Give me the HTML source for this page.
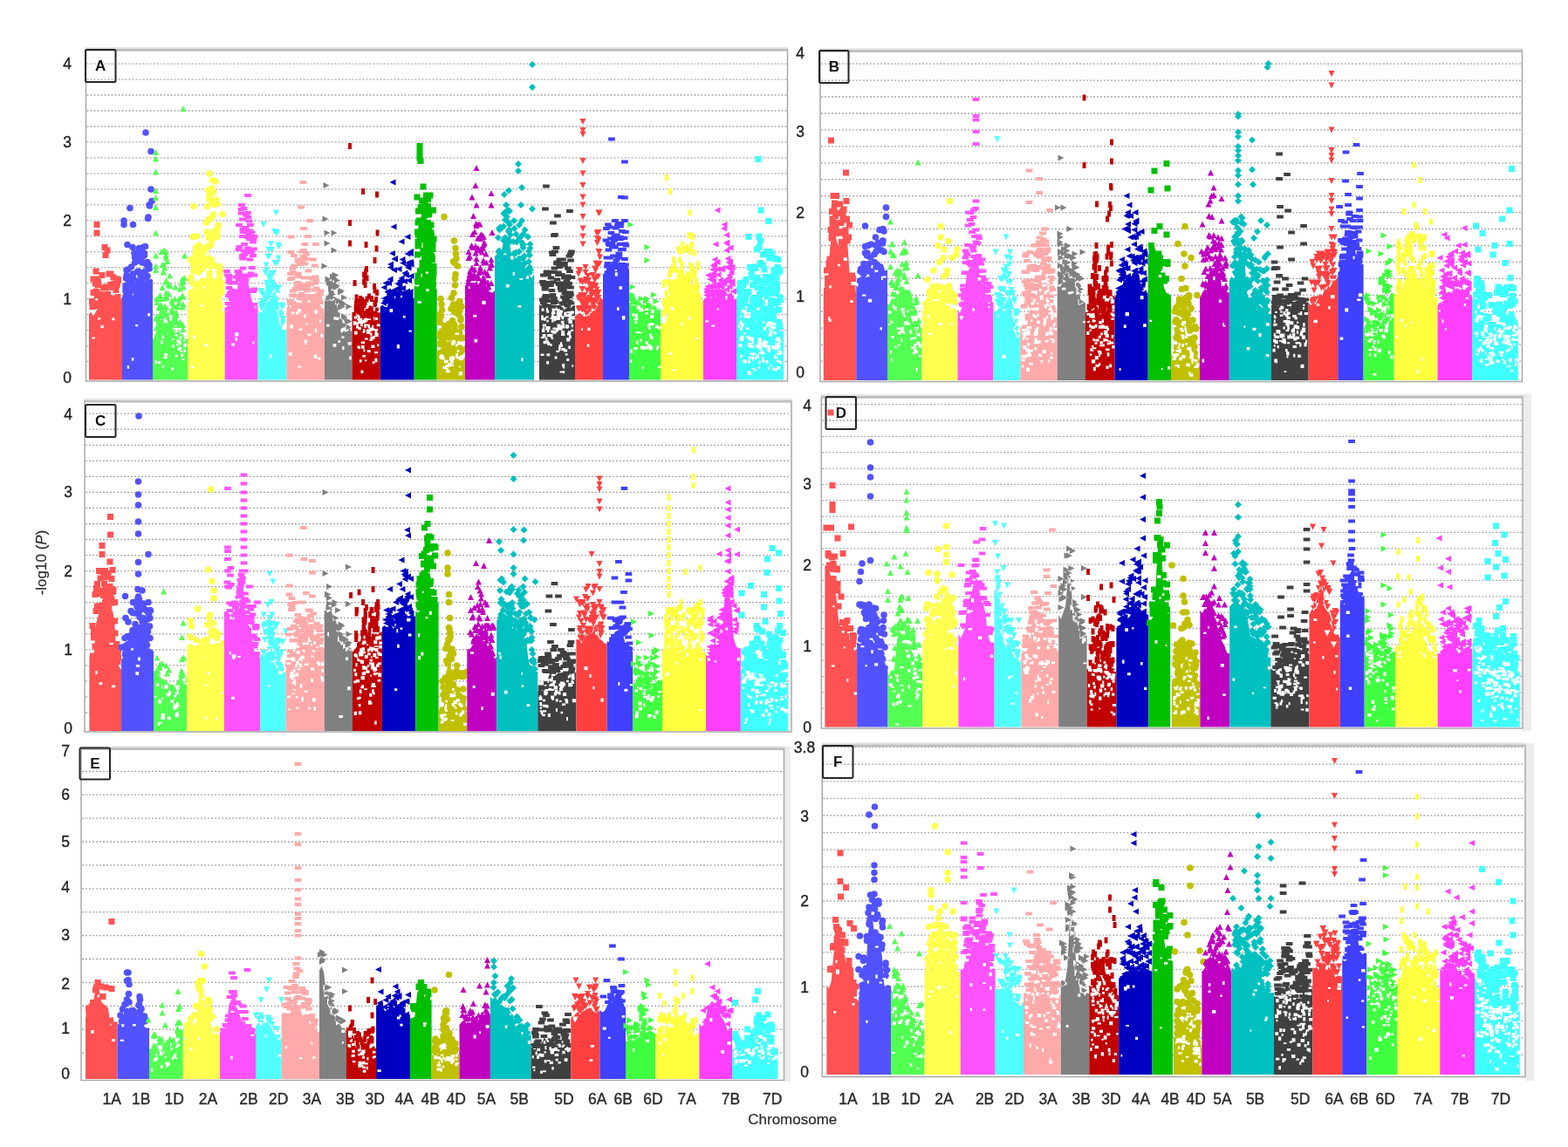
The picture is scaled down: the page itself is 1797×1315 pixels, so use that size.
<!DOCTYPE html>
<html><head><meta charset="utf-8"><title>Manhattan plots</title>
<style>
html,body{margin:0;padding:0;background:#fff;}
body{width:1797px;height:1315px;overflow:hidden;}
svg{display:block;}
.tk{font-family:"Liberation Sans",Arial,sans-serif;font-size:17.5px;fill:#222;stroke:#222;stroke-width:0.35px;text-anchor:middle;}
.bl{font-family:"Liberation Sans",Arial,sans-serif;font-size:17px;font-weight:bold;fill:#111;text-anchor:middle;}
.xl{font-family:"Liberation Sans",Arial,sans-serif;font-size:17.5px;fill:#2a2a2a;stroke:#2a2a2a;stroke-width:0.35px;text-anchor:middle;}
.ax{font-family:"Liberation Sans",Arial,sans-serif;font-size:17px;fill:#2a2a2a;stroke:#2a2a2a;stroke-width:0.2px;text-anchor:middle;}
</style></head><body>
<svg width="1797" height="1315" viewBox="0 0 1797 1315">
<rect x="98.5" y="57" width="804" height="380" fill="#fff"/>
<path d="M99.5 414.5H901.5M99.5 396.6H901.5M99.5 378.6H901.5M99.5 360.6H901.5M99.5 342.6H901.5M99.5 324.7H901.5M99.5 306.7H901.5M99.5 288.7H901.5M99.5 270.8H901.5M99.5 252.8H901.5M99.5 234.8H901.5M99.5 216.9H901.5M99.5 198.9H901.5M99.5 180.9H901.5M99.5 162.9H901.5M99.5 145H901.5M99.5 127H901.5M99.5 109H901.5M99.5 91.1H901.5M99.5 73.1H901.5" stroke="#a8a8a8" stroke-width="1.3" stroke-dasharray="2 2" fill="none"/>
<path d="M102 435.5L102 360.1L104.5 357.7L107.1 362.4L109.6 357.8L112.1 353.2L114.7 350.7L117.2 352.1L119.7 350L122.3 350.8L124.8 352.9L127.3 352.7L129.9 348.7L132.4 344.9L134.9 342L137.5 345.4L140 340.2L140 435.5ZM115 334.5h7v7h-7zM106.5 330.5h7v7h-7zM108 346h7v7h-7zM102.5 348h7v7h-7zM132 317.5h7v7h-7zM125 348h7v7h-7zM131 320.5h7v7h-7zM126 344.5h7v7h-7zM105 344.5h7v7h-7zM129.5 329h7v7h-7zM125 343.5h7v7h-7zM118 325.5h7v7h-7zM127.5 322h7v7h-7zM109 319.5h7v7h-7zM108.5 323h7v7h-7zM119 346h7v7h-7zM120 334h7v7h-7zM131.5 339h7v7h-7zM107 316.5h7v7h-7zM128 340h7v7h-7zM109 334.5h7v7h-7zM107 347h7v7h-7zM103.5 332h7v7h-7zM104.5 316.5h7v7h-7zM130.5 323h7v7h-7zM126 338.5h7v7h-7zM123 323h7v7h-7zM117 348h7v7h-7zM121.5 341.5h7v7h-7zM121 338h7v7h-7zM131.5 337h7v7h-7zM126 326h7v7h-7zM119.5 348.5h7v7h-7zM107 317.5h7v7h-7zM109 347h7v7h-7zM111 334h7v7h-7zM118 349.5h7v7h-7zM102 342h7v7h-7zM107.5 335h7v7h-7zM127 345.5h7v7h-7zM117.5 338.5h7v7h-7zM126.5 314.5h7v7h-7zM115 343.5h7v7h-7zM129 340.5h7v7h-7zM112 338.5h7v7h-7zM107.5 332h7v7h-7zM118 344h7v7h-7zM115 326.5h7v7h-7zM112 347.5h7v7h-7zM116.5 345h7v7h-7zM121.5 345.5h7v7h-7zM106 321.5h7v7h-7zM112 342h7v7h-7zM118.5 326.5h7v7h-7zM103.5 316.5h7v7h-7zM113.5 312h7v7h-7zM121.5 310.5h7v7h-7zM131.5 316.5h7v7h-7zM107.5 254h7v7h-7zM107.5 263.5h7v7h-7zM116.5 280h7v7h-7zM119.5 283.5h7v7h-7zM117.5 289h7v7h-7zM106.5 307.5h7v7h-7zM123.5 310.5h7v7h-7z" fill="#ff5252"/>
<path d="M115.4 372.8h3.3v3.5h-3.3zM105.3 386.5h3.7v1.9h-3.7zM128.4 364.3h2.9v3h-2.9zM112 364.1h3.1v2.5h-3.1z" fill="#fff"/>
<path d="M140 435.5L140 339.8L142.5 341.7L145 344.9L147.5 342.2L150 337.8L152.5 338.4L155 332.4L157.5 334.8L160 332L162.5 332.4L165 328.5L167.5 320.8L170 321.5L172.5 319.7L175 320.5L175 435.5Z" fill="#5252ff"/>
<path d="M152 283.5h0M144.5 340h0M146 318h0M150 317h0M144 341.5h0M158 295h0M153 319.5h0M144.5 341.5h0M147.5 337h0M159.5 322h0M171 304h0M167.5 319h0M158.5 311h0M162 320.5h0M158 296.5h0M147.5 325h0M160 299h0M148 329h0M144 327.5h0M168 303.5h0M166.5 282.5h0M144 333.5h0M145 337h0M166 326.5h0M159.5 333h0M146.5 309h0M146 339h0M170 303.5h0M149.5 334.5h0M157.5 333.5h0M149.5 329h0M164.5 327h0M160 327h0M171.5 236h0M169.5 250.5h0M159 287.5h0M161.5 330h0M164 291h0M144 340h0M165.5 292.5h0M159 331.5h0M151 327h0M171 308h0M154 290h0M162 313h0M161.5 296.5h0M169 316.5h0M144.5 319h0M169 300.5h0M154.5 291.5h0M155.5 332h0M150.5 324h0M159.5 329.5h0M164 283.5h0M154.5 301h0M161.5 300h0M161 315.5h0M163.5 331.5h0M170 249h0M163 327.5h0M161 333.5h0M154.5 326.5h0M159 326.5h0M146 318h0M150.5 306h0M144 330.5h0M165.5 290.5h0M152.5 331.5h0M160.5 324.5h0M151.5 328h0M154.5 291.5h0M154.5 295h0M164 294h0M159.5 284.5h0M157.5 311.5h0M162 290.5h0M163 289.5h0M148 329h0M163 301h0M166.5 311h0M152.5 314h0M154.5 332.5h0M154.5 295h0M145 315.5h0M152.5 257.5h0M162 288.5h0M171 235h0M167 152h0M173 173.5h0M173 217h0M174 230.5h0M149 238.5h0M142 253h0M142 257.5h0M146 280.5h0M145 309.5h0" stroke="#5252ff" stroke-width="7.6" stroke-linecap="round" fill="none"/>
<path d="M145.8 419.1h2.2v3.6h-2.2zM169.3 358.9h2.6v3.5h-2.6zM150.8 410.2h2.5v3.4h-2.5zM155.2 372.1h2.9v2.2h-2.9z" fill="#fff"/>
<path d="M175 435.5L175 389.2L177.5 386.8L180 388.7L182.5 382.6L185 364.8L187.5 358.8L190 349.4L192.5 356.1L195 370.7L197.5 379.9L200 381.5L202.5 386.6L205 384.6L207.5 387L210 387.5L212.5 389.5L215 388.1L215 435.5ZM189 348l3.5 7h-7zM184.5 373.5l3.5 7h-7zM202 354.5l3.5 7h-7zM203.5 348l3.5 7h-7zM182.5 377.5l3.5 7h-7zM200 379.5l3.5 7h-7zM189.5 319.5l3.5 7h-7zM200 359l3.5 7h-7zM210 319.5l3.5 7h-7zM188.5 338.5l3.5 7h-7zM179 381.5l3.5 7h-7zM193 322l3.5 7h-7zM186.5 354l3.5 7h-7zM201 355.5l3.5 7h-7zM195 367l3.5 7h-7zM185 365.5l3.5 7h-7zM206.5 327.5l3.5 7h-7zM180 343l3.5 7h-7zM208.5 336.5l3.5 7h-7zM186 300l3.5 7h-7zM205 379l3.5 7h-7zM179.5 372.5l3.5 7h-7zM197.5 375l3.5 7h-7zM210 345.5l3.5 7h-7zM195.5 354l3.5 7h-7zM182 348.5l3.5 7h-7zM203 380l3.5 7h-7zM205 369l3.5 7h-7zM209.5 369l3.5 7h-7zM185.5 352l3.5 7h-7zM189.5 348l3.5 7h-7zM184 358.5l3.5 7h-7zM196.5 353.5l3.5 7h-7zM183 377.5l3.5 7h-7zM183.5 335l3.5 7h-7zM183 349.5l3.5 7h-7zM197 351.5l3.5 7h-7zM209.5 374l3.5 7h-7zM201.5 363l3.5 7h-7zM190.5 332l3.5 7h-7zM185 356l3.5 7h-7zM209 348.5l3.5 7h-7zM184 339l3.5 7h-7zM184.5 346l3.5 7h-7zM198 344l3.5 7h-7zM192 296l3.5 7h-7zM202 366l3.5 7h-7zM182.5 371.5l3.5 7h-7zM183 358.5l3.5 7h-7zM205 343.5l3.5 7h-7zM199.5 366l3.5 7h-7zM187.5 308.5l3.5 7h-7zM200.5 356.5l3.5 7h-7zM197 341.5l3.5 7h-7zM198 369l3.5 7h-7zM191 337.5l3.5 7h-7zM188 300l3.5 7h-7zM202 358l3.5 7h-7zM193.5 333.5l3.5 7h-7zM182 363.5l3.5 7h-7zM198 365.5l3.5 7h-7zM195 324l3.5 7h-7zM208.5 382l3.5 7h-7zM209.5 335.5l3.5 7h-7zM205.5 338.5l3.5 7h-7zM185.5 354.5l3.5 7h-7zM199.5 347.5l3.5 7h-7zM182 380l3.5 7h-7zM210 325.5l3.5 7h-7zM187 308.5l3.5 7h-7zM188.5 303.5l3.5 7h-7zM179 361.5l3.5 7h-7zM186 326l3.5 7h-7zM179.5 359.5l3.5 7h-7zM182 365l3.5 7h-7zM181 370.5l3.5 7h-7zM183.5 366l3.5 7h-7zM194 323.5l3.5 7h-7zM199.5 362l3.5 7h-7zM206.5 365.5l3.5 7h-7zM183.5 348.5l3.5 7h-7zM190.5 292l3.5 7h-7zM191.5 350.5l3.5 7h-7zM190 289l3.5 7h-7zM194.5 312.5l3.5 7h-7zM190.5 318.5l3.5 7h-7zM181 377l3.5 7h-7zM182 367l3.5 7h-7zM179.5 339l3.5 7h-7zM190 285l3.5 7h-7zM200.5 339l3.5 7h-7zM209 316.5l3.5 7h-7zM178.5 171l3.5 7h-7zM178.5 178.5l3.5 7h-7zM178.5 193.5l3.5 7h-7zM178.5 215l3.5 7h-7zM178.5 223l3.5 7h-7zM178.5 234l3.5 7h-7zM178.5 263.5l3.5 7h-7zM178.5 289.5l3.5 7h-7zM178.5 301.5l3.5 7h-7zM178.5 306l3.5 7h-7zM185 285l3.5 7h-7zM188 283.5l3.5 7h-7zM211.5 289.5l3.5 7h-7zM211.5 315l3.5 7h-7zM210 121l3.5 7h-7zM201 325.5l3.5 7h-7zM208 321l3.5 7h-7z" fill="#52ff52"/>
<path d="M185.7 419h2.1v2.8h-2.1zM208.4 411.1h2.9v1.8h-2.9zM197.2 395.4h2.7v2.9h-2.7zM185.8 384.5h2.3v3.7h-2.3zM209.6 389.4h2.8v1.8h-2.8zM203.7 398.3h3.3v3.6h-3.3zM205.2 398.1h3v2.2h-3zM177.5 412.5h2.2v4.3h-2.2zM196.4 421.4h2.7v2.9h-2.7zM206 401.6h3.3v2.5h-3.3zM187.6 408.2h3.9v3.1h-3.9zM202.3 394.6h2v2.5h-2zM187.5 364.8h2.7v4.4h-2.7zM204.7 391.7h3.2v3.7h-3.2zM188.2 404.9h4.1v3h-4.1zM210.5 393.5h3.4v3h-3.4zM200.7 406.5h2.8v2.7h-2.8zM205.5 387.4h2.1v1.9h-2.1zM188.7 366.8h3v3.9h-3zM210.9 395.1h3.6v2.2h-3.6zM197.1 387.9h2.3v1.9h-2.3zM200.4 383.3h3.5v2.3h-3.5zM207.3 405.3h2.7v4h-2.7zM204.6 385.8h4.2v1.8h-4.2zM184.2 390.1h2.4v4.1h-2.4zM202.5 389.5h4.3v3.7h-4.3zM210.7 400.6h2.2v3.2h-2.2zM210.2 396.4h2.7v2.1h-2.7zM180.8 414.3h3.7v2.7h-3.7zM191.6 355.6h2.7v3.6h-2.7z" fill="#fff"/>
<path d="M215 435.5L215 350.7L217.5 350.9L220 350.6L222.5 348L225 345.1L227.6 347.3L230.1 344L232.6 340.4L235.1 335L237.6 302.1L240.1 288.3L242.6 300.2L245.1 335.8L247.7 343.4L250.2 346.6L252.7 356L255.2 357.6L257.7 354.7L257.7 435.5Z" fill="#ffff4f"/>
<path d="M247.5 233h0M249.5 262h0M242 297.5h0M231.5 308.5h0M227 345h0M239.5 228h0M254 335.5h0M234.5 334.5h0M243 216h0M237 266h0M222 338h0M239.5 224.5h0M230 298h0M239.5 251.5h0M225.5 301h0M223.5 326.5h0M250 258h0M252 349h0M251 331.5h0M224.5 284h0M252.5 309.5h0M231.5 336h0M251.5 319.5h0M251.5 318.5h0M253.5 332.5h0M248 229h0M234 287h0M233.5 288h0M238 253h0M219 339.5h0M228.5 346h0M229.5 335h0M222.5 338h0M249 331.5h0M243.5 206.5h0M219 318h0M223.5 341.5h0M229.5 290.5h0M250 342h0M246.5 337h0M231.5 286.5h0M250 341h0M238.5 268.5h0M242.5 220h0M238.5 218h0M250.5 338.5h0M220.5 345h0M236.5 255.5h0M249 269h0M242 250h0M242 270.5h0M242 222.5h0M249 271.5h0M242.5 298.5h0M230 324h0M229.5 337.5h0M232 300h0M228 281h0M218.5 335.5h0M244.5 246h0M219 349h0M221 324.5h0M222 334h0M228.5 343h0M232 325.5h0M239 272.5h0M221 338.5h0M243.5 304h0M237 301h0M249.5 333.5h0M237.5 296.5h0M238 236.5h0M251 311.5h0M250.5 346.5h0M247.5 341h0M249.5 233.5h0M244 268h0M244.5 328h0M249.5 341.5h0M227 335h0M243 275.5h0M232.5 322h0M245.5 234.5h0M248.5 324h0M220.5 349h0M222.5 301.5h0M221.5 310.5h0M218.5 320h0M227.5 307h0M245.5 265h0M221 350.5h0M232 295h0M235 323h0M235.5 284.5h0M226 343h0M251.5 336h0M234.5 324h0M227 287h0M247 323h0M244.5 220h0M233.5 285.5h0M221.5 303.5h0M249 327.5h0M228.5 334.5h0M223.5 294.5h0M243.5 231h0M241.5 281h0M221.5 341.5h0M246.5 340.5h0M237.5 282.5h0M229 330.5h0M239.5 282.5h0M224 289h0M245.5 304.5h0M227.5 312h0M252 316h0M234.5 304.5h0M231.5 308h0M237 301.5h0M242.5 218.5h0M236 324h0M229.5 338h0M248.5 265h0M229 332.5h0M223 325.5h0M253.5 329h0M252 352h0M251.5 305.5h0M218.5 297.5h0M225.5 271h0M233 288.5h0M240 199h0M247 208h0M254 324.5h0M222 236.5h0M255 245.5h0M221 271.5h0" stroke="#ffff4f" stroke-width="7.6" stroke-linecap="round" fill="none"/>
<path d="M229.3 349h3.4v2.7h-3.4zM219.2 419.4h3.7v2.6h-3.7zM221.1 384.4h3v4.1h-3zM234.4 394h4v3.6h-4zM237.1 307.5h2.9v2.8h-2.9z" fill="#fff"/>
<path d="M257.7 435.5L257.7 353.5L260.2 357.3L262.7 356.4L265.3 355.7L267.8 349.1L270.3 347.5L272.8 326.1L275.3 318.8L277.9 313.9L280.4 323.9L282.9 321L285.4 328.2L287.9 342.4L290.5 348.5L293 353.7L295.5 349.9L295.5 435.5ZM265.6 334.6h7.7v3.9h-7.7zM274.1 269.1h7.7v3.9h-7.7zM260.1 333.6h7.7v3.9h-7.7zM277.6 319.1h7.7v3.9h-7.7zM287.1 283.6h7.7v3.9h-7.7zM281.6 268.1h7.7v3.9h-7.7zM272.6 242.6h7.7v3.9h-7.7zM262.1 331.1h7.7v3.9h-7.7zM287.6 347.1h7.7v3.9h-7.7zM277.1 242.6h7.7v3.9h-7.7zM261.6 337.6h7.7v3.9h-7.7zM285.1 331.1h7.7v3.9h-7.7zM263.6 332.6h7.7v3.9h-7.7zM281.6 251.6h7.7v3.9h-7.7zM277.6 319.6h7.7v3.9h-7.7zM282.6 313.6h7.7v3.9h-7.7zM274.6 264.1h7.7v3.9h-7.7zM287.6 313.6h7.7v3.9h-7.7zM261.6 339.1h7.7v3.9h-7.7zM274.6 260.6h7.7v3.9h-7.7zM263.1 337.6h7.7v3.9h-7.7zM258.6 315.6h7.7v3.9h-7.7zM258.1 337.1h7.7v3.9h-7.7zM262.6 345.6h7.7v3.9h-7.7zM269.6 312.6h7.7v3.9h-7.7zM265.1 343.6h7.7v3.9h-7.7zM272.6 238.1h7.7v3.9h-7.7zM263.6 347.6h7.7v3.9h-7.7zM258.6 319.1h7.7v3.9h-7.7zM281.6 263.1h7.7v3.9h-7.7zM262.1 341.1h7.7v3.9h-7.7zM278.1 287.6h7.7v3.9h-7.7zM280.1 314.1h7.7v3.9h-7.7zM285.1 305.1h7.7v3.9h-7.7zM276.1 278.1h7.7v3.9h-7.7zM271.1 318.6h7.7v3.9h-7.7zM262.1 340.1h7.7v3.9h-7.7zM259.6 335.1h7.7v3.9h-7.7zM263.1 333.1h7.7v3.9h-7.7zM269.6 284.1h7.7v3.9h-7.7zM265.6 347.6h7.7v3.9h-7.7zM277.6 259.1h7.7v3.9h-7.7zM263.6 350.1h7.7v3.9h-7.7zM284.1 287.1h7.7v3.9h-7.7zM281.1 266.1h7.7v3.9h-7.7zM270.1 256.1h7.7v3.9h-7.7zM282.1 272.1h7.7v3.9h-7.7zM286.1 275.6h7.7v3.9h-7.7zM274.6 313.6h7.7v3.9h-7.7zM275.6 285.6h7.7v3.9h-7.7zM257.6 346.1h7.7v3.9h-7.7zM282.6 285.6h7.7v3.9h-7.7zM286.1 291.1h7.7v3.9h-7.7zM263.1 332.1h7.7v3.9h-7.7zM258.6 321.6h7.7v3.9h-7.7zM266.6 315.6h7.7v3.9h-7.7zM258.6 328.1h7.7v3.9h-7.7zM260.6 322.6h7.7v3.9h-7.7zM282.6 295.6h7.7v3.9h-7.7zM274.6 305.6h7.7v3.9h-7.7zM268.6 337.1h7.7v3.9h-7.7zM269.6 319.1h7.7v3.9h-7.7zM276.6 290.1h7.7v3.9h-7.7zM268.1 331.6h7.7v3.9h-7.7zM286.6 272.1h7.7v3.9h-7.7zM287.6 329.6h7.7v3.9h-7.7zM259.6 350.6h7.7v3.9h-7.7zM283.6 311.6h7.7v3.9h-7.7zM261.6 322.1h7.7v3.9h-7.7zM264.1 337.6h7.7v3.9h-7.7zM270.1 317.1h7.7v3.9h-7.7zM268.6 309.1h7.7v3.9h-7.7zM274.1 249.6h7.7v3.9h-7.7zM257.6 352.6h7.7v3.9h-7.7zM270.6 281.1h7.7v3.9h-7.7zM270.1 310.1h7.7v3.9h-7.7zM282.6 262.6h7.7v3.9h-7.7zM277.1 316.1h7.7v3.9h-7.7zM280.1 282.6h7.7v3.9h-7.7zM280.1 270.1h7.7v3.9h-7.7zM274.6 294.1h7.7v3.9h-7.7zM283.1 256.1h7.7v3.9h-7.7zM286.6 332.1h7.7v3.9h-7.7zM263.6 347.6h7.7v3.9h-7.7zM278.1 244.6h7.7v3.9h-7.7zM264.6 341.1h7.7v3.9h-7.7zM274.1 291.1h7.7v3.9h-7.7zM274.1 294.6h7.7v3.9h-7.7zM275.6 237.1h7.7v3.9h-7.7zM280.6 247.1h7.7v3.9h-7.7zM270.1 315.6h7.7v3.9h-7.7zM263.6 346.6h7.7v3.9h-7.7zM281.1 314.6h7.7v3.9h-7.7zM274.6 242.6h7.7v3.9h-7.7zM270.1 311.1h7.7v3.9h-7.7zM284.6 264.6h7.7v3.9h-7.7zM257.1 313.6h7.7v3.9h-7.7zM265.1 322.6h7.7v3.9h-7.7zM273.1 233.1h7.7v3.9h-7.7zM280.1 242.1h7.7v3.9h-7.7zM287.6 269.1h7.7v3.9h-7.7zM280.1 222.1h7.7v3.9h-7.7zM258.1 313.6h7.7v3.9h-7.7zM256.1 309.1h7.7v3.9h-7.7z" fill="#ff52ff"/>
<path d="M265.2 393.4h3.9v3h-3.9zM269.2 380.9h4.2v4.5h-4.2zM269.5 387.1h2.5v3.9h-2.5zM289.4 391.6h2.1v2.7h-2.1z" fill="#fff"/>
<path d="M295.5 435.5L295.5 358.1L298 358.2L300.6 357.9L303.1 352.2L305.7 342.1L308.2 339.7L310.7 342.6L313.3 334.8L315.8 331.9L318.3 339.6L320.9 364.8L323.4 378L326 378.2L328.5 378.6L328.5 435.5ZM312.5 327.5l3.5 -7h-7zM323.5 353.5l3.5 -7h-7zM317.5 305l3.5 -7h-7zM318 340.5l3.5 -7h-7zM308.5 297.5l3.5 -7h-7zM319.5 333.5l3.5 -7h-7zM309 341.5l3.5 -7h-7zM299 338.5l3.5 -7h-7zM304 316l3.5 -7h-7zM303.5 345l3.5 -7h-7zM313 331.5l3.5 -7h-7zM306.5 344.5l3.5 -7h-7zM299 354l3.5 -7h-7zM321 365.5l3.5 -7h-7zM310.5 327.5l3.5 -7h-7zM312.5 330.5l3.5 -7h-7zM300 354l3.5 -7h-7zM324.5 369.5l3.5 -7h-7zM311 333l3.5 -7h-7zM317.5 336.5l3.5 -7h-7zM315 305l3.5 -7h-7zM301 349l3.5 -7h-7zM308 346l3.5 -7h-7zM310.5 337.5l3.5 -7h-7zM302 341l3.5 -7h-7zM313.5 316.5l3.5 -7h-7zM317.5 271l3.5 -7h-7zM308.5 322l3.5 -7h-7zM322 369l3.5 -7h-7zM310.5 321l3.5 -7h-7zM308.5 320l3.5 -7h-7zM319.5 286.5l3.5 -7h-7zM309.5 334.5l3.5 -7h-7zM319 299.5l3.5 -7h-7zM306 331l3.5 -7h-7zM305.5 328l3.5 -7h-7zM304.5 348.5l3.5 -7h-7zM306 346.5l3.5 -7h-7zM307 336l3.5 -7h-7zM307 297.5l3.5 -7h-7zM319 334.5l3.5 -7h-7zM322.5 363.5l3.5 -7h-7zM299.5 352l3.5 -7h-7zM301 354l3.5 -7h-7zM324 369l3.5 -7h-7zM324.5 373.5l3.5 -7h-7zM307.5 339l3.5 -7h-7zM305.5 313.5l3.5 -7h-7zM314.5 269l3.5 -7h-7zM311.5 290l3.5 -7h-7zM322.5 374.5l3.5 -7h-7zM316.5 335.5l3.5 -7h-7zM308 342.5l3.5 -7h-7zM315.5 333l3.5 -7h-7zM301.5 340.5l3.5 -7h-7zM316.5 269.5l3.5 -7h-7zM322.5 354.5l3.5 -7h-7zM320.5 362l3.5 -7h-7zM311 317l3.5 -7h-7zM309.5 325l3.5 -7h-7zM311.5 318l3.5 -7h-7zM300 357.5l3.5 -7h-7zM319 284.5l3.5 -7h-7zM304.5 347.5l3.5 -7h-7zM305 307.5l3.5 -7h-7zM310.5 283l3.5 -7h-7zM299.5 337l3.5 -7h-7zM307.5 289.5l3.5 -7h-7zM316.5 247.5l3.5 -7h-7zM324 355l3.5 -7h-7zM302 261l3.5 -7h-7z" fill="#52ffff"/>
<path d="M316.7 335.7h3.8v4h-3.8zM308.8 406.5h2.4v4.1h-2.4zM319.4 363.8h2.3v3.1h-2.3z" fill="#fff"/>
<path d="M328.5 435.5L328.5 353.5L331.1 349.3L333.6 354.1L336.2 349.1L338.7 353L341.3 348.7L343.9 352.3L346.4 343.9L349 343.8L351.5 340.7L354.1 346L356.6 353.2L359.2 350.6L361.8 355.4L364.3 356.5L366.9 357.4L369.4 361.6L372 359.2L372 435.5ZM330.6 345.1h7.7v3.9h-7.7zM339.6 326.6h7.7v3.9h-7.7zM337.1 346.6h7.7v3.9h-7.7zM332.1 331.6h7.7v3.9h-7.7zM330.6 317.1h7.7v3.9h-7.7zM329.1 318.1h7.7v3.9h-7.7zM339.6 348.1h7.7v3.9h-7.7zM329.1 312.1h7.7v3.9h-7.7zM354.1 344.1h7.7v3.9h-7.7zM349.1 340.6h7.7v3.9h-7.7zM345.1 294.6h7.7v3.9h-7.7zM335.1 329.6h7.7v3.9h-7.7zM361.1 352.1h7.7v3.9h-7.7zM356.6 349.1h7.7v3.9h-7.7zM338.1 311.6h7.7v3.9h-7.7zM359.6 350.1h7.7v3.9h-7.7zM343.1 329.6h7.7v3.9h-7.7zM335.1 337.6h7.7v3.9h-7.7zM358.6 330.6h7.7v3.9h-7.7zM359.1 330.6h7.7v3.9h-7.7zM352.6 324.1h7.7v3.9h-7.7zM335.6 328.6h7.7v3.9h-7.7zM340.6 340.6h7.7v3.9h-7.7zM339.6 299.6h7.7v3.9h-7.7zM363.1 331.6h7.7v3.9h-7.7zM348.1 331.6h7.7v3.9h-7.7zM341.6 337.1h7.7v3.9h-7.7zM363.1 335.6h7.7v3.9h-7.7zM356.6 330.6h7.7v3.9h-7.7zM345.6 300.6h7.7v3.9h-7.7zM360.6 336.1h7.7v3.9h-7.7zM362.6 343.6h7.7v3.9h-7.7zM358.6 328.6h7.7v3.9h-7.7zM348.1 295.1h7.7v3.9h-7.7zM344.6 293.1h7.7v3.9h-7.7zM337.6 297.6h7.7v3.9h-7.7zM354.6 344.1h7.7v3.9h-7.7zM353.1 338.6h7.7v3.9h-7.7zM331.6 345.1h7.7v3.9h-7.7zM344.1 285.1h7.7v3.9h-7.7zM336.6 326.1h7.7v3.9h-7.7zM344.1 337.1h7.7v3.9h-7.7zM353.6 338.6h7.7v3.9h-7.7zM329.6 287.1h7.7v3.9h-7.7zM356.1 349.6h7.7v3.9h-7.7zM344.6 329.1h7.7v3.9h-7.7zM352.1 337.1h7.7v3.9h-7.7zM353.6 348.1h7.7v3.9h-7.7zM361.1 340.1h7.7v3.9h-7.7zM342.6 297.1h7.7v3.9h-7.7zM355.1 339.1h7.7v3.9h-7.7zM331.6 309.6h7.7v3.9h-7.7zM343.6 292.1h7.7v3.9h-7.7zM333.6 302.6h7.7v3.9h-7.7zM359.1 347.1h7.7v3.9h-7.7zM337.6 322.1h7.7v3.9h-7.7zM338.6 329.6h7.7v3.9h-7.7zM347.6 324.6h7.7v3.9h-7.7zM332.6 337.1h7.7v3.9h-7.7zM357.6 315.6h7.7v3.9h-7.7zM331.6 305.1h7.7v3.9h-7.7zM360.1 339.6h7.7v3.9h-7.7zM363.1 345.1h7.7v3.9h-7.7zM345.1 324.1h7.7v3.9h-7.7zM349.6 308.6h7.7v3.9h-7.7zM364.1 356.6h7.7v3.9h-7.7zM340.1 301.1h7.7v3.9h-7.7zM353.1 338.1h7.7v3.9h-7.7zM348.6 341.1h7.7v3.9h-7.7zM333.6 349.1h7.7v3.9h-7.7zM359.1 349.1h7.7v3.9h-7.7zM341.6 335.1h7.7v3.9h-7.7zM353.6 347.6h7.7v3.9h-7.7zM328.6 343.1h7.7v3.9h-7.7zM348.6 328.1h7.7v3.9h-7.7zM331.1 336.6h7.7v3.9h-7.7zM337.6 315.1h7.7v3.9h-7.7zM354.1 349.1h7.7v3.9h-7.7zM358.6 350.1h7.7v3.9h-7.7zM342.6 324.6h7.7v3.9h-7.7zM329.1 346.1h7.7v3.9h-7.7zM355.1 318.1h7.7v3.9h-7.7zM357.1 302.6h7.7v3.9h-7.7zM360.6 350.6h7.7v3.9h-7.7zM352.1 316.6h7.7v3.9h-7.7zM336.6 311.6h7.7v3.9h-7.7zM361.1 342.1h7.7v3.9h-7.7zM356.6 342.1h7.7v3.9h-7.7zM359.1 342.1h7.7v3.9h-7.7zM339.1 324.1h7.7v3.9h-7.7zM350.6 322.6h7.7v3.9h-7.7zM358.6 319.6h7.7v3.9h-7.7zM347.1 289.1h7.7v3.9h-7.7zM342.6 326.6h7.7v3.9h-7.7zM364.1 353.6h7.7v3.9h-7.7zM333.1 291.1h7.7v3.9h-7.7zM353.1 337.6h7.7v3.9h-7.7zM357.6 322.6h7.7v3.9h-7.7zM344.6 316.6h7.7v3.9h-7.7zM329.6 269.6h7.7v3.9h-7.7zM337.6 295.6h7.7v3.9h-7.7zM345.6 278.1h7.7v3.9h-7.7zM355.1 295.6h7.7v3.9h-7.7zM363.6 331.6h7.7v3.9h-7.7zM343.6 207.1h7.7v3.9h-7.7zM341.1 235.6h7.7v3.9h-7.7zM351.1 251.1h7.7v3.9h-7.7zM344.1 260.1h7.7v3.9h-7.7zM349.1 269.1h7.7v3.9h-7.7zM358.1 278.1h7.7v3.9h-7.7zM342.1 286.6h7.7v3.9h-7.7z" fill="#ffaaaa"/>
<path d="M367.4 382.8h2.9v3.9h-2.9zM359.7 406.7h3.6v4.3h-3.6zM352.4 382.8h4.3v2h-4.3zM348.8 389.6h3.3v2.9h-3.3zM364.3 409.8h3.1v2.6h-3.1zM333.8 357.6h3.6v2.7h-3.6zM350.5 370h2v2.7h-2zM330.8 403.9h4.1v3.9h-4.1zM341.2 419.4h4.2v2h-4.2zM339.1 357.4h3.4v3h-3.4zM360.3 355.5h3.4v4.3h-3.4zM332.2 372.3h3.7v4.1h-3.7zM348.3 360.6h2.6v3.8h-2.6zM352.4 344.4h3.2v2.3h-3.2zM360.8 376.8h2.2v4.4h-2.2zM349.1 392.6h2.3v2.5h-2.3zM366.1 366.2h1.9v3.7h-1.9zM342.5 376.4h3.8v2.6h-3.8zM341 354.2h3.9v4h-3.9z" fill="#fff"/>
<path d="M372 435.5L372 344.1L374.6 345.4L377.2 344.2L379.9 344.1L382.5 341.4L385.1 345.7L387.8 357.9L390.4 359.2L393 363.7L395.6 371.3L398.2 376.6L400.9 378.8L403.5 380L403.5 435.5ZM385 317l-7 -3.5v7zM391 346l-7 -3.5v7zM399.5 367.5l-7 -3.5v7zM402.5 377.5l-7 -3.5v7zM397.5 348.5l-7 -3.5v7zM396.5 362l-7 -3.5v7zM391.5 345l-7 -3.5v7zM386.5 342l-7 -3.5v7zM394 352.5l-7 -3.5v7zM403 375l-7 -3.5v7zM388.5 329.5l-7 -3.5v7zM382.5 341l-7 -3.5v7zM381 324.5l-7 -3.5v7zM398.5 363.5l-7 -3.5v7zM386 328l-7 -3.5v7zM380.5 342l-7 -3.5v7zM383.5 324.5l-7 -3.5v7zM385 325l-7 -3.5v7zM383 330l-7 -3.5v7zM395.5 346.5l-7 -3.5v7zM383.5 334.5l-7 -3.5v7zM385 337.5l-7 -3.5v7zM387 319l-7 -3.5v7zM383.5 335.5l-7 -3.5v7zM398 364l-7 -3.5v7zM398 341l-7 -3.5v7zM394 335l-7 -3.5v7zM390 327.5l-7 -3.5v7zM403.5 368.5l-7 -3.5v7zM390 321.5l-7 -3.5v7zM396 351.5l-7 -3.5v7zM388.5 327.5l-7 -3.5v7zM403 368l-7 -3.5v7zM379.5 320l-7 -3.5v7zM387.5 315.5l-7 -3.5v7zM395 333.5l-7 -3.5v7zM403.5 351.5l-7 -3.5v7zM377.5 212.5l-7 -3.5v7zM376.5 251l-7 -3.5v7zM378.5 267l-7 -3.5v7zM386.5 267l-7 -3.5v7zM378.5 279l-7 -3.5v7zM386.5 287l-7 -3.5v7zM375.5 305l-7 -3.5v7zM388.5 315.5l-7 -3.5v7z" fill="#808080"/>
<path d="M392.9 375.6h3.7v4h-3.7zM384.9 363.8h2.5v3.3h-2.5zM390.9 376.2h2.3v2.6h-2.3zM374.1 371.7h3.4v2.8h-3.4zM391.4 385.5h3.1v2.3h-3.1zM387.6 390h2.4v3h-2.4zM390.5 378h2.4v3.3h-2.4zM392.3 397.1h2.1v4.1h-2.1zM382.4 363.2h3.1v3.2h-3.1zM381.6 394.1h3.7v3.6h-3.7zM398.7 392.3h4.1v3.2h-4.1zM400.2 408.4h2.6v3.9h-2.6zM384.6 363.9h4.2v2.4h-4.2z" fill="#fff"/>
<path d="M403.5 435.5L403.5 358L406.2 357.7L408.9 362.2L411.6 367.1L414.3 363.1L417 361.8L419.6 360.2L422.3 362.8L425 370.6L427.7 369.9L430.4 359.3L433.1 356L435.8 358.6L435.8 435.5ZM412.6 350h3.9v7h-3.9zM421.6 359h3.9v7h-3.9zM424.1 359h3.9v7h-3.9zM406.6 337.5h3.9v7h-3.9zM427.6 295h3.9v7h-3.9zM430.1 352.5h3.9v7h-3.9zM429.6 281.5h3.9v7h-3.9zM427.6 356.5h3.9v7h-3.9zM422.1 360.5h3.9v7h-3.9zM428.1 344h3.9v7h-3.9zM406.6 342h3.9v7h-3.9zM422.6 350.5h3.9v7h-3.9zM415.6 356.5h3.9v7h-3.9zM423.6 365.5h3.9v7h-3.9zM419.6 356h3.9v7h-3.9zM416.6 323h3.9v7h-3.9zM411.1 346.5h3.9v7h-3.9zM411.6 342h3.9v7h-3.9zM415.1 319.5h3.9v7h-3.9zM416.6 343h3.9v7h-3.9zM407.6 342h3.9v7h-3.9zM406.6 346h3.9v7h-3.9zM415.6 346h3.9v7h-3.9zM411.6 353h3.9v7h-3.9zM427.6 329.5h3.9v7h-3.9zM413.1 346h3.9v7h-3.9zM421.1 336.5h3.9v7h-3.9zM421.1 358.5h3.9v7h-3.9zM408.6 342h3.9v7h-3.9zM411.6 350h3.9v7h-3.9zM406.6 342h3.9v7h-3.9zM412.6 361h3.9v7h-3.9zM405.6 352.5h3.9v7h-3.9zM418.1 305h3.9v7h-3.9zM406.1 344h3.9v7h-3.9zM413.6 343.5h3.9v7h-3.9zM422.6 364h3.9v7h-3.9zM411.6 343h3.9v7h-3.9zM422.1 361h3.9v7h-3.9zM418.6 339.5h3.9v7h-3.9zM409.1 353.5h3.9v7h-3.9zM418.6 315.5h3.9v7h-3.9zM427.6 345h3.9v7h-3.9zM430.1 332h3.9v7h-3.9zM421.6 353h3.9v7h-3.9zM416.6 314.5h3.9v7h-3.9zM424.1 365h3.9v7h-3.9zM405.6 349.5h3.9v7h-3.9zM413.1 350.5h3.9v7h-3.9zM429.1 340h3.9v7h-3.9zM411.1 354.5h3.9v7h-3.9zM413.6 351h3.9v7h-3.9zM418.6 354h3.9v7h-3.9zM424.1 352h3.9v7h-3.9zM424.1 357.5h3.9v7h-3.9zM409.6 344.5h3.9v7h-3.9zM427.1 325h3.9v7h-3.9zM423.6 363.5h3.9v7h-3.9zM412.6 344h3.9v7h-3.9zM406.1 352h3.9v7h-3.9zM415.1 311.5h3.9v7h-3.9zM405.6 352h3.9v7h-3.9zM421.1 363.5h3.9v7h-3.9zM413.1 340.5h3.9v7h-3.9zM417.1 308h3.9v7h-3.9zM411.1 347.5h3.9v7h-3.9zM409.1 347.5h3.9v7h-3.9zM404.6 321h3.9v7h-3.9zM411.1 339h3.9v7h-3.9zM417.6 277h3.9v7h-3.9zM424.1 339h3.9v7h-3.9zM430.6 263.5h3.9v7h-3.9zM399.1 164h3.9v7h-3.9zM399.1 252h3.9v7h-3.9zM399.1 275.5h3.9v7h-3.9zM414.1 216h3.9v7h-3.9zM430.1 219.5h3.9v7h-3.9z" fill="#c00000"/>
<path d="M426.8 414.2h2.6v2.7h-2.6zM429.5 410.7h2.9v4.5h-2.9zM407.1 362.2h2v3.3h-2zM417.2 372.8h2.6v3.1h-2.6zM429 403.1h4.2v2.1h-4.2zM409.4 396.4h3.3v2.6h-3.3zM417.8 412.5h2.6v1.8h-2.6zM408 373.4h3.3v3h-3.3zM405.2 369h2.1v3.7h-2.1zM416 368h2.1v2.7h-2.1zM405.7 362.7h3.5v2.7h-3.5zM409.1 365.2h2.8v2.1h-2.8zM417.8 387.4h4v2h-4zM426.2 372.8h2v3.6h-2zM425 376.2h4.1v3.1h-4.1zM422.8 378h3v2.2h-3zM419.9 378.8h2.7v3.8h-2.7zM429.6 378.9h2.8v3.2h-2.8zM425.4 395.5h4v3.6h-4zM424.4 381.6h2v3.5h-2zM429 377h4.1v2.2h-4.1zM417.4 371.4h4.4v2h-4.4zM410.3 396.5h2.5v3.5h-2.5zM416.1 366.3h3.6v3.7h-3.6zM430.1 363.9h1.9v2.9h-1.9zM422.9 375.8h4.2v2.4h-4.2zM418.5 364.4h2.3v1.9h-2.3zM416.5 400.3h1.9v2.9h-1.9zM422.5 375.5h4.1v2.6h-4.1zM412.3 367.8h1.9v3.4h-1.9zM408.4 369.6h2.1v4.1h-2.1zM412.7 367.1h3.5v3.9h-3.5zM410.2 375.1h3.6v2.9h-3.6zM420.2 378.5h4.1v4.5h-4.1zM427.7 385.1h2.1v3.5h-2.1zM432 394.6h2.2v2.3h-2.2zM407 379.4h2.3v4.2h-2.3zM429.7 364.1h3.2v3h-3.2zM423.4 389.1h3.3v2h-3.3zM420 377.4h2.4v2.3h-2.4zM416.9 365h4.5v3.7h-4.5zM413.8 391.5h4.3v2.5h-4.3zM421.4 371.7h2.6v4.3h-2.6zM411.6 364.7h3.7v3.2h-3.7zM420.8 365.2h4.1v1.9h-4.1zM413.5 424.4h2.9v3.7h-2.9zM415.5 379.7h2.2v2.4h-2.2zM413.9 395.9h3.7v3.9h-3.7zM413.2 370.3h2.7v4h-2.7zM424.4 385.4h3.9v3.9h-3.9zM410.7 367.3h2.7v2h-2.7zM432.6 356.4h3.6v1.9h-3.6zM404.8 368.2h3.7v4.1h-3.7zM431.7 371.5h4v2.8h-4zM416 377.3h2.6v3.6h-2.6zM429.5 382h4.2v3.9h-4.2zM411.9 412.2h2.7v3.4h-2.7zM421 401.3h3.7v2.7h-3.7zM415.4 406.9h3.7v2.5h-3.7zM410.2 367.2h2.7v4h-2.7zM406.1 379.7h3.5v3.7h-3.5z" fill="#fff"/>
<path d="M435.8 435.5L435.8 351.4L438.4 349.7L441 351.7L443.6 352.3L446.2 343.8L448.8 343L451.4 343.6L454 341.8L456.5 343.5L459.1 342.2L461.7 340.6L464.3 342.5L466.9 340L469.5 340.1L472.1 342.2L474.7 341.7L474.7 435.5ZM437.5 345l7 -3.5v7zM455 322l7 -3.5v7zM455.5 321.5l7 -3.5v7zM466.5 336l7 -3.5v7zM452 341.5l7 -3.5v7zM460 322.5l7 -3.5v7zM466.5 340l7 -3.5v7zM453 335.5l7 -3.5v7zM449 296.5l7 -3.5v7zM443 342l7 -3.5v7zM448.5 334.5l7 -3.5v7zM460.5 313.5l7 -3.5v7zM444 306.5l7 -3.5v7zM443.5 343.5l7 -3.5v7zM441 334l7 -3.5v7zM460.5 313l7 -3.5v7zM441 340.5l7 -3.5v7zM462 315.5l7 -3.5v7zM460.5 339.5l7 -3.5v7zM461.5 338.5l7 -3.5v7zM437 342l7 -3.5v7zM456.5 319l7 -3.5v7zM451.5 338l7 -3.5v7zM454 326.5l7 -3.5v7zM436 347.5l7 -3.5v7zM448 309.5l7 -3.5v7zM467 290.5l7 -3.5v7zM454 332l7 -3.5v7zM463 304.5l7 -3.5v7zM466.5 334.5l7 -3.5v7zM467.5 316.5l7 -3.5v7zM456.5 336.5l7 -3.5v7zM465 339l7 -3.5v7zM458 301.5l7 -3.5v7zM461.5 337l7 -3.5v7zM467 300.5l7 -3.5v7zM467.5 303l7 -3.5v7zM466 336.5l7 -3.5v7zM442.5 339l7 -3.5v7zM451 338l7 -3.5v7zM464.5 301.5l7 -3.5v7zM446.5 335l7 -3.5v7zM440 346.5l7 -3.5v7zM444.5 334.5l7 -3.5v7zM458 342l7 -3.5v7zM453.5 308.5l7 -3.5v7zM443.5 320l7 -3.5v7zM444 303l7 -3.5v7zM452 331l7 -3.5v7zM465 321.5l7 -3.5v7zM448 337.5l7 -3.5v7zM439.5 344.5l7 -3.5v7zM436.5 329.5l7 -3.5v7zM464.5 301l7 -3.5v7zM451 331l7 -3.5v7zM445 340.5l7 -3.5v7zM445 334l7 -3.5v7zM452 338l7 -3.5v7zM452.5 325l7 -3.5v7zM440.5 335l7 -3.5v7zM464.5 307l7 -3.5v7zM453 336l7 -3.5v7zM458.5 336.5l7 -3.5v7zM463 334l7 -3.5v7zM442 324.5l7 -3.5v7zM442.5 337.5l7 -3.5v7zM458 330.5l7 -3.5v7zM448.5 297l7 -3.5v7zM463.5 291l7 -3.5v7zM453.5 331l7 -3.5v7zM454.5 329.5l7 -3.5v7zM438.5 324.5l7 -3.5v7zM446 290.5l7 -3.5v7zM457.5 297.5l7 -3.5v7zM467 288.5l7 -3.5v7zM446.5 209l7 -3.5v7zM447.5 260l7 -3.5v7zM463.5 271.5l7 -3.5v7zM456.5 277l7 -3.5v7z" fill="#0000c0"/>
<path d="M446.5 354.1h3.7v4h-3.7zM454.8 395.1h3.1v4.4h-3.1zM468.5 378.7h3.6v1.9h-3.6zM461.9 362h2.8v2.5h-2.8z" fill="#fff"/>
<path d="M474.7 435.5L474.7 327.6L477.3 328.5L479.9 328.2L482.5 324L485.1 308.8L487.7 307.9L490.3 308L492.9 322.5L495.5 327.4L498.1 328.1L500.7 331.9L500.7 435.5ZM483.5 286h7v7h-7zM490.5 263.5h7v7h-7zM487 233h7v7h-7zM476 276h7v7h-7zM480 226.5h7v7h-7zM476 238.5h7v7h-7zM492 323.5h7v7h-7zM491.5 290.5h7v7h-7zM492 294.5h7v7h-7zM493.5 309h7v7h-7zM478.5 269.5h7v7h-7zM493 313.5h7v7h-7zM487.5 296h7v7h-7zM482 263.5h7v7h-7zM489.5 288h7v7h-7zM492.5 277h7v7h-7zM475.5 274h7v7h-7zM475.5 312.5h7v7h-7zM485 280.5h7v7h-7zM487.5 285h7v7h-7zM490 284h7v7h-7zM486 264h7v7h-7zM484 269h7v7h-7zM475 319.5h7v7h-7zM480.5 298h7v7h-7zM478.5 262h7v7h-7zM483 298.5h7v7h-7zM487 300.5h7v7h-7zM480.5 300h7v7h-7zM487.5 276.5h7v7h-7zM475 262.5h7v7h-7zM478 307h7v7h-7zM476.5 275h7v7h-7zM485.5 293h7v7h-7zM493.5 302h7v7h-7zM477 249.5h7v7h-7zM484.5 275h7v7h-7zM486 277h7v7h-7zM483 304h7v7h-7zM490 283.5h7v7h-7zM488.5 308h7v7h-7zM483.5 285.5h7v7h-7zM484.5 254h7v7h-7zM479.5 256.5h7v7h-7zM488 307h7v7h-7zM491 278h7v7h-7zM480 236h7v7h-7zM475.5 278.5h7v7h-7zM491 267.5h7v7h-7zM492 293h7v7h-7zM492 324h7v7h-7zM490.5 314h7v7h-7zM487 225h7v7h-7zM484 238h7v7h-7zM487.5 242.5h7v7h-7zM475 288.5h7v7h-7zM487 254.5h7v7h-7zM492.5 318h7v7h-7zM484.5 261.5h7v7h-7zM482.5 230.5h7v7h-7zM484.5 301h7v7h-7zM487 252h7v7h-7zM488 278.5h7v7h-7zM483.5 237h7v7h-7zM488 257.5h7v7h-7zM490.5 318.5h7v7h-7zM488 241.5h7v7h-7zM488.5 239.5h7v7h-7zM482 248.5h7v7h-7zM489 262.5h7v7h-7zM484.5 274h7v7h-7zM492 315h7v7h-7zM480.5 301.5h7v7h-7zM490.5 254.5h7v7h-7zM481.5 283.5h7v7h-7zM489.5 274.5h7v7h-7zM483 226.5h7v7h-7zM485 301h7v7h-7zM481.5 287h7v7h-7zM477.5 271h7v7h-7zM485 254h7v7h-7zM492 315h7v7h-7zM480 262.5h7v7h-7zM488.5 268h7v7h-7zM475.5 251.5h7v7h-7zM479.5 318h7v7h-7zM493 322.5h7v7h-7zM492.5 316h7v7h-7zM478.5 234h7v7h-7zM488.5 237.5h7v7h-7zM475.5 265.5h7v7h-7zM483 291h7v7h-7zM483 243h7v7h-7zM483.5 228.5h7v7h-7zM492.5 282h7v7h-7zM477 318h7v7h-7zM485 240.5h7v7h-7zM493.5 270.5h7v7h-7zM474.5 222.5h7v7h-7zM485 220.5h7v7h-7zM493 237.5h7v7h-7zM477.5 164h7v7h-7zM477.5 168.5h7v7h-7zM477.5 173h7v7h-7zM477.5 177.5h7v7h-7zM478.5 181h7v7h-7zM481.5 210.5h7v7h-7zM489.5 220.5h7v7h-7zM489.5 237.5h7v7h-7z" fill="#00c000"/>
<path d="M478.5 345.2h4.3v2.5h-4.3zM488.3 331.3h3.4v2.7h-3.4zM487.8 311.4h3.3v2.3h-3.3z" fill="#fff"/>
<path d="M500.7 435.5L500.7 406L503.4 407L506.1 403.9L508.8 410.4L511.5 413.5L514.2 409.2L516.9 387.7L519.5 379.7L522.2 383.8L524.9 389.9L527.6 406.4L530.3 413L533 408.4L533 435.5Z" fill="#c0c000"/>
<path d="M525 353h0M509 403h0M506 380h0M517.5 341.5h0M525.5 347h0M513 403.5h0M508 381.5h0M514 386h0M512 405h0M520.5 372h0M510 394.5h0M521 373.5h0M514.5 395h0M514.5 409h0M521.5 319.5h0M510.5 396h0M525 354.5h0M504.5 393h0M510 378h0M522 314.5h0M504.5 364h0M508 402.5h0M516 380.5h0M510.5 380.5h0M522.5 291h0M508 388h0M513.5 402h0M506.5 355.5h0M507.5 406.5h0M504.5 360h0M526 389.5h0M509 404.5h0M515 384.5h0M511 387h0M523 296.5h0M528 367h0M528 364.5h0M514 411h0M509.5 373.5h0M521 301.5h0M505.5 362.5h0M511.5 406.5h0M515 371h0M522 284.5h0M504.5 386h0M520 349.5h0M514 375h0M517 383h0M514 400h0M511.5 412h0M525.5 359h0M529 374.5h0M517 354h0M519.5 300h0M526.5 381h0M509.5 403h0M526.5 385h0M514 405.5h0M523.5 385h0M526 398h0M509.5 405.5h0M515 387h0M523 349.5h0M521.5 378.5h0M520 336h0M506 349h0M519.5 349h0M509.5 395.5h0M525.5 360.5h0M506.5 395h0M527.5 404h0M520 300h0M521.5 327h0M505 395h0M510 406.5h0M521 358h0M504.5 404.5h0M514.5 396h0M518.5 367.5h0M524.5 305h0M527 345.5h0M514 399h0M526.5 398.5h0M527 356.5h0M512 414h0M505 342.5h0M512.5 378.5h0M520.5 276h0M529 351.5h0M509 248.5h0M504 369.5h0M504 383h0M531 387.5h0M531 401h0" stroke="#c0c000" stroke-width="7.6" stroke-linecap="round" fill="none"/>
<path d="M513.2 415.9h3.7v4h-3.7zM523.7 401.2h2.7v2.8h-2.7zM516.5 412.4h3.3v4.3h-3.3zM511.8 418.1h2.3v3.3h-2.3zM518.2 393.4h3v2.2h-3zM511.6 422h2.3v4.3h-2.3zM521.6 381.6h4.3v2.5h-4.3zM510.3 418.2h2.9v2.9h-2.9zM504.1 406.5h4.1v3.4h-4.1zM512.4 418h3.3v2.8h-3.3zM522.3 405.1h2.8v4h-2.8zM522 407.6h2.7v3.2h-2.7zM506.2 409.8h3.5v2.8h-3.5zM511 423.5h2.3v3.3h-2.3zM517.1 392h4v3.8h-4zM518.1 408.3h3v4.2h-3zM523.9 391.3h4.2v4.1h-4.2zM508.9 412.8h4.4v3.4h-4.4zM518.1 389.8h4v4.2h-4zM514.9 410.3h3v3h-3zM515.7 412.1h1.9v2.4h-1.9zM525.7 425.9h4.2v4.3h-4.2zM514.9 410.1h4.2v2.8h-4.2zM523.7 409.1h2.9v2.3h-2.9zM510.4 413.1h3.5v2.7h-3.5zM504.4 407.4h4.3v4.5h-4.3zM503.1 408.2h2.6v2.3h-2.6zM515.6 417.5h4.3v2.2h-4.3zM512 424.2h3.7v3.1h-3.7zM515.5 408.6h3.4v3.2h-3.4zM526.1 409.5h4.2v3.5h-4.2zM522.2 394.4h2.1v3.4h-2.1zM526.5 407.7h4.4v2.5h-4.4zM526.1 419.4h1.8v1.9h-1.8zM507.6 419.7h3.9v3.2h-3.9z" fill="#fff"/>
<path d="M533 435.5L533 327.8L535.6 324.8L538.2 323.5L540.8 324.3L543.5 323.7L546.1 327.2L548.7 328.2L551.3 325.9L553.9 325.9L556.5 327.3L559.2 332.8L561.8 335.1L564.4 335.6L567 333.3L567 435.5ZM549 315.5l3.5 7h-7zM538.5 290.5l3.5 7h-7zM548.5 315l3.5 7h-7zM537.5 322l3.5 7h-7zM548 283.5l3.5 7h-7zM561.5 303.5l3.5 7h-7zM547.5 281l3.5 7h-7zM537 319l3.5 7h-7zM548.5 282l3.5 7h-7zM555 274.5l3.5 7h-7zM546 298l3.5 7h-7zM540.5 314l3.5 7h-7zM541.5 265l3.5 7h-7zM553.5 281l3.5 7h-7zM538.5 307.5l3.5 7h-7zM554 315.5l3.5 7h-7zM551 321.5l3.5 7h-7zM554 295l3.5 7h-7zM554 321.5l3.5 7h-7zM551 307l3.5 7h-7zM542.5 244l3.5 7h-7zM550.5 282.5l3.5 7h-7zM550 253.5l3.5 7h-7zM541 303.5l3.5 7h-7zM555.5 318l3.5 7h-7zM540.5 304l3.5 7h-7zM551 270l3.5 7h-7zM554 314.5l3.5 7h-7zM545.5 253l3.5 7h-7zM541 312l3.5 7h-7zM545 278.5l3.5 7h-7zM556 319l3.5 7h-7zM548 253.5l3.5 7h-7zM554 277.5l3.5 7h-7zM559.5 312l3.5 7h-7zM544 305.5l3.5 7h-7zM551 266.5l3.5 7h-7zM544 262l3.5 7h-7zM543.5 311l3.5 7h-7zM538 311.5l3.5 7h-7zM558.5 310l3.5 7h-7zM553.5 320l3.5 7h-7zM545 286.5l3.5 7h-7zM537 316l3.5 7h-7zM558.5 326l3.5 7h-7zM557.5 297.5l3.5 7h-7zM542.5 315l3.5 7h-7zM554.5 297.5l3.5 7h-7zM546 255l3.5 7h-7zM551 265.5l3.5 7h-7zM546 293l3.5 7h-7zM559 320l3.5 7h-7zM557 287.5l3.5 7h-7zM554 295l3.5 7h-7zM560 325l3.5 7h-7zM562.5 300l3.5 7h-7zM546 322l3.5 7h-7zM563.5 299.5l3.5 7h-7zM554 268l3.5 7h-7zM540.5 312.5l3.5 7h-7zM547 315l3.5 7h-7zM541.5 280l3.5 7h-7zM550.5 303.5l3.5 7h-7zM547.5 269.5l3.5 7h-7zM555.5 308l3.5 7h-7zM539.5 313l3.5 7h-7zM544.5 314.5l3.5 7h-7zM552.5 266l3.5 7h-7zM552 321l3.5 7h-7zM540.5 278l3.5 7h-7zM563 321l3.5 7h-7zM549 309l3.5 7h-7zM555 275.5l3.5 7h-7zM552.5 285.5l3.5 7h-7zM537 292l3.5 7h-7zM551.5 321.5l3.5 7h-7zM537 285l3.5 7h-7zM546 231.5l3.5 7h-7zM554 267.5l3.5 7h-7zM563 294l3.5 7h-7zM546 189l3.5 7h-7zM545 209l3.5 7h-7zM541 222.5l3.5 7h-7zM563 218l3.5 7h-7zM563 231.5l3.5 7h-7zM564 263l3.5 7h-7z" fill="#c000c0"/>
<path d="M552.4 344.8h4.2v4.3h-4.2zM543.5 388.7h3.7v3.8h-3.7zM542.2 361.1h4.1v2.3h-4.1zM536.9 328.5h1.8v2.4h-1.8z" fill="#fff"/>
<path d="M567 435.5L567 294.9L569.5 297.4L572 298L574.5 290.8L577 275.5L579.5 273.4L582 273.5L584.5 281.4L587 300.4L589.5 305.3L592 307.9L594.5 302L597 303L599.5 300.4L602 307.6L604.5 311.1L607 316.2L609.5 318.7L612 314L612 435.5ZM573 258.5l4 4l-4 4l-4 -4zM595.5 269l4 4l-4 4l-4 -4zM572 283.5l4 4l-4 4l-4 -4zM593 295l4 4l-4 4l-4 -4zM599 277l4 4l-4 4l-4 -4zM578.5 241l4 4l-4 4l-4 -4zM595 292.5l4 4l-4 4l-4 -4zM584 253.5l4 4l-4 4l-4 -4zM595 284.5l4 4l-4 4l-4 -4zM596 298l4 4l-4 4l-4 -4zM579 268.5l4 4l-4 4l-4 -4zM596.5 268l4 4l-4 4l-4 -4zM597.5 273l4 4l-4 4l-4 -4zM583.5 259.5l4 4l-4 4l-4 -4zM586.5 293.5l4 4l-4 4l-4 -4zM601.5 298l4 4l-4 4l-4 -4zM581 244.5l4 4l-4 4l-4 -4zM603.5 306.5l4 4l-4 4l-4 -4zM599.5 292.5l4 4l-4 4l-4 -4zM605 308l4 4l-4 4l-4 -4zM608 305.5l4 4l-4 4l-4 -4zM580 240l4 4l-4 4l-4 -4zM583 271l4 4l-4 4l-4 -4zM582 237l4 4l-4 4l-4 -4zM591.5 285.5l4 4l-4 4l-4 -4zM592 300l4 4l-4 4l-4 -4zM592 273.5l4 4l-4 4l-4 -4zM570.5 290.5l4 4l-4 4l-4 -4zM606 296l4 4l-4 4l-4 -4zM580.5 249l4 4l-4 4l-4 -4zM585.5 292.5l4 4l-4 4l-4 -4zM607 302.5l4 4l-4 4l-4 -4zM588 289l4 4l-4 4l-4 -4zM601 289.5l4 4l-4 4l-4 -4zM583 261.5l4 4l-4 4l-4 -4zM607.5 280.5l4 4l-4 4l-4 -4zM572.5 259.5l4 4l-4 4l-4 -4zM593 298.5l4 4l-4 4l-4 -4zM583 251.5l4 4l-4 4l-4 -4zM606 284l4 4l-4 4l-4 -4zM583.5 261l4 4l-4 4l-4 -4zM600 276.5l4 4l-4 4l-4 -4zM591 301.5l4 4l-4 4l-4 -4zM577 271.5l4 4l-4 4l-4 -4zM579 248l4 4l-4 4l-4 -4zM591.5 286l4 4l-4 4l-4 -4zM591.5 298.5l4 4l-4 4l-4 -4zM577 255.5l4 4l-4 4l-4 -4zM607.5 308l4 4l-4 4l-4 -4zM590.5 297.5l4 4l-4 4l-4 -4zM573 256.5l4 4l-4 4l-4 -4zM600 264l4 4l-4 4l-4 -4zM595.5 298l4 4l-4 4l-4 -4zM584 238l4 4l-4 4l-4 -4zM588.5 273l4 4l-4 4l-4 -4zM607 288.5l4 4l-4 4l-4 -4zM577.5 241l4 4l-4 4l-4 -4zM598.5 291.5l4 4l-4 4l-4 -4zM572 285.5l4 4l-4 4l-4 -4zM586.5 290l4 4l-4 4l-4 -4zM585 265l4 4l-4 4l-4 -4zM578.5 239.5l4 4l-4 4l-4 -4zM595 254l4 4l-4 4l-4 -4zM594 295l4 4l-4 4l-4 -4zM573 284.5l4 4l-4 4l-4 -4zM591.5 264.5l4 4l-4 4l-4 -4zM601.5 259.5l4 4l-4 4l-4 -4zM599.5 280l4 4l-4 4l-4 -4zM584 273.5l4 4l-4 4l-4 -4zM571 268.5l4 4l-4 4l-4 -4zM594 294l4 4l-4 4l-4 -4zM575 287.5l4 4l-4 4l-4 -4zM588 293l4 4l-4 4l-4 -4zM603 306.5l4 4l-4 4l-4 -4zM589 286.5l4 4l-4 4l-4 -4zM572 258l4 4l-4 4l-4 -4zM580 231l4 4l-4 4l-4 -4zM589.5 258l4 4l-4 4l-4 -4zM598 249l4 4l-4 4l-4 -4zM607.5 276l4 4l-4 4l-4 -4zM594 184l4 4l-4 4l-4 -4zM594 192l4 4l-4 4l-4 -4zM598 211l4 4l-4 4l-4 -4zM583 214.5l4 4l-4 4l-4 -4zM578 219l4 4l-4 4l-4 -4zM597 231l4 4l-4 4l-4 -4zM610 235.5l4 4l-4 4l-4 -4zM589 249l4 4l-4 4l-4 -4zM605 267.5l4 4l-4 4l-4 -4zM610 70l4 4l-4 4l-4 -4zM610 96l4 4l-4 4l-4 -4z" fill="#00c0c0"/>
<path d="M577.2 290.4h3.2v1.8h-3.2zM587.7 311.8h2.1v4.1h-2.1zM595.4 319h3.8v1.9h-3.8zM584.9 293.6h3.7v3.8h-3.7zM593.3 350.3h4.1v2.2h-4.1zM603 316.4h3.1v3.4h-3.1zM597.4 410.2h2.2v4h-2.2zM579.8 325.9h3.9v3.6h-3.9z" fill="#fff"/>
<path d="M618 435.5L618 349L620.6 351L623.1 350L625.7 351.3L628.2 351L630.8 350.8L633.4 353.3L635.9 352.2L638.5 355.6L641.1 353.7L643.6 355L646.2 355.3L648.8 353.6L651.3 351.9L653.9 353.3L656.4 350.8L659 350.1L659 435.5ZM633.6 282.1h7.7v3.9h-7.7zM642.6 346.6h7.7v3.9h-7.7zM650.1 296.6h7.7v3.9h-7.7zM639.6 330.6h7.7v3.9h-7.7zM647.1 314.6h7.7v3.9h-7.7zM638.1 353.1h7.7v3.9h-7.7zM635.6 299.6h7.7v3.9h-7.7zM632.1 267.1h7.7v3.9h-7.7zM630.1 321.6h7.7v3.9h-7.7zM644.6 334.1h7.7v3.9h-7.7zM624.1 322.1h7.7v3.9h-7.7zM620.6 348.1h7.7v3.9h-7.7zM638.6 328.6h7.7v3.9h-7.7zM621.6 337.1h7.7v3.9h-7.7zM618.1 321.1h7.7v3.9h-7.7zM646.6 348.6h7.7v3.9h-7.7zM629.6 336.1h7.7v3.9h-7.7zM639.6 331.1h7.7v3.9h-7.7zM636.6 300.1h7.7v3.9h-7.7zM637.1 324.1h7.7v3.9h-7.7zM642.6 345.6h7.7v3.9h-7.7zM642.6 300.1h7.7v3.9h-7.7zM638.6 300.1h7.7v3.9h-7.7zM628.6 331.1h7.7v3.9h-7.7zM637.1 352.1h7.7v3.9h-7.7zM635.6 350.1h7.7v3.9h-7.7zM637.6 295.6h7.7v3.9h-7.7zM618.1 342.1h7.7v3.9h-7.7zM618.1 341.6h7.7v3.9h-7.7zM629.1 349.6h7.7v3.9h-7.7zM622.6 325.1h7.7v3.9h-7.7zM634.1 300.1h7.7v3.9h-7.7zM629.6 290.1h7.7v3.9h-7.7zM639.6 313.1h7.7v3.9h-7.7zM627.6 316.6h7.7v3.9h-7.7zM620.1 342.1h7.7v3.9h-7.7zM634.6 299.6h7.7v3.9h-7.7zM649.1 309.1h7.7v3.9h-7.7zM627.1 325.1h7.7v3.9h-7.7zM643.1 302.6h7.7v3.9h-7.7zM649.6 334.1h7.7v3.9h-7.7zM629.1 287.6h7.7v3.9h-7.7zM634.6 298.6h7.7v3.9h-7.7zM632.6 344.1h7.7v3.9h-7.7zM630.6 310.1h7.7v3.9h-7.7zM642.1 338.6h7.7v3.9h-7.7zM650.6 345.6h7.7v3.9h-7.7zM631.1 340.1h7.7v3.9h-7.7zM623.1 309.6h7.7v3.9h-7.7zM648.6 291.6h7.7v3.9h-7.7zM636.6 352.6h7.7v3.9h-7.7zM619.1 345.1h7.7v3.9h-7.7zM650.1 336.1h7.7v3.9h-7.7zM649.6 333.6h7.7v3.9h-7.7zM619.1 324.1h7.7v3.9h-7.7zM642.6 325.6h7.7v3.9h-7.7zM636.1 313.1h7.7v3.9h-7.7zM623.6 338.1h7.7v3.9h-7.7zM631.1 345.1h7.7v3.9h-7.7zM639.1 327.6h7.7v3.9h-7.7zM622.6 310.1h7.7v3.9h-7.7zM620.6 339.6h7.7v3.9h-7.7zM624.1 312.6h7.7v3.9h-7.7zM624.1 348.6h7.7v3.9h-7.7zM645.6 336.1h7.7v3.9h-7.7zM643.1 316.6h7.7v3.9h-7.7zM647.1 336.1h7.7v3.9h-7.7zM645.1 326.6h7.7v3.9h-7.7zM645.6 340.6h7.7v3.9h-7.7zM621.6 326.6h7.7v3.9h-7.7zM648.6 338.1h7.7v3.9h-7.7zM636.6 323.1h7.7v3.9h-7.7zM620.6 329.6h7.7v3.9h-7.7zM644.1 341.6h7.7v3.9h-7.7zM618.1 341.6h7.7v3.9h-7.7zM631.6 305.6h7.7v3.9h-7.7zM623.6 349.1h7.7v3.9h-7.7zM648.1 323.1h7.7v3.9h-7.7zM632.1 286.6h7.7v3.9h-7.7zM620.6 325.6h7.7v3.9h-7.7zM646.1 334.1h7.7v3.9h-7.7zM631.1 268.1h7.7v3.9h-7.7zM623.1 323.6h7.7v3.9h-7.7zM634.6 318.6h7.7v3.9h-7.7zM639.1 326.6h7.7v3.9h-7.7zM640.6 345.6h7.7v3.9h-7.7zM643.6 334.1h7.7v3.9h-7.7zM626.1 343.1h7.7v3.9h-7.7zM643.1 300.6h7.7v3.9h-7.7zM647.1 305.6h7.7v3.9h-7.7zM650.1 289.1h7.7v3.9h-7.7zM636.1 310.6h7.7v3.9h-7.7zM620.6 349.6h7.7v3.9h-7.7zM621.1 327.1h7.7v3.9h-7.7zM650.1 327.6h7.7v3.9h-7.7zM648.6 343.6h7.7v3.9h-7.7zM641.1 322.6h7.7v3.9h-7.7zM622.1 340.6h7.7v3.9h-7.7zM642.1 329.6h7.7v3.9h-7.7zM641.6 331.1h7.7v3.9h-7.7zM645.6 321.1h7.7v3.9h-7.7zM637.1 304.1h7.7v3.9h-7.7zM646.6 317.1h7.7v3.9h-7.7zM651.6 316.1h7.7v3.9h-7.7zM647.1 325.1h7.7v3.9h-7.7zM645.6 336.1h7.7v3.9h-7.7zM619.1 313.6h7.7v3.9h-7.7zM630.1 253.6h7.7v3.9h-7.7zM641.1 295.6h7.7v3.9h-7.7zM651.1 286.6h7.7v3.9h-7.7zM622.1 211.6h7.7v3.9h-7.7zM621.1 237.6h7.7v3.9h-7.7zM635.1 245.6h7.7v3.9h-7.7zM649.1 240.1h7.7v3.9h-7.7z" fill="#404040"/>
<path d="M651.5 366.5h4.3v4.5h-4.3zM624.8 386.6h2.7v3.1h-2.7zM649.6 357h3.5v2h-3.5zM633.4 364.1h4.1v2.2h-4.1zM651.1 359.9h4v3.6h-4zM655.8 362.1h3v4.5h-3zM638.2 353.9h3.3v3.9h-3.3zM645 418.2h2.1v4.2h-2.1zM621 376.8h3.3v4.1h-3.3zM627.1 383.1h4.1v3h-4.1zM646.5 400.5h3.7v3.1h-3.7zM654.4 377.5h2.8v2.6h-2.8zM626.5 366.8h2.2v2.7h-2.2zM637.6 358.2h2.4v2.2h-2.4zM653.1 363.2h2.8v2h-2.8zM630.7 394.3h2v2.7h-2zM633.3 362.3h4.4v2.5h-4.4zM627.8 392.1h2.3v3.7h-2.3zM639.9 397.7h2.9v2.9h-2.9zM637 362.1h4.1v4h-4.1zM637.5 362.5h4.5v4.4h-4.5zM638.2 358.6h2.2v3.1h-2.2zM636.6 376.1h3.4v4.3h-3.4zM631.4 378.6h4v3.2h-4zM639.2 358.4h1.8v3h-1.8zM648.7 374.6h2.7v2.1h-2.7zM644.2 371.2h2.2v1.8h-2.2zM638.5 371.5h3.9v3.4h-3.9zM620.2 363.6h2.7v3.7h-2.7zM643.5 363.2h2.6v3h-2.6zM634.6 375.6h2.7v2h-2.7zM626.9 377.8h2.4v3.3h-2.4zM632.1 366.2h2.4v3.4h-2.4zM640.4 357.4h3.8v4.2h-3.8zM638.6 373.1h1.9v3.1h-1.9zM635.6 408.5h2.9v3.1h-2.9zM636.6 352.5h2v3.2h-2zM630.5 383h3v4.2h-3zM651.3 396.6h2.6v3.4h-2.6zM644.6 371.4h2.5v3.6h-2.5zM636.8 375.9h4.3v2.5h-4.3zM650.6 364.9h3.7v2.8h-3.7zM630.5 364h3.3v2h-3.3zM624 363.7h1.9v3.1h-1.9zM623.1 364.2h2.6v3.5h-2.6zM632.4 358.4h1.9v4.4h-1.9zM645.1 425.1h2v3.1h-2zM652.1 382.4h1.8v4h-1.8zM625 390.3h3.9v3.4h-3.9zM651.5 359.3h1.9v3.5h-1.9zM648 372.3h3.9v3.7h-3.9zM638.5 358h3.7v2.5h-3.7zM640.1 359.1h3.5v4.2h-3.5zM622.6 390.8h2.7v3.4h-2.7zM626.5 405.2h3.7v3.1h-3.7zM625.9 352.7h1.9v3.7h-1.9zM652.3 362.1h3.1v2.4h-3.1zM643.3 398.9h4.4v3.2h-4.4zM633.4 375.7h4.4v2.1h-4.4zM645.7 400.4h2.5v2.5h-2.5zM643.9 370.4h2.6v3.2h-2.6zM649.3 411.1h2.9v2.8h-2.9zM647.3 360.4h4v2.8h-4zM652 361.6h3.2v4.3h-3.2zM621.7 382.9h3.8v3.6h-3.8zM654.4 356.4h3.5v3h-3.5zM634.6 354h2.5v2.5h-2.5zM619.5 405.5h4.1v2.6h-4.1zM632.8 353.5h2.5v4.2h-2.5zM631.9 357.4h4.4v3.2h-4.4zM652.3 384.4h2.5v3.9h-2.5zM646.4 357.7h3.1v4.3h-3.1zM620.8 353.2h2.4v3.6h-2.4zM653.2 356.7h3.4v3.9h-3.4zM634.9 366h2.3v2.2h-2.3zM648.4 373.6h4v2h-4zM625.4 362.4h3.2v2.2h-3.2zM644.9 374.1h2.5v2.5h-2.5zM642.5 356.2h2.7v2.4h-2.7zM642.9 367.8h3.6v2.9h-3.6zM649.2 387.3h4.1v4.3h-4.1zM654.7 371.7h2.4v3.6h-2.4zM620.2 361.6h2.6v4.2h-2.6zM620.5 354h3v2.7h-3zM640.6 355.6h4.1v3h-4.1zM637.4 401.8h3.4v2.3h-3.4zM622.1 375h2v2.8h-2zM638.9 361.4h2.7v3.6h-2.7zM630.2 383.4h2.7v3h-2.7zM621.8 371.5h4.2v2.9h-4.2zM641.5 373.7h3.3v1.9h-3.3zM619.8 386.1h4.2v1.9h-4.2zM640.5 400.3h1.8v2.2h-1.8zM644.2 416.9h3v3.8h-3zM643.1 381.8h4.2v3.3h-4.2zM627.1 393.7h4.1v2.4h-4.1zM631.8 361.6h3.3v2.8h-3.3zM626.2 414h2.9v3.5h-2.9zM647.7 405.3h2.9v2.2h-2.9zM651.1 379.2h3.2v3.8h-3.2zM641.5 425.6h3.9v1.9h-3.9zM640.6 374.4h4.1v4.1h-4.1zM643.1 378.9h2.1v2.6h-2.1zM650 381.3h3.9v2.9h-3.9zM626.3 373.9h4.3v4.2h-4.3zM640.5 395h4.5v2.9h-4.5zM631.7 387.2h2.5v1.9h-2.5zM633.4 379.1h4.2v3.7h-4.2zM639 356.4h2.4v3.2h-2.4zM655 418.4h2.3v2.2h-2.3zM625.3 374h3.5v4.5h-3.5zM632.6 353.5h2.3v2h-2.3zM643.1 362h3.5v2.7h-3.5zM638 356.2h2.7v4.3h-2.7zM641.9 392.2h2.3v3.4h-2.3zM642.5 372.8h2.5v2.9h-2.5zM644.9 378.9h2v3.6h-2zM626.2 355.5h2.8v3.2h-2.8z" fill="#fff"/>
<path d="M659 435.5L659 362.2L661.7 361L664.3 358.5L667 360.7L669.7 363.5L672.3 360L675 355L677.7 358.9L680.3 355.6L683 345.6L685.7 346.6L688.3 340.9L691 343.9L691 435.5ZM668 358l3.5 -7h-7zM677 332l3.5 -7h-7zM671 316l3.5 -7h-7zM676 345l3.5 -7h-7zM678 342.5l3.5 -7h-7zM681.5 311.5l3.5 -7h-7zM684 348.5l3.5 -7h-7zM682.5 351l3.5 -7h-7zM681 357l3.5 -7h-7zM667 351l3.5 -7h-7zM667 335l3.5 -7h-7zM677.5 339l3.5 -7h-7zM686 345l3.5 -7h-7zM676 358l3.5 -7h-7zM670 349l3.5 -7h-7zM681.5 324l3.5 -7h-7zM675.5 330l3.5 -7h-7zM672.5 352.5l3.5 -7h-7zM674 320l3.5 -7h-7zM681.5 339l3.5 -7h-7zM672 348l3.5 -7h-7zM670 342.5l3.5 -7h-7zM663 317.5l3.5 -7h-7zM668 356.5l3.5 -7h-7zM684.5 346l3.5 -7h-7zM674.5 356.5l3.5 -7h-7zM667 358.5l3.5 -7h-7zM667 350l3.5 -7h-7zM684 270.5l3.5 -7h-7zM679 352l3.5 -7h-7zM671 356l3.5 -7h-7zM671.5 324l3.5 -7h-7zM671 326.5l3.5 -7h-7zM675 362.5l3.5 -7h-7zM673.5 346.5l3.5 -7h-7zM680 352.5l3.5 -7h-7zM670 359l3.5 -7h-7zM682 356l3.5 -7h-7zM683 331l3.5 -7h-7zM679.5 348l3.5 -7h-7zM680 332l3.5 -7h-7zM679 329.5l3.5 -7h-7zM687 306l3.5 -7h-7zM663 357.5l3.5 -7h-7zM666.5 344l3.5 -7h-7zM667.5 335l3.5 -7h-7zM682 324l3.5 -7h-7zM668.5 342l3.5 -7h-7zM686.5 293l3.5 -7h-7zM673 363l3.5 -7h-7zM683 305.5l3.5 -7h-7zM674.5 325l3.5 -7h-7zM686 339l3.5 -7h-7zM673 336.5l3.5 -7h-7zM663 345.5l3.5 -7h-7zM684 335.5l3.5 -7h-7zM677 335.5l3.5 -7h-7zM682.5 313.5l3.5 -7h-7zM679 332.5l3.5 -7h-7zM664.5 357l3.5 -7h-7zM684.5 306.5l3.5 -7h-7zM669 350.5l3.5 -7h-7zM673.5 350.5l3.5 -7h-7zM664.5 344l3.5 -7h-7zM672 363l3.5 -7h-7zM683 342.5l3.5 -7h-7zM664.5 314l3.5 -7h-7zM683 339.5l3.5 -7h-7zM684.5 277l3.5 -7h-7zM667.5 327l3.5 -7h-7zM665 325.5l3.5 -7h-7zM672 356.5l3.5 -7h-7zM685.5 320.5l3.5 -7h-7zM678 349l3.5 -7h-7zM684.5 282l3.5 -7h-7zM685 307.5l3.5 -7h-7zM683.5 321.5l3.5 -7h-7zM687.5 298.5l3.5 -7h-7zM666 342l3.5 -7h-7zM680.5 350.5l3.5 -7h-7zM663.5 313l3.5 -7h-7zM671 310l3.5 -7h-7zM679 319l3.5 -7h-7zM687 247.5l3.5 -7h-7zM668 188l3.5 -7h-7zM668 202.5l3.5 -7h-7zM668 216l3.5 -7h-7zM668 229.5l3.5 -7h-7zM668 238.5l3.5 -7h-7zM668 252l3.5 -7h-7zM668 265.5l3.5 -7h-7zM668 274.5l3.5 -7h-7zM668 283.5l3.5 -7h-7zM668 143l3.5 -7h-7zM668 157.5l3.5 -7h-7zM668 153l3.5 -7h-7zM686 247.5l3.5 -7h-7zM686 270l3.5 -7h-7zM686 279l3.5 -7h-7zM686 292l3.5 -7h-7z" fill="#ff4040"/>
<path d="M673.3 375.6h3.1v3.3h-3.1zM672.7 394.5h2.7v3.3h-2.7zM666 376.6h1.9v2.4h-1.9z" fill="#fff"/>
<path d="M691 435.5L691 314.2L693.5 312.9L696 312.9L698.5 314.2L701 310L703.5 308.9L706 309.2L708.5 306.1L711 307.3L713.5 304.5L716 305.3L718.5 304.1L721 309L721 435.5ZM707.1 257.6h7.7v3.9h-7.7zM707.6 254.1h7.7v3.9h-7.7zM709.1 301.1h7.7v3.9h-7.7zM699.1 291.6h7.7v3.9h-7.7zM703.1 267.6h7.7v3.9h-7.7zM705.6 288.6h7.7v3.9h-7.7zM706.6 255.1h7.7v3.9h-7.7zM692.6 310.6h7.7v3.9h-7.7zM697.6 302.6h7.7v3.9h-7.7zM709.1 263.1h7.7v3.9h-7.7zM695.1 311.1h7.7v3.9h-7.7zM700.6 300.1h7.7v3.9h-7.7zM704.6 254.6h7.7v3.9h-7.7zM701.1 280.6h7.7v3.9h-7.7zM705.1 302.1h7.7v3.9h-7.7zM713.1 301.6h7.7v3.9h-7.7zM698.1 281.1h7.7v3.9h-7.7zM702.1 304.6h7.7v3.9h-7.7zM697.6 276.6h7.7v3.9h-7.7zM698.1 306.1h7.7v3.9h-7.7zM707.6 303.1h7.7v3.9h-7.7zM695.1 307.6h7.7v3.9h-7.7zM713.6 279.6h7.7v3.9h-7.7zM701.1 270.6h7.7v3.9h-7.7zM704.1 256.6h7.7v3.9h-7.7zM695.6 302.6h7.7v3.9h-7.7zM702.6 296.6h7.7v3.9h-7.7zM705.6 291.6h7.7v3.9h-7.7zM691.6 293.6h7.7v3.9h-7.7zM693.6 277.6h7.7v3.9h-7.7zM707.1 270.1h7.7v3.9h-7.7zM695.1 293.6h7.7v3.9h-7.7zM694.6 279.1h7.7v3.9h-7.7zM690.6 273.6h7.7v3.9h-7.7zM713.1 264.1h7.7v3.9h-7.7zM706.6 278.1h7.7v3.9h-7.7zM701.1 281.1h7.7v3.9h-7.7zM702.1 291.6h7.7v3.9h-7.7zM703.1 301.6h7.7v3.9h-7.7zM692.1 303.6h7.7v3.9h-7.7zM712.6 277.6h7.7v3.9h-7.7zM711.6 271.1h7.7v3.9h-7.7zM708.1 284.1h7.7v3.9h-7.7zM704.6 304.6h7.7v3.9h-7.7zM692.6 313.1h7.7v3.9h-7.7zM700.6 305.1h7.7v3.9h-7.7zM694.6 310.6h7.7v3.9h-7.7zM712.1 295.1h7.7v3.9h-7.7zM696.1 271.6h7.7v3.9h-7.7zM704.6 293.6h7.7v3.9h-7.7zM696.6 265.1h7.7v3.9h-7.7zM694.6 311.6h7.7v3.9h-7.7zM700.1 273.6h7.7v3.9h-7.7zM706.6 303.1h7.7v3.9h-7.7zM700.6 281.6h7.7v3.9h-7.7zM707.1 272.1h7.7v3.9h-7.7zM700.6 269.1h7.7v3.9h-7.7zM702.1 302.1h7.7v3.9h-7.7zM694.1 310.1h7.7v3.9h-7.7zM706.6 304.6h7.7v3.9h-7.7zM695.6 258.6h7.7v3.9h-7.7zM710.1 284.1h7.7v3.9h-7.7zM692.6 300.1h7.7v3.9h-7.7zM695.6 304.1h7.7v3.9h-7.7zM702.1 259.6h7.7v3.9h-7.7zM693.6 284.6h7.7v3.9h-7.7zM691.1 260.1h7.7v3.9h-7.7zM701.1 251.1h7.7v3.9h-7.7zM712.1 251.1h7.7v3.9h-7.7zM697.1 157.6h7.7v3.9h-7.7zM712.1 183.6h7.7v3.9h-7.7zM712.1 224.6h7.7v3.9h-7.7zM708.1 224.1h7.7v3.9h-7.7zM693.1 255.6h7.7v3.9h-7.7z" fill="#4040ff"/>
<path d="M712.9 362.1h3.5v4.3h-3.5zM707 352.2h2.6v3.8h-2.6zM709.5 328.2h3.6v3.5h-3.6zM704.8 309.1h2.1v1.9h-2.1zM704.8 312.2h3v4.3h-3z" fill="#fff"/>
<path d="M721 435.5L721 346.7L723.6 347.3L726.1 348.6L728.7 350.5L731.3 349.1L733.9 353.4L736.4 357.6L739 355.6L741.6 356.3L744.1 355.3L746.7 353.2L749.3 349.4L751.9 352.5L754.4 352.4L757 354L757 435.5ZM747 349l-7 -3.5v7zM749.5 351.5l-7 -3.5v7zM728.5 342l-7 -3.5v7zM739.5 351l-7 -3.5v7zM732.5 347l-7 -3.5v7zM744 352l-7 -3.5v7zM755.5 345.5l-7 -3.5v7zM737 351l-7 -3.5v7zM728.5 340.5l-7 -3.5v7zM728 341l-7 -3.5v7zM730 346.5l-7 -3.5v7zM735.5 347.5l-7 -3.5v7zM731.5 345l-7 -3.5v7zM730 347l-7 -3.5v7zM730.5 345.5l-7 -3.5v7zM730 342.5l-7 -3.5v7zM744 345l-7 -3.5v7zM729 342.5l-7 -3.5v7zM728.5 338l-7 -3.5v7zM745 342.5l-7 -3.5v7zM753 338l-7 -3.5v7zM726.5 257.5l-7 -3.5v7zM745.5 283.5l-7 -3.5v7zM745.5 298.5l-7 -3.5v7zM728.5 329l-7 -3.5v7zM738.5 342.5l-7 -3.5v7z" fill="#40ff40"/>
<path d="M729.6 350.5h4.2v4h-4.2zM722.4 412.5h1.9v3.2h-1.9zM751.9 398.3h2.7v3.1h-2.7zM739.9 358.1h2.6v2.7h-2.6zM744.1 382.6h2.7v3.3h-2.7zM728.4 380h4.5v2.1h-4.5zM728.6 364h2.6v3.2h-2.6zM744.2 399h2.3v2.4h-2.3zM745 370.2h4.5v2.7h-4.5zM737.9 396.9h4.4v3.7h-4.4zM742.7 396.1h4v4.1h-4zM726.3 397.9h4.1v3.2h-4.1zM746.2 355h3.9v2.2h-3.9zM727.6 359.7h3.5v4.1h-3.5zM745.2 385.4h3.5v3.5h-3.5zM752.7 352.4h3.2v3h-3.2zM743 375.4h3v2.3h-3zM727.4 367.9h2.9v3.2h-2.9zM745.6 397h2.5v3.9h-2.5zM731.8 380.4h4.2v1.8h-4.2zM733.8 396.5h4.4v4.3h-4.4zM750.9 372.8h3.3v3.4h-3.3zM745.3 360.9h4.1v3.4h-4.1zM724.2 359.1h2.9v3.2h-2.9zM746.1 355.8h3.6v3.5h-3.6zM753.9 419.8h3.7v2.1h-3.7zM739.8 391h2.8v4.1h-2.8zM732.4 353.3h3.5v4.2h-3.5zM742.2 370.8h3.3v4.3h-3.3zM722.3 400.8h2.4v4.2h-2.4zM752.8 395.8h2.6v3.1h-2.6zM729.3 390.5h2.3v4h-2.3zM726.5 364.7h4.1v2.4h-4.1zM735.7 420.2h2.1v3h-2.1zM741.8 394.8h4.3v3.3h-4.3zM754 373.8h3.4v3.6h-3.4zM742.5 372.1h3.5v2.5h-3.5zM745.3 362.6h3.4v2.7h-3.4zM733.5 388.3h1.9v3.3h-1.9z" fill="#fff"/>
<path d="M757 435.5L757 371.8L759.6 369.9L762.2 371.8L764.7 362.3L767.3 333.9L769.9 330.3L772.5 321.8L775.1 323.8L777.6 327.6L780.2 326.8L782.8 324.4L785.4 323.9L787.9 325.7L790.5 326.8L793.1 329L795.7 334.9L798.3 339.4L800.8 344.6L803.4 345.2L806 345.6L806 435.5ZM790.6 279.5h3.9v7h-3.9zM765.1 311.5h3.9v7h-3.9zM784.6 321h3.9v7h-3.9zM776.1 313.5h3.9v7h-3.9zM778.6 315.5h3.9v7h-3.9zM766.6 330h3.9v7h-3.9zM786.1 311h3.9v7h-3.9zM771.6 306h3.9v7h-3.9zM789.1 301h3.9v7h-3.9zM799.6 336.5h3.9v7h-3.9zM768.6 304.5h3.9v7h-3.9zM776.1 318.5h3.9v7h-3.9zM791.6 325.5h3.9v7h-3.9zM795.1 326h3.9v7h-3.9zM790.6 305h3.9v7h-3.9zM781.1 313h3.9v7h-3.9zM794.1 312h3.9v7h-3.9zM763.1 319.5h3.9v7h-3.9zM791.6 312h3.9v7h-3.9zM776.6 309h3.9v7h-3.9zM766.1 309h3.9v7h-3.9zM790.1 266.5h3.9v7h-3.9zM766.1 323.5h3.9v7h-3.9zM787.1 322h3.9v7h-3.9zM790.6 308.5h3.9v7h-3.9zM758.6 356h3.9v7h-3.9zM797.1 327h3.9v7h-3.9zM772.1 320h3.9v7h-3.9zM774.6 320h3.9v7h-3.9zM759.1 342h3.9v7h-3.9zM792.1 306.5h3.9v7h-3.9zM798.1 323.5h3.9v7h-3.9zM778.6 305.5h3.9v7h-3.9zM796.1 318.5h3.9v7h-3.9zM775.6 314h3.9v7h-3.9zM779.6 299.5h3.9v7h-3.9zM777.1 284.5h3.9v7h-3.9zM760.1 352h3.9v7h-3.9zM762.6 349.5h3.9v7h-3.9zM794.1 286.5h3.9v7h-3.9zM772.6 305.5h3.9v7h-3.9zM768.1 325.5h3.9v7h-3.9zM759.6 344h3.9v7h-3.9zM782.6 282h3.9v7h-3.9zM790.1 317.5h3.9v7h-3.9zM761.6 333h3.9v7h-3.9zM768.6 303.5h3.9v7h-3.9zM781.6 283.5h3.9v7h-3.9zM766.1 324.5h3.9v7h-3.9zM796.1 334.5h3.9v7h-3.9zM779.6 307.5h3.9v7h-3.9zM798.1 334.5h3.9v7h-3.9zM786.1 318.5h3.9v7h-3.9zM777.6 311h3.9v7h-3.9zM766.1 310.5h3.9v7h-3.9zM777.1 294.5h3.9v7h-3.9zM795.6 333.5h3.9v7h-3.9zM797.6 299h3.9v7h-3.9zM777.6 321h3.9v7h-3.9zM769.6 321h3.9v7h-3.9zM765.6 327h3.9v7h-3.9zM782.1 320h3.9v7h-3.9zM798.1 325h3.9v7h-3.9zM769.1 322.5h3.9v7h-3.9zM783.1 282.5h3.9v7h-3.9zM794.6 310h3.9v7h-3.9zM781.6 321.5h3.9v7h-3.9zM775.1 282h3.9v7h-3.9zM766.1 307.5h3.9v7h-3.9zM785.6 281h3.9v7h-3.9zM778.6 309h3.9v7h-3.9zM791.1 276.5h3.9v7h-3.9zM780.1 321.5h3.9v7h-3.9zM777.1 315h3.9v7h-3.9zM762.1 343.5h3.9v7h-3.9zM775.1 282h3.9v7h-3.9zM771.1 298h3.9v7h-3.9zM765.1 320.5h3.9v7h-3.9zM773.6 321h3.9v7h-3.9zM762.6 339.5h3.9v7h-3.9zM795.1 335.5h3.9v7h-3.9zM766.6 307h3.9v7h-3.9zM785.6 279.5h3.9v7h-3.9zM781.1 315h3.9v7h-3.9zM779.6 320.5h3.9v7h-3.9zM794.6 335.5h3.9v7h-3.9zM760.1 346.5h3.9v7h-3.9zM762.1 351.5h3.9v7h-3.9zM790.6 302h3.9v7h-3.9zM787.1 313h3.9v7h-3.9zM799.1 338h3.9v7h-3.9zM784.6 316h3.9v7h-3.9zM775.6 313.5h3.9v7h-3.9zM758.6 323h3.9v7h-3.9zM787.6 266h3.9v7h-3.9zM758.6 321h3.9v7h-3.9zM770.1 294h3.9v7h-3.9zM780.1 276.5h3.9v7h-3.9zM788.6 240.5h3.9v7h-3.9zM798.1 303h3.9v7h-3.9zM762.1 200h3.9v7h-3.9zM766.1 216h3.9v7h-3.9zM792.1 268h3.9v7h-3.9zM789.1 285h3.9v7h-3.9z" fill="#ffff40"/>
<path d="M789.1 362.7h2.8v4.3h-2.8zM796.7 387.1h3.8v1.9h-3.8zM771 422.9h3.6v2.3h-3.6zM780.5 369.4h2.4v3.8h-2.4zM768.7 351.7h3.4v4.3h-3.4zM766.3 404h3.8v2.8h-3.8z" fill="#fff"/>
<path d="M806 435.5L806 344.4L808.5 341.4L811.1 340.1L813.6 344.2L816.1 340.2L818.7 340.7L821.2 340L823.7 334.6L826.3 331.8L828.8 332.3L831.3 333.2L833.9 337.7L836.4 342.2L838.9 340.8L841.5 343.8L844 341.9L844 435.5ZM832 338.5l7 -3.5v7zM823 329l7 -3.5v7zM833 300l7 -3.5v7zM829 287l7 -3.5v7zM811.5 333.5l7 -3.5v7zM837 334l7 -3.5v7zM831 322.5l7 -3.5v7zM832.5 300l7 -3.5v7zM832 301l7 -3.5v7zM817 334.5l7 -3.5v7zM829.5 279.5l7 -3.5v7zM819 325.5l7 -3.5v7zM826 262l7 -3.5v7zM810 320l7 -3.5v7zM830.5 296.5l7 -3.5v7zM830.5 306l7 -3.5v7zM831.5 318.5l7 -3.5v7zM833 302l7 -3.5v7zM807.5 328.5l7 -3.5v7zM836.5 334l7 -3.5v7zM806.5 335.5l7 -3.5v7zM824 323.5l7 -3.5v7zM834 341.5l7 -3.5v7zM815 309l7 -3.5v7zM813.5 335l7 -3.5v7zM815.5 334l7 -3.5v7zM829 278l7 -3.5v7zM813 309l7 -3.5v7zM832.5 328.5l7 -3.5v7zM818.5 300.5l7 -3.5v7zM814.5 316l7 -3.5v7zM835.5 325.5l7 -3.5v7zM814 322.5l7 -3.5v7zM823.5 309l7 -3.5v7zM812.5 338.5l7 -3.5v7zM832 340.5l7 -3.5v7zM827 321.5l7 -3.5v7zM815.5 337l7 -3.5v7zM823.5 327l7 -3.5v7zM810.5 329l7 -3.5v7zM818 328.5l7 -3.5v7zM813.5 327l7 -3.5v7zM829 269.5l7 -3.5v7zM822 321l7 -3.5v7zM812 321l7 -3.5v7zM812 336l7 -3.5v7zM824.5 307.5l7 -3.5v7zM807.5 342.5l7 -3.5v7zM806 338.5l7 -3.5v7zM831.5 306l7 -3.5v7zM815 303l7 -3.5v7zM819.5 315l7 -3.5v7zM829 332l7 -3.5v7zM811.5 317l7 -3.5v7zM814 313.5l7 -3.5v7zM820 327l7 -3.5v7zM835.5 322.5l7 -3.5v7zM808.5 337.5l7 -3.5v7zM813.5 304.5l7 -3.5v7zM826 325l7 -3.5v7zM819 334.5l7 -3.5v7zM806 331.5l7 -3.5v7zM818.5 327l7 -3.5v7zM832 308l7 -3.5v7zM832.5 315.5l7 -3.5v7zM834.5 312l7 -3.5v7zM819 308.5l7 -3.5v7zM812.5 338l7 -3.5v7zM806 334l7 -3.5v7zM814.5 329l7 -3.5v7zM808 315.5l7 -3.5v7zM815.5 297.5l7 -3.5v7zM826.5 257.5l7 -3.5v7zM835.5 306.5l7 -3.5v7zM818.5 241l7 -3.5v7zM816.5 280l7 -3.5v7zM833.5 284l7 -3.5v7z" fill="#ff40ff"/>
<path d="M808.3 367.2h3.8v2.2h-3.8zM831.2 338.9h2.4v4.3h-2.4zM815.5 372.4h3.6v2.3h-3.6zM821.5 353.6h2.6v2h-2.6z" fill="#fff"/>
<path d="M844 435.5L844 344.2L846.6 343.9L849.1 341L851.7 347.6L854.3 353.1L856.9 379.4L859.4 387.8L862 387.7L864.6 387L867.1 381.3L869.7 378.6L872.3 375.9L874.9 372.3L877.4 366.1L880 361.5L882.6 359L885.1 364.8L887.7 382.6L890.3 384.9L892.9 387.1L895.4 384.9L898 389.1L898 435.5ZM851.5 336.5h7v7h-7zM881 353h7v7h-7zM888 343h7v7h-7zM890.5 371h7v7h-7zM873.5 329h7v7h-7zM851.5 367.5h7v7h-7zM848 323h7v7h-7zM889.5 383h7v7h-7zM865 326.5h7v7h-7zM870.5 324h7v7h-7zM875.5 351h7v7h-7zM844.5 328h7v7h-7zM890.5 306.5h7v7h-7zM889.5 368.5h7v7h-7zM880 317.5h7v7h-7zM846.5 334h7v7h-7zM854.5 331.5h7v7h-7zM856 348.5h7v7h-7zM870.5 325h7v7h-7zM886.5 376.5h7v7h-7zM877 331.5h7v7h-7zM849.5 320.5h7v7h-7zM860.5 338.5h7v7h-7zM857 380h7v7h-7zM883 361.5h7v7h-7zM878 287.5h7v7h-7zM855 378h7v7h-7zM860 378.5h7v7h-7zM891 380h7v7h-7zM852 371.5h7v7h-7zM891 340h7v7h-7zM848 344h7v7h-7zM864 360.5h7v7h-7zM883.5 309.5h7v7h-7zM855.5 381h7v7h-7zM856.5 377.5h7v7h-7zM855 370.5h7v7h-7zM875.5 336h7v7h-7zM886.5 314.5h7v7h-7zM866.5 338.5h7v7h-7zM868 272.5h7v7h-7zM864 345.5h7v7h-7zM851.5 317h7v7h-7zM881.5 318.5h7v7h-7zM881 341.5h7v7h-7zM883 355.5h7v7h-7zM844 329h7v7h-7zM879 325h7v7h-7zM869.5 329h7v7h-7zM846 331h7v7h-7zM884.5 377h7v7h-7zM856 351h7v7h-7zM862.5 318.5h7v7h-7zM851.5 334h7v7h-7zM867.5 299h7v7h-7zM874 314h7v7h-7zM857.5 311.5h7v7h-7zM861 338h7v7h-7zM859.5 314.5h7v7h-7zM878.5 324h7v7h-7zM888 304h7v7h-7zM861 368.5h7v7h-7zM859 371h7v7h-7zM857.5 380h7v7h-7zM880 341h7v7h-7zM884.5 377h7v7h-7zM858.5 304.5h7v7h-7zM885 293h7v7h-7zM889.5 308h7v7h-7zM874.5 285h7v7h-7zM851 339.5h7v7h-7zM871 300.5h7v7h-7zM871.5 360.5h7v7h-7zM885 344.5h7v7h-7zM874 361h7v7h-7zM890.5 383.5h7v7h-7zM890.5 337.5h7v7h-7zM866 319h7v7h-7zM866.5 279.5h7v7h-7zM882.5 363h7v7h-7zM864 356h7v7h-7zM880.5 345.5h7v7h-7zM860.5 302.5h7v7h-7zM870.5 350.5h7v7h-7zM855 380.5h7v7h-7zM853.5 369h7v7h-7zM879 290h7v7h-7zM862 375.5h7v7h-7zM845 321.5h7v7h-7zM885.5 307h7v7h-7zM877.5 329.5h7v7h-7zM859 363.5h7v7h-7zM867 364.5h7v7h-7zM864 282.5h7v7h-7zM868.5 332.5h7v7h-7zM867 334.5h7v7h-7zM886 332h7v7h-7zM878.5 292.5h7v7h-7zM879.5 314h7v7h-7zM883.5 342.5h7v7h-7zM873 355h7v7h-7zM885 313h7v7h-7zM866.5 318.5h7v7h-7zM889 366h7v7h-7zM871 288.5h7v7h-7zM868 371.5h7v7h-7zM853.5 373.5h7v7h-7zM861 380h7v7h-7zM878.5 351.5h7v7h-7zM844.5 339h7v7h-7zM846 325.5h7v7h-7zM846 334.5h7v7h-7zM883.5 306h7v7h-7zM857 383.5h7v7h-7zM884 330h7v7h-7zM887 328.5h7v7h-7zM879.5 321.5h7v7h-7zM876 320h7v7h-7zM849.5 344h7v7h-7zM878 291.5h7v7h-7zM851.5 365h7v7h-7zM859 345.5h7v7h-7zM885.5 372h7v7h-7zM889 351.5h7v7h-7zM846.5 332.5h7v7h-7zM860.5 358h7v7h-7zM886 379h7v7h-7zM858 348h7v7h-7zM860.5 350h7v7h-7zM876 333.5h7v7h-7zM848 333.5h7v7h-7zM846.5 336.5h7v7h-7zM879.5 348h7v7h-7zM855 372h7v7h-7zM845 331h7v7h-7zM852.5 331h7v7h-7zM847 341.5h7v7h-7zM873.5 320.5h7v7h-7zM857.5 378h7v7h-7zM883.5 333h7v7h-7zM866.5 369.5h7v7h-7zM859.5 339.5h7v7h-7zM851 336h7v7h-7zM884.5 353h7v7h-7zM869.5 343.5h7v7h-7zM849.5 335h7v7h-7zM848 323h7v7h-7zM887.5 303h7v7h-7zM885 366h7v7h-7zM872.5 305.5h7v7h-7zM864.5 315h7v7h-7zM874 359.5h7v7h-7zM846.5 323.5h7v7h-7zM886.5 325h7v7h-7zM868.5 298h7v7h-7zM887 322h7v7h-7zM876 358.5h7v7h-7zM856 365.5h7v7h-7zM865.5 357.5h7v7h-7zM881.5 287.5h7v7h-7zM862.5 304h7v7h-7zM859 323.5h7v7h-7zM845 321h7v7h-7zM856 303h7v7h-7zM866.5 268h7v7h-7zM878.5 285h7v7h-7zM888.5 294h7v7h-7zM865.5 179h7v7h-7zM868.5 237.5h7v7h-7zM877.5 250h7v7h-7zM854.5 268h7v7h-7zM866.5 267.5h7v7h-7z" fill="#40ffff"/>
<path d="M889.5 412.6h4.2v2.4h-4.2zM855.9 385.4h3.6v2.2h-3.6zM874.9 395.6h3.4v2.9h-3.4zM869.5 413.6h2v4.1h-2zM852.1 355.8h2.6v3.6h-2.6zM865.7 395.3h2.5v2.6h-2.5zM852.7 359.1h1.8v4.2h-1.8zM884.3 396h2.3v4h-2.3zM866.6 406.5h3.3v4.3h-3.3zM888.4 393.6h3.3v3.8h-3.3zM861.9 421.9h3.2v2.1h-3.2zM859.2 404.5h3.2v1.9h-3.2zM856.7 425.4h4.1v4.5h-4.1zM880.4 420.5h2.1v3.8h-2.1zM868.8 387.3h2.8v4.3h-2.8zM860 396.7h3.3v2.5h-3.3zM859.3 386.3h4.3v4.1h-4.3zM881.3 377.1h2.7v2.1h-2.7zM891.7 391.3h2.5v4.2h-2.5zM874.1 413h2.7v2.4h-2.7zM883.3 368.7h3.5v3h-3.5zM887.7 397.7h2.2v3.6h-2.2zM890.3 386.6h4v3h-4zM869.2 389.2h3.2v4.3h-3.2zM879 368.4h3.5v2h-3.5zM848.9 384.8h3.4v4.2h-3.4zM889.7 393.5h2.5v3.4h-2.5zM857.2 393.4h3.1v4.3h-3.1zM890.2 420h4v3.4h-4zM875 392.2h4.2v3.9h-4.2zM852.2 381.1h2.5v2.4h-2.5zM855.3 384.7h2.8v2.5h-2.8zM861.4 390.3h2.2v4.1h-2.2zM875 390.9h2.2v4.5h-2.2zM886.4 380.1h3.2v3.5h-3.2zM864.6 423.1h2.3v2.7h-2.3zM850.1 354.7h3.3v4.1h-3.3zM889.2 393.3h3.6v2.4h-3.6zM850.2 356h4.2v2.4h-4.2zM887.3 396.7h3.4v4.2h-3.4zM890.1 388.1h4v3.7h-4zM886.6 373.5h2.5v3.4h-2.5zM847.6 388.7h4.3v2.3h-4.3zM865.2 409.3h2.4v2.9h-2.4zM849.7 354.6h2.4v2.2h-2.4zM867.9 395.1h2.9v4.4h-2.9zM892.2 390.2h3.3v2.2h-3.3zM879.3 395.7h3.3v2.2h-3.3zM879 397.8h4.3v3.9h-4.3zM873 411.7h2.4v3h-2.4zM880.6 382.2h4.2v3.3h-4.2zM857.9 407.7h2v4h-2zM889.4 386.5h4.2v4.1h-4.2zM869.8 397.4h3.4v4.3h-3.4zM854.9 375.5h3.7v2.2h-3.7zM846.4 394.3h4.2v2.6h-4.2zM885.2 375.4h2.3v2.7h-2.3zM857.2 412.7h2.7v3.7h-2.7zM870.2 391.9h3.1v3.5h-3.1zM873.1 408.7h2.1v2.7h-2.1zM880.3 368.9h3.2v4.1h-3.2zM878.1 370.4h3.5v4.2h-3.5zM860.8 408.4h3.5v3.5h-3.5zM872.6 403h3.8v3.6h-3.8zM868 392.2h2.6v2.9h-2.6zM893.3 413.9h3.1v3.4h-3.1zM870 394.9h2.1v4h-2.1zM848.2 375.6h2.9v2.3h-2.9zM889.5 387h1.9v1.9h-1.9zM848 385.8h2.3v3.1h-2.3zM851.4 412.2h4.5v4.2h-4.5zM848.8 376.9h2.3v2.2h-2.3zM872.8 394.2h2.6v3.1h-2.6zM869.1 419.8h2v2.9h-2zM880.3 368.5h2.9v1.8h-2.9zM888.2 422h2.5v3.4h-2.5zM869.2 403.4h3.5v2.3h-3.5zM883.1 417.2h1.9v2.7h-1.9zM884.9 369.9h4.3v2.9h-4.3zM890.8 401.7h3.2v2.3h-3.2zM876.5 396h4.2v2.7h-4.2zM890.7 395.9h2.8v3.6h-2.8zM856.6 393.4h3v2.5h-3zM846.5 396.1h4v1.8h-4zM861.7 410h2.1v3.2h-2.1zM889 397.9h4.4v2.5h-4.4zM885.3 421.1h2.3v3.8h-2.3zM847.2 367.8h3.1v4h-3.1zM876.6 374.1h2v2.2h-2zM873.9 390.3h4.3v4.3h-4.3zM886.1 373.9h2.5v3.4h-2.5zM870.4 387.7h2.6v3h-2.6zM856.9 385.5h1.9v4h-1.9zM886.8 408.9h4.1v2.3h-4.1zM877.8 413.1h2.6v3.4h-2.6zM892.6 395.9h2.3v1.9h-2.3zM885.4 396.2h3v3.7h-3zM879.7 399.3h3.2v4.4h-3.2zM861.5 396.6h2.9v1.9h-2.9zM891.9 403.3h4.5v3.1h-4.5zM871.8 400.8h2v3.9h-2zM858 386.4h3.5v4.3h-3.5zM862 404.3h3.6v3.2h-3.6zM891.9 401.7h4v2.5h-4zM859.5 395.7h3.3v2.5h-3.3zM848 406.9h2.8v2.8h-2.8zM866.6 396h2.7v2.3h-2.7zM856.6 393h4.4v4.4h-4.4zM890.5 404.7h2.7v2.5h-2.7zM888.1 388h4.4v2.2h-4.4zM846.1 373h2v3.1h-2zM874.8 375.1h3v3.8h-3zM882.3 372.8h3.3v3.6h-3.3zM887.3 406.4h1.9v3.7h-1.9zM852.5 360.2h2.9v4.3h-2.9zM877.9 391.7h2.2v1.9h-2.2zM849.1 370.5h3.7v4.5h-3.7zM881.9 378.7h3.4v3.4h-3.4zM847.9 361.8h2v2.2h-2z" fill="#fff"/>
<path d="M97.5 55H903.5" stroke="#e4e4e4" stroke-width="2" fill="none"/>
<rect x="98.5" y="57" width="804" height="380" fill="none" stroke="#a8a8a8" stroke-width="1.5"/>
<path d="M98.5 57.5H902.5" stroke="#bdbdbd" stroke-width="2.5" fill="none"/>
<rect x="98" y="57" width="34.5" height="37" fill="none" stroke="#262626" stroke-width="2" rx="1.5"/>
<text x="115.2" y="81" class="bl">A</text>
<text x="77" y="79.1" class="tk">4</text>
<text x="77" y="169" class="tk">3</text>
<text x="77" y="259.3" class="tk">2</text>
<text x="77" y="349.1" class="tk">1</text>
<text x="77" y="438.8" class="tk">0</text>
<rect x="940" y="58.2" width="804.5" height="379.3" fill="#fff"/>
<path d="M941 414.1H1743.5M941 395.1H1743.5M941 376.2H1743.5M941 357.2H1743.5M941 338.3H1743.5M941 319.4H1743.5M941 300.4H1743.5M941 281.5H1743.5M941 262.5H1743.5M941 243.6H1743.5M941 224.7H1743.5M941 205.7H1743.5M941 186.8H1743.5M941 167.8H1743.5M941 148.9H1743.5M941 130H1743.5M941 111H1743.5M941 92.1H1743.5M941 73.1H1743.5" stroke="#a8a8a8" stroke-width="1.3" stroke-dasharray="2 2" fill="none"/>
<path d="M943.8 436L943.8 335.9L946.3 332.4L948.8 327.5L951.3 282.8L953.8 267.9L956.3 264L958.8 276.2L961.3 282.1L963.8 281L966.3 272.7L968.8 270L971.3 278.8L973.8 316L976.3 330.6L978.8 335.8L981.3 335.6L981.3 436ZM960.5 263.5h7v7h-7zM963.5 236.5h7v7h-7zM944.5 306.5h7v7h-7zM966.5 247.5h7v7h-7zM962.5 239.5h7v7h-7zM962 239h7v7h-7zM954.5 259.5h7v7h-7zM962.5 245.5h7v7h-7zM973 312.5h7v7h-7zM962.5 241h7v7h-7zM965.5 248.5h7v7h-7zM965.5 266.5h7v7h-7zM954 244h7v7h-7zM950.5 258.5h7v7h-7zM945.5 323h7v7h-7zM974 334h7v7h-7zM947.5 295h7v7h-7zM961 274h7v7h-7zM960.5 252h7v7h-7zM946.5 298.5h7v7h-7zM949.5 269.5h7v7h-7zM969 268.5h7v7h-7zM947.5 293.5h7v7h-7zM950.5 251.5h7v7h-7zM947 298h7v7h-7zM963 262h7v7h-7zM946.5 302h7v7h-7zM953 229.5h7v7h-7zM972.5 327h7v7h-7zM946 320h7v7h-7zM944 329.5h7v7h-7zM973.5 327.5h7v7h-7zM967 248h7v7h-7zM965.5 260.5h7v7h-7zM953.5 258h7v7h-7zM945 315.5h7v7h-7zM948.5 260h7v7h-7zM950 263.5h7v7h-7zM952.5 258.5h7v7h-7zM957 241h7v7h-7zM946.5 300.5h7v7h-7zM945 321.5h7v7h-7zM952.5 251.5h7v7h-7zM967.5 272.5h7v7h-7zM957 263h7v7h-7zM952 257h7v7h-7zM950.5 247.5h7v7h-7zM970 254.5h7v7h-7zM955 264h7v7h-7zM952.5 236.5h7v7h-7zM955 252.5h7v7h-7zM950 239h7v7h-7zM944 306.5h7v7h-7zM951.5 221h7v7h-7zM959 230.5h7v7h-7zM966.5 227h7v7h-7zM974 316h7v7h-7zM949 157.5h7v7h-7zM966 194.5h7v7h-7zM955 221h7v7h-7zM966.5 227h7v7h-7z" fill="#ff5252"/>
<path d="M974.3 344.2h3.6v2.7h-3.6zM959.9 302.8h3.1v2.5h-3.1zM949.9 365.7h2.8v3.4h-2.8zM950.3 327h2.4v3.4h-2.4zM966.8 295.2h4v3.7h-4zM949.3 362.9h2v4.4h-2z" fill="#fff"/>
<path d="M981.3 436L981.3 327.6L983.8 329.3L986.4 330.8L988.9 328.7L991.5 327.7L994 324.1L996.6 325.5L999.1 321.4L1001.7 319L1004.2 318.3L1006.8 318.5L1009.4 309.6L1011.9 311.2L1014.5 310L1017 309.4L1017 436Z" fill="#5252ff"/>
<path d="M1003.5 319h0M990 302.5h0M986 311h0M999 313h0M989 307h0M990.5 305h0M998.5 320h0M988.5 325.5h0M986.5 308.5h0M991.5 290h0M992.5 309.5h0M990 314h0M993 324.5h0M989 320.5h0M987 328h0M995.5 302.5h0M991.5 305.5h0M1004 288.5h0M1013 265h0M994.5 306h0M1011.5 276h0M1006.5 278.5h0M999 312h0M997.5 295h0M997 321.5h0M1010 309h0M1012 276h0M998.5 280h0M989 323h0M987.5 326.5h0M997.5 322.5h0M1005 303h0M996.5 311h0M993.5 293h0M989.5 312h0M988.5 313h0M995 321h0M1007.5 315.5h0M1007.5 306h0M990.5 324.5h0M1010 310.5h0M1009 306h0M1002 300.5h0M1004 306h0M998 311h0M1002 291.5h0M994 290h0M1013 288.5h0M1004 281.5h0M1006 284h0M985.5 322h0M1010.5 287h0M1006 315.5h0M987.5 327h0M992 303.5h0M1005 316h0M1011.5 279h0M986.5 310h0M995 281.5h0M1003.5 272h0M1012 262.5h0M1015.5 238h0M1015.5 248.5h0M991.5 259h0M1008 263.5h0M991.5 282.5h0" stroke="#5252ff" stroke-width="7.6" stroke-linecap="round" fill="none"/>
<path d="M994.8 342.7h4.4v3.8h-4.4zM988.1 337.5h4.3v2.3h-4.3zM1011.8 316.6h3.9v1.9h-3.9zM1009.9 316.7h2.1v4.3h-2.1zM1008.5 375.3h2.4v2.9h-2.4z" fill="#fff"/>
<path d="M1017 436L1017 348.6L1019.6 349L1022.3 348.2L1024.9 350.7L1027.5 350.9L1030.2 348.6L1032.8 347.8L1035.4 337.7L1038.1 340.7L1040.7 370.5L1043.3 381L1046 387.5L1048.6 382.9L1051.2 378.6L1053.9 373.6L1056.5 377.2L1056.5 436ZM1028.5 317.5l3.5 7h-7zM1031.5 341.5l3.5 7h-7zM1045.5 347l3.5 7h-7zM1023 288.5l3.5 7h-7zM1038.5 297.5l3.5 7h-7zM1029 320.5l3.5 7h-7zM1050 367.5l3.5 7h-7zM1045.5 371l3.5 7h-7zM1047 373.5l3.5 7h-7zM1046.5 376l3.5 7h-7zM1041 348.5l3.5 7h-7zM1027 348.5l3.5 7h-7zM1036 283l3.5 7h-7zM1042 334l3.5 7h-7zM1044 371l3.5 7h-7zM1049.5 343l3.5 7h-7zM1037 303.5l3.5 7h-7zM1026.5 326l3.5 7h-7zM1035.5 285.5l3.5 7h-7zM1031 335l3.5 7h-7zM1028.5 311l3.5 7h-7zM1034 286l3.5 7h-7zM1022.5 276l3.5 7h-7zM1042 331.5l3.5 7h-7zM1031 337l3.5 7h-7zM1039 332l3.5 7h-7zM1041.5 338l3.5 7h-7zM1039.5 341l3.5 7h-7zM1043.5 343l3.5 7h-7zM1047.5 355l3.5 7h-7zM1035 335l3.5 7h-7zM1041.5 362.5l3.5 7h-7zM1022.5 343l3.5 7h-7zM1035.5 332.5l3.5 7h-7zM1037 314l3.5 7h-7zM1051.5 367l3.5 7h-7zM1044 366.5l3.5 7h-7zM1022.5 343l3.5 7h-7zM1028.5 346.5l3.5 7h-7zM1042.5 362.5l3.5 7h-7zM1040.5 345.5l3.5 7h-7zM1028 325l3.5 7h-7zM1021 320l3.5 7h-7zM1030.5 309.5l3.5 7h-7zM1031.5 307l3.5 7h-7zM1053 364l3.5 7h-7zM1025.5 342l3.5 7h-7zM1037.5 333.5l3.5 7h-7zM1026 333.5l3.5 7h-7zM1023 340.5l3.5 7h-7zM1022.5 320l3.5 7h-7zM1040.5 335.5l3.5 7h-7zM1039 319l3.5 7h-7zM1045 381l3.5 7h-7zM1028.5 320l3.5 7h-7zM1026 309l3.5 7h-7zM1048 353.5l3.5 7h-7zM1036 311.5l3.5 7h-7zM1034.5 334.5l3.5 7h-7zM1034.5 328l3.5 7h-7zM1040 332l3.5 7h-7zM1026.5 347.5l3.5 7h-7zM1038 331l3.5 7h-7zM1020.5 302l3.5 7h-7zM1050.5 341.5l3.5 7h-7zM1022 276.5l3.5 7h-7zM1023 323l3.5 7h-7zM1049 367.5l3.5 7h-7zM1036 311.5l3.5 7h-7zM1042.5 361.5l3.5 7h-7zM1048.5 379.5l3.5 7h-7zM1041 356.5l3.5 7h-7zM1042.5 370.5l3.5 7h-7zM1043.5 353.5l3.5 7h-7zM1024.5 289l3.5 7h-7zM1047.5 352l3.5 7h-7zM1023 333l3.5 7h-7zM1030 316l3.5 7h-7zM1048 379.5l3.5 7h-7zM1038.5 284.5l3.5 7h-7zM1034 299l3.5 7h-7zM1050 338.5l3.5 7h-7zM1044.5 380.5l3.5 7h-7zM1033 333.5l3.5 7h-7zM1020.5 284.5l3.5 7h-7zM1039.5 303l3.5 7h-7zM1027 339l3.5 7h-7zM1042.5 355l3.5 7h-7zM1048 367l3.5 7h-7zM1044.5 380.5l3.5 7h-7zM1032.5 327.5l3.5 7h-7zM1028 307l3.5 7h-7zM1043.5 337.5l3.5 7h-7zM1050 368l3.5 7h-7zM1048.5 351.5l3.5 7h-7zM1020.5 250.5l3.5 7h-7zM1028.5 306.5l3.5 7h-7zM1036.5 274l3.5 7h-7zM1045 344.5l3.5 7h-7zM1052 312l3.5 7h-7zM1052 182.5l3.5 7h-7z" fill="#52ff52"/>
<path d="M1029.3 394.6h2v2.5h-2zM1023.6 351.7h4.3v2.1h-4.3zM1025.1 353.8h2.7v2.5h-2.7zM1046.9 400.6h3.9v4h-3.9zM1020.5 367.4h2.7v3.7h-2.7zM1035.9 368.3h4.1v4.1h-4.1zM1047.4 386h2.4v2.7h-2.4zM1050.4 390.9h2v4.4h-2zM1032.4 374.9h3.7v4.5h-3.7zM1037.9 367.7h2.4v2.1h-2.4zM1020.9 411.6h2v3h-2zM1039.7 370.4h3.5v2.2h-3.5zM1050.4 381.8h4.2v3.4h-4.2zM1033.1 356.5h4.1v2h-4.1zM1019.9 401.8h2v3.7h-2zM1018 356.3h3.4v3.4h-3.4zM1032.4 388h1.9v3.9h-1.9zM1018.4 371h2v2.2h-2zM1047.3 398.7h2.7v3.8h-2.7zM1021.5 384.9h3.2v2.8h-3.2zM1034.8 358.8h2.2v3.7h-2.2zM1027.7 375.4h4v2.6h-4zM1052.3 394.4h3.6v4.2h-3.6zM1049.5 421.4h2.3v4.4h-2.3zM1028.9 380.1h3.7v3.5h-3.7zM1043.2 386.8h3.4v2.6h-3.4zM1044.3 397.2h2.6v2.8h-2.6zM1032 377.7h3.8v3.9h-3.8zM1022.9 349.5h1.9v3.8h-1.9zM1051.4 392.2h3.2v2.9h-3.2zM1032.3 352.9h4.5v2.9h-4.5zM1052.8 407.6h3.9v2h-3.9zM1050.2 401.7h1.9v3.5h-1.9zM1047.3 393.9h3v4.4h-3zM1034.8 380h2.5v3h-2.5zM1045.9 403.4h3.3v3.1h-3.3zM1042.2 378.5h3v4.3h-3zM1025 396.8h3.2v1.9h-3.2zM1035.6 361h2.3v2.4h-2.3z" fill="#fff"/>
<path d="M1056.5 436L1056.5 375.2L1059.1 378.1L1061.6 376.6L1064.2 367.2L1066.8 355.7L1069.3 355.1L1071.9 351.4L1074.4 345L1077 343.2L1079.6 339.9L1082.1 338.3L1084.7 338L1087.2 339.4L1089.8 355.9L1092.4 357.3L1094.9 362.6L1097.5 363.9L1097.5 436Z" fill="#ffff4f"/>
<path d="M1085 314h0M1072.5 348.5h0M1069.5 340h0M1088.5 341.5h0M1093 361h0M1090 344h0M1094 346h0M1090 334.5h0M1087.5 339h0M1075.5 328h0M1065 336.5h0M1070 350h0M1069 351.5h0M1065.5 334h0M1070 350.5h0M1065 343.5h0M1063.5 349h0M1074.5 339.5h0M1063 357h0M1081.5 334.5h0M1066 357h0M1066 348.5h0M1060.5 375.5h0M1085 330h0M1093 357.5h0M1081.5 337h0M1080 337h0M1069 328.5h0M1060.5 358h0M1070.5 334h0M1080.5 339h0M1068.5 331.5h0M1093 360h0M1081.5 330h0M1069.5 334h0M1064.5 353h0M1062 371h0M1061 374.5h0M1093.5 346h0M1092 340h0M1062 352h0M1071.5 349h0M1086.5 339.5h0M1072 332.5h0M1081.5 317h0M1088 328h0M1060 365h0M1072 336.5h0M1081.5 330.5h0M1061 348h0M1068.5 329h0M1076.5 300.5h0M1085.5 310h0M1094 338.5h0M1088.5 230.5h0M1078 259.5h0M1096 292h0M1063 320.5h0M1078 272h0M1082 286h0M1075 281.5h0M1087 276.5h0M1091 295.5h0M1081 295.5h0M1070 310h0M1097 286h0" stroke="#ffff4f" stroke-width="7.6" stroke-linecap="round" fill="none"/>
<path d="M1063.6 381.6h3.9v2.7h-3.9zM1089.6 370.3h3.2v2.2h-3.2zM1075.8 369.9h4.4v3.3h-4.4zM1083.8 347.9h4.2v2.3h-4.2z" fill="#fff"/>
<path d="M1097.5 436L1097.5 355.5L1100.1 359L1102.6 352.3L1105.2 342.9L1107.8 314.3L1110.3 309.2L1112.9 305.7L1115.4 292.7L1118 293.6L1120.6 295.8L1123.1 319.1L1125.7 325.4L1128.2 330.8L1130.8 345.2L1133.4 348.8L1135.9 345.5L1138.5 346.6L1138.5 436ZM1118.7 298.6h7.7v3.9h-7.7zM1122.2 315.6h7.7v3.9h-7.7zM1102.7 310.6h7.7v3.9h-7.7zM1129.2 339.6h7.7v3.9h-7.7zM1122.7 308.6h7.7v3.9h-7.7zM1124.7 318.6h7.7v3.9h-7.7zM1109.7 255.1h7.7v3.9h-7.7zM1107.7 250.1h7.7v3.9h-7.7zM1117.7 291.1h7.7v3.9h-7.7zM1101.7 330.6h7.7v3.9h-7.7zM1107.7 298.1h7.7v3.9h-7.7zM1099.7 348.1h7.7v3.9h-7.7zM1128.7 323.1h7.7v3.9h-7.7zM1121.7 318.1h7.7v3.9h-7.7zM1098.7 336.6h7.7v3.9h-7.7zM1111.7 247.1h7.7v3.9h-7.7zM1113.2 269.1h7.7v3.9h-7.7zM1102.7 285.6h7.7v3.9h-7.7zM1112.2 292.1h7.7v3.9h-7.7zM1112.2 238.6h7.7v3.9h-7.7zM1104.2 289.6h7.7v3.9h-7.7zM1117.2 268.6h7.7v3.9h-7.7zM1101.7 311.1h7.7v3.9h-7.7zM1105.7 256.6h7.7v3.9h-7.7zM1114.7 261.6h7.7v3.9h-7.7zM1101.7 333.6h7.7v3.9h-7.7zM1107.2 300.6h7.7v3.9h-7.7zM1098.7 346.6h7.7v3.9h-7.7zM1122.2 326.1h7.7v3.9h-7.7zM1118.2 271.1h7.7v3.9h-7.7zM1100.2 325.6h7.7v3.9h-7.7zM1120.2 300.6h7.7v3.9h-7.7zM1127.7 331.1h7.7v3.9h-7.7zM1102.7 293.6h7.7v3.9h-7.7zM1110.7 281.6h7.7v3.9h-7.7zM1123.2 328.1h7.7v3.9h-7.7zM1122.2 326.6h7.7v3.9h-7.7zM1109.2 302.6h7.7v3.9h-7.7zM1111.7 285.6h7.7v3.9h-7.7zM1119.7 309.1h7.7v3.9h-7.7zM1121.7 321.6h7.7v3.9h-7.7zM1101.2 340.6h7.7v3.9h-7.7zM1116.7 277.1h7.7v3.9h-7.7zM1129.2 342.6h7.7v3.9h-7.7zM1127.2 323.1h7.7v3.9h-7.7zM1126.2 332.1h7.7v3.9h-7.7zM1119.7 318.6h7.7v3.9h-7.7zM1129.2 342.1h7.7v3.9h-7.7zM1111.7 280.1h7.7v3.9h-7.7zM1100.2 336.6h7.7v3.9h-7.7zM1117.2 293.6h7.7v3.9h-7.7zM1100.7 345.6h7.7v3.9h-7.7zM1108.2 250.1h7.7v3.9h-7.7zM1102.7 299.1h7.7v3.9h-7.7zM1114.7 276.6h7.7v3.9h-7.7zM1128.2 337.6h7.7v3.9h-7.7zM1108.7 242.1h7.7v3.9h-7.7zM1100.2 330.1h7.7v3.9h-7.7zM1118.7 297.6h7.7v3.9h-7.7zM1114.7 275.6h7.7v3.9h-7.7zM1105.2 279.1h7.7v3.9h-7.7zM1110.2 264.1h7.7v3.9h-7.7zM1098.2 336.6h7.7v3.9h-7.7zM1106.2 241.6h7.7v3.9h-7.7zM1114.2 237.1h7.7v3.9h-7.7zM1121.7 295.6h7.7v3.9h-7.7zM1130.7 327.1h7.7v3.9h-7.7zM1114.7 112.1h7.7v3.9h-7.7zM1114.7 131.1h7.7v3.9h-7.7zM1114.7 135.6h7.7v3.9h-7.7zM1114.7 149.1h7.7v3.9h-7.7zM1114.7 163.1h7.7v3.9h-7.7zM1114.7 228.6h7.7v3.9h-7.7z" fill="#ff52ff"/>
<path d="M1114.3 353.5h2.8v2.9h-2.8zM1120.5 318.2h3.7v3.6h-3.7zM1100 362h3.8v2.4h-3.8zM1132.3 351.3h2.3v2h-2.3zM1100.9 363.1h1.9v3.9h-1.9z" fill="#fff"/>
<path d="M1138.5 436L1138.5 356.8L1141.1 357L1143.6 355.1L1146.2 351.7L1148.8 351.6L1151.3 347.4L1153.9 340.8L1156.5 339.2L1159 343.2L1161.6 352.7L1164.2 379.8L1166.7 387L1169.3 385.5L1169.3 436ZM1153.5 322.5l3.5 -7h-7zM1158 327l3.5 -7h-7zM1166 388l3.5 -7h-7zM1153.5 339.5l3.5 -7h-7zM1165 361l3.5 -7h-7zM1153 309.5l3.5 -7h-7zM1162 366l3.5 -7h-7zM1157 306.5l3.5 -7h-7zM1147.5 335l3.5 -7h-7zM1145 343l3.5 -7h-7zM1159 336l3.5 -7h-7zM1156.5 318l3.5 -7h-7zM1155 326.5l3.5 -7h-7zM1146.5 323l3.5 -7h-7zM1162 361.5l3.5 -7h-7zM1146.5 352.5l3.5 -7h-7zM1162.5 346.5l3.5 -7h-7zM1157 342l3.5 -7h-7zM1150 335.5l3.5 -7h-7zM1147.5 352.5l3.5 -7h-7zM1158 300l3.5 -7h-7zM1146 351l3.5 -7h-7zM1164 383l3.5 -7h-7zM1148 352.5l3.5 -7h-7zM1165 381l3.5 -7h-7zM1144.5 353l3.5 -7h-7zM1151.5 316l3.5 -7h-7zM1146.5 346.5l3.5 -7h-7zM1146.5 335.5l3.5 -7h-7zM1145.5 349l3.5 -7h-7zM1153.5 314l3.5 -7h-7zM1161 340l3.5 -7h-7zM1143 349.5l3.5 -7h-7zM1148.5 324l3.5 -7h-7zM1150.5 348l3.5 -7h-7zM1154 298.5l3.5 -7h-7zM1162.5 349l3.5 -7h-7zM1157.5 340l3.5 -7h-7zM1150.5 321l3.5 -7h-7zM1146 344l3.5 -7h-7zM1164 372.5l3.5 -7h-7zM1152 348.5l3.5 -7h-7zM1142.5 342l3.5 -7h-7zM1150 313.5l3.5 -7h-7zM1157.5 292.5l3.5 -7h-7zM1165.5 360.5l3.5 -7h-7zM1143 163l3.5 -7h-7zM1153 275.5l3.5 -7h-7zM1141 292.5l3.5 -7h-7zM1166 363.5l3.5 -7h-7z" fill="#52ffff"/>
<path d="M1148.5 406.5h4.3v4.4h-4.3zM1149.4 353.9h2.8v2.8h-2.8zM1142.9 361.1h1.8v2.5h-1.8z" fill="#fff"/>
<path d="M1169.3 436L1169.3 376.9L1172 376.2L1174.6 378L1177.2 373.2L1179.9 355.6L1182.5 354.8L1185.2 348.5L1187.8 342L1190.5 322.4L1193.2 314.6L1195.8 307.9L1198.5 318.5L1201.1 322.8L1203.8 352.3L1206.4 354.6L1209 356L1211.7 358.8L1211.7 436ZM1177.7 303.6h7.7v3.9h-7.7zM1187.7 279.6h7.7v3.9h-7.7zM1199.2 328.6h7.7v3.9h-7.7zM1173.7 320.6h7.7v3.9h-7.7zM1179.7 302.6h7.7v3.9h-7.7zM1172.2 336.1h7.7v3.9h-7.7zM1179.2 349.6h7.7v3.9h-7.7zM1174.2 339.1h7.7v3.9h-7.7zM1171.2 291.6h7.7v3.9h-7.7zM1201.7 350.1h7.7v3.9h-7.7zM1171.2 372.6h7.7v3.9h-7.7zM1199.7 343.6h7.7v3.9h-7.7zM1189.2 305.1h7.7v3.9h-7.7zM1183.2 279.1h7.7v3.9h-7.7zM1194.7 279.1h7.7v3.9h-7.7zM1190.7 285.6h7.7v3.9h-7.7zM1182.7 288.1h7.7v3.9h-7.7zM1193.7 289.1h7.7v3.9h-7.7zM1172.2 310.1h7.7v3.9h-7.7zM1198.7 322.1h7.7v3.9h-7.7zM1179.7 319.6h7.7v3.9h-7.7zM1177.7 307.6h7.7v3.9h-7.7zM1189.7 292.1h7.7v3.9h-7.7zM1187.2 316.1h7.7v3.9h-7.7zM1201.7 351.6h7.7v3.9h-7.7zM1182.2 329.6h7.7v3.9h-7.7zM1189.2 278.6h7.7v3.9h-7.7zM1178.2 336.1h7.7v3.9h-7.7zM1189.7 277.6h7.7v3.9h-7.7zM1187.7 270.6h7.7v3.9h-7.7zM1186.2 315.6h7.7v3.9h-7.7zM1186.7 327.6h7.7v3.9h-7.7zM1170.7 334.1h7.7v3.9h-7.7zM1196.7 302.6h7.7v3.9h-7.7zM1182.2 325.1h7.7v3.9h-7.7zM1174.7 363.6h7.7v3.9h-7.7zM1198.2 343.1h7.7v3.9h-7.7zM1177.7 337.1h7.7v3.9h-7.7zM1196.7 283.6h7.7v3.9h-7.7zM1199.7 318.6h7.7v3.9h-7.7zM1198.2 322.6h7.7v3.9h-7.7zM1198.7 330.6h7.7v3.9h-7.7zM1186.7 278.6h7.7v3.9h-7.7zM1182.2 325.6h7.7v3.9h-7.7zM1172.7 324.6h7.7v3.9h-7.7zM1200.7 337.6h7.7v3.9h-7.7zM1196.2 286.1h7.7v3.9h-7.7zM1196.7 310.1h7.7v3.9h-7.7zM1170.7 320.6h7.7v3.9h-7.7zM1190.7 277.6h7.7v3.9h-7.7zM1170.2 309.6h7.7v3.9h-7.7zM1169.7 348.6h7.7v3.9h-7.7zM1184.7 320.1h7.7v3.9h-7.7zM1188.2 284.1h7.7v3.9h-7.7zM1197.7 294.1h7.7v3.9h-7.7zM1179.2 329.6h7.7v3.9h-7.7zM1185.7 304.1h7.7v3.9h-7.7zM1200.7 316.1h7.7v3.9h-7.7zM1191.7 304.6h7.7v3.9h-7.7zM1173.2 297.1h7.7v3.9h-7.7zM1197.7 329.6h7.7v3.9h-7.7zM1191.7 300.1h7.7v3.9h-7.7zM1196.2 304.6h7.7v3.9h-7.7zM1200.7 307.6h7.7v3.9h-7.7zM1194.2 296.6h7.7v3.9h-7.7zM1197.7 296.6h7.7v3.9h-7.7zM1181.7 327.1h7.7v3.9h-7.7zM1176.2 307.6h7.7v3.9h-7.7zM1176.7 303.6h7.7v3.9h-7.7zM1202.7 330.1h7.7v3.9h-7.7zM1174.2 333.1h7.7v3.9h-7.7zM1173.7 346.6h7.7v3.9h-7.7zM1174.2 343.6h7.7v3.9h-7.7zM1193.7 306.6h7.7v3.9h-7.7zM1182.7 338.6h7.7v3.9h-7.7zM1176.2 287.1h7.7v3.9h-7.7zM1200.7 318.1h7.7v3.9h-7.7zM1174.2 328.6h7.7v3.9h-7.7zM1189.2 288.6h7.7v3.9h-7.7zM1202.2 352.6h7.7v3.9h-7.7zM1179.7 325.1h7.7v3.9h-7.7zM1175.2 319.6h7.7v3.9h-7.7zM1179.2 349.6h7.7v3.9h-7.7zM1176.7 324.1h7.7v3.9h-7.7zM1200.7 328.6h7.7v3.9h-7.7zM1184.2 290.6h7.7v3.9h-7.7zM1197.7 331.6h7.7v3.9h-7.7zM1194.7 274.6h7.7v3.9h-7.7zM1191.2 265.6h7.7v3.9h-7.7zM1188.2 285.6h7.7v3.9h-7.7zM1186.7 286.1h7.7v3.9h-7.7zM1174.7 359.6h7.7v3.9h-7.7zM1179.7 329.1h7.7v3.9h-7.7zM1186.7 275.6h7.7v3.9h-7.7zM1190.7 276.6h7.7v3.9h-7.7zM1193.2 296.1h7.7v3.9h-7.7zM1192.2 272.6h7.7v3.9h-7.7zM1176.2 342.6h7.7v3.9h-7.7zM1196.7 310.6h7.7v3.9h-7.7zM1174.2 336.6h7.7v3.9h-7.7zM1201.2 351.1h7.7v3.9h-7.7zM1200.7 327.6h7.7v3.9h-7.7zM1183.7 308.1h7.7v3.9h-7.7zM1169.7 349.6h7.7v3.9h-7.7zM1187.2 292.6h7.7v3.9h-7.7zM1201.7 309.6h7.7v3.9h-7.7zM1172.2 289.1h7.7v3.9h-7.7zM1180.7 279.6h7.7v3.9h-7.7zM1193.2 260.6h7.7v3.9h-7.7zM1201.7 308.1h7.7v3.9h-7.7zM1175.7 193.6h7.7v3.9h-7.7zM1187.2 203.1h7.7v3.9h-7.7zM1187.2 219.1h7.7v3.9h-7.7zM1175.7 230.1h7.7v3.9h-7.7zM1199.2 239.1h7.7v3.9h-7.7z" fill="#ffaaaa"/>
<path d="M1173.6 377.3h3.2v2.1h-3.2zM1203.1 408.8h3.8v2.8h-3.8zM1198.1 380.7h3.7v4.4h-3.7zM1180.5 400.4h3.2v3.1h-3.2zM1195.7 364.8h3.6v4.3h-3.6zM1170.5 411.6h4.4v2.7h-4.4zM1185.6 380h4.2v4h-4.2zM1181.1 366.1h2.1v3.1h-2.1zM1198.9 348.1h3.2v3h-3.2zM1195.8 401h1.9v3.4h-1.9zM1188 367.8h4.1v3.1h-4.1zM1190.7 330.9h2.7v3.7h-2.7zM1182.2 353h4v3.1h-4zM1196.5 366.8h2v2.8h-2zM1199.9 323.1h2.7v2.6h-2.7zM1208.1 358.5h3.6v2.3h-3.6zM1199.7 345.3h2.2v2.2h-2.2zM1203.7 380.4h3.3v3.8h-3.3zM1197.5 351h2.6v2.4h-2.6zM1184.1 361.8h4.4v2.8h-4.4zM1186.3 352.2h4.2v1.9h-4.2zM1185.5 387.2h3.4v4.3h-3.4zM1192.6 338.3h3.3v2.6h-3.3zM1198.7 341.4h2v3.5h-2zM1176.9 378.6h3.8v4.3h-3.8zM1194.7 401.3h4.1v3.8h-4.1zM1202.7 375.2h3.5v3.2h-3.5zM1207 370.6h3v2h-3zM1176.8 399.4h3v4.2h-3zM1197.3 390.2h4.5v2.4h-4.5zM1177.4 393.2h2.8v4h-2.8zM1199 361.9h2.3v3.1h-2.3zM1179.6 415.6h4.2v2.9h-4.2zM1204.3 362.5h3v3.5h-3zM1201.8 353h4v3h-4zM1194.5 325.5h3.5v3.4h-3.5zM1175.5 381.1h2.4v3.1h-2.4zM1177.1 380.9h3.2v3.9h-3.2zM1195.5 371.3h2.6v2.9h-2.6zM1171.1 418.4h2.2v3h-2.2zM1204.3 403.9h2v2.9h-2zM1190.7 405.9h3.3v3.1h-3.3zM1177.8 402.1h3.1v3.9h-3.1zM1196 325.6h3.6v1.9h-3.6zM1201.2 412.2h2.2v3.2h-2.2zM1172.3 382.7h3.4v4.4h-3.4zM1201.7 358.3h2.7v2.6h-2.7zM1207.4 376h4.5v2.4h-4.5zM1200.3 327.3h2v3.5h-2zM1192.2 341.7h3.7v2.4h-3.7zM1204.9 359.2h2v3.3h-2zM1202.3 350.2h2.5v2.2h-2.5zM1196.8 333.4h3v4.2h-3zM1174.4 379.9h4.5v2h-4.5zM1207.4 359.7h3.8v3.9h-3.8zM1205.4 362.9h1.9v4h-1.9zM1188.3 374.7h2.3v3.6h-2.3zM1198.7 319.4h4.2v2h-4.2zM1172.7 380.4h2.9v2.3h-2.9zM1190.1 405.4h2.8v3.6h-2.8zM1184.8 380.6h4v4.4h-4zM1202.1 379h3v4.3h-3zM1192.6 413.3h2.6v3h-2.6zM1186.8 352.5h3.7v3.8h-3.7zM1191.5 339.1h1.9v2.7h-1.9zM1171.4 381.3h2v2.4h-2zM1175.6 399.6h4.3v3.8h-4.3zM1196 321.6h2.2v2.4h-2.2zM1199.2 331.7h3.5v2.8h-3.5zM1175.4 387.4h3.5v1.9h-3.5zM1206.8 372.1h2.1v3h-2.1zM1203.1 388h3.7v1.9h-3.7zM1173.2 396.7h2.3v3.9h-2.3zM1188.4 390.2h4.3v3.8h-4.3zM1176.6 401.3h4.4v2.3h-4.4zM1172.2 395.9h4.2v3.9h-4.2zM1170.4 407h3.1v3.3h-3.1zM1195.4 369.6h3.5v2.4h-3.5zM1177.6 405.3h4.4v3.7h-4.4zM1183.4 360.2h3.3v3.1h-3.3zM1171.7 386.7h2.6v3h-2.6zM1184.9 390.7h3.6v3.6h-3.6zM1198.9 344h3.8v2.2h-3.8zM1175.9 421.6h4.1v4.4h-4.1zM1185.4 398h2.8v3.4h-2.8zM1188.9 359.3h1.8v3.6h-1.8zM1171 377.1h3.9v2.6h-3.9zM1175.6 376.5h2.2v2.7h-2.2zM1178 373.8h4.3v3.5h-4.3zM1196.3 349.3h3.3v2.3h-3.3zM1204.2 356.2h3.1v3.4h-3.1zM1188 346.9h2.5v1.9h-2.5zM1176.8 374.3h3.6v1.9h-3.6zM1173.9 406.6h3.6v4h-3.6zM1197.2 320.8h3.4v3.3h-3.4zM1193.3 321.6h3.1v2.7h-3.1zM1185.8 376.8h4v4.4h-4zM1205.8 389.2h2.8v4.1h-2.8z" fill="#fff"/>
<path d="M1211.7 436L1211.7 327.8L1214.4 329L1217.1 325.9L1219.8 312.9L1222.5 310L1225.2 313.3L1227.8 315L1230.5 315.5L1233.2 322.3L1235.9 330.7L1238.6 344.4L1241.3 346.2L1244 347.2L1244 436ZM1243.5 346.5l-7 -3.5v7zM1229.5 294l-7 -3.5v7zM1235 302l-7 -3.5v7zM1230 309l-7 -3.5v7zM1222 322.5l-7 -3.5v7zM1219.5 323.5l-7 -3.5v7zM1236.5 316.5l-7 -3.5v7zM1233 314l-7 -3.5v7zM1219 314l-7 -3.5v7zM1226.5 293.5l-7 -3.5v7zM1235.5 307.5l-7 -3.5v7zM1219 288.5l-7 -3.5v7zM1236 315l-7 -3.5v7zM1219 289.5l-7 -3.5v7zM1226.5 282.5l-7 -3.5v7zM1229.5 310l-7 -3.5v7zM1232.5 316.5l-7 -3.5v7zM1240 328l-7 -3.5v7zM1234 295.5l-7 -3.5v7zM1219 280l-7 -3.5v7zM1227.5 301l-7 -3.5v7zM1226.5 305.5l-7 -3.5v7zM1242 331.5l-7 -3.5v7zM1221.5 316.5l-7 -3.5v7zM1223 290.5l-7 -3.5v7zM1223 285.5l-7 -3.5v7zM1233.5 311.5l-7 -3.5v7zM1240 319l-7 -3.5v7zM1224.5 300l-7 -3.5v7zM1242.5 346l-7 -3.5v7zM1219 304.5l-7 -3.5v7zM1238.5 314.5l-7 -3.5v7zM1237.5 315l-7 -3.5v7zM1220 318.5l-7 -3.5v7zM1227 308l-7 -3.5v7zM1219.5 295.5l-7 -3.5v7zM1223 312l-7 -3.5v7zM1239 326l-7 -3.5v7zM1241 317.5l-7 -3.5v7zM1222 307.5l-7 -3.5v7zM1233 295l-7 -3.5v7zM1226 311l-7 -3.5v7zM1231.5 314l-7 -3.5v7zM1230.5 293.5l-7 -3.5v7zM1240.5 335l-7 -3.5v7zM1226.5 287.5l-7 -3.5v7zM1237.5 306.5l-7 -3.5v7zM1219 272l-7 -3.5v7zM1227.5 281.5l-7 -3.5v7zM1235.5 291l-7 -3.5v7zM1243 319.5l-7 -3.5v7zM1219.5 181l-7 -3.5v7zM1216 238l-7 -3.5v7zM1222.5 238l-7 -3.5v7zM1229.5 262.5l-7 -3.5v7zM1218.5 268l-7 -3.5v7zM1218.5 277.5l-7 -3.5v7zM1244.5 289l-7 -3.5v7z" fill="#808080"/>
<path d="M1223.9 334.5h4.2v2.7h-4.2zM1241 368.2h2.8v2.1h-2.8zM1226.9 333.9h3.5v2.7h-3.5zM1216.9 329.7h4.5v2.7h-4.5z" fill="#fff"/>
<path d="M1244 436L1244 358L1246.6 358.1L1249.2 355.9L1251.8 355.9L1254.3 354.7L1256.9 357.9L1259.5 357.1L1262.1 365L1264.7 366L1267.3 360.2L1269.8 346.5L1272.4 342.7L1275 339L1277.6 339.4L1277.6 436ZM1252.6 295.5h3.9v7h-3.9zM1253.1 326h3.9v7h-3.9zM1263.6 331h3.9v7h-3.9zM1269.6 332h3.9v7h-3.9zM1259.6 331h3.9v7h-3.9zM1255.1 314h3.9v7h-3.9zM1269.1 241.5h3.9v7h-3.9zM1255.6 291h3.9v7h-3.9zM1264.1 349.5h3.9v7h-3.9zM1247.6 338.5h3.9v7h-3.9zM1254.1 288h3.9v7h-3.9zM1272.1 298.5h3.9v7h-3.9zM1261.6 351.5h3.9v7h-3.9zM1251.1 328.5h3.9v7h-3.9zM1271.1 235h3.9v7h-3.9zM1264.6 328.5h3.9v7h-3.9zM1252.6 346h3.9v7h-3.9zM1266.6 328h3.9v7h-3.9zM1262.6 327h3.9v7h-3.9zM1252.6 341.5h3.9v7h-3.9zM1260.6 350.5h3.9v7h-3.9zM1259.6 344.5h3.9v7h-3.9zM1266.6 305.5h3.9v7h-3.9zM1254.1 322h3.9v7h-3.9zM1266.6 316h3.9v7h-3.9zM1270.1 231h3.9v7h-3.9zM1264.6 320.5h3.9v7h-3.9zM1251.1 336h3.9v7h-3.9zM1258.6 352.5h3.9v7h-3.9zM1259.6 347h3.9v7h-3.9zM1247.6 325.5h3.9v7h-3.9zM1260.1 334.5h3.9v7h-3.9zM1251.1 333h3.9v7h-3.9zM1253.6 304h3.9v7h-3.9zM1247.6 341h3.9v7h-3.9zM1268.1 280.5h3.9v7h-3.9zM1250.1 342.5h3.9v7h-3.9zM1253.1 323.5h3.9v7h-3.9zM1256.1 354.5h3.9v7h-3.9zM1257.1 325h3.9v7h-3.9zM1262.1 357.5h3.9v7h-3.9zM1249.1 347.5h3.9v7h-3.9zM1248.1 344.5h3.9v7h-3.9zM1263.1 353.5h3.9v7h-3.9zM1262.1 342.5h3.9v7h-3.9zM1253.1 314.5h3.9v7h-3.9zM1266.6 290.5h3.9v7h-3.9zM1259.1 349.5h3.9v7h-3.9zM1258.1 304h3.9v7h-3.9zM1263.1 346.5h3.9v7h-3.9zM1247.6 329.5h3.9v7h-3.9zM1260.6 352.5h3.9v7h-3.9zM1259.6 336.5h3.9v7h-3.9zM1250.1 313h3.9v7h-3.9zM1266.1 345.5h3.9v7h-3.9zM1252.6 288.5h3.9v7h-3.9zM1257.1 340.5h3.9v7h-3.9zM1267.6 335h3.9v7h-3.9zM1249.6 339h3.9v7h-3.9zM1246.6 331.5h3.9v7h-3.9zM1268.1 286h3.9v7h-3.9zM1272.1 277h3.9v7h-3.9zM1254.1 351h3.9v7h-3.9zM1256.6 336.5h3.9v7h-3.9zM1258.1 342h3.9v7h-3.9zM1262.1 344h3.9v7h-3.9zM1251.6 333h3.9v7h-3.9zM1256.1 343h3.9v7h-3.9zM1260.1 360.5h3.9v7h-3.9zM1251.6 334.5h3.9v7h-3.9zM1263.6 360h3.9v7h-3.9zM1265.6 323.5h3.9v7h-3.9zM1271.1 291h3.9v7h-3.9zM1251.6 302.5h3.9v7h-3.9zM1251.6 344h3.9v7h-3.9zM1253.6 306.5h3.9v7h-3.9zM1245.6 348.5h3.9v7h-3.9zM1264.6 317h3.9v7h-3.9zM1253.6 314h3.9v7h-3.9zM1257.6 332.5h3.9v7h-3.9zM1255.1 294.5h3.9v7h-3.9zM1252.6 319.5h3.9v7h-3.9zM1265.1 309.5h3.9v7h-3.9zM1259.1 351h3.9v7h-3.9zM1266.1 357h3.9v7h-3.9zM1247.1 353h3.9v7h-3.9zM1253.6 297h3.9v7h-3.9zM1252.1 293.5h3.9v7h-3.9zM1264.6 326h3.9v7h-3.9zM1271.6 288.5h3.9v7h-3.9zM1270.6 332.5h3.9v7h-3.9zM1252.6 302.5h3.9v7h-3.9zM1263.1 332h3.9v7h-3.9zM1250.6 336.5h3.9v7h-3.9zM1254.1 352.5h3.9v7h-3.9zM1246.6 325.5h3.9v7h-3.9zM1254.6 278h3.9v7h-3.9zM1262.6 316h3.9v7h-3.9zM1271.6 211.5h3.9v7h-3.9zM1240.6 108.5h3.9v7h-3.9zM1240.6 186h3.9v7h-3.9zM1272.1 159.5h3.9v7h-3.9zM1272.1 181.5h3.9v7h-3.9zM1271.1 210h3.9v7h-3.9zM1255.1 230.5h3.9v7h-3.9zM1267.1 247.5h3.9v7h-3.9z" fill="#c00000"/>
<path d="M1259 402.5h3.6v3.9h-3.6zM1272.6 358.4h3.6v3.2h-3.6zM1251.7 366.9h4v2.4h-4zM1261.5 394.4h4.4v2.9h-4.4zM1273.2 343.3h3.6v1.9h-3.6zM1245.2 380.1h3.2v3.9h-3.2zM1264.3 387.7h2.1v4.1h-2.1zM1248.8 405.4h2.6v2.4h-2.6zM1274.3 396.1h3.8v3.4h-3.8zM1267.1 399.5h4.4v2.4h-4.4zM1273.4 339.9h1.8v3.4h-1.8zM1261.2 381.5h2.8v2.8h-2.8zM1249.5 400.7h3.9v2.1h-3.9zM1265.9 388.5h3.9v2.7h-3.9zM1274.5 355.2h2.9v2h-2.9zM1254.8 408h4v4.2h-4zM1273.5 340.5h2v3.1h-2zM1247.1 367.8h1.8v2.2h-1.8zM1259.1 404.9h1.9v4h-1.9zM1267.5 419.4h3.1v3.7h-3.1zM1265.4 373.4h4.1v3.5h-4.1zM1260.2 394.5h1.9v2.4h-1.9zM1255.4 417.8h4.3v3h-4.3zM1249.3 399.2h2.7v2.5h-2.7zM1248.1 371.8h2.5v3.7h-2.5zM1249.2 359.6h3.7v2.9h-3.7zM1258.9 372.9h4.4v3.9h-4.4zM1260.5 391.2h3.6v2.7h-3.6zM1257.8 401.8h3.3v2.4h-3.3zM1255.9 408.8h2.2v2.3h-2.2zM1246 368.2h2.1v2h-2.1zM1274.5 360h3.8v3.3h-3.8zM1273.4 364.4h3.4v2.3h-3.4zM1268.7 404.2h2.7v4.3h-2.7zM1254.6 392.3h2.9v2.4h-2.9zM1259.3 415.9h2v3.3h-2zM1252.9 420.8h2.9v4.5h-2.9zM1251.6 359h2.8v3.7h-2.8zM1266.8 382.8h4v4.1h-4zM1250.4 373.6h4.4v3.3h-4.4zM1258.9 384.8h3v3h-3zM1251.1 396h2.3v2.7h-2.3zM1251.8 366h2.6v3.6h-2.6zM1272.8 343.7h3.7v4.3h-3.7zM1262.7 365.8h2.3v4.2h-2.3zM1265.5 380.9h2.9v3.4h-2.9zM1274.5 350.1h3.1v4.4h-3.1zM1269.2 390.5h3.9v2.1h-3.9zM1271.9 391.7h4.4v2.9h-4.4zM1252.4 398.2h3.9v2.1h-3.9zM1248.2 360.5h3.5v3.4h-3.5zM1268.3 375.8h2.8v3.1h-2.8zM1271.2 417.4h2.8v3.8h-2.8zM1248.6 377.4h2.2v2.5h-2.2zM1267.1 373.5h2.6v2.9h-2.6zM1250.9 412.2h4.3v4.3h-4.3zM1273.8 383.9h2.1v4h-2.1zM1262.6 372.3h2.9v4.4h-2.9zM1262.1 372.7h2.6v2.4h-2.6zM1265.9 374.1h4.3v2.8h-4.3zM1252.3 387.9h2.3v2.3h-2.3zM1250.5 361.1h4.3v3.7h-4.3zM1245.3 359.1h4.2v2.4h-4.2zM1256.3 388.5h3.3v3.1h-3.3zM1265 378.8h4.5v3.7h-4.5zM1254.6 371.8h2.8v3.6h-2.8zM1259.3 368h3.5v3.4h-3.5zM1252.6 389.3h4.4v2h-4.4zM1274.6 384.1h1.9v2.1h-1.9zM1268.7 393.1h3.6v2.1h-3.6zM1273.6 343.3h3.1v3.9h-3.1z" fill="#fff"/>
<path d="M1277.6 436L1277.6 341.2L1280.1 336.5L1282.7 337.5L1285.2 332.5L1287.8 322.1L1290.3 320.4L1292.8 318.8L1295.4 318.9L1297.9 313.8L1300.5 311.4L1303 311L1305.5 315.6L1308.1 331.5L1310.6 336.3L1313.2 338.7L1315.7 338.8L1315.7 436ZM1306 323l7 -3.5v7zM1286 307.5l7 -3.5v7zM1296 272l7 -3.5v7zM1303.5 308l7 -3.5v7zM1279 311l7 -3.5v7zM1303.5 330l7 -3.5v7zM1281.5 315l7 -3.5v7zM1288 262l7 -3.5v7zM1302 312l7 -3.5v7zM1296.5 256.5l7 -3.5v7zM1282.5 328.5l7 -3.5v7zM1300 285.5l7 -3.5v7zM1289 264.5l7 -3.5v7zM1280.5 310.5l7 -3.5v7zM1308 320l7 -3.5v7zM1305.5 326.5l7 -3.5v7zM1293.5 294l7 -3.5v7zM1295.5 298l7 -3.5v7zM1308.5 299.5l7 -3.5v7zM1279 311l7 -3.5v7zM1292 272l7 -3.5v7zM1289 316.5l7 -3.5v7zM1301.5 295l7 -3.5v7zM1286 318.5l7 -3.5v7zM1302.5 311.5l7 -3.5v7zM1285.5 262.5l7 -3.5v7zM1296.5 263.5l7 -3.5v7zM1308.5 338.5l7 -3.5v7zM1282.5 311l7 -3.5v7zM1297 310.5l7 -3.5v7zM1308.5 292l7 -3.5v7zM1281 318.5l7 -3.5v7zM1298 254l7 -3.5v7zM1278 330.5l7 -3.5v7zM1283.5 314l7 -3.5v7zM1296 280l7 -3.5v7zM1297.5 295l7 -3.5v7zM1281.5 333l7 -3.5v7zM1282 297.5l7 -3.5v7zM1298.5 298.5l7 -3.5v7zM1307 336l7 -3.5v7zM1295 272l7 -3.5v7zM1289 257l7 -3.5v7zM1298 271.5l7 -3.5v7zM1281.5 319.5l7 -3.5v7zM1288.5 246.5l7 -3.5v7zM1305 294.5l7 -3.5v7zM1288.5 286l7 -3.5v7zM1294 271.5l7 -3.5v7zM1302.5 283l7 -3.5v7zM1278.5 334.5l7 -3.5v7zM1305.5 302l7 -3.5v7zM1288 317l7 -3.5v7zM1307 313l7 -3.5v7zM1299.5 295.5l7 -3.5v7zM1295.5 299l7 -3.5v7zM1292 247.5l7 -3.5v7zM1279.5 337.5l7 -3.5v7zM1303 286.5l7 -3.5v7zM1279 321l7 -3.5v7zM1278 336l7 -3.5v7zM1280.5 311l7 -3.5v7zM1282 334l7 -3.5v7zM1304 295.5l7 -3.5v7zM1279.5 333.5l7 -3.5v7zM1290.5 293.5l7 -3.5v7zM1281 329l7 -3.5v7zM1300.5 267.5l7 -3.5v7zM1296.5 301.5l7 -3.5v7zM1306 322l7 -3.5v7zM1281.5 310.5l7 -3.5v7zM1296 310.5l7 -3.5v7zM1288.5 307.5l7 -3.5v7zM1302.5 311.5l7 -3.5v7zM1286 303.5l7 -3.5v7zM1281.5 304l7 -3.5v7zM1286.5 318.5l7 -3.5v7zM1282 319l7 -3.5v7zM1300 300.5l7 -3.5v7zM1285 301.5l7 -3.5v7zM1301 299l7 -3.5v7zM1278.5 310l7 -3.5v7zM1289 243.5l7 -3.5v7zM1298.5 253l7 -3.5v7zM1308 291l7 -3.5v7zM1287.5 224.5l7 -3.5v7zM1290.5 235l7 -3.5v7zM1297.5 243.5l7 -3.5v7zM1287.5 247.5l7 -3.5v7zM1304.5 265.5l7 -3.5v7zM1307.5 288l7 -3.5v7zM1279.5 333.5l7 -3.5v7z" fill="#0000c0"/>
<path d="M1289.6 358h4.3v4.3h-4.3zM1310.1 371.3h3.8v3.6h-3.8zM1306.8 339h3.7v4.3h-3.7zM1282.6 422.1h2v2.7h-2zM1287.8 372.2h2.9v3.7h-2.9z" fill="#fff"/>
<path d="M1315.7 436L1315.7 291.7L1318.3 290.1L1321 291.5L1323.6 295.5L1326.2 308.8L1328.8 307L1331.5 316.1L1334.1 329.9L1336.7 336.1L1339.4 336.7L1342 338.9L1342 436ZM1321.5 297h7v7h-7zM1316.5 282.5h7v7h-7zM1318 287.5h7v7h-7zM1321 288.5h7v7h-7zM1327.5 297h7v7h-7zM1317 285h7v7h-7zM1328.5 312.5h7v7h-7zM1319.5 289.5h7v7h-7zM1333 316h7v7h-7zM1322.5 299h7v7h-7zM1316 279h7v7h-7zM1317 288h7v7h-7zM1325 298h7v7h-7zM1319 288.5h7v7h-7zM1317.5 286.5h7v7h-7zM1324.5 304h7v7h-7zM1326 292.5h7v7h-7zM1331 318.5h7v7h-7zM1323.5 303.5h7v7h-7zM1323.5 295h7v7h-7zM1329 298h7v7h-7zM1325.5 302h7v7h-7zM1331 298h7v7h-7zM1324 302h7v7h-7zM1316 278h7v7h-7zM1324.5 287.5h7v7h-7zM1334.5 297h7v7h-7zM1319.5 192.5h7v7h-7zM1333.5 184h7v7h-7zM1315.5 214.5h7v7h-7zM1334.5 212.5h7v7h-7zM1319.5 261h7v7h-7zM1325.5 256h7v7h-7zM1333.5 265.5h7v7h-7zM1334.5 299h7v7h-7z" fill="#00c000"/>
<path d="M1317.3 366.8h2.9v2.4h-2.9zM1327.7 315h3.6v3h-3.6zM1338.3 420.1h3v3.4h-3zM1330.7 422.1h2v2h-2z" fill="#fff"/>
<path d="M1342 436L1342 407.3L1344.5 403.4L1347.1 400.9L1349.6 392.7L1352.2 370.3L1354.7 364.8L1357.2 374L1359.8 391.7L1362.3 400L1364.8 404.6L1367.4 407.9L1369.9 412.4L1372.5 412.8L1375 411.3L1375 436Z" fill="#c0c000"/>
<path d="M1370 413h0M1365 353.5h0M1357 349h0M1350 380.5h0M1364 375h0M1347 369h0M1367.5 410h0M1364 368h0M1358 342h0M1348 352.5h0M1349.5 385.5h0M1351.5 358.5h0M1367.5 394.5h0M1358.5 364h0M1362 348h0M1355.5 360.5h0M1348 366.5h0M1367.5 409h0M1368 403h0M1349 388h0M1357.5 356.5h0M1369 387h0M1356.5 354h0M1348.5 398.5h0M1369.5 405h0M1350 382.5h0M1362 389h0M1367 398h0M1365.5 402.5h0M1367.5 389h0M1364 376.5h0M1357 354.5h0M1351 369.5h0M1367 367h0M1361.5 360h0M1369.5 374.5h0M1362.5 341h0M1352.5 346h0M1363 375h0M1363.5 377h0M1370.5 377h0M1359.5 343h0M1354.5 331.5h0M1349.5 378h0M1356 346.5h0M1351 348h0M1364 379h0M1351.5 343h0M1367 388h0M1369.5 411.5h0M1348 387h0M1366.5 393h0M1361.5 367h0M1353.5 350h0M1358.5 361h0M1369 397.5h0M1351.5 358.5h0M1351 358.5h0M1351.5 374h0M1360.5 394.5h0M1360 370h0M1356.5 369.5h0M1366.5 396h0M1356 356h0M1356.5 356.5h0M1346.5 357h0M1354 319.5h0M1362.5 338.5h0M1370.5 376h0M1358 259.5h0M1350 279.5h0M1357 291h0M1365 295.5h0M1358 305h0M1359 330.5h0M1372 338.5h0" stroke="#c0c000" stroke-width="7.6" stroke-linecap="round" fill="none"/>
<path d="M1363 401.8h2.9v3h-2.9zM1350.5 393.2h2.3v3.7h-2.3zM1356.8 376.2h3.3v1.9h-3.3zM1365.4 411.2h3.8v2.3h-3.8zM1369.9 418.6h3.5v3.4h-3.5zM1363.5 407.5h1.8v3.5h-1.8zM1368.6 412.3h3.6v3h-3.6zM1365.1 405.6h1.8v3.2h-1.8zM1358.4 393.2h2.7v2.3h-2.7zM1365.5 415.3h2v1.9h-2zM1363.5 428.2h3.8v3.5h-3.8zM1364.1 403.6h3.4v3.1h-3.4zM1354.2 393.9h2.6v4.2h-2.6zM1349.2 397.6h3v1.8h-3zM1363.8 405.6h4.5v2h-4.5zM1361.5 397.7h3.9v4.4h-3.9zM1346.5 418.2h3.6v2.1h-3.6zM1343.5 405.3h3.8v3.7h-3.8zM1354.5 385.1h2.5v3h-2.5zM1347.6 400.8h3.8v2.8h-3.8zM1361.8 417h1.9v3.5h-1.9zM1351.1 400.3h2.9v4.5h-2.9zM1371.1 416h3.3v4.1h-3.3zM1351.8 375.8h3.9v2.6h-3.9zM1365.2 412h2.5v2.8h-2.5zM1354.3 407.1h4.3v3.4h-4.3zM1362.2 426.2h2.1v3.5h-2.1zM1361 398.5h2.6v2.4h-2.6zM1353.3 370.2h4.3v1.9h-4.3zM1363.1 407.8h4.5v3.4h-4.5zM1358.3 384.7h3v3.2h-3zM1368.5 419.6h2.7v2.5h-2.7zM1354.6 370.9h2.1v3h-2.1zM1359.4 416.3h2.8v3.6h-2.8zM1354.7 368.1h4.3v4h-4.3zM1349.5 418h2.3v4.1h-2.3zM1343.7 409.6h4.2v3.5h-4.2zM1347.1 405h4.1v3h-4.1zM1359.9 398.4h2v2.4h-2zM1354.5 384.6h3.1v4.4h-3.1zM1353.3 383.3h3.3v2.5h-3.3zM1351.3 409.6h3.7v3.6h-3.7zM1346 406.1h3.2v3.6h-3.2zM1353.3 378.4h3.8v2.2h-3.8z" fill="#fff"/>
<path d="M1375 436L1375 340.6L1377.6 340.7L1380.2 338.2L1382.8 332L1385.4 313.5L1388 307.2L1390.6 307.4L1393.2 312L1395.8 310.3L1398.4 316.9L1401 334L1403.6 333.5L1406.2 335.7L1408.8 335.3L1408.8 436ZM1389 245l3.5 7h-7zM1399 292.5l3.5 7h-7zM1397.5 277l3.5 7h-7zM1401.5 327l3.5 7h-7zM1395.5 298.5l3.5 7h-7zM1386 290.5l3.5 7h-7zM1382 293l3.5 7h-7zM1381 330.5l3.5 7h-7zM1384 280l3.5 7h-7zM1393 290.5l3.5 7h-7zM1396 299l3.5 7h-7zM1402 310l3.5 7h-7zM1402 310l3.5 7h-7zM1401 303.5l3.5 7h-7zM1404.5 326l3.5 7h-7zM1379 333.5l3.5 7h-7zM1392.5 305.5l3.5 7h-7zM1399.5 277l3.5 7h-7zM1403 332l3.5 7h-7zM1383.5 287l3.5 7h-7zM1383 324l3.5 7h-7zM1392.5 306.5l3.5 7h-7zM1382 304.5l3.5 7h-7zM1387 226.5l3.5 7h-7zM1402 314l3.5 7h-7zM1394.5 302.5l3.5 7h-7zM1393.5 298l3.5 7h-7zM1397.5 304l3.5 7h-7zM1405 324l3.5 7h-7zM1405 297l3.5 7h-7zM1379 294l3.5 7h-7zM1400 277l3.5 7h-7zM1393.5 304.5l3.5 7h-7zM1387.5 283.5l3.5 7h-7zM1382.5 283.5l3.5 7h-7zM1402.5 329.5l3.5 7h-7zM1399 312l3.5 7h-7zM1387 267.5l3.5 7h-7zM1395 297l3.5 7h-7zM1400 314l3.5 7h-7zM1392 278l3.5 7h-7zM1396 280l3.5 7h-7zM1387 304l3.5 7h-7zM1378.5 321.5l3.5 7h-7zM1382 321l3.5 7h-7zM1389 292.5l3.5 7h-7zM1397 275l3.5 7h-7zM1399.5 308.5l3.5 7h-7zM1385.5 244l3.5 7h-7zM1398.5 289l3.5 7h-7zM1399 311l3.5 7h-7zM1389.5 280.5l3.5 7h-7zM1398 289l3.5 7h-7zM1380 308l3.5 7h-7zM1403.5 316l3.5 7h-7zM1393 274.5l3.5 7h-7zM1399.5 282.5l3.5 7h-7zM1401 314l3.5 7h-7zM1392 299l3.5 7h-7zM1384 313l3.5 7h-7zM1405 298.5l3.5 7h-7zM1405 301l3.5 7h-7zM1398 298.5l3.5 7h-7zM1390.5 272.5l3.5 7h-7zM1393 282l3.5 7h-7zM1385.5 266l3.5 7h-7zM1397.5 277l3.5 7h-7zM1403.5 329l3.5 7h-7zM1380 322.5l3.5 7h-7zM1401.5 326.5l3.5 7h-7zM1399.5 292.5l3.5 7h-7zM1391 266l3.5 7h-7zM1395.5 294l3.5 7h-7zM1379.5 287.5l3.5 7h-7zM1388.5 221l3.5 7h-7zM1396 268.5l3.5 7h-7zM1404 292l3.5 7h-7zM1387.5 194.5l3.5 7h-7zM1391 211.5l3.5 7h-7zM1391 220l3.5 7h-7zM1385 230.5l3.5 7h-7zM1400 224l3.5 7h-7zM1378 253.5l3.5 7h-7zM1400 249.5l3.5 7h-7zM1400 269.5l3.5 7h-7zM1377 284.5l3.5 7h-7z" fill="#c000c0"/>
<path d="M1390.1 317h2.5v4.2h-2.5zM1402.3 372.8h2.2v2h-2.2zM1377.7 411.6h2.5v3.9h-2.5zM1396.8 343.4h3.1v3.7h-3.1zM1401.2 370.1h1.8v3.8h-1.8z" fill="#fff"/>
<path d="M1408.8 436L1408.8 322.3L1411.3 316.7L1413.9 319.9L1416.4 314.8L1418.9 298.2L1421.5 292.4L1424 291.5L1426.6 301L1429.1 336.3L1431.6 341.9L1434.2 347.9L1436.7 350.3L1439.2 348.5L1441.8 348.8L1444.3 350.8L1446.9 353.2L1449.4 358.2L1451.9 355.8L1454.5 359.9L1457 359.9L1457 436ZM1434.5 343.5l4 4l-4 4l-4 -4zM1437.5 305.5l4 4l-4 4l-4 -4zM1452.5 340.5l4 4l-4 4l-4 -4zM1426.5 281.5l4 4l-4 4l-4 -4zM1441.5 318l4 4l-4 4l-4 -4zM1429.5 316.5l4 4l-4 4l-4 -4zM1441 339l4 4l-4 4l-4 -4zM1436.5 333.5l4 4l-4 4l-4 -4zM1413 250.5l4 4l-4 4l-4 -4zM1442.5 336l4 4l-4 4l-4 -4zM1446.5 339.5l4 4l-4 4l-4 -4zM1415 275l4 4l-4 4l-4 -4zM1421.5 279.5l4 4l-4 4l-4 -4zM1422.5 251.5l4 4l-4 4l-4 -4zM1435 309l4 4l-4 4l-4 -4zM1423 273l4 4l-4 4l-4 -4zM1431.5 300.5l4 4l-4 4l-4 -4zM1412.5 300.5l4 4l-4 4l-4 -4zM1450.5 327l4 4l-4 4l-4 -4zM1425.5 253l4 4l-4 4l-4 -4zM1449.5 291.5l4 4l-4 4l-4 -4zM1421.5 261l4 4l-4 4l-4 -4zM1449.5 346.5l4 4l-4 4l-4 -4zM1416 252l4 4l-4 4l-4 -4zM1452.5 323l4 4l-4 4l-4 -4zM1449 340.5l4 4l-4 4l-4 -4zM1429 326.5l4 4l-4 4l-4 -4zM1419 275.5l4 4l-4 4l-4 -4zM1441.5 342.5l4 4l-4 4l-4 -4zM1436 343.5l4 4l-4 4l-4 -4zM1417 282l4 4l-4 4l-4 -4zM1452 351l4 4l-4 4l-4 -4zM1439.5 331.5l4 4l-4 4l-4 -4zM1432.5 324.5l4 4l-4 4l-4 -4zM1440 310.5l4 4l-4 4l-4 -4zM1446.5 336l4 4l-4 4l-4 -4zM1421 289l4 4l-4 4l-4 -4zM1419.5 264l4 4l-4 4l-4 -4zM1433.5 299l4 4l-4 4l-4 -4zM1433.5 301.5l4 4l-4 4l-4 -4zM1423 271.5l4 4l-4 4l-4 -4zM1418 271l4 4l-4 4l-4 -4zM1434 299.5l4 4l-4 4l-4 -4zM1415.5 308l4 4l-4 4l-4 -4zM1442 312l4 4l-4 4l-4 -4zM1416.5 251l4 4l-4 4l-4 -4zM1427 296l4 4l-4 4l-4 -4zM1423 245.5l4 4l-4 4l-4 -4zM1421.5 281.5l4 4l-4 4l-4 -4zM1425 288.5l4 4l-4 4l-4 -4zM1447.5 327.5l4 4l-4 4l-4 -4zM1414 272.5l4 4l-4 4l-4 -4zM1421 287l4 4l-4 4l-4 -4zM1452.5 351l4 4l-4 4l-4 -4zM1434.5 316.5l4 4l-4 4l-4 -4zM1434.5 292.5l4 4l-4 4l-4 -4zM1451 323l4 4l-4 4l-4 -4zM1416.5 310l4 4l-4 4l-4 -4zM1445.5 326l4 4l-4 4l-4 -4zM1426 287l4 4l-4 4l-4 -4zM1441 335l4 4l-4 4l-4 -4zM1444 330.5l4 4l-4 4l-4 -4zM1415.5 297l4 4l-4 4l-4 -4zM1444 305l4 4l-4 4l-4 -4zM1440.5 334.5l4 4l-4 4l-4 -4zM1415 290.5l4 4l-4 4l-4 -4zM1415 300l4 4l-4 4l-4 -4zM1447.5 318l4 4l-4 4l-4 -4zM1440.5 330.5l4 4l-4 4l-4 -4zM1440 304.5l4 4l-4 4l-4 -4zM1447 343.5l4 4l-4 4l-4 -4zM1428.5 322.5l4 4l-4 4l-4 -4zM1436 341.5l4 4l-4 4l-4 -4zM1438 314.5l4 4l-4 4l-4 -4zM1431 283l4 4l-4 4l-4 -4zM1418 257l4 4l-4 4l-4 -4zM1440.5 340.5l4 4l-4 4l-4 -4zM1423.5 246l4 4l-4 4l-4 -4zM1418.5 262.5l4 4l-4 4l-4 -4zM1438.5 329l4 4l-4 4l-4 -4zM1425.5 287.5l4 4l-4 4l-4 -4zM1451.5 343l4 4l-4 4l-4 -4zM1418 304.5l4 4l-4 4l-4 -4zM1438.5 294l4 4l-4 4l-4 -4zM1438 338l4 4l-4 4l-4 -4zM1447 306.5l4 4l-4 4l-4 -4zM1421.5 290l4 4l-4 4l-4 -4zM1436 341l4 4l-4 4l-4 -4zM1422.5 281l4 4l-4 4l-4 -4zM1417 248.5l4 4l-4 4l-4 -4zM1452.5 351l4 4l-4 4l-4 -4zM1452 331l4 4l-4 4l-4 -4zM1427.5 291.5l4 4l-4 4l-4 -4zM1432 288.5l4 4l-4 4l-4 -4zM1452 304l4 4l-4 4l-4 -4zM1441 343.5l4 4l-4 4l-4 -4zM1449 306.5l4 4l-4 4l-4 -4zM1417 285.5l4 4l-4 4l-4 -4zM1433 340.5l4 4l-4 4l-4 -4zM1450 322l4 4l-4 4l-4 -4zM1426.5 290.5l4 4l-4 4l-4 -4zM1428 297l4 4l-4 4l-4 -4zM1436 339l4 4l-4 4l-4 -4zM1433.5 288l4 4l-4 4l-4 -4zM1452 317l4 4l-4 4l-4 -4zM1415 267.5l4 4l-4 4l-4 -4zM1427.5 282l4 4l-4 4l-4 -4zM1448.5 339.5l4 4l-4 4l-4 -4zM1449.5 349.5l4 4l-4 4l-4 -4zM1431.5 321.5l4 4l-4 4l-4 -4zM1414.5 249l4 4l-4 4l-4 -4zM1422.5 244.5l4 4l-4 4l-4 -4zM1432 287l4 4l-4 4l-4 -4zM1442.5 296.5l4 4l-4 4l-4 -4zM1453 287l4 4l-4 4l-4 -4zM1419 127l4 4l-4 4l-4 -4zM1419 129.5l4 4l-4 4l-4 -4zM1419 147.5l4 4l-4 4l-4 -4zM1419 152.5l4 4l-4 4l-4 -4zM1419 164l4 4l-4 4l-4 -4zM1419 168.5l4 4l-4 4l-4 -4zM1419 174.5l4 4l-4 4l-4 -4zM1419 180l4 4l-4 4l-4 -4zM1419 191.5l4 4l-4 4l-4 -4zM1419 197l4 4l-4 4l-4 -4zM1419 207.5l4 4l-4 4l-4 -4zM1419 220.5l4 4l-4 4l-4 -4zM1419 226.5l4 4l-4 4l-4 -4zM1452.5 73l4 4l-4 4l-4 -4zM1453.5 69l4 4l-4 4l-4 -4zM1435 156.5l4 4l-4 4l-4 -4zM1435 190.5l4 4l-4 4l-4 -4zM1436 207.5l4 4l-4 4l-4 -4zM1445 249l4 4l-4 4l-4 -4zM1452 254l4 4l-4 4l-4 -4zM1441 261.5l4 4l-4 4l-4 -4zM1437 269l4 4l-4 4l-4 -4zM1450 290l4 4l-4 4l-4 -4z" fill="#00c0c0"/>
<path d="M1450.7 405.9h3.8v3h-3.8zM1435.4 375.8h4v3.2h-4zM1425.3 373.4h1.9v2.3h-1.9zM1428.6 398.1h3.7v3.1h-3.7zM1442.4 382h3.2v4.2h-3.2zM1450.9 370.3h3.9v3.3h-3.9z" fill="#fff"/>
<path d="M1457 436L1457 350.4L1459.5 345.6L1462 346.5L1464.5 350.7L1467 348.6L1469.5 350.7L1472 350.5L1474.5 353.2L1477 350.9L1479.6 354.4L1482.1 357.8L1484.6 355.7L1487.1 352.6L1489.6 349.1L1492.1 347.6L1494.6 347.1L1497.1 346.6L1499.6 346.8L1499.6 436ZM1477.2 340.1h7.7v3.9h-7.7zM1478.2 337.1h7.7v3.9h-7.7zM1487.7 346.1h7.7v3.9h-7.7zM1457.7 338.1h7.7v3.9h-7.7zM1459.7 305.6h7.7v3.9h-7.7zM1461.2 338.1h7.7v3.9h-7.7zM1479.7 350.1h7.7v3.9h-7.7zM1460.7 341.6h7.7v3.9h-7.7zM1470.7 344.1h7.7v3.9h-7.7zM1456.7 306.1h7.7v3.9h-7.7zM1484.2 345.6h7.7v3.9h-7.7zM1489.2 330.6h7.7v3.9h-7.7zM1470.7 338.6h7.7v3.9h-7.7zM1466.7 338.6h7.7v3.9h-7.7zM1470.2 345.6h7.7v3.9h-7.7zM1481.2 350.1h7.7v3.9h-7.7zM1486.7 322.6h7.7v3.9h-7.7zM1486.7 343.6h7.7v3.9h-7.7zM1476.2 341.1h7.7v3.9h-7.7zM1459.7 321.6h7.7v3.9h-7.7zM1467.2 348.6h7.7v3.9h-7.7zM1475.7 336.1h7.7v3.9h-7.7zM1470.7 343.1h7.7v3.9h-7.7zM1462.2 314.6h7.7v3.9h-7.7zM1469.2 329.6h7.7v3.9h-7.7zM1489.2 342.1h7.7v3.9h-7.7zM1473.7 342.1h7.7v3.9h-7.7zM1462.2 346.1h7.7v3.9h-7.7zM1483.7 347.1h7.7v3.9h-7.7zM1477.7 353.1h7.7v3.9h-7.7zM1473.2 344.6h7.7v3.9h-7.7zM1492.2 341.6h7.7v3.9h-7.7zM1458.2 305.1h7.7v3.9h-7.7zM1478.7 354.6h7.7v3.9h-7.7zM1485.2 345.1h7.7v3.9h-7.7zM1456.7 344.6h7.7v3.9h-7.7zM1482.2 349.1h7.7v3.9h-7.7zM1489.7 345.1h7.7v3.9h-7.7zM1480.7 346.1h7.7v3.9h-7.7zM1483.2 340.6h7.7v3.9h-7.7zM1457.7 341.6h7.7v3.9h-7.7zM1458.7 339.1h7.7v3.9h-7.7zM1473.7 325.1h7.7v3.9h-7.7zM1464.7 343.1h7.7v3.9h-7.7zM1457.7 329.6h7.7v3.9h-7.7zM1483.2 334.6h7.7v3.9h-7.7zM1487.7 345.6h7.7v3.9h-7.7zM1486.2 346.6h7.7v3.9h-7.7zM1471.7 351.1h7.7v3.9h-7.7zM1480.2 355.1h7.7v3.9h-7.7zM1462.2 314.1h7.7v3.9h-7.7zM1487.7 341.1h7.7v3.9h-7.7zM1463.2 336.6h7.7v3.9h-7.7zM1481.2 354.1h7.7v3.9h-7.7zM1480.2 348.1h7.7v3.9h-7.7zM1456.7 298.6h7.7v3.9h-7.7zM1469.2 317.6h7.7v3.9h-7.7zM1480.2 336.6h7.7v3.9h-7.7zM1491.7 317.6h7.7v3.9h-7.7zM1462.2 174.6h7.7v3.9h-7.7zM1462.2 203.1h7.7v3.9h-7.7zM1471.2 198.1h7.7v3.9h-7.7zM1463.2 235.1h7.7v3.9h-7.7zM1472.2 239.6h7.7v3.9h-7.7zM1463.2 246.6h7.7v3.9h-7.7zM1490.2 257.1h7.7v3.9h-7.7zM1476.2 264.6h7.7v3.9h-7.7zM1490.2 277.6h7.7v3.9h-7.7zM1463.2 281.6h7.7v3.9h-7.7zM1476.2 295.6h7.7v3.9h-7.7z" fill="#404040"/>
<path d="M1468.2 351.9h2.4v2.6h-2.4zM1484.6 391.9h2.8v2.6h-2.8zM1473.2 359.5h3.5v4h-3.5zM1460.3 384.6h3.1v2.8h-3.1zM1459.1 371.8h2.6v2h-2.6zM1478.7 385.2h4.1v3.1h-4.1zM1473.2 368.8h3.7v4.4h-3.7zM1475.2 374.5h2.7v3.8h-2.7zM1477.9 368.8h4.5v3.4h-4.5zM1493 370.3h2.7v3.9h-2.7zM1461.1 370.8h2.8v2.4h-2.8zM1485.8 373.4h3.2v4.2h-3.2zM1466.4 383h2.5v4.3h-2.5zM1473.6 378h3.5v2.1h-3.5zM1493.1 378.3h3.1v2.4h-3.1zM1483.2 372.2h3.5v4.3h-3.5zM1493.3 348.8h2.2v2.3h-2.2zM1458.5 399.7h3.1v3.8h-3.1zM1486.1 392.1h4.2v2.2h-4.2zM1475.7 366.9h2.8v4.2h-2.8zM1467.8 382.4h4.5v4.4h-4.5zM1484.7 385.7h4.4v3.2h-4.4zM1461.6 384.8h4.3v3.1h-4.3zM1490 380.2h3.1v3h-3.1zM1474.4 354.8h1.9v2.1h-1.9zM1461.6 413.9h2.3v2.3h-2.3zM1466.8 360.5h3.3v2.6h-3.3zM1459.7 381.7h2.1v3.9h-2.1zM1470.8 367.1h4.1v2.8h-4.1zM1487.1 406.6h3.6v3.4h-3.6zM1475.3 384.4h3.2v4h-3.2zM1467.4 350.4h2.8v3.5h-2.8zM1484.8 386.4h3.5v2.4h-3.5zM1482.3 386.4h3.9v4.2h-3.9zM1492.9 352h2.1v2.9h-2.1zM1474.6 370.6h3v4h-3zM1467.6 383.5h2.3v4.1h-2.3zM1460.3 362.2h2.2v3h-2.2zM1477.9 368.3h4.4v3.3h-4.4zM1468.6 391.1h3.7v2.1h-3.7zM1474.6 363.1h4.2v2.8h-4.2zM1482.9 386.6h2.7v3.9h-2.7zM1474.5 370.2h2v3h-2zM1483.5 363.4h3.5v2.8h-3.5zM1469.3 387.7h4.3v3.4h-4.3zM1470.8 390.8h3.3v3.4h-3.3zM1477.8 382.8h2.1v2.9h-2.1zM1474.1 403.3h3.4v4.1h-3.4zM1482.1 405.8h2.3v3.8h-2.3zM1466 389.9h3v1.9h-3zM1494.8 358h4.1v3h-4.1zM1473 400.1h2.6v3.1h-2.6zM1491.9 375.6h4.3v4h-4.3zM1490.2 357.1h2v4.3h-2zM1494.5 392.8h3.2v4.4h-3.2zM1486 368.5h2.2v2.4h-2.2zM1481.3 360.9h4.4v3.1h-4.4zM1475.1 392.3h3.1v1.9h-3.1zM1490.8 378.5h3.6v3h-3.6zM1471.7 424.9h2.5v2.2h-2.5zM1459.1 388.8h3.1v3.4h-3.1zM1482.5 373.8h2.2v2.8h-2.2zM1474.6 408h1.8v2.4h-1.8zM1459.8 395.1h1.9v2.7h-1.9zM1460.3 411.6h3.7v3.8h-3.7zM1490.5 417.8h4v4.2h-4zM1473.1 353.9h3.3v3.4h-3.3zM1470.5 359.2h2.9v2.2h-2.9zM1481 376.2h2.8v2.3h-2.8zM1489.2 393.3h2.3v4.3h-2.3zM1496 389.4h2.1v4.3h-2.1zM1465.1 378.3h2.3v4.4h-2.3zM1481.6 396h4.4v3.1h-4.4zM1470.5 374.3h2.3v3.1h-2.3zM1467.4 356.2h2.2v2.6h-2.2zM1491.9 384.6h4.1v4.5h-4.1zM1485.4 374.4h3.8v3.1h-3.8zM1473.9 366.6h1.8v2.6h-1.8zM1459.7 361.2h2v3.1h-2zM1480.9 381.7h3.4v4.2h-3.4zM1462.5 378h3.6v4.3h-3.6zM1487.7 358.7h2.5v2h-2.5zM1470.6 356.9h2.7v3.4h-2.7zM1459.4 370.8h3.6v2.6h-3.6zM1489.6 383h3.8v2.2h-3.8zM1461.1 357h2.6v2h-2.6zM1485.9 379h2.3v3.7h-2.3zM1463.6 396.1h2.3v3.1h-2.3zM1466.1 352.6h2.3v3.2h-2.3zM1459.8 366.4h2v3.6h-2zM1467.4 351.2h3.8v2.7h-3.8zM1460.5 389.9h4.1v4h-4.1zM1479.7 377.5h4.4v3.7h-4.4zM1474.5 357.6h4.1v3.1h-4.1z" fill="#fff"/>
<path d="M1499.6 436L1499.6 347.1L1502.2 350L1504.8 347L1507.4 346.7L1510 341.3L1512.6 336.8L1515.2 339.2L1517.7 332.8L1520.3 328.4L1522.9 328.2L1525.5 321.5L1528.1 317.2L1530.7 321.3L1533.3 317L1533.3 436ZM1525 303.5l3.5 -7h-7zM1522 292.5l3.5 -7h-7zM1527 289l3.5 -7h-7zM1527.5 307.5l3.5 -7h-7zM1517 333l3.5 -7h-7zM1520.5 321.5l3.5 -7h-7zM1511.5 321l3.5 -7h-7zM1527.5 315l3.5 -7h-7zM1511.5 317l3.5 -7h-7zM1525.5 301.5l3.5 -7h-7zM1519 307l3.5 -7h-7zM1512 321l3.5 -7h-7zM1521 298l3.5 -7h-7zM1528 285.5l3.5 -7h-7zM1524.5 298.5l3.5 -7h-7zM1509 298l3.5 -7h-7zM1529.5 296l3.5 -7h-7zM1511 327.5l3.5 -7h-7zM1503.5 349.5l3.5 -7h-7zM1526.5 316l3.5 -7h-7zM1515.5 298.5l3.5 -7h-7zM1503 327.5l3.5 -7h-7zM1512.5 311.5l3.5 -7h-7zM1515 294.5l3.5 -7h-7zM1524 330l3.5 -7h-7zM1521.5 328l3.5 -7h-7zM1522 319l3.5 -7h-7zM1508.5 327.5l3.5 -7h-7zM1514.5 296l3.5 -7h-7zM1518 318l3.5 -7h-7zM1521 311l3.5 -7h-7zM1507.5 346.5l3.5 -7h-7zM1507 328l3.5 -7h-7zM1521 319l3.5 -7h-7zM1507.5 330.5l3.5 -7h-7zM1505 347.5l3.5 -7h-7zM1520.5 325l3.5 -7h-7zM1529.5 293l3.5 -7h-7zM1515.5 300l3.5 -7h-7zM1505 308.5l3.5 -7h-7zM1527 323l3.5 -7h-7zM1528 292l3.5 -7h-7zM1506 336.5l3.5 -7h-7zM1517 296l3.5 -7h-7zM1513.5 302.5l3.5 -7h-7zM1519 311.5l3.5 -7h-7zM1509 301.5l3.5 -7h-7zM1527 296.5l3.5 -7h-7zM1529 322.5l3.5 -7h-7zM1520 301.5l3.5 -7h-7zM1520 332.5l3.5 -7h-7zM1523.5 292.5l3.5 -7h-7zM1512.5 318.5l3.5 -7h-7zM1507.5 349l3.5 -7h-7zM1516.5 318l3.5 -7h-7zM1529 314l3.5 -7h-7zM1512.5 299l3.5 -7h-7zM1519 318l3.5 -7h-7zM1518 320l3.5 -7h-7zM1510 312l3.5 -7h-7zM1520 317.5l3.5 -7h-7zM1514.5 333.5l3.5 -7h-7zM1504 304l3.5 -7h-7zM1511.5 294.5l3.5 -7h-7zM1521 292.5l3.5 -7h-7zM1529.5 275.5l3.5 -7h-7zM1526 88l3.5 -7h-7zM1526 101.5l3.5 -7h-7zM1526 152.5l3.5 -7h-7zM1526 176l3.5 -7h-7zM1526 182l3.5 -7h-7zM1526 187.5l3.5 -7h-7zM1526 211l3.5 -7h-7zM1526 228l3.5 -7h-7zM1526 234l3.5 -7h-7zM1526 243.5l3.5 -7h-7zM1526 249l3.5 -7h-7zM1526 266l3.5 -7h-7zM1526 275.5l3.5 -7h-7zM1526 284l3.5 -7h-7z" fill="#ff4040"/>
<path d="M1505.4 366.7h4.4v3.5h-4.4zM1522.2 351h2.5v3.6h-2.5zM1508.8 347.9h3.4v2.8h-3.4zM1524.9 338.1h4.5v4.2h-4.5z" fill="#fff"/>
<path d="M1533.3 436L1533.3 312.6L1536 309.7L1538.6 306.9L1541.3 302.5L1544 278.9L1546.6 276.3L1549.3 276.2L1551.9 280.1L1554.6 295.1L1557.3 301.2L1559.9 302.3L1562.6 303L1562.6 436ZM1537.7 290.6h7.7v3.9h-7.7zM1535.7 257.6h7.7v3.9h-7.7zM1550.7 293.1h7.7v3.9h-7.7zM1535.2 276.6h7.7v3.9h-7.7zM1546.7 251.1h7.7v3.9h-7.7zM1548.2 259.1h7.7v3.9h-7.7zM1537.2 283.6h7.7v3.9h-7.7zM1554.7 291.6h7.7v3.9h-7.7zM1533.2 274.1h7.7v3.9h-7.7zM1548.7 246.1h7.7v3.9h-7.7zM1554.7 287.6h7.7v3.9h-7.7zM1540.2 257.6h7.7v3.9h-7.7zM1535.2 306.1h7.7v3.9h-7.7zM1548.7 266.6h7.7v3.9h-7.7zM1542.7 273.6h7.7v3.9h-7.7zM1552.7 296.1h7.7v3.9h-7.7zM1550.2 278.1h7.7v3.9h-7.7zM1538.2 271.6h7.7v3.9h-7.7zM1538.2 271.6h7.7v3.9h-7.7zM1536.2 274.1h7.7v3.9h-7.7zM1544.2 268.6h7.7v3.9h-7.7zM1546.7 258.6h7.7v3.9h-7.7zM1536.7 300.6h7.7v3.9h-7.7zM1534.7 297.6h7.7v3.9h-7.7zM1533.7 302.1h7.7v3.9h-7.7zM1533.2 273.1h7.7v3.9h-7.7zM1537.2 252.6h7.7v3.9h-7.7zM1552.7 291.6h7.7v3.9h-7.7zM1553.7 295.1h7.7v3.9h-7.7zM1533.7 301.1h7.7v3.9h-7.7zM1544.7 268.6h7.7v3.9h-7.7zM1543.2 264.6h7.7v3.9h-7.7zM1552.7 263.6h7.7v3.9h-7.7zM1553.7 298.1h7.7v3.9h-7.7zM1541.2 264.1h7.7v3.9h-7.7zM1541.2 266.6h7.7v3.9h-7.7zM1539.7 278.1h7.7v3.9h-7.7zM1534.7 293.1h7.7v3.9h-7.7zM1550.2 279.1h7.7v3.9h-7.7zM1552.7 283.1h7.7v3.9h-7.7zM1551.7 292.6h7.7v3.9h-7.7zM1548.7 275.1h7.7v3.9h-7.7zM1554.2 258.6h7.7v3.9h-7.7zM1533.7 302.1h7.7v3.9h-7.7zM1553.7 273.6h7.7v3.9h-7.7zM1543.2 249.1h7.7v3.9h-7.7zM1538.2 277.1h7.7v3.9h-7.7zM1545.2 270.1h7.7v3.9h-7.7zM1542.2 243.6h7.7v3.9h-7.7zM1540.7 267.1h7.7v3.9h-7.7zM1547.2 265.1h7.7v3.9h-7.7zM1535.2 291.1h7.7v3.9h-7.7zM1548.7 269.1h7.7v3.9h-7.7zM1533.2 251.1h7.7v3.9h-7.7zM1542.7 241.6h7.7v3.9h-7.7zM1554.7 251.1h7.7v3.9h-7.7zM1550.7 164.1h7.7v3.9h-7.7zM1538.7 172.6h7.7v3.9h-7.7zM1555.2 197.1h7.7v3.9h-7.7zM1538.2 205.6h7.7v3.9h-7.7zM1541.2 221.1h7.7v3.9h-7.7zM1554.2 212.1h7.7v3.9h-7.7zM1554.2 225.6h7.7v3.9h-7.7zM1541.2 233.1h7.7v3.9h-7.7zM1531.2 235.1h7.7v3.9h-7.7zM1554.2 239.1h7.7v3.9h-7.7zM1554.2 246.6h7.7v3.9h-7.7z" fill="#4040ff"/>
<path d="M1541.4 353.3h3.8v4.2h-3.8zM1556.9 336.2h4.4v4.1h-4.4zM1535.6 386.4h3.7v3.3h-3.7zM1555.2 342.5h4.3v2.6h-4.3zM1550.5 293.7h2v3.5h-2z" fill="#fff"/>
<path d="M1562.6 436L1562.6 374.5L1565.1 378.9L1567.6 377.6L1570.1 381.1L1572.6 382.6L1575.1 384.9L1577.6 384.5L1580.2 374.6L1582.7 370.7L1585.2 364.9L1587.7 361.2L1590.2 346.2L1592.7 339.1L1595.2 335.6L1597.7 337.6L1597.7 436ZM1581.5 373l-7 -3.5v7zM1584.5 340.5l-7 -3.5v7zM1574.5 354.5l-7 -3.5v7zM1581 377.5l-7 -3.5v7zM1574 347.5l-7 -3.5v7zM1574 375.5l-7 -3.5v7zM1594.5 334.5l-7 -3.5v7zM1573 372.5l-7 -3.5v7zM1584 355.5l-7 -3.5v7zM1591 316l-7 -3.5v7zM1571 376l-7 -3.5v7zM1572 345.5l-7 -3.5v7zM1573 369l-7 -3.5v7zM1569.5 341l-7 -3.5v7zM1582 360l-7 -3.5v7zM1584 371l-7 -3.5v7zM1596.5 328l-7 -3.5v7zM1590 322.5l-7 -3.5v7zM1586.5 364l-7 -3.5v7zM1582.5 369.5l-7 -3.5v7zM1594 329l-7 -3.5v7zM1583 362l-7 -3.5v7zM1594 332l-7 -3.5v7zM1572.5 375l-7 -3.5v7zM1586.5 324l-7 -3.5v7zM1591 349l-7 -3.5v7zM1595 330l-7 -3.5v7zM1588 364.5l-7 -3.5v7zM1581 370.5l-7 -3.5v7zM1577 359l-7 -3.5v7zM1595 333.5l-7 -3.5v7zM1576.5 380.5l-7 -3.5v7zM1571.5 342.5l-7 -3.5v7zM1588.5 360l-7 -3.5v7zM1594 327.5l-7 -3.5v7zM1593.5 329l-7 -3.5v7zM1587 362.5l-7 -3.5v7zM1596 313.5l-7 -3.5v7zM1577.5 356.5l-7 -3.5v7zM1579 383l-7 -3.5v7zM1583 360.5l-7 -3.5v7zM1590.5 325.5l-7 -3.5v7zM1591 333l-7 -3.5v7zM1586 364.5l-7 -3.5v7zM1593.5 344l-7 -3.5v7zM1590 341l-7 -3.5v7zM1596 311l-7 -3.5v7zM1594.5 301.5l-7 -3.5v7zM1592.5 329l-7 -3.5v7zM1575.5 381l-7 -3.5v7zM1573 375l-7 -3.5v7zM1592 329l-7 -3.5v7zM1579.5 370l-7 -3.5v7zM1570 366l-7 -3.5v7zM1576.5 374l-7 -3.5v7zM1585.5 345l-7 -3.5v7zM1596.5 316.5l-7 -3.5v7zM1593.5 312l-7 -3.5v7zM1571.5 338.5l-7 -3.5v7zM1578.5 348l-7 -3.5v7zM1587.5 319.5l-7 -3.5v7zM1597.5 298.5l-7 -3.5v7zM1589.5 270l-7 -3.5v7zM1572.5 288l-7 -3.5v7zM1586.5 291l-7 -3.5v7zM1596.5 282.5l-7 -3.5v7zM1586.5 321.5l-7 -3.5v7z" fill="#40ff40"/>
<path d="M1565.4 381.5h3.8v4.4h-3.8zM1568.3 399.9h4.4v2.4h-4.4zM1590.4 350.4h1.9v4.2h-1.9zM1580.8 376.9h4.2v3.4h-4.2zM1573.5 390.9h2.6v3.9h-2.6zM1574.5 399h3.2v3.4h-3.2zM1593.8 359.9h3.1v2.7h-3.1zM1594.4 361.9h2.3v2.7h-2.3zM1564 381.5h3.3v3h-3.3zM1591 401.8h2.5v4.4h-2.5zM1570.8 379.5h4.2v2.2h-4.2zM1584.3 385.6h3.6v3h-3.6zM1587.5 372.8h3.4v3.7h-3.4zM1589.8 368.1h1.9v2.9h-1.9zM1569.1 404.8h2v3.4h-2zM1578.7 390.1h1.8v3.6h-1.8zM1579 399.8h4v4.3h-4zM1588.9 360.7h4.1v2.3h-4.1zM1569 381.9h3.5v3h-3.5zM1572.8 396.1h2.4v3.2h-2.4zM1592.5 364.1h1.9v3.3h-1.9zM1586.6 376.8h4.2v4.5h-4.2zM1587.1 370.9h4.5v2.7h-4.5zM1573.4 428.1h4.4v2.5h-4.4zM1567.4 389.6h4v2.8h-4zM1574.4 389.9h2.2v2.2h-2.2zM1574.8 405.2h2.6v4.1h-2.6zM1569.4 388.1h4.4v1.9h-4.4zM1593.4 407.6h3.1v4h-3.1zM1574.9 398.2h2.5v2.5h-2.5zM1583.5 383.2h3.5v3.5h-3.5z" fill="#fff"/>
<path d="M1597.7 436L1597.7 335.8L1600.3 336.9L1602.9 338L1605.6 334.4L1608.2 328.9L1610.8 328.6L1613.4 326L1616 326L1618.7 319.4L1621.3 317.2L1623.9 317.6L1626.5 323.2L1629.2 328.2L1631.8 327.2L1634.4 329.7L1637 332.4L1639.6 334.3L1642.3 340.3L1644.9 340.7L1647.5 341.2L1647.5 436ZM1630.6 281h3.9v7h-3.9zM1633.1 313.5h3.9v7h-3.9zM1614.6 267.5h3.9v7h-3.9zM1640.1 309h3.9v7h-3.9zM1615.1 291.5h3.9v7h-3.9zM1601.1 319h3.9v7h-3.9zM1618.6 310.5h3.9v7h-3.9zM1627.6 323h3.9v7h-3.9zM1616.6 314h3.9v7h-3.9zM1622.1 256.5h3.9v7h-3.9zM1638.6 317.5h3.9v7h-3.9zM1635.1 323.5h3.9v7h-3.9zM1612.6 310.5h3.9v7h-3.9zM1627.6 268.5h3.9v7h-3.9zM1622.1 257h3.9v7h-3.9zM1625.1 273h3.9v7h-3.9zM1637.1 303.5h3.9v7h-3.9zM1632.6 308.5h3.9v7h-3.9zM1637.1 329.5h3.9v7h-3.9zM1635.6 301h3.9v7h-3.9zM1603.6 333h3.9v7h-3.9zM1615.1 279.5h3.9v7h-3.9zM1619.6 270.5h3.9v7h-3.9zM1619.6 313h3.9v7h-3.9zM1600.1 303h3.9v7h-3.9zM1634.1 307.5h3.9v7h-3.9zM1602.6 321h3.9v7h-3.9zM1612.1 279.5h3.9v7h-3.9zM1615.1 287.5h3.9v7h-3.9zM1618.1 310.5h3.9v7h-3.9zM1614.6 320.5h3.9v7h-3.9zM1601.1 280h3.9v7h-3.9zM1609.6 271.5h3.9v7h-3.9zM1618.1 265h3.9v7h-3.9zM1605.6 332h3.9v7h-3.9zM1601.1 284h3.9v7h-3.9zM1634.6 314h3.9v7h-3.9zM1623.6 302.5h3.9v7h-3.9zM1607.6 291h3.9v7h-3.9zM1603.6 279.5h3.9v7h-3.9zM1617.6 305h3.9v7h-3.9zM1626.6 306h3.9v7h-3.9zM1628.6 271h3.9v7h-3.9zM1605.6 290h3.9v7h-3.9zM1601.6 308.5h3.9v7h-3.9zM1610.6 286h3.9v7h-3.9zM1633.1 321.5h3.9v7h-3.9zM1614.1 319h3.9v7h-3.9zM1636.6 311h3.9v7h-3.9zM1614.6 285h3.9v7h-3.9zM1599.6 328h3.9v7h-3.9zM1611.1 274h3.9v7h-3.9zM1614.1 305h3.9v7h-3.9zM1611.1 317.5h3.9v7h-3.9zM1614.6 265.5h3.9v7h-3.9zM1625.6 319h3.9v7h-3.9zM1618.6 272h3.9v7h-3.9zM1636.1 326h3.9v7h-3.9zM1613.6 320.5h3.9v7h-3.9zM1639.1 288h3.9v7h-3.9zM1606.1 306h3.9v7h-3.9zM1611.1 287h3.9v7h-3.9zM1601.6 330h3.9v7h-3.9zM1625.1 267.5h3.9v7h-3.9zM1641.6 330.5h3.9v7h-3.9zM1627.1 273.5h3.9v7h-3.9zM1615.6 292h3.9v7h-3.9zM1618.6 315.5h3.9v7h-3.9zM1615.1 316h3.9v7h-3.9zM1632.6 306h3.9v7h-3.9zM1600.1 297.5h3.9v7h-3.9zM1631.1 290h3.9v7h-3.9zM1602.1 330h3.9v7h-3.9zM1602.6 294.5h3.9v7h-3.9zM1637.6 287.5h3.9v7h-3.9zM1638.6 328h3.9v7h-3.9zM1613.6 275h3.9v7h-3.9zM1638.1 332h3.9v7h-3.9zM1637.6 317h3.9v7h-3.9zM1628.6 292.5h3.9v7h-3.9zM1627.1 311h3.9v7h-3.9zM1632.6 321h3.9v7h-3.9zM1608.1 310h3.9v7h-3.9zM1610.1 279h3.9v7h-3.9zM1636.6 329.5h3.9v7h-3.9zM1607.6 296.5h3.9v7h-3.9zM1626.1 297.5h3.9v7h-3.9zM1638.6 307h3.9v7h-3.9zM1602.6 325.5h3.9v7h-3.9zM1640.6 327h3.9v7h-3.9zM1618.1 294.5h3.9v7h-3.9zM1608.1 298h3.9v7h-3.9zM1608.1 285h3.9v7h-3.9zM1620.6 268.5h3.9v7h-3.9zM1635.1 326h3.9v7h-3.9zM1600.1 324.5h3.9v7h-3.9zM1640.6 334.5h3.9v7h-3.9zM1612.6 306.5h3.9v7h-3.9zM1640.6 300.5h3.9v7h-3.9zM1607.6 324h3.9v7h-3.9zM1607.6 289.5h3.9v7h-3.9zM1638.6 308.5h3.9v7h-3.9zM1615.1 313.5h3.9v7h-3.9zM1609.1 320.5h3.9v7h-3.9zM1641.1 325h3.9v7h-3.9zM1600.6 290.5h3.9v7h-3.9zM1641.6 320.5h3.9v7h-3.9zM1633.1 320.5h3.9v7h-3.9zM1626.1 280.5h3.9v7h-3.9zM1630.1 318.5h3.9v7h-3.9zM1612.6 310.5h3.9v7h-3.9zM1633.1 306h3.9v7h-3.9zM1615.6 313.5h3.9v7h-3.9zM1638.6 323h3.9v7h-3.9zM1600.1 278h3.9v7h-3.9zM1612.1 268.5h3.9v7h-3.9zM1620.6 254.5h3.9v7h-3.9zM1631.1 268.5h3.9v7h-3.9zM1640.6 287.5h3.9v7h-3.9zM1618.6 186h3.9v7h-3.9zM1625.1 203h3.9v7h-3.9zM1618.6 231.5h3.9v7h-3.9zM1607.1 239h3.9v7h-3.9zM1631.1 239h3.9v7h-3.9zM1638.1 250.5h3.9v7h-3.9zM1601.1 274h3.9v7h-3.9z" fill="#ffff40"/>
<path d="M1616.9 368.6h2.2v2.4h-2.2zM1610.2 372.2h2v3.5h-2zM1623.4 423.6h2.7v4.3h-2.7zM1604.8 365.3h3.1v3.9h-3.1zM1628.6 410h2.1v3.8h-2.1zM1599.8 385h2.4v2.6h-2.4z" fill="#fff"/>
<path d="M1647.5 436L1647.5 350.5L1650.1 346.6L1652.8 347.9L1655.4 345.2L1658 337.8L1660.7 339.1L1663.3 336.8L1665.9 335.6L1668.6 333.8L1671.2 330.7L1673.8 332.4L1676.5 330.6L1679.1 335.9L1681.7 338.2L1684.4 338.6L1687 339.6L1687 436ZM1649 341.5l7 -3.5v7zM1655 325.5l7 -3.5v7zM1672 290l7 -3.5v7zM1656.5 322.5l7 -3.5v7zM1650.5 321.5l7 -3.5v7zM1671.5 299.5l7 -3.5v7zM1670 297.5l7 -3.5v7zM1678 312.5l7 -3.5v7zM1651.5 324.5l7 -3.5v7zM1677 323.5l7 -3.5v7zM1663 318.5l7 -3.5v7zM1650 317l7 -3.5v7zM1671.5 290l7 -3.5v7zM1677 335l7 -3.5v7zM1657.5 313.5l7 -3.5v7zM1674 322.5l7 -3.5v7zM1657.5 300l7 -3.5v7zM1673 304l7 -3.5v7zM1671.5 319.5l7 -3.5v7zM1649 330.5l7 -3.5v7zM1648 336l7 -3.5v7zM1678.5 292.5l7 -3.5v7zM1655 338.5l7 -3.5v7zM1651 346.5l7 -3.5v7zM1653 340.5l7 -3.5v7zM1660 337.5l7 -3.5v7zM1659 329l7 -3.5v7zM1672.5 321.5l7 -3.5v7zM1654 337.5l7 -3.5v7zM1653 326.5l7 -3.5v7zM1679 313.5l7 -3.5v7zM1652 316.5l7 -3.5v7zM1663 326l7 -3.5v7zM1660 329.5l7 -3.5v7zM1663.5 323.5l7 -3.5v7zM1660 298.5l7 -3.5v7zM1659.5 292l7 -3.5v7zM1679.5 302l7 -3.5v7zM1657 338l7 -3.5v7zM1653.5 314l7 -3.5v7zM1655.5 327.5l7 -3.5v7zM1664 288l7 -3.5v7zM1649.5 321.5l7 -3.5v7zM1663 307l7 -3.5v7zM1657.5 295.5l7 -3.5v7zM1654 304.5l7 -3.5v7zM1656 294.5l7 -3.5v7zM1648.5 329l7 -3.5v7zM1675 300.5l7 -3.5v7zM1668 310l7 -3.5v7zM1676.5 333l7 -3.5v7zM1674.5 293l7 -3.5v7zM1668 326.5l7 -3.5v7zM1659.5 303.5l7 -3.5v7zM1679.5 330.5l7 -3.5v7zM1663 319l7 -3.5v7zM1654 299.5l7 -3.5v7zM1677.5 325.5l7 -3.5v7zM1674 293l7 -3.5v7zM1670.5 323.5l7 -3.5v7zM1679.5 325l7 -3.5v7zM1650 334l7 -3.5v7zM1671 294l7 -3.5v7zM1652 339l7 -3.5v7zM1656 320l7 -3.5v7zM1669 327.5l7 -3.5v7zM1677.5 337l7 -3.5v7zM1665 324l7 -3.5v7zM1663.5 333.5l7 -3.5v7zM1669 313l7 -3.5v7zM1659 324.5l7 -3.5v7zM1656.5 313.5l7 -3.5v7zM1648.5 310l7 -3.5v7zM1658.5 291l7 -3.5v7zM1667.5 281.5l7 -3.5v7zM1678 291l7 -3.5v7zM1674.5 261.5l7 -3.5v7zM1651.5 269l7 -3.5v7zM1654.5 273l7 -3.5v7zM1674.5 280.5l7 -3.5v7zM1646.5 295.5l7 -3.5v7z" fill="#ff40ff"/>
<path d="M1652.5 366.1h1.8v4.1h-1.8zM1679.7 340.7h3.1v2.5h-3.1zM1677.7 348.1h2.3v2.9h-2.3zM1655.7 376.4h2.5v2.2h-2.5zM1648.8 355h2v2.6h-2z" fill="#fff"/>
<path d="M1687 436L1687 340.7L1689.5 342.2L1692 342.8L1694.5 345.2L1697.1 349.9L1699.6 352.1L1702.1 371.1L1704.6 372.8L1707.1 373.7L1709.6 374.5L1712.1 372L1714.7 370.2L1717.2 369L1719.7 364.3L1722.2 364.7L1724.7 369L1727.2 369.3L1729.7 368L1732.3 369.3L1734.8 373.8L1737.3 373.7L1739.8 369.4L1739.8 436ZM1702.5 360h7v7h-7zM1732.5 342h7v7h-7zM1722.5 327.5h7v7h-7zM1694 336h7v7h-7zM1710.5 354h7v7h-7zM1715 327.5h7v7h-7zM1698 337.5h7v7h-7zM1723 345.5h7v7h-7zM1731 327h7v7h-7zM1719 334h7v7h-7zM1723.5 344.5h7v7h-7zM1724 362.5h7v7h-7zM1696.5 338.5h7v7h-7zM1718 332.5h7v7h-7zM1727 345h7v7h-7zM1696 333.5h7v7h-7zM1724 326h7v7h-7zM1694 321h7v7h-7zM1697.5 336h7v7h-7zM1711 349.5h7v7h-7zM1694 336.5h7v7h-7zM1728 345.5h7v7h-7zM1703 370h7v7h-7zM1706.5 346.5h7v7h-7zM1722 333.5h7v7h-7zM1698.5 360h7v7h-7zM1694 338h7v7h-7zM1720.5 349h7v7h-7zM1698 362.5h7v7h-7zM1693 339h7v7h-7zM1712 332h7v7h-7zM1718.5 348.5h7v7h-7zM1697 347.5h7v7h-7zM1730 335.5h7v7h-7zM1720 362h7v7h-7zM1688 334.5h7v7h-7zM1729 360h7v7h-7zM1718.5 362h7v7h-7zM1703 371h7v7h-7zM1698.5 359h7v7h-7zM1715 355h7v7h-7zM1727.5 327h7v7h-7zM1688.5 323h7v7h-7zM1705.5 346h7v7h-7zM1715 356h7v7h-7zM1727.5 341h7v7h-7zM1695 326h7v7h-7zM1708 369h7v7h-7zM1702 361h7v7h-7zM1715 328.5h7v7h-7zM1723 327h7v7h-7zM1727 361.5h7v7h-7zM1732 366.5h7v7h-7zM1695.5 345h7v7h-7zM1719.5 331h7v7h-7zM1719.5 358.5h7v7h-7zM1730 364.5h7v7h-7zM1728.5 357h7v7h-7zM1726.5 347h7v7h-7zM1718.5 356h7v7h-7zM1690 317h7v7h-7zM1689.5 333.5h7v7h-7zM1729 368h7v7h-7zM1726.5 361.5h7v7h-7zM1715 345.5h7v7h-7zM1717.5 329.5h7v7h-7zM1691 330.5h7v7h-7zM1728.5 367h7v7h-7zM1690.5 321h7v7h-7zM1718.5 355.5h7v7h-7zM1720.5 363h7v7h-7zM1730.5 344.5h7v7h-7zM1699.5 362.5h7v7h-7zM1692.5 326.5h7v7h-7zM1713 347h7v7h-7zM1707 369h7v7h-7zM1689 316h7v7h-7zM1703 335h7v7h-7zM1713.5 325.5h7v7h-7zM1728 325.5h7v7h-7zM1729 190h7v7h-7zM1726.5 237.5h7v7h-7zM1718 247.5h7v7h-7zM1688 255.5h7v7h-7zM1695.5 264h7v7h-7zM1726.5 276h7v7h-7zM1709.5 278h7v7h-7zM1690.5 282.5h7v7h-7zM1707.5 288.5h7v7h-7zM1721.5 298h7v7h-7zM1727.5 315h7v7h-7z" fill="#40ffff"/>
<path d="M1697.5 362.1h3.4v1.9h-3.4zM1695.5 397.5h2.7v3.6h-2.7zM1712 388.1h2.7v4.3h-2.7zM1726.9 419h2.6v2.3h-2.6zM1691.7 379.9h2.1v4h-2.1zM1725.3 391.2h2.8v3.5h-2.8zM1716.4 369.2h2v2.1h-2zM1729.4 410.6h3.1v3.7h-3.1zM1710.5 405h2.8v3.2h-2.8zM1707.1 398.1h2.5v2.3h-2.5zM1692.7 399.8h3.2v4.4h-3.2zM1733.2 376.9h3.5v3.9h-3.5zM1693.3 361.4h3v2.4h-3zM1710.2 397.8h1.9v4.1h-1.9zM1729.1 412.1h2.6v3.5h-2.6zM1719.3 379h3.2v3.9h-3.2zM1706.2 390.3h3.6v3.5h-3.6zM1730.7 394.3h2.5v3.1h-2.5zM1691.2 384.3h1.9v2.3h-1.9zM1693.6 348.6h2.2v3.3h-2.2zM1727.5 399.9h3.9v2.3h-3.9zM1723 413.6h2.8v4.2h-2.8zM1706.4 415.4h2.7v3.2h-2.7zM1704.5 407.2h2.9v4.3h-2.9zM1732.5 383.2h4v2.3h-4zM1691.6 363.3h2v3.6h-2zM1694.3 360.7h2.7v3.3h-2.7zM1706.5 381.6h4v4.1h-4zM1712.9 390.6h2.3v3.8h-2.3zM1692.1 405.3h1.9v2.4h-1.9zM1715.4 391.8h1.8v4.4h-1.8zM1715.5 379.2h4.1v2.1h-4.1zM1696.5 363.2h2.6v3.9h-2.6zM1736 416.2h2.9v3.3h-2.9zM1735.4 371.7h2.1v2.4h-2.1zM1701.4 390.1h2.5v2.3h-2.5zM1708.6 406.9h2.2v3.5h-2.2zM1712.2 384.7h2v3h-2zM1711.5 383.6h2.2v3h-2.2zM1714.3 369.4h3.8v2.4h-3.8zM1697.6 381.9h3.5v3h-3.5zM1703.1 379.4h2.1v2.2h-2.1zM1712.5 388.7h2.4v2.4h-2.4zM1706.3 410.7h4.2v3.7h-4.2zM1697.7 401.1h3.1v2.9h-3.1zM1732.3 387.3h2.8v3.5h-2.8zM1721.7 411.1h1.9v2.6h-1.9zM1723.3 375.5h3.7v1.9h-3.7zM1703.4 395.6h4.4v2.8h-4.4zM1714.4 412.4h4.3v3.5h-4.3zM1700 390.6h3.8v3.3h-3.8zM1723.1 387.3h2.3v2.9h-2.3zM1734.7 393.8h2.5v2h-2.5zM1696.9 380.1h2.6v1.9h-2.6zM1716.3 385.4h4.1v2.3h-4.1zM1707.5 398.4h3.5v1.9h-3.5zM1695.1 361.6h3.1v2.1h-3.1zM1719.4 405h2.9v4h-2.9zM1701.8 417.1h4.2v2.6h-4.2zM1703 385.8h3.9v3.6h-3.9zM1722.8 383.7h4.4v3.1h-4.4zM1701.2 372h3.9v4h-3.9zM1692.8 361h4v2.6h-4zM1721.6 390.7h3.3v3.5h-3.3zM1725.2 384.7h4.2v3h-4.2zM1695.7 411.6h3.6v4.4h-3.6zM1706.5 413h2.3v2h-2.3zM1699.2 383.8h2v3.7h-2zM1722.7 371.4h3.4v2.8h-3.4zM1710.5 387.3h3.1v2.9h-3.1zM1717.1 382.7h4.4v3.8h-4.4zM1728.1 373.6h4.3v2.3h-4.3zM1728 383.9h3v3.1h-3zM1692.9 350.4h3v3.5h-3zM1718.2 377.2h2.3v1.9h-2.3zM1727.3 393.1h2v2.7h-2zM1701.1 375.5h2.2v2.8h-2.2zM1711.4 386h2.2v3.6h-2.2zM1712 391.8h2.4v3.8h-2.4zM1712.1 385.6h2.1v2.5h-2.1zM1726.1 386.9h3.2v4.4h-3.2zM1701.6 411.1h3v1.8h-3zM1707.5 385.1h2v1.8h-2zM1725.5 374.9h2.8v2h-2.8zM1702.2 389h4v2h-4zM1722.4 377h1.8v3.8h-1.8zM1727.6 394h3v1.9h-3zM1706 404h2.2v2.2h-2.2zM1694.9 388.9h3.3v2.7h-3.3zM1736.5 379.5h3.7v2.2h-3.7zM1703.9 392.1h3.4v3.1h-3.4zM1734.2 372.7h2.5v4.5h-2.5zM1698.5 392.4h4.3v3.2h-4.3zM1713.5 382.4h2.2v3.1h-2.2zM1730.9 423.7h3.5v2.6h-3.5zM1720.8 369.6h3.8v3.2h-3.8zM1734.6 383.4h4.2v2.2h-4.2zM1701.6 404.4h2.6v1.9h-2.6zM1712.5 393.3h3.5v2.7h-3.5zM1708.5 414.5h4v2.8h-4zM1726.7 375.7h4.2v2.2h-4.2zM1736.2 410.6h3.4v3.8h-3.4zM1735.8 382h3.7v2.1h-3.7zM1690.6 355.4h1.9v4.3h-1.9zM1697.1 380.5h3.3v2.2h-3.3zM1690.5 365.6h4.1v4h-4.1zM1728.4 399.3h2.1v3.2h-2.1zM1735.2 374.2h3.7v2.8h-3.7zM1708.1 403.2h3.6v3.6h-3.6zM1697.1 399.4h2.1v3.8h-2.1zM1696.4 355h3.7v2.7h-3.7zM1723.9 372h2.2v2.3h-2.2zM1731.4 396.4h2.4v3h-2.4zM1706.2 388.8h3.9v3.9h-3.9zM1727.1 388.7h4.1v4h-4.1zM1717.7 402.6h2.7v2.2h-2.7zM1718 369h2.7v2.9h-2.7zM1729.2 393h2.2v2.4h-2.2zM1735.5 388.3h4.2v2.4h-4.2zM1707.3 389.6h2.5v3.4h-2.5zM1719 402.7h4.4v2.8h-4.4zM1717.1 376.1h2.4v3.6h-2.4zM1692 363.8h3.5v2.4h-3.5zM1711.9 375.2h2.1v3.6h-2.1zM1705.9 381.7h2.5v2.4h-2.5zM1725.6 401.5h2.2v2.3h-2.2zM1700 376.1h4.4v4.2h-4.4zM1689.6 381.2h3.3v2.2h-3.3zM1690.5 405h4.3v2h-4.3zM1729.8 418.6h1.9v1.9h-1.9zM1728.8 375.1h3.1v1.9h-3.1z" fill="#fff"/>
<path d="M939 56.2H1745.5" stroke="#e4e4e4" stroke-width="2" fill="none"/>
<rect x="940" y="58.2" width="804.5" height="379.3" fill="none" stroke="#a8a8a8" stroke-width="1.5"/>
<path d="M940 58.7H1744.5" stroke="#bdbdbd" stroke-width="2.5" fill="none"/>
<rect x="939" y="58" width="33.5" height="37" fill="none" stroke="#262626" stroke-width="2" rx="1.5"/>
<text x="955.8" y="82" class="bl">B</text>
<text x="917" y="67.3" class="tk">4</text>
<text x="917" y="156.7" class="tk">3</text>
<text x="917" y="250.3" class="tk">2</text>
<text x="917" y="346.1" class="tk">1</text>
<text x="917" y="433" class="tk">0</text>
<rect x="97" y="459.7" width="810" height="379.3" fill="#fff"/>
<path d="M98 817H906M98 798.9H906M98 780.9H906M98 762.8H906M98 744.8H906M98 726.8H906M98 708.7H906M98 690.7H906M98 672.6H906M98 654.6H906M98 636.6H906M98 618.5H906M98 600.5H906M98 582.4H906M98 564.4H906M98 546.4H906M98 528.3H906M98 510.3H906M98 492.2H906M98 474.2H906" stroke="#a8a8a8" stroke-width="1.3" stroke-dasharray="2 2" fill="none"/>
<path d="M102.4 838L102.4 757L105 757.8L107.6 751.5L110.3 714.1L112.9 705L115.5 694.3L118.1 685L120.8 683.3L123.4 680.9L126 687.1L128.6 696.4L131.2 712.8L133.9 758.1L136.5 764.4L139.1 767.8L139.1 838ZM128 687h7v7h-7zM116 665.5h7v7h-7zM111.5 659.5h7v7h-7zM118 669h7v7h-7zM117 674.5h7v7h-7zM125.5 687.5h7v7h-7zM126.5 673h7v7h-7zM112.5 691.5h7v7h-7zM113.5 651.5h7v7h-7zM114 673.5h7v7h-7zM119 678h7v7h-7zM115.5 673.5h7v7h-7zM108 691.5h7v7h-7zM112.5 692.5h7v7h-7zM105.5 737.5h7v7h-7zM109.5 677h7v7h-7zM132 750.5h7v7h-7zM131 751h7v7h-7zM130 735h7v7h-7zM111 694h7v7h-7zM116 653.5h7v7h-7zM120.5 675.5h7v7h-7zM128 708.5h7v7h-7zM107 671h7v7h-7zM103 748.5h7v7h-7zM104 727.5h7v7h-7zM128.5 722.5h7v7h-7zM131.5 755h7v7h-7zM115.5 654h7v7h-7zM112.5 691h7v7h-7zM126 675h7v7h-7zM130.5 753h7v7h-7zM115 679h7v7h-7zM117.5 658h7v7h-7zM122.5 676h7v7h-7zM120.5 654h7v7h-7zM123 680.5h7v7h-7zM130 744h7v7h-7zM108 666h7v7h-7zM121.5 684.5h7v7h-7zM131.5 743.5h7v7h-7zM124.5 683.5h7v7h-7zM125 672h7v7h-7zM102.5 752h7v7h-7zM104 722h7v7h-7zM122.5 669h7v7h-7zM108.5 692.5h7v7h-7zM108.5 676h7v7h-7zM104 718.5h7v7h-7zM102.5 714h7v7h-7zM110 651h7v7h-7zM117 651h7v7h-7zM124.5 660h7v7h-7zM132 741.5h7v7h-7zM123 589h7v7h-7zM123 609.5h7v7h-7zM113.5 622h7v7h-7zM113.5 632h7v7h-7zM122.5 640.5h7v7h-7zM125.5 650h7v7h-7zM105.5 678h7v7h-7zM106.5 697h7v7h-7z" fill="#ff5252"/>
<path d="M127.9 785.6h4.2v2.7h-4.2zM128.1 696.4h2.5v3.8h-2.5zM125.6 736.8h4.2v2.1h-4.2zM113.6 782.1h3.6v3.1h-3.6zM109.3 768.9h2.3v4.1h-2.3z" fill="#fff"/>
<path d="M139.1 838L139.1 756.5L141.7 753.1L144.4 752.4L147 748.4L149.6 733.4L152.3 726L154.9 729.2L157.6 726.4L160.2 727.7L162.8 730.1L165.5 732.3L168.1 743.4L170.7 742.9L173.4 744.4L176 746.8L176 838Z" fill="#5252ff"/>
<path d="M158.5 684h0M168.5 700.5h0M166.5 711h0M150 730.5h0M150 700.5h0M166.5 730.5h0M160.5 721.5h0M150.5 728h0M166.5 718.5h0M152 722.5h0M151 728h0M159.5 701h0M166 698.5h0M158 689h0M147 713h0M150.5 728.5h0M145.5 742h0M159.5 687h0M144.5 747.5h0M159.5 726.5h0M145.5 750h0M155 703h0M157 691h0M164.5 692h0M159 686.5h0M161 726.5h0M167 716.5h0M163 695.5h0M144.5 740h0M145 742h0M167 735.5h0M169.5 722.5h0M152 702.5h0M158 726.5h0M169.5 724.5h0M158 686h0M165 722h0M168.5 739.5h0M147.5 746.5h0M160.5 719.5h0M143 731.5h0M149 731.5h0M147 738.5h0M144.5 746.5h0M172.5 700h0M155 715.5h0M143.5 750.5h0M167 740h0M157.5 722.5h0M164 708.5h0M157 695.5h0M160 707.5h0M146.5 729.5h0M159 690.5h0M164 724.5h0M167.5 739h0M170.5 703.5h0M152.5 723.5h0M156 722h0M147 746.5h0M172 731.5h0M145.5 749h0M144 748h0M163 712.5h0M171.5 718h0M172 708.5h0M144 708.5h0M152.5 690.5h0M163 677h0M172 699.5h0M159 477h0M158.5 552h0M158.5 567h0M158.5 579h0M158.5 598h0M158.5 612h0M158.5 644.5h0M158.5 658h0M170 635.5h0M158 675.5h0M170 690.5h0M143.5 683.5h0M170 709.5h0M139.5 742h0" stroke="#5252ff" stroke-width="7.6" stroke-linecap="round" fill="none"/>
<path d="M150.3 743h2.5v2.7h-2.5zM155.4 770.2h3.7v3.7h-3.7zM158 753.5h2.9v4h-2.9zM155.8 762.1h4.3v2.7h-4.3z" fill="#fff"/>
<path d="M176 838L176 769.4L178.5 768.9L181.1 772.2L183.6 775.8L186.2 779.9L188.7 781.8L191.3 789.7L193.8 790.3L196.4 801.2L198.9 807.8L201.5 805.4L204 798L206.6 782.6L209.1 778.8L211.7 778L214.2 777.4L214.2 838ZM209.5 768.5l3.5 7h-7zM201 799l3.5 7h-7zM198.5 784.5l3.5 7h-7zM209 771l3.5 7h-7zM193.5 764.5l3.5 7h-7zM192.5 782l3.5 7h-7zM196 795l3.5 7h-7zM179.5 766l3.5 7h-7zM196 784l3.5 7h-7zM189.5 778.5l3.5 7h-7zM197.5 784l3.5 7h-7zM194 783.5l3.5 7h-7zM190 781.5l3.5 7h-7zM191.5 768.5l3.5 7h-7zM203.5 795.5l3.5 7h-7zM182.5 760l3.5 7h-7zM208 765.5l3.5 7h-7zM197.5 790l3.5 7h-7zM196 789.5l3.5 7h-7zM183.5 758l3.5 7h-7zM187 777.5l3.5 7h-7zM197 793.5l3.5 7h-7zM186 757l3.5 7h-7zM204.5 778.5l3.5 7h-7zM183 762l3.5 7h-7zM207 775l3.5 7h-7zM207.5 769.5l3.5 7h-7zM198 788.5l3.5 7h-7zM190.5 781.5l3.5 7h-7zM180.5 765.5l3.5 7h-7zM189 779.5l3.5 7h-7zM202 799l3.5 7h-7zM180 750.5l3.5 7h-7zM190.5 759.5l3.5 7h-7zM200 786.5l3.5 7h-7zM210.5 750.5l3.5 7h-7zM187.5 674.5l3.5 7h-7zM210 710.5l3.5 7h-7zM208.5 727l3.5 7h-7zM208.5 752l3.5 7h-7z" fill="#52ff52"/>
<path d="M184.6 820.6h4.5v4.3h-4.5zM198.8 807.6h4v1.9h-4zM179 783.6h3.3v3.2h-3.3zM184.9 786.6h1.9v2.6h-1.9zM195.4 803h3.4v3.1h-3.4zM188.5 786.4h4.2v3.3h-4.2zM180.7 827.8h2.3v3.9h-2.3zM184.7 799.6h2.4v1.8h-2.4zM177.1 798h2.2v1.8h-2.2zM210.5 782.3h3.5v2.1h-3.5zM184.8 817.7h4.2v2.8h-4.2zM209.1 777.8h3.8v3.5h-3.8zM200.6 818.1h4.4v4.1h-4.4zM181.2 802.4h4.1v4.1h-4.1zM193.9 792.9h2v3.8h-2zM183.2 827.8h2.2v2h-2.2zM198.1 809.4h4.5v4h-4.5zM191.9 821.8h3.7v3.5h-3.7zM190.7 794.3h4.4v3.9h-4.4zM201.8 805h2.8v3.9h-2.8zM188.4 784.7h3.9v4.5h-3.9zM202.4 808.2h1.9v3.8h-1.9zM202.6 807.9h2.9v2.1h-2.9zM193.2 792h2.8v4h-2.8zM201.3 816.1h3.1v4.5h-3.1z" fill="#fff"/>
<path d="M214.2 838L214.2 743.1L216.7 744.1L219.2 743.7L221.7 745.6L224.2 745.1L226.8 752L229.3 751.6L231.8 756L234.3 753.5L236.8 745.4L239.3 746.2L241.8 744.8L244.3 747.5L246.9 745.4L249.4 742.6L251.9 744.3L254.4 747.7L256.9 742.6L256.9 838Z" fill="#ffff4f"/>
<path d="M243.5 726h0M246.5 724h0M247 744.5h0M219 744h0M246.5 725.5h0M229 753h0M231.5 743.5h0M246 743h0M234 741.5h0M232 750h0M251.5 741h0M235 735.5h0M247.5 741h0M244 744.5h0M244.5 714.5h0M246.5 723.5h0M237.5 733h0M237.5 716h0M229 745h0M234.5 734.5h0M218.5 730.5h0M250 744.5h0M237 739.5h0M230.5 745h0M244.5 728.5h0M224.5 733.5h0M244 742h0M225.5 744.5h0M218.5 742h0M242.5 722.5h0M243 727.5h0M228.5 746.5h0M233.5 737.5h0M226.5 743h0M219.5 744.5h0M237.5 745h0M248.5 743h0M218 730h0M221.5 745h0M242 724.5h0M253 745h0M232 740h0M223 746h0M219.5 718h0M226 743.5h0M248.5 731.5h0M218.5 711.5h0M231.5 736h0M240 708.5h0M250 727h0M241.5 561h0M238.5 653h0M243 666.5h0M245 677h0M245 686h0M226.5 698h0M240.5 705h0M255.5 737.5h0" stroke="#ffff4f" stroke-width="7.6" stroke-linecap="round" fill="none"/>
<path d="M234.6 784h2.7v2.6h-2.7zM237.1 770.8h4.1v1.9h-4.1zM235.2 821.3h2.2v4h-2.2zM247.1 822.3h2.5v3.3h-2.5zM253.6 792.7h2.4v2.8h-2.4z" fill="#fff"/>
<path d="M256.9 838L256.9 701.4L259.5 700.8L262 702.8L264.6 705.7L267.2 712.7L269.8 718.9L272.4 714.4L274.9 695.8L277.5 689.6L280.1 694.4L282.6 714.6L285.2 717.6L287.8 720.2L290.4 743.8L293 752.3L295.5 751.6L298.1 754.6L298.1 838ZM259.6 689.6h7.7v3.9h-7.7zM270.6 678.1h7.7v3.9h-7.7zM286.1 736.6h7.7v3.9h-7.7zM282.6 712.1h7.7v3.9h-7.7zM289.1 718.6h7.7v3.9h-7.7zM265.6 689.1h7.7v3.9h-7.7zM279.1 687.1h7.7v3.9h-7.7zM287.6 729.1h7.7v3.9h-7.7zM276.6 693.6h7.7v3.9h-7.7zM266.6 701.1h7.7v3.9h-7.7zM290.1 747.1h7.7v3.9h-7.7zM269.6 705.6h7.7v3.9h-7.7zM271.1 672.1h7.7v3.9h-7.7zM269.1 701.1h7.7v3.9h-7.7zM277.6 687.6h7.7v3.9h-7.7zM267.6 711.1h7.7v3.9h-7.7zM264.6 703.6h7.7v3.9h-7.7zM262.6 710.6h7.7v3.9h-7.7zM264.1 711.1h7.7v3.9h-7.7zM276.1 684.6h7.7v3.9h-7.7zM271.1 675.6h7.7v3.9h-7.7zM290.1 716.1h7.7v3.9h-7.7zM276.6 693.6h7.7v3.9h-7.7zM272.1 682.6h7.7v3.9h-7.7zM269.6 682.6h7.7v3.9h-7.7zM257.1 670.6h7.7v3.9h-7.7zM272.6 663.1h7.7v3.9h-7.7zM279.1 708.1h7.7v3.9h-7.7zM274.1 687.6h7.7v3.9h-7.7zM269.6 691.6h7.7v3.9h-7.7zM284.1 706.6h7.7v3.9h-7.7zM270.6 691.6h7.7v3.9h-7.7zM260.1 657.6h7.7v3.9h-7.7zM266.1 691.6h7.7v3.9h-7.7zM284.1 711.1h7.7v3.9h-7.7zM262.1 691.6h7.7v3.9h-7.7zM265.6 713.6h7.7v3.9h-7.7zM274.1 661.1h7.7v3.9h-7.7zM256.6 665.6h7.7v3.9h-7.7zM286.1 693.1h7.7v3.9h-7.7zM285.6 702.6h7.7v3.9h-7.7zM272.1 680.1h7.7v3.9h-7.7zM274.6 689.6h7.7v3.9h-7.7zM272.1 668.6h7.7v3.9h-7.7zM279.1 707.6h7.7v3.9h-7.7zM289.6 750.6h7.7v3.9h-7.7zM268.6 697.6h7.7v3.9h-7.7zM266.1 694.6h7.7v3.9h-7.7zM277.1 678.6h7.7v3.9h-7.7zM287.6 739.6h7.7v3.9h-7.7zM269.1 701.1h7.7v3.9h-7.7zM279.1 700.1h7.7v3.9h-7.7zM281.6 693.1h7.7v3.9h-7.7zM272.6 666.6h7.7v3.9h-7.7zM282.6 707.6h7.7v3.9h-7.7zM277.6 707.1h7.7v3.9h-7.7zM277.1 684.6h7.7v3.9h-7.7zM266.1 714.1h7.7v3.9h-7.7zM288.6 715.1h7.7v3.9h-7.7zM290.6 731.1h7.7v3.9h-7.7zM278.1 705.1h7.7v3.9h-7.7zM273.6 665.6h7.7v3.9h-7.7zM288.6 736.1h7.7v3.9h-7.7zM259.6 698.1h7.7v3.9h-7.7zM258.6 671.6h7.7v3.9h-7.7zM260.6 649.1h7.7v3.9h-7.7zM283.6 696.6h7.7v3.9h-7.7zM268.6 707.1h7.7v3.9h-7.7zM261.1 668.1h7.7v3.9h-7.7zM286.6 726.6h7.7v3.9h-7.7zM271.6 663.1h7.7v3.9h-7.7zM272.6 657.1h7.7v3.9h-7.7zM262.6 712.1h7.7v3.9h-7.7zM257.1 625.6h7.7v3.9h-7.7zM265.1 688.6h7.7v3.9h-7.7zM273.6 652.6h7.7v3.9h-7.7zM282.1 670.6h7.7v3.9h-7.7zM290.1 715.6h7.7v3.9h-7.7zM257.1 558.1h7.7v3.9h-7.7zM275.6 542.6h7.7v3.9h-7.7zM275.6 552.6h7.7v3.9h-7.7zM275.6 562.6h7.7v3.9h-7.7zM275.6 571.6h7.7v3.9h-7.7zM275.6 580.6h7.7v3.9h-7.7zM275.6 589.6h7.7v3.9h-7.7zM275.6 598.6h7.7v3.9h-7.7zM275.6 607.6h7.7v3.9h-7.7zM275.6 616.6h7.7v3.9h-7.7zM275.6 625.6h7.7v3.9h-7.7zM275.6 634.6h7.7v3.9h-7.7zM275.6 643.6h7.7v3.9h-7.7zM277.1 652.6h7.7v3.9h-7.7zM291.1 688.6h7.7v3.9h-7.7zM257.1 630.1h7.7v3.9h-7.7zM257.1 639.1h7.7v3.9h-7.7zM257.1 652.6h7.7v3.9h-7.7z" fill="#ff52ff"/>
<path d="M272.1 752h3.6v2h-3.6zM265.8 750.3h4.5v4.3h-4.5zM266.6 751.6h2.5v4.4h-2.5zM262.7 747.1h2.1v3.4h-2.1zM265.2 798.8h3.4v3.1h-3.4zM263.5 706.6h1.9v3.5h-1.9z" fill="#fff"/>
<path d="M298.1 838L298.1 749.7L300.8 751.2L303.4 746.6L306.1 748.7L308.8 743.3L311.5 746L314.1 746.4L316.8 749.1L319.5 769.6L322.2 768.5L324.8 771.2L327.5 770.4L327.5 838ZM318 767l3.5 -7h-7zM302 752l3.5 -7h-7zM307.5 720.5l3.5 -7h-7zM316.5 745l3.5 -7h-7zM302.5 752l3.5 -7h-7zM318 751.5l3.5 -7h-7zM304.5 729l3.5 -7h-7zM320 739l3.5 -7h-7zM319 759.5l3.5 -7h-7zM303.5 719.5l3.5 -7h-7zM316 720.5l3.5 -7h-7zM314 746l3.5 -7h-7zM310 726.5l3.5 -7h-7zM312.5 726l3.5 -7h-7zM321.5 771l3.5 -7h-7zM303.5 737l3.5 -7h-7zM316 722.5l3.5 -7h-7zM317.5 719.5l3.5 -7h-7zM315.5 721l3.5 -7h-7zM319.5 766l3.5 -7h-7zM309 748l3.5 -7h-7zM302 721.5l3.5 -7h-7zM320 757.5l3.5 -7h-7zM311.5 736l3.5 -7h-7zM309 736.5l3.5 -7h-7zM309 712l3.5 -7h-7zM318 764l3.5 -7h-7zM318 757.5l3.5 -7h-7zM316 743l3.5 -7h-7zM305 728l3.5 -7h-7zM320.5 755l3.5 -7h-7zM312 718.5l3.5 -7h-7zM314.5 739.5l3.5 -7h-7zM321.5 768l3.5 -7h-7zM312 741.5l3.5 -7h-7zM308 732.5l3.5 -7h-7zM312.5 731l3.5 -7h-7zM306 720l3.5 -7h-7zM318.5 738l3.5 -7h-7zM315 720l3.5 -7h-7zM309.5 721l3.5 -7h-7zM323 772.5l3.5 -7h-7zM318 748l3.5 -7h-7zM309.5 741.5l3.5 -7h-7zM318.5 761.5l3.5 -7h-7zM323 751.5l3.5 -7h-7zM307 717.5l3.5 -7h-7zM308 727.5l3.5 -7h-7zM302 708.5l3.5 -7h-7zM312 708.5l3.5 -7h-7zM324 739.5l3.5 -7h-7zM309 661.5l3.5 -7h-7zM313 670.5l3.5 -7h-7zM307 697l3.5 -7h-7zM311 694l3.5 -7h-7zM327.5 727.5l3.5 -7h-7z" fill="#52ffff"/>
<path d="M310.7 757.6h4.4v2h-4.4zM319.5 769.8h3.6v3.1h-3.6zM307.2 785.5h2.5v2.3h-2.5z" fill="#fff"/>
<path d="M327.5 838L327.5 756.8L330.1 756.4L332.7 755.9L335.3 751.5L337.9 748.5L340.5 739.3L343.1 735.2L345.7 733L348.3 730.5L350.9 726.5L353.5 721.8L356.1 723.4L358.7 723.9L361.3 740.7L363.9 744.8L366.5 742.7L369.1 745.1L371.7 744.6L371.7 838ZM352.1 721.1h7.7v3.9h-7.7zM330.6 692.6h7.7v3.9h-7.7zM338.6 712.1h7.7v3.9h-7.7zM345.1 720.1h7.7v3.9h-7.7zM331.1 695.6h7.7v3.9h-7.7zM345.1 712.1h7.7v3.9h-7.7zM340.1 731.1h7.7v3.9h-7.7zM363.1 726.1h7.7v3.9h-7.7zM362.6 735.1h7.7v3.9h-7.7zM336.6 724.6h7.7v3.9h-7.7zM352.6 709.6h7.7v3.9h-7.7zM345.6 717.6h7.7v3.9h-7.7zM332.6 716.1h7.7v3.9h-7.7zM343.6 730.6h7.7v3.9h-7.7zM346.1 721.1h7.7v3.9h-7.7zM353.6 715.6h7.7v3.9h-7.7zM328.6 719.1h7.7v3.9h-7.7zM337.6 703.1h7.7v3.9h-7.7zM361.6 719.6h7.7v3.9h-7.7zM329.1 750.1h7.7v3.9h-7.7zM345.6 713.6h7.7v3.9h-7.7zM338.6 721.1h7.7v3.9h-7.7zM338.6 708.6h7.7v3.9h-7.7zM327.1 725.6h7.7v3.9h-7.7zM334.6 717.6h7.7v3.9h-7.7zM330.1 697.1h7.7v3.9h-7.7zM334.6 689.1h7.7v3.9h-7.7zM336.1 725.1h7.7v3.9h-7.7zM358.6 737.6h7.7v3.9h-7.7zM359.1 730.1h7.7v3.9h-7.7zM344.1 725.6h7.7v3.9h-7.7zM331.6 732.6h7.7v3.9h-7.7zM344.6 726.1h7.7v3.9h-7.7zM342.6 715.6h7.7v3.9h-7.7zM352.1 704.1h7.7v3.9h-7.7zM352.6 717.6h7.7v3.9h-7.7zM363.6 731.1h7.7v3.9h-7.7zM345.6 715.1h7.7v3.9h-7.7zM341.6 707.6h7.7v3.9h-7.7zM343.6 726.6h7.7v3.9h-7.7zM341.6 711.6h7.7v3.9h-7.7zM332.1 732.1h7.7v3.9h-7.7zM343.1 713.1h7.7v3.9h-7.7zM332.1 747.6h7.7v3.9h-7.7zM343.1 709.1h7.7v3.9h-7.7zM336.1 710.1h7.7v3.9h-7.7zM360.1 735.1h7.7v3.9h-7.7zM363.6 742.1h7.7v3.9h-7.7zM330.6 684.1h7.7v3.9h-7.7zM329.1 690.1h7.7v3.9h-7.7zM360.6 717.6h7.7v3.9h-7.7zM341.6 730.6h7.7v3.9h-7.7zM347.6 723.1h7.7v3.9h-7.7zM359.6 731.1h7.7v3.9h-7.7zM348.1 707.1h7.7v3.9h-7.7zM339.1 726.6h7.7v3.9h-7.7zM339.6 733.1h7.7v3.9h-7.7zM355.1 701.6h7.7v3.9h-7.7zM351.1 698.1h7.7v3.9h-7.7zM341.6 732.6h7.7v3.9h-7.7zM337.1 726.6h7.7v3.9h-7.7zM342.1 709.6h7.7v3.9h-7.7zM362.6 721.1h7.7v3.9h-7.7zM359.1 713.1h7.7v3.9h-7.7zM359.1 728.1h7.7v3.9h-7.7zM328.6 744.6h7.7v3.9h-7.7zM340.1 711.6h7.7v3.9h-7.7zM327.6 679.6h7.7v3.9h-7.7zM340.6 706.6h7.7v3.9h-7.7zM349.6 697.6h7.7v3.9h-7.7zM362.6 715.6h7.7v3.9h-7.7zM344.1 603.1h7.7v3.9h-7.7zM328.1 634.6h7.7v3.9h-7.7zM344.6 639.1h7.7v3.9h-7.7zM354.1 641.1h7.7v3.9h-7.7zM354.1 654.6h7.7v3.9h-7.7zM328.1 669.6h7.7v3.9h-7.7zM347.1 678.1h7.7v3.9h-7.7zM342.6 688.6h7.7v3.9h-7.7zM354.1 681.6h7.7v3.9h-7.7z" fill="#ffaaaa"/>
<path d="M338.9 771.4h3.4v3.8h-3.4zM332.2 754.5h1.8v2h-1.8zM356.1 765.6h3.9v3.2h-3.9zM346.5 736.8h2.2v2.7h-2.2zM340.7 765.9h3.6v2.3h-3.6zM346.8 745.1h2.7v2.6h-2.7zM364.6 760.4h2.4v2.2h-2.4zM339.6 740.2h3.5v2.4h-3.5zM338.8 798.1h2.8v2.4h-2.8zM336.1 772.4h2.6v4.4h-2.6zM350.3 736.5h3.7v2.6h-3.7zM334 753.5h4.4v4.4h-4.4zM348.5 791.8h4.2v2.3h-4.2zM337 782h2.1v3.6h-2.1zM339.4 757.7h3.3v4.5h-3.3zM334.7 794.1h3.5v1.8h-3.5zM367.6 775.1h2.7v4h-2.7zM339.9 745.9h3.6v3.7h-3.6zM345.3 798.8h2.6v1.9h-2.6zM356.3 751.4h3.2v2.1h-3.2zM342 754h3.9v3.2h-3.9zM367.7 759.3h3.9v4.2h-3.9zM352.9 731.1h2v2.8h-2zM335.9 778.6h2.8v3.9h-2.8zM334.5 782.1h3.2v1.9h-3.2zM348.6 736.8h3.8v2h-3.8zM348 736.4h2.7v1.8h-2.7zM353 811h3.2v2h-3.2zM345.3 800.4h2.4v4h-2.4zM359.2 735.5h2.8v3.3h-2.8zM343.7 784.3h2.6v4.2h-2.6zM363 757.9h3.2v3.3h-3.2zM357.7 744.9h3v3.2h-3zM328.6 759.2h4.5v2.7h-4.5zM349 760.5h4.4v2.4h-4.4zM368.5 777.6h3.2v4.2h-3.2zM338.2 761.2h2.4v4.2h-2.4zM339.3 759h2.9v3.3h-2.9zM344.7 756.2h2.1v2.1h-2.1zM336 790h2.6v1.8h-2.6zM342.9 760.7h3.4v4.3h-3.4zM352.8 733.7h3.9v2.3h-3.9zM332.9 770h3.5v3.1h-3.5zM368.4 767.1h2.7v3.6h-2.7zM333.7 775.3h1.9v4.1h-1.9zM330.3 812.5h2.8v1.8h-2.8zM359.7 810.3h2.2v4.4h-2.2zM363.9 760.2h3v3.2h-3zM355.6 738.3h2.2v1.9h-2.2zM329 797.4h4v2.8h-4zM332 773.3h4.1v4.4h-4.1zM358.1 800.1h3.9v4.1h-3.9zM332.5 770.3h2.9v2.8h-2.9zM335.7 767.2h2.7v3.9h-2.7zM356.1 778.1h3v3.9h-3zM339.1 810.4h3.2v2.4h-3.2zM344.4 751.8h4.4v3.7h-4.4z" fill="#fff"/>
<path d="M371.7 838L371.7 700.3L374.4 699L377.1 698.1L379.8 700.4L382.5 710.2L385.2 711.9L387.9 729.7L390.5 732.5L393.2 734.8L395.9 740L398.6 741.4L401.3 746.3L404 746.4L404 838ZM381 692l-7 -3.5v7zM394.5 727l-7 -3.5v7zM393 719l-7 -3.5v7zM403 743.5l-7 -3.5v7zM381.5 699l-7 -3.5v7zM379 681.5l-7 -3.5v7zM404 737l-7 -3.5v7zM396 733.5l-7 -3.5v7zM395.5 731l-7 -3.5v7zM386.5 693.5l-7 -3.5v7zM392.5 718.5l-7 -3.5v7zM392.5 719l-7 -3.5v7zM394.5 716l-7 -3.5v7zM394 732.5l-7 -3.5v7zM397 731l-7 -3.5v7zM392.5 721l-7 -3.5v7zM397.5 736.5l-7 -3.5v7zM388.5 708.5l-7 -3.5v7zM400 733l-7 -3.5v7zM400 740.5l-7 -3.5v7zM402.5 739.5l-7 -3.5v7zM380.5 697l-7 -3.5v7zM391 699.5l-7 -3.5v7zM379.5 681.5l-7 -3.5v7zM387.5 690.5l-7 -3.5v7zM395.5 717.5l-7 -3.5v7zM403.5 727l-7 -3.5v7zM376.5 564.5l-7 -3.5v7zM403 650l-7 -3.5v7zM376.5 657.5l-7 -3.5v7zM381 672.5l-7 -3.5v7zM381 685.5l-7 -3.5v7zM403 692.5l-7 -3.5v7z" fill="#808080"/>
<path d="M375.2 724.9h1.9v4.3h-1.9zM396 753.6h3v3.3h-3zM388.5 819.9h4.4v3h-4.4zM398.1 786.9h3.8v4.4h-3.8z" fill="#fff"/>
<path d="M404 838L404 747.5L406.6 744.6L409.2 741L411.8 741.7L414.4 728L417 725.8L419.6 731L422.3 733.1L424.9 733.4L427.5 736.3L430.1 726.4L432.7 728.1L435.3 725L437.9 724.5L437.9 838ZM429.1 706.5h3.9v7h-3.9zM429.1 695h3.9v7h-3.9zM430.1 694h3.9v7h-3.9zM416.6 703h3.9v7h-3.9zM429.6 713h3.9v7h-3.9zM414.6 707.5h3.9v7h-3.9zM431.1 718h3.9v7h-3.9zM428.6 706.5h3.9v7h-3.9zM413.1 722.5h3.9v7h-3.9zM423.1 730h3.9v7h-3.9zM415.1 723.5h3.9v7h-3.9zM418.1 693h3.9v7h-3.9zM416.1 710h3.9v7h-3.9zM420.1 728.5h3.9v7h-3.9zM417.1 724.5h3.9v7h-3.9zM415.1 708h3.9v7h-3.9zM425.6 730h3.9v7h-3.9zM415.1 715h3.9v7h-3.9zM416.6 705.5h3.9v7h-3.9zM406.1 723h3.9v7h-3.9zM426.6 710.5h3.9v7h-3.9zM417.1 701.5h3.9v7h-3.9zM416.1 720h3.9v7h-3.9zM420.1 728.5h3.9v7h-3.9zM429.6 690h3.9v7h-3.9zM409.1 737h3.9v7h-3.9zM424.6 706h3.9v7h-3.9zM428.6 715h3.9v7h-3.9zM424.1 708h3.9v7h-3.9zM415.1 723.5h3.9v7h-3.9zM429.6 710h3.9v7h-3.9zM427.1 718h3.9v7h-3.9zM406.6 699.5h3.9v7h-3.9zM421.6 718h3.9v7h-3.9zM431.1 700.5h3.9v7h-3.9zM416.6 697h3.9v7h-3.9zM425.6 726.5h3.9v7h-3.9zM414.6 716h3.9v7h-3.9zM424.6 696h3.9v7h-3.9zM417.1 722h3.9v7h-3.9zM424.1 713h3.9v7h-3.9zM410.1 735.5h3.9v7h-3.9zM427.6 710h3.9v7h-3.9zM422.1 713.5h3.9v7h-3.9zM421.1 725h3.9v7h-3.9zM406.6 726.5h3.9v7h-3.9zM407.1 696h3.9v7h-3.9zM406.1 729h3.9v7h-3.9zM420.6 727.5h3.9v7h-3.9zM416.6 708h3.9v7h-3.9zM413.6 723h3.9v7h-3.9zM422.1 701h3.9v7h-3.9zM430.6 704.5h3.9v7h-3.9zM406.6 696h3.9v7h-3.9zM414.1 687h3.9v7h-3.9zM423.6 696h3.9v7h-3.9zM431.1 687h3.9v7h-3.9zM425.6 650h3.9v7h-3.9zM425.6 672h3.9v7h-3.9zM409.6 675.5h3.9v7h-3.9zM400.1 679h3.9v7h-3.9zM431.6 692.5h3.9v7h-3.9z" fill="#c00000"/>
<path d="M424.8 759.5h4.2v4.4h-4.2zM427.5 767.1h3.9v3h-3.9zM414.6 742.2h3.5v4h-3.5zM426.9 785.7h4v2.1h-4zM413.4 786.7h3.5v2.6h-3.5zM418.9 763.9h2.3v4.4h-2.3zM428.3 764.6h3.6v3.5h-3.6zM422.1 802.9h3.4v3.1h-3.4zM409 754.5h2.7v3.6h-2.7zM426.8 742.2h2.4v3.4h-2.4zM423.6 755.8h3.4v2.6h-3.4zM407.7 779h4.4v3.5h-4.4zM419.2 768.8h4.5v2.4h-4.5zM418.9 752.2h2.2v2.5h-2.2zM410.9 747.3h4.4v3.6h-4.4zM410.9 815.2h3.4v4h-3.4zM434.4 729.3h2.6v4h-2.6zM430 752.7h3.5v2.4h-3.5zM415.5 734.5h4.1v3.4h-4.1zM433.9 740.4h4.2v2.5h-4.2zM434.5 728.6h2.3v4.1h-2.3zM423.2 794.9h3.2v3.9h-3.2zM431 761.6h3.7v3.2h-3.7zM421.1 743.6h2.4v3.9h-2.4zM407.8 752.1h2.4v1.9h-2.4zM424.8 752.4h1.9v2h-1.9zM427.9 771h3.9v3.2h-3.9zM428.9 740.2h4.2v1.8h-4.2zM432.7 759.6h4.3v2.4h-4.3zM430.5 771.1h2.8v1.9h-2.8zM430.7 744.1h1.8v2.9h-1.8zM408.8 799.5h3.7v2.6h-3.7zM411.1 750h2.8v2.5h-2.8zM412.3 748.5h4.2v3.8h-4.2zM411.8 790.6h2.7v4.4h-2.7zM414.7 770.5h4.3v3.6h-4.3zM412.4 748.6h2.6v3.8h-2.6zM410.7 798.7h3.2v2.6h-3.2zM405.5 749.9h4.3v2.5h-4.3zM431.9 745.8h1.9v3.3h-1.9zM417.8 750.8h3.8v4h-3.8zM406.4 771.3h2.9v4h-2.9zM414.7 736.6h3v2.3h-3zM415.1 763.3h3v3.4h-3zM424.9 744.8h2.8v2.4h-2.8zM430.2 729.8h3.8v4h-3.8zM410.8 806.9h2.6v3.4h-2.6zM421.2 748.4h3.6v2.9h-3.6zM416.1 770.1h2.7v3h-2.7zM429.2 826.5h2.5v3.9h-2.5zM420 738.2h2.1v1.8h-2.1zM434.2 735.4h4.1v3.6h-4.1zM428.2 734.3h4.1v4h-4.1zM424 773.7h2.3v1.8h-2.3zM432.7 729.2h4.4v2.7h-4.4zM417.2 789.2h3.6v1.8h-3.6zM426.1 790.2h2.6v4.5h-2.6zM425.9 783h4v3.6h-4zM425.2 785.5h4.3v2.5h-4.3zM421 762h2.4v2.6h-2.4zM427.4 749h3.9v4.2h-3.9zM432.6 779h3.6v2.4h-3.6zM425 763.4h4.3v4.1h-4.3zM429.3 766.4h3v2.6h-3zM433.6 772h3v2.5h-3zM428.6 743.1h2.8v2.7h-2.8zM430.7 730.9h3.3v2.8h-3.3zM415.5 763.6h3.5v4.2h-3.5zM422.9 759.2h2.2v2.5h-2.2zM413.6 774.9h4.3v4.4h-4.3zM429.8 743h3.5v4h-3.5zM406 749.3h3v4h-3zM414.3 785.2h2.8v3.9h-2.8zM416.6 728.7h2v3.8h-2zM414.8 746.8h4.3v2.5h-4.3zM427.5 793.5h2.2v3.1h-2.2zM434 748.9h3.8v3.2h-3.8zM405.7 815.7h3.2v4.3h-3.2zM411.3 748.1h3.7v3h-3.7zM413.1 756.7h3.8v4.2h-3.8zM407.5 760.1h2v4.1h-2zM417 735.4h1.8v3h-1.8zM405.2 780.4h3.3v2.8h-3.3zM419.4 768.5h4.3v3.3h-4.3zM432.6 747.7h3.8v3.7h-3.8zM422 805.1h4.4v2.7h-4.4zM431.7 729.3h4.3v3.3h-4.3zM412.2 743.2h3.7v4.4h-3.7zM433.7 740.1h4.2v3.5h-4.2zM410.6 756.4h4.1v2.2h-4.1zM423.1 741.5h4v4.3h-4zM433.3 771.4h3.8v4.5h-3.8zM405.2 766.8h2.9v3.2h-2.9z" fill="#fff"/>
<path d="M437.9 838L437.9 719.5L440.5 716.9L443 719L445.6 718.1L448.1 716L450.7 720.7L453.2 718.5L455.8 710.9L458.3 702.1L460.9 699.5L463.4 702.6L466 704.2L468.5 707.9L471.1 710.9L473.6 705.8L476.2 707.1L476.2 838ZM441.5 707l7 -3.5v7zM462 686.5l7 -3.5v7zM457.5 675.5l7 -3.5v7zM450 708l7 -3.5v7zM453 688l7 -3.5v7zM448 706l7 -3.5v7zM440.5 714.5l7 -3.5v7zM454 669.5l7 -3.5v7zM443 700l7 -3.5v7zM456 689.5l7 -3.5v7zM442.5 699.5l7 -3.5v7zM457 701l7 -3.5v7zM460 691.5l7 -3.5v7zM444.5 713.5l7 -3.5v7zM451.5 706l7 -3.5v7zM458.5 697.5l7 -3.5v7zM460.5 664l7 -3.5v7zM460 698.5l7 -3.5v7zM457 691.5l7 -3.5v7zM459.5 693.5l7 -3.5v7zM455 685.5l7 -3.5v7zM449 713l7 -3.5v7zM463 684l7 -3.5v7zM460 693.5l7 -3.5v7zM446.5 698l7 -3.5v7zM463.5 681l7 -3.5v7zM453.5 709.5l7 -3.5v7zM453.5 687l7 -3.5v7zM453.5 703.5l7 -3.5v7zM439 714.5l7 -3.5v7zM465 695.5l7 -3.5v7zM453 709l7 -3.5v7zM467 684.5l7 -3.5v7zM455 688l7 -3.5v7zM444 711l7 -3.5v7zM466 707.5l7 -3.5v7zM454 699.5l7 -3.5v7zM442 707.5l7 -3.5v7zM442 715.5l7 -3.5v7zM451 710l7 -3.5v7zM466 700l7 -3.5v7zM445.5 716l7 -3.5v7zM443.5 715l7 -3.5v7zM447.5 707l7 -3.5v7zM461 687.5l7 -3.5v7zM441 711.5l7 -3.5v7zM461 660.5l7 -3.5v7zM467.5 703l7 -3.5v7zM444 712.5l7 -3.5v7zM459.5 658.5l7 -3.5v7zM441.5 704l7 -3.5v7zM438 710.5l7 -3.5v7zM462 697.5l7 -3.5v7zM439 699.5l7 -3.5v7zM450 690.5l7 -3.5v7zM458.5 654.5l7 -3.5v7zM467 663.5l7 -3.5v7zM464 539l7 -3.5v7zM464 568l7 -3.5v7zM463 607.5l7 -3.5v7zM464 614l7 -3.5v7zM456.5 642l7 -3.5v7zM461 655.5l7 -3.5v7zM464 661l7 -3.5v7zM443 675.5l7 -3.5v7z" fill="#0000c0"/>
<path d="M458.4 719.6h3.1v2.1h-3.1zM466.1 708.7h4.2v3.7h-4.2zM454.4 720.9h1.8v4.4h-1.8zM455.1 738.8h2.7v3.9h-2.7zM452 789.3h3.3v2.8h-3.3zM467.8 726.5h3.7v3h-3.7z" fill="#fff"/>
<path d="M476.2 838L476.2 700.7L478.8 702.3L481.5 700.1L484.1 693.5L486.8 669.2L489.4 661.7L492 667L494.7 686L497.3 691.3L500 691.9L502.6 690.3L502.6 838ZM479.5 683h7v7h-7zM493 645.5h7v7h-7zM482 661h7v7h-7zM477.5 681.5h7v7h-7zM493.5 676h7v7h-7zM490 625.5h7v7h-7zM486 657.5h7v7h-7zM495 633.5h7v7h-7zM485 627h7v7h-7zM487 623.5h7v7h-7zM480 668.5h7v7h-7zM486.5 661h7v7h-7zM488 644h7v7h-7zM476.5 689.5h7v7h-7zM493.5 684.5h7v7h-7zM482.5 631.5h7v7h-7zM491 675h7v7h-7zM476.5 667h7v7h-7zM479.5 661h7v7h-7zM479 670.5h7v7h-7zM494 623h7v7h-7zM478.5 689.5h7v7h-7zM486 613.5h7v7h-7zM478 667.5h7v7h-7zM482 642.5h7v7h-7zM490 636.5h7v7h-7zM479 667.5h7v7h-7zM494.5 686h7v7h-7zM489 644.5h7v7h-7zM486 649h7v7h-7zM477 678.5h7v7h-7zM482.5 666h7v7h-7zM477 690h7v7h-7zM480 682.5h7v7h-7zM488 611.5h7v7h-7zM485 661.5h7v7h-7zM477 675h7v7h-7zM490 663h7v7h-7zM477.5 693h7v7h-7zM476.5 675h7v7h-7zM494.5 684h7v7h-7zM479 669h7v7h-7zM485 656.5h7v7h-7zM480 660h7v7h-7zM489.5 666h7v7h-7zM489.5 663.5h7v7h-7zM485.5 658h7v7h-7zM480.5 655.5h7v7h-7zM486 636.5h7v7h-7zM479.5 680.5h7v7h-7zM487 642h7v7h-7zM482 643.5h7v7h-7zM478 680h7v7h-7zM490.5 636.5h7v7h-7zM486.5 620h7v7h-7zM483 653.5h7v7h-7zM484.5 659.5h7v7h-7zM478 660.5h7v7h-7zM477.5 660h7v7h-7zM486.5 597h7v7h-7zM495.5 624h7v7h-7zM489 567h7v7h-7zM489 580.5h7v7h-7zM483 601.5h7v7h-7zM490.5 612.5h7v7h-7zM480 634h7v7h-7zM490.5 640.5h7v7h-7z" fill="#00c000"/>
<path d="M487.4 707.1h3.1v2.2h-3.1zM479 726.3h2.1v4h-2.1zM491.8 700.7h3.1v4.1h-3.1zM482.2 747.8h3.2v3.7h-3.2zM479.2 752.1h2.9v4.1h-2.9z" fill="#fff"/>
<path d="M503 838L503 818L505.7 815.5L508.4 811.8L511.1 770.7L513.8 762.2L516.5 757.1L519.1 786.3L521.8 796.8L524.5 801.4L527.2 807L529.9 813.1L532.6 816.2L535.3 817.2L535.3 838Z" fill="#c0c000"/>
<path d="M531.5 775.5h0M530 809h0M529.5 812h0M530.5 804h0M516 730h0M523 790.5h0M513 760h0M531 790h0M509.5 802h0M527.5 805.5h0M515 720.5h0M519 771.5h0M524.5 770.5h0M526.5 797.5h0M522 791h0M513 761h0M524.5 791h0M512.5 739h0M516 725.5h0M530 772h0M531.5 813h0M530.5 810h0M531 800.5h0M515.5 752.5h0M526.5 775h0M526 797.5h0M519.5 749.5h0M510.5 777h0M515 733.5h0M519.5 784.5h0M506.5 817h0M511.5 757.5h0M521.5 771.5h0M507 814h0M521 776.5h0M523 769.5h0M515.5 725.5h0M508 796.5h0M528 803.5h0M529 775.5h0M521 774.5h0M508 788h0M516.5 747h0M514 733h0M514.5 719.5h0M517.5 755.5h0M515 752.5h0M511 743.5h0M518 744h0M509.5 794.5h0M519.5 749h0M524.5 800.5h0M521.5 792.5h0M511 798h0M507 781h0M515.5 708.5h0M523.5 763h0M531 772h0M513 634h0M513 651h0M513 658h0M514.5 681.5h0M514.5 690.5h0M535.5 770h0" stroke="#c0c000" stroke-width="7.6" stroke-linecap="round" fill="none"/>
<path d="M506.9 819.2h2.1v2.9h-2.1zM525.2 805.8h4.1v3.1h-4.1zM508.3 825h3v1.8h-3zM528.5 815.9h3.4v3.1h-3.4zM526.2 818.5h3.6v3h-3.6zM518.2 796h4.1v3h-4.1zM518.6 808.8h3.7v1.8h-3.7zM506.3 818.5h3.6v1.8h-3.6zM532 829.2h2.5v2.7h-2.5zM515.4 795h3.9v4.5h-3.9zM518.2 789.1h2.5v3h-2.5zM519.6 802.9h4.5v4.4h-4.5zM529.2 814.3h2.9v3.6h-2.9zM510 807.1h2.2v4.4h-2.2zM521.8 816.6h2.7v2.9h-2.7zM519.8 793h2.3v2.6h-2.3zM510.2 813.2h2.7v2.9h-2.7zM510.4 802.7h2.5v2.5h-2.5zM522.8 801.2h4.1v3.4h-4.1zM507.2 823.6h1.8v1.9h-1.8zM527 817.3h2v2.4h-2zM509.3 810h2.4v4.3h-2.4zM531.1 828.7h3.9v3.3h-3.9zM521.3 810.9h2.1v2.1h-2.1zM504.2 818.9h4.4v3.4h-4.4zM509.5 818.1h1.9v3.2h-1.9zM517.7 805.9h3v3.4h-3zM516.7 824.9h3.7v2.1h-3.7zM505.3 820.9h3v3.8h-3zM505 825.9h3.4v3.5h-3.4zM516.7 764.3h3.7v2.2h-3.7zM509 822.7h3.8v3h-3.8zM527 807.8h3.4v3.3h-3.4z" fill="#fff"/>
<path d="M535.3 838L535.3 744.2L537.9 744.3L540.5 742L543.1 741.6L545.7 729.6L548.3 727.9L550.9 731.4L553.6 734.8L556.2 734.5L558.8 741.1L561.4 748.1L564 753L566.6 756.5L569.2 753.1L569.2 838ZM547 690.5l3.5 7h-7zM550.5 718.5l3.5 7h-7zM560 713.5l3.5 7h-7zM557.5 731l3.5 7h-7zM550.5 721l3.5 7h-7zM558 689.5l3.5 7h-7zM558 725.5l3.5 7h-7zM544.5 715l3.5 7h-7zM556.5 724.5l3.5 7h-7zM564 730l3.5 7h-7zM564 713.5l3.5 7h-7zM551.5 677.5l3.5 7h-7zM550.5 689l3.5 7h-7zM542.5 731.5l3.5 7h-7zM540.5 723.5l3.5 7h-7zM565 714.5l3.5 7h-7zM561.5 738l3.5 7h-7zM553 727l3.5 7h-7zM556 713.5l3.5 7h-7zM544.5 714.5l3.5 7h-7zM563 744.5l3.5 7h-7zM563.5 748l3.5 7h-7zM547.5 719l3.5 7h-7zM544.5 719l3.5 7h-7zM556.5 719.5l3.5 7h-7zM554 722.5l3.5 7h-7zM553 695l3.5 7h-7zM564.5 745.5l3.5 7h-7zM561.5 736.5l3.5 7h-7zM551 717.5l3.5 7h-7zM562.5 728l3.5 7h-7zM539 721l3.5 7h-7zM556.5 727l3.5 7h-7zM565.5 716l3.5 7h-7zM546 726l3.5 7h-7zM563 724.5l3.5 7h-7zM564.5 744.5l3.5 7h-7zM558.5 705l3.5 7h-7zM542.5 731.5l3.5 7h-7zM553.5 698l3.5 7h-7zM561 740.5l3.5 7h-7zM550 673.5l3.5 7h-7zM558 713l3.5 7h-7zM551.5 682.5l3.5 7h-7zM552.5 714.5l3.5 7h-7zM548 712l3.5 7h-7zM543 736.5l3.5 7h-7zM562.5 737l3.5 7h-7zM542 703l3.5 7h-7zM562.5 716l3.5 7h-7zM541 704.5l3.5 7h-7zM552 696l3.5 7h-7zM543.5 693l3.5 7h-7zM553.5 727l3.5 7h-7zM552 724l3.5 7h-7zM543 729l3.5 7h-7zM549 704l3.5 7h-7zM549 695.5l3.5 7h-7zM560.5 716.5l3.5 7h-7zM546.5 719l3.5 7h-7zM550 705.5l3.5 7h-7zM564 749l3.5 7h-7zM539.5 696l3.5 7h-7zM547.5 669l3.5 7h-7zM556 687l3.5 7h-7zM565.5 714l3.5 7h-7zM560.5 616l3.5 7h-7zM545.5 642l3.5 7h-7zM554.5 645l3.5 7h-7zM548.5 663.5l3.5 7h-7zM539.5 681l3.5 7h-7z" fill="#c000c0"/>
<path d="M562.8 793.8h4v3.9h-4zM551.5 810.3h2.3v3.6h-2.3zM541.7 785.9h2.9v3.2h-2.9zM539 747.3h4v2.5h-4z" fill="#fff"/>
<path d="M569.2 838L569.2 711.5L571.8 707.4L574.4 708.2L577.1 708.5L579.7 713.3L582.3 715.4L584.9 714.8L587.5 720.7L590.1 717.9L592.8 724.7L595.4 724L598 729L600.6 730.7L603.2 735.1L605.8 758.9L608.4 764.9L611.1 772.5L613.7 772.4L616.3 770L616.3 838ZM603 731l4 4l-4 4l-4 -4zM573.5 687l4 4l-4 4l-4 -4zM584.5 704l4 4l-4 4l-4 -4zM597.5 713l4 4l-4 4l-4 -4zM590 713.5l4 4l-4 4l-4 -4zM602 719.5l4 4l-4 4l-4 -4zM597.5 707l4 4l-4 4l-4 -4zM574.5 683l4 4l-4 4l-4 -4zM600 684l4 4l-4 4l-4 -4zM612.5 706.5l4 4l-4 4l-4 -4zM580.5 674.5l4 4l-4 4l-4 -4zM609.5 741l4 4l-4 4l-4 -4zM600.5 691l4 4l-4 4l-4 -4zM590.5 707.5l4 4l-4 4l-4 -4zM587 687l4 4l-4 4l-4 -4zM586 690l4 4l-4 4l-4 -4zM581.5 707l4 4l-4 4l-4 -4zM584 672.5l4 4l-4 4l-4 -4zM606 730.5l4 4l-4 4l-4 -4zM595 679.5l4 4l-4 4l-4 -4zM607.5 717l4 4l-4 4l-4 -4zM596 688l4 4l-4 4l-4 -4zM596 708l4 4l-4 4l-4 -4zM593 676.5l4 4l-4 4l-4 -4zM573.5 704l4 4l-4 4l-4 -4zM577 663.5l4 4l-4 4l-4 -4zM590.5 699.5l4 4l-4 4l-4 -4zM597 684.5l4 4l-4 4l-4 -4zM600.5 675.5l4 4l-4 4l-4 -4zM583.5 699l4 4l-4 4l-4 -4zM578 703l4 4l-4 4l-4 -4zM582 690l4 4l-4 4l-4 -4zM573 673l4 4l-4 4l-4 -4zM608 762l4 4l-4 4l-4 -4zM609.5 753.5l4 4l-4 4l-4 -4zM610.5 763.5l4 4l-4 4l-4 -4zM595.5 717.5l4 4l-4 4l-4 -4zM609 730.5l4 4l-4 4l-4 -4zM578.5 704l4 4l-4 4l-4 -4zM587 671.5l4 4l-4 4l-4 -4zM595.5 720l4 4l-4 4l-4 -4zM598 691.5l4 4l-4 4l-4 -4zM587.5 693.5l4 4l-4 4l-4 -4zM602 718.5l4 4l-4 4l-4 -4zM585.5 712l4 4l-4 4l-4 -4zM609 720l4 4l-4 4l-4 -4zM587.5 706.5l4 4l-4 4l-4 -4zM593.5 701l4 4l-4 4l-4 -4zM579 689l4 4l-4 4l-4 -4zM601 675l4 4l-4 4l-4 -4zM594.5 672.5l4 4l-4 4l-4 -4zM606.5 698l4 4l-4 4l-4 -4zM585 713l4 4l-4 4l-4 -4zM585.5 669.5l4 4l-4 4l-4 -4zM591.5 711.5l4 4l-4 4l-4 -4zM582.5 708.5l4 4l-4 4l-4 -4zM600.5 705.5l4 4l-4 4l-4 -4zM582 692.5l4 4l-4 4l-4 -4zM593.5 701.5l4 4l-4 4l-4 -4zM599.5 724l4 4l-4 4l-4 -4zM604 716.5l4 4l-4 4l-4 -4zM604 715l4 4l-4 4l-4 -4zM587 693.5l4 4l-4 4l-4 -4zM598.5 677.5l4 4l-4 4l-4 -4zM582 697l4 4l-4 4l-4 -4zM574 700.5l4 4l-4 4l-4 -4zM583.5 690.5l4 4l-4 4l-4 -4zM612 756l4 4l-4 4l-4 -4zM593.5 714l4 4l-4 4l-4 -4zM594 713.5l4 4l-4 4l-4 -4zM581 707.5l4 4l-4 4l-4 -4zM602.5 710l4 4l-4 4l-4 -4zM584 675.5l4 4l-4 4l-4 -4zM611.5 752.5l4 4l-4 4l-4 -4zM586.5 692.5l4 4l-4 4l-4 -4zM595.5 715.5l4 4l-4 4l-4 -4zM609 753.5l4 4l-4 4l-4 -4zM586 699l4 4l-4 4l-4 -4zM608 704.5l4 4l-4 4l-4 -4zM584 700.5l4 4l-4 4l-4 -4zM575.5 686.5l4 4l-4 4l-4 -4zM610.5 745.5l4 4l-4 4l-4 -4zM585.5 707.5l4 4l-4 4l-4 -4zM592 713l4 4l-4 4l-4 -4zM595.5 698l4 4l-4 4l-4 -4zM612.5 766.5l4 4l-4 4l-4 -4zM604 688.5l4 4l-4 4l-4 -4zM603 699.5l4 4l-4 4l-4 -4zM609.5 727l4 4l-4 4l-4 -4zM613 763l4 4l-4 4l-4 -4zM582.5 692l4 4l-4 4l-4 -4zM584.5 711l4 4l-4 4l-4 -4zM604.5 730l4 4l-4 4l-4 -4zM607.5 714l4 4l-4 4l-4 -4zM576.5 689.5l4 4l-4 4l-4 -4zM573.5 661l4 4l-4 4l-4 -4zM576.5 695.5l4 4l-4 4l-4 -4zM581.5 697.5l4 4l-4 4l-4 -4zM597.5 718.5l4 4l-4 4l-4 -4zM599 687.5l4 4l-4 4l-4 -4zM575 659.5l4 4l-4 4l-4 -4zM586.5 668.5l4 4l-4 4l-4 -4zM599.5 668.5l4 4l-4 4l-4 -4zM608.5 704.5l4 4l-4 4l-4 -4zM588.5 518l4 4l-4 4l-4 -4zM588.5 545l4 4l-4 4l-4 -4zM588.5 603l4 4l-4 4l-4 -4zM600.5 603.5l4 4l-4 4l-4 -4zM600 615.5l4 4l-4 4l-4 -4zM572 617l4 4l-4 4l-4 -4zM574 627l4 4l-4 4l-4 -4zM588.5 631.5l4 4l-4 4l-4 -4zM588.5 647l4 4l-4 4l-4 -4zM588.5 654l4 4l-4 4l-4 -4zM601.5 659.5l4 4l-4 4l-4 -4zM613.5 663l4 4l-4 4l-4 -4z" fill="#00c0c0"/>
<path d="M571.5 747.7h2.6v2.9h-2.6zM578 791.7h3.6v3.8h-3.6zM603.7 806.9h3.4v3.2h-3.4zM572.6 751.5h2.1v4.3h-2.1zM597.8 784.9h2.1v3h-2.1zM597 771.3h2.2v2.3h-2.2z" fill="#fff"/>
<path d="M616.3 838L616.3 792.6L618.9 789L621.5 792L624.1 789.6L626.7 784.9L629.3 773.8L631.9 772.9L634.5 772.8L637.1 773.4L639.6 777.2L642.2 778.8L644.8 778L647.4 778.4L650 772.3L652.6 773.9L655.2 770.2L657.8 774.5L660.4 769.2L660.4 838ZM628.6 762.6h7.7v3.9h-7.7zM637.1 777.1h7.7v3.9h-7.7zM652.6 755.6h7.7v3.9h-7.7zM651.1 768.6h7.7v3.9h-7.7zM630.1 767.6h7.7v3.9h-7.7zM649.6 761.6h7.7v3.9h-7.7zM644.6 758.6h7.7v3.9h-7.7zM649.6 756.1h7.7v3.9h-7.7zM619.6 757.1h7.7v3.9h-7.7zM645.1 751.6h7.7v3.9h-7.7zM643.6 775.1h7.7v3.9h-7.7zM624.6 751.1h7.7v3.9h-7.7zM616.6 761.1h7.7v3.9h-7.7zM632.1 739.1h7.7v3.9h-7.7zM618.6 787.1h7.7v3.9h-7.7zM636.1 753.1h7.7v3.9h-7.7zM621.1 767.1h7.7v3.9h-7.7zM628.6 757.6h7.7v3.9h-7.7zM638.6 771.6h7.7v3.9h-7.7zM627.6 755.1h7.7v3.9h-7.7zM640.6 775.1h7.7v3.9h-7.7zM652.1 755.6h7.7v3.9h-7.7zM652.1 747.6h7.7v3.9h-7.7zM637.1 764.1h7.7v3.9h-7.7zM616.6 785.6h7.7v3.9h-7.7zM641.6 746.1h7.7v3.9h-7.7zM646.1 753.6h7.7v3.9h-7.7zM632.6 755.1h7.7v3.9h-7.7zM631.1 763.1h7.7v3.9h-7.7zM634.6 767.1h7.7v3.9h-7.7zM631.6 766.6h7.7v3.9h-7.7zM652.1 757.1h7.7v3.9h-7.7zM623.1 781.1h7.7v3.9h-7.7zM633.1 760.1h7.7v3.9h-7.7zM629.6 769.1h7.7v3.9h-7.7zM649.6 756.6h7.7v3.9h-7.7zM621.6 755.6h7.7v3.9h-7.7zM629.6 768.6h7.7v3.9h-7.7zM616.1 756.1h7.7v3.9h-7.7zM618.6 755.6h7.7v3.9h-7.7zM649.6 738.1h7.7v3.9h-7.7zM621.1 759.6h7.7v3.9h-7.7zM644.6 774.1h7.7v3.9h-7.7zM622.1 768.1h7.7v3.9h-7.7zM649.6 755.6h7.7v3.9h-7.7zM643.1 772.6h7.7v3.9h-7.7zM637.6 773.6h7.7v3.9h-7.7zM629.6 767.1h7.7v3.9h-7.7zM616.6 752.6h7.7v3.9h-7.7zM645.1 769.6h7.7v3.9h-7.7zM651.6 764.6h7.7v3.9h-7.7zM645.6 753.6h7.7v3.9h-7.7zM643.1 771.1h7.7v3.9h-7.7zM630.6 743.1h7.7v3.9h-7.7zM623.6 755.1h7.7v3.9h-7.7zM645.6 747.6h7.7v3.9h-7.7zM638.1 750.1h7.7v3.9h-7.7zM624.1 747.6h7.7v3.9h-7.7zM649.1 761.1h7.7v3.9h-7.7zM638.1 775.1h7.7v3.9h-7.7zM616.6 787.1h7.7v3.9h-7.7zM649.6 761.1h7.7v3.9h-7.7zM628.1 763.6h7.7v3.9h-7.7zM642.6 762.1h7.7v3.9h-7.7zM618.1 752.1h7.7v3.9h-7.7zM627.1 734.1h7.7v3.9h-7.7zM639.1 743.1h7.7v3.9h-7.7zM650.6 734.1h7.7v3.9h-7.7zM631.6 667.1h7.7v3.9h-7.7zM625.6 681.6h7.7v3.9h-7.7zM636.1 681.6h7.7v3.9h-7.7zM624.6 698.6h7.7v3.9h-7.7zM630.1 714.1h7.7v3.9h-7.7zM651.1 720.1h7.7v3.9h-7.7z" fill="#404040"/>
<path d="M623.1 792h3.2v3.3h-3.2zM619 806.4h2.4v3.2h-2.4zM619.8 815.6h2.6v3.7h-2.6zM641.7 783.6h4.5v2.9h-4.5zM641 803.1h2.5v2h-2.5zM624 792.3h3.9v3.4h-3.9zM650.8 774.5h1.9v2.9h-1.9zM652.6 773.3h1.9v3.3h-1.9zM654.8 775.9h3.8v3.6h-3.8zM645 794.1h3.2v3.6h-3.2zM654.8 774.1h3.5v2.5h-3.5zM624 791.5h3.2v3.3h-3.2zM622.1 801.8h3v2.4h-3zM634.8 793.8h1.9v3h-1.9zM636.9 811.9h2.1v4.1h-2.1zM653.1 784.6h3.3v2.2h-3.3zM618.7 814.3h2.3v2.1h-2.3zM631.6 775.6h2.3v4.1h-2.3zM640.4 783.6h2.4v3.2h-2.4zM618.7 810.4h2.3v2.3h-2.3zM645.2 783h2.8v2.8h-2.8zM647 800.9h3.5v2.1h-3.5zM621.6 814.2h4.5v2.3h-4.5zM636.9 793.2h3.6v2.4h-3.6zM627.4 778.4h1.9v4.3h-1.9zM635.1 795.3h3v2.1h-3zM641 788.4h3.9v3.6h-3.9zM644.2 781.5h2.5v4.2h-2.5zM641.7 784.6h4.3v4.1h-4.3zM654.5 780.9h3.3v3.1h-3.3zM642.5 815.8h2.6v2.4h-2.6zM618.5 797h1.8v2.1h-1.8zM625.4 808.3h3.2v3.2h-3.2zM618.4 805h2.6v3.9h-2.6zM628.5 788.8h3.7v3.1h-3.7zM644 783.6h3.7v3.4h-3.7zM623.4 793.4h3.7v3.8h-3.7zM640.5 792.3h2v4.5h-2zM632.3 799.9h2.7v2.9h-2.7zM630.5 789.7h4.3v2.4h-4.3zM621.3 818.5h3.6v2.7h-3.6zM629.2 784.5h2.4v2.3h-2.4zM648.9 779.8h3v2.4h-3zM631.4 782.9h4.4v3.9h-4.4zM651.2 783.1h4v4.2h-4zM617.4 798.7h4.1v4h-4.1zM624.3 790.1h4.2v2h-4.2zM637.3 792.8h2.3v2.5h-2.3zM630.5 779.3h2.6v2.1h-2.6zM646 794.1h3.1v3.8h-3.1zM632 772.7h4.4v2.2h-4.4zM629.1 778.1h4v2.3h-4zM633.4 779.9h3.7v3.4h-3.7zM622.2 807.8h4.1v2.9h-4.1zM649.1 822.1h1.9v4.1h-1.9zM647.8 802.2h3.4v4.2h-3.4zM627.8 818.1h3.2v3.9h-3.2zM635.7 791.1h3.8v3.9h-3.8zM634.8 786.3h4.3v4.2h-4.3zM654.7 780.1h1.9v3.7h-1.9zM636.8 801.3h2.8v3.1h-2.8zM655.2 772.3h2.5v3.3h-2.5zM655.2 772.4h2.7v3.8h-2.7zM631.2 797.6h4v3.7h-4zM655.8 801.3h4.2v4h-4.2zM644 806.4h4v2.5h-4zM642.1 781.2h2.1v3h-2.1z" fill="#fff"/>
<path d="M660.4 838L660.4 733.1L662.9 733.3L665.4 734.3L668 733.6L670.5 730.4L673 724.5L675.5 723.9L678 726.9L680.6 719L683.1 715.7L685.6 721.4L688.1 732.7L690.7 735.1L693.2 738.2L695.7 737.2L695.7 838ZM670.5 688l3.5 -7h-7zM690.5 710.5l3.5 -7h-7zM678.5 708l3.5 -7h-7zM664.5 707l3.5 -7h-7zM688 728l3.5 -7h-7zM666 716l3.5 -7h-7zM679.5 715.5l3.5 -7h-7zM687.5 733.5l3.5 -7h-7zM688 720.5l3.5 -7h-7zM680.5 705.5l3.5 -7h-7zM681 714l3.5 -7h-7zM689.5 707l3.5 -7h-7zM664.5 724l3.5 -7h-7zM670 709.5l3.5 -7h-7zM664.5 696.5l3.5 -7h-7zM683 700.5l3.5 -7h-7zM671.5 714l3.5 -7h-7zM679 708l3.5 -7h-7zM667 736.5l3.5 -7h-7zM687.5 730.5l3.5 -7h-7zM667 694l3.5 -7h-7zM673.5 729l3.5 -7h-7zM664.5 727l3.5 -7h-7zM673.5 702l3.5 -7h-7zM679.5 683.5l3.5 -7h-7zM667 729.5l3.5 -7h-7zM665 735l3.5 -7h-7zM667.5 735l3.5 -7h-7zM689 719.5l3.5 -7h-7zM680.5 705.5l3.5 -7h-7zM679.5 697l3.5 -7h-7zM681 677.5l3.5 -7h-7zM690 724l3.5 -7h-7zM683.5 699.5l3.5 -7h-7zM689 699.5l3.5 -7h-7zM678 727.5l3.5 -7h-7zM678 712l3.5 -7h-7zM672.5 725.5l3.5 -7h-7zM687 723l3.5 -7h-7zM668.5 721l3.5 -7h-7zM671.5 701l3.5 -7h-7zM673.5 690l3.5 -7h-7zM676.5 726l3.5 -7h-7zM681 708.5l3.5 -7h-7zM679.5 713.5l3.5 -7h-7zM664.5 696l3.5 -7h-7zM666.5 738l3.5 -7h-7zM676.5 724.5l3.5 -7h-7zM689.5 729.5l3.5 -7h-7zM679.5 707.5l3.5 -7h-7zM689 701l3.5 -7h-7zM668 695l3.5 -7h-7zM683.5 711.5l3.5 -7h-7zM676 715l3.5 -7h-7zM680.5 701l3.5 -7h-7zM692 711.5l3.5 -7h-7zM678.5 714l3.5 -7h-7zM669.5 708l3.5 -7h-7zM665.5 734.5l3.5 -7h-7zM671.5 679.5l3.5 -7h-7zM673 729.5l3.5 -7h-7zM680 718.5l3.5 -7h-7zM672.5 724.5l3.5 -7h-7zM669 706.5l3.5 -7h-7zM673 698.5l3.5 -7h-7zM664 694l3.5 -7h-7zM674 676l3.5 -7h-7zM682 676l3.5 -7h-7zM692 703l3.5 -7h-7zM687 552.5l3.5 -7h-7zM687 559l3.5 -7h-7zM687 564.5l3.5 -7h-7zM687 578.5l3.5 -7h-7zM687 587.5l3.5 -7h-7zM687 650l3.5 -7h-7zM687 659l3.5 -7h-7zM687 664.5l3.5 -7h-7zM687 679l3.5 -7h-7zM687 694l3.5 -7h-7zM678 639l3.5 -7h-7zM660.5 690.5l3.5 -7h-7zM663.5 711.5l3.5 -7h-7z" fill="#ff4040"/>
<path d="M688.5 800.4h3.1v4.4h-3.1zM679.2 787h2.2v3.3h-2.2zM669.4 764.2h4.1v4h-4.1zM682.3 724.1h2.2v4h-2.2zM675.5 772.8h2v4.2h-2z" fill="#fff"/>
<path d="M695.7 838L695.7 735.1L698.4 736.4L701.1 735.4L703.7 735.7L706.4 728.9L709.1 730.2L711.8 729.4L714.5 730L717.2 739.5L719.8 746.8L722.5 744.3L725.2 747.3L725.2 838ZM701.1 717.6h7.7v3.9h-7.7zM706.1 710.1h7.7v3.9h-7.7zM709.1 717.1h7.7v3.9h-7.7zM701.1 707.6h7.7v3.9h-7.7zM712.1 722.1h7.7v3.9h-7.7zM717.6 742.1h7.7v3.9h-7.7zM711.1 724.1h7.7v3.9h-7.7zM713.6 721.1h7.7v3.9h-7.7zM713.1 716.6h7.7v3.9h-7.7zM710.1 705.6h7.7v3.9h-7.7zM717.1 719.1h7.7v3.9h-7.7zM714.6 715.6h7.7v3.9h-7.7zM715.1 714.6h7.7v3.9h-7.7zM706.6 707.1h7.7v3.9h-7.7zM716.1 728.6h7.7v3.9h-7.7zM700.1 727.1h7.7v3.9h-7.7zM697.6 718.1h7.7v3.9h-7.7zM698.1 730.6h7.7v3.9h-7.7zM713.1 737.1h7.7v3.9h-7.7zM709.6 694.6h7.7v3.9h-7.7zM709.1 725.1h7.7v3.9h-7.7zM702.6 715.6h7.7v3.9h-7.7zM702.1 709.6h7.7v3.9h-7.7zM717.6 735.6h7.7v3.9h-7.7zM698.1 732.6h7.7v3.9h-7.7zM705.1 724.1h7.7v3.9h-7.7zM708.6 718.1h7.7v3.9h-7.7zM705.1 712.1h7.7v3.9h-7.7zM714.1 720.1h7.7v3.9h-7.7zM716.1 741.1h7.7v3.9h-7.7zM706.6 722.6h7.7v3.9h-7.7zM714.6 740.6h7.7v3.9h-7.7zM708.1 706.6h7.7v3.9h-7.7zM704.1 725.1h7.7v3.9h-7.7zM707.6 726.1h7.7v3.9h-7.7zM709.6 722.1h7.7v3.9h-7.7zM696.1 706.6h7.7v3.9h-7.7zM707.6 688.6h7.7v3.9h-7.7zM715.1 715.6h7.7v3.9h-7.7zM711.6 558.1h7.7v3.9h-7.7zM705.1 642.1h7.7v3.9h-7.7zM700.6 660.6h7.7v3.9h-7.7zM716.6 656.1h7.7v3.9h-7.7zM716.6 663.6h7.7v3.9h-7.7zM711.1 677.1h7.7v3.9h-7.7zM700.6 688.6h7.7v3.9h-7.7zM715.6 713.1h7.7v3.9h-7.7z" fill="#4040ff"/>
<path d="M721.9 784.2h4.5v2h-4.5zM715.4 789.8h4v3h-4zM708.4 782.1h1.9v3.8h-1.9z" fill="#fff"/>
<path d="M725.2 838L725.2 784.1L727.8 782.5L730.4 786.4L733 783.8L735.6 786.6L738.2 789.7L740.8 789.9L743.4 792.1L746 787.8L748.6 782.7L751.2 783.3L753.8 779.3L756.4 779.9L759 779.3L759 838ZM740 771l-7 -3.5v7zM735.5 781.5l-7 -3.5v7zM738 786l-7 -3.5v7zM747 786.5l-7 -3.5v7zM755 762.5l-7 -3.5v7zM747 788.5l-7 -3.5v7zM738 762l-7 -3.5v7zM741.5 772l-7 -3.5v7zM747 772l-7 -3.5v7zM744.5 789l-7 -3.5v7zM746 766l-7 -3.5v7zM736 771.5l-7 -3.5v7zM737 785.5l-7 -3.5v7zM748.5 788.5l-7 -3.5v7zM756 770.5l-7 -3.5v7zM747 763.5l-7 -3.5v7zM756.5 753l-7 -3.5v7zM753.5 748l-7 -3.5v7zM755 777l-7 -3.5v7zM744.5 774l-7 -3.5v7zM756.5 770l-7 -3.5v7zM752 754.5l-7 -3.5v7zM753 773l-7 -3.5v7zM732.5 769.5l-7 -3.5v7zM746 777.5l-7 -3.5v7zM748.5 784.5l-7 -3.5v7zM737.5 783l-7 -3.5v7zM734 771.5l-7 -3.5v7zM737.5 783.5l-7 -3.5v7zM739.5 781.5l-7 -3.5v7zM743.5 780.5l-7 -3.5v7zM734 767.5l-7 -3.5v7zM736 770l-7 -3.5v7zM748.5 786.5l-7 -3.5v7zM742 780.5l-7 -3.5v7zM740.5 779l-7 -3.5v7zM742.5 787.5l-7 -3.5v7zM749.5 778l-7 -3.5v7zM757 764l-7 -3.5v7zM748 781l-7 -3.5v7zM749.5 760.5l-7 -3.5v7zM755.5 746.5l-7 -3.5v7zM740.5 788l-7 -3.5v7zM740 778l-7 -3.5v7zM745.5 782.5l-7 -3.5v7zM737.5 778.5l-7 -3.5v7zM745 781.5l-7 -3.5v7zM736 759l-7 -3.5v7zM736 754l-7 -3.5v7zM744.5 754l-7 -3.5v7zM756 745l-7 -3.5v7zM750 703.5l-7 -3.5v7zM730 713l-7 -3.5v7zM750.5 728.5l-7 -3.5v7zM736 736.5l-7 -3.5v7zM730 761l-7 -3.5v7z" fill="#40ff40"/>
<path d="M740.4 798.5h4.1v4h-4.1zM728.4 815.5h3.5v4.3h-3.5zM737 797.8h4.3v2.4h-4.3zM727.7 819.5h4.1v3.8h-4.1zM727.4 790.5h3.8v2.7h-3.8zM736.3 793.2h3v2.2h-3zM745.9 798.1h4.4v3.3h-4.4zM744.1 800.4h2.5v2.8h-2.5zM754.1 791.9h4v2.4h-4zM732 788h2.5v2.2h-2.5zM732.1 810.5h3.7v4.1h-3.7zM748.7 819.9h2.9v4.3h-2.9zM736.8 793.1h3v3.8h-3zM745.2 801.2h3.4v3.6h-3.4zM742.2 795.9h2.9v2.8h-2.9zM750.8 814.6h3.8v4.1h-3.8zM742.2 818.8h2.8v4.4h-2.8zM737.4 806.6h2v3.8h-2zM743.1 819.1h4.2v2.7h-4.2zM733.3 788h2.7v2.9h-2.7zM753.1 797.6h3v2.1h-3zM731.6 804.6h4.1v3.8h-4.1z" fill="#fff"/>
<path d="M759 838L759 746.1L761.5 743.2L764 747.7L766.5 742.3L769 745.7L771.5 745.9L774 750.5L776.5 746.4L779 747.5L781.5 748.1L784 749.1L786.5 745.3L789 743L791.5 742.8L794 745.1L796.5 742L799 744.6L801.5 742L804 741.8L806.5 746.9L809 745.9L809 838ZM767.6 701.5h3.9v7h-3.9zM770.1 734.5h3.9v7h-3.9zM797.1 736.5h3.9v7h-3.9zM771.1 744.5h3.9v7h-3.9zM761.1 704.5h3.9v7h-3.9zM786.6 709.5h3.9v7h-3.9zM782.1 719h3.9v7h-3.9zM771.1 742.5h3.9v7h-3.9zM762.1 720h3.9v7h-3.9zM761.1 725.5h3.9v7h-3.9zM768.1 717.5h3.9v7h-3.9zM798.6 694.5h3.9v7h-3.9zM773.1 695.5h3.9v7h-3.9zM803.1 701h3.9v7h-3.9zM761.1 732h3.9v7h-3.9zM767.1 741.5h3.9v7h-3.9zM783.6 726h3.9v7h-3.9zM761.1 740.5h3.9v7h-3.9zM778.6 693h3.9v7h-3.9zM775.1 735h3.9v7h-3.9zM803.6 727h3.9v7h-3.9zM800.6 708h3.9v7h-3.9zM795.6 726h3.9v7h-3.9zM764.6 709h3.9v7h-3.9zM761.1 726h3.9v7h-3.9zM790.1 707.5h3.9v7h-3.9zM774.6 745.5h3.9v7h-3.9zM797.6 712h3.9v7h-3.9zM770.1 700h3.9v7h-3.9zM776.1 693.5h3.9v7h-3.9zM801.6 695.5h3.9v7h-3.9zM780.6 705h3.9v7h-3.9zM800.1 714.5h3.9v7h-3.9zM781.6 702h3.9v7h-3.9zM790.1 722.5h3.9v7h-3.9zM761.6 734h3.9v7h-3.9zM772.6 728.5h3.9v7h-3.9zM781.1 742h3.9v7h-3.9zM774.6 742.5h3.9v7h-3.9zM802.6 724.5h3.9v7h-3.9zM790.6 711h3.9v7h-3.9zM774.6 714.5h3.9v7h-3.9zM768.1 696h3.9v7h-3.9zM762.6 718.5h3.9v7h-3.9zM777.6 733h3.9v7h-3.9zM787.6 741.5h3.9v7h-3.9zM766.1 720.5h3.9v7h-3.9zM786.6 717h3.9v7h-3.9zM766.1 698h3.9v7h-3.9zM795.6 704.5h3.9v7h-3.9zM779.6 718.5h3.9v7h-3.9zM766.6 735.5h3.9v7h-3.9zM779.6 717.5h3.9v7h-3.9zM768.1 696.5h3.9v7h-3.9zM798.1 690.5h3.9v7h-3.9zM792.6 704.5h3.9v7h-3.9zM768.6 704.5h3.9v7h-3.9zM788.6 722h3.9v7h-3.9zM801.6 723h3.9v7h-3.9zM763.6 730.5h3.9v7h-3.9zM771.6 744.5h3.9v7h-3.9zM803.6 696.5h3.9v7h-3.9zM761.1 709.5h3.9v7h-3.9zM793.6 727.5h3.9v7h-3.9zM795.6 691.5h3.9v7h-3.9zM791.6 724h3.9v7h-3.9zM788.1 731.5h3.9v7h-3.9zM766.6 734h3.9v7h-3.9zM765.6 696.5h3.9v7h-3.9zM793.1 705h3.9v7h-3.9zM767.6 725h3.9v7h-3.9zM792.1 701.5h3.9v7h-3.9zM802.1 729.5h3.9v7h-3.9zM767.6 733h3.9v7h-3.9zM770.6 716.5h3.9v7h-3.9zM775.6 723h3.9v7h-3.9zM789.1 698.5h3.9v7h-3.9zM792.6 726.5h3.9v7h-3.9zM767.6 732h3.9v7h-3.9zM776.1 704.5h3.9v7h-3.9zM802.1 710h3.9v7h-3.9zM773.6 701.5h3.9v7h-3.9zM793.1 708.5h3.9v7h-3.9zM764.6 712h3.9v7h-3.9zM780.6 740h3.9v7h-3.9zM793.6 695.5h3.9v7h-3.9zM770.1 717h3.9v7h-3.9zM763.6 732h3.9v7h-3.9zM802.1 706.5h3.9v7h-3.9zM770.6 698h3.9v7h-3.9zM793.1 727.5h3.9v7h-3.9zM764.1 731.5h3.9v7h-3.9zM789.6 696.5h3.9v7h-3.9zM774.1 709.5h3.9v7h-3.9zM795.1 714.5h3.9v7h-3.9zM761.6 712.5h3.9v7h-3.9zM763.1 698h3.9v7h-3.9zM788.1 736.5h3.9v7h-3.9zM777.1 738.5h3.9v7h-3.9zM796.6 699h3.9v7h-3.9zM789.1 739h3.9v7h-3.9zM788.6 723.5h3.9v7h-3.9zM797.6 736.5h3.9v7h-3.9zM770.1 742h3.9v7h-3.9zM763.1 696h3.9v7h-3.9zM778.6 687h3.9v7h-3.9zM786.6 696h3.9v7h-3.9zM801.1 687h3.9v7h-3.9zM792.6 512h3.9v7h-3.9zM792.6 543h3.9v7h-3.9zM792.6 553h3.9v7h-3.9zM764.6 567h3.9v7h-3.9zM764.6 579h3.9v7h-3.9zM764.6 588h3.9v7h-3.9zM764.6 597h3.9v7h-3.9zM764.6 606h3.9v7h-3.9zM764.6 615h3.9v7h-3.9zM764.6 624h3.9v7h-3.9zM764.6 633h3.9v7h-3.9zM764.6 642h3.9v7h-3.9zM764.6 651h3.9v7h-3.9zM764.6 660h3.9v7h-3.9zM764.6 669h3.9v7h-3.9zM764.6 678h3.9v7h-3.9zM783.6 652h3.9v7h-3.9zM800.6 647.5h3.9v7h-3.9z" fill="#ffff40"/>
<path d="M786.1 748.8h2.5v4.3h-2.5zM804.8 746h4.3v2.1h-4.3zM801.5 813.2h2.7v2.2h-2.7zM801.4 754.8h3.1v2.6h-3.1zM774.6 758.8h2.1v3.5h-2.1zM762.8 771.1h4.2v3.9h-4.2z" fill="#fff"/>
<path d="M809 838L809 751L811.7 751.9L814.3 754.4L817 751.9L819.6 746.9L822.3 744.3L824.9 740L827.6 730.7L830.2 687.5L832.9 677.6L835.5 680.9L838.2 692.7L840.8 731.7L843.5 740.4L846.1 743.5L848.8 742.8L848.8 838ZM840 700l7 -3.5v7zM819 741l7 -3.5v7zM834 662.5l7 -3.5v7zM814.5 746.5l7 -3.5v7zM811.5 745l7 -3.5v7zM829.5 643.5l7 -3.5v7zM833.5 675.5l7 -3.5v7zM819 730.5l7 -3.5v7zM839.5 721l7 -3.5v7zM816.5 722l7 -3.5v7zM832 677l7 -3.5v7zM827 683l7 -3.5v7zM823 704l7 -3.5v7zM817 728l7 -3.5v7zM824 727l7 -3.5v7zM834.5 690l7 -3.5v7zM810.5 716l7 -3.5v7zM820.5 736l7 -3.5v7zM827 676l7 -3.5v7zM813.5 741l7 -3.5v7zM834 668.5l7 -3.5v7zM840 716l7 -3.5v7zM823 720l7 -3.5v7zM820 740l7 -3.5v7zM823.5 699l7 -3.5v7zM822.5 733l7 -3.5v7zM830 672.5l7 -3.5v7zM829.5 673.5l7 -3.5v7zM838.5 724l7 -3.5v7zM830.5 655l7 -3.5v7zM827 679l7 -3.5v7zM810 726l7 -3.5v7zM809.5 741.5l7 -3.5v7zM834.5 664.5l7 -3.5v7zM838 710.5l7 -3.5v7zM819.5 741l7 -3.5v7zM821.5 736.5l7 -3.5v7zM811.5 750.5l7 -3.5v7zM841 700l7 -3.5v7zM827 676.5l7 -3.5v7zM837.5 694.5l7 -3.5v7zM832.5 671l7 -3.5v7zM828 675.5l7 -3.5v7zM826 680l7 -3.5v7zM832 679l7 -3.5v7zM813.5 746l7 -3.5v7zM834.5 665l7 -3.5v7zM810 748.5l7 -3.5v7zM814.5 712.5l7 -3.5v7zM822.5 730l7 -3.5v7zM824 709l7 -3.5v7zM814.5 745l7 -3.5v7zM809.5 753l7 -3.5v7zM833.5 683l7 -3.5v7zM833 678l7 -3.5v7zM831 642.5l7 -3.5v7zM813 734.5l7 -3.5v7zM829 666.5l7 -3.5v7zM822 718l7 -3.5v7zM809.5 711l7 -3.5v7zM817.5 742l7 -3.5v7zM818.5 723l7 -3.5v7zM813 727.5l7 -3.5v7zM816.5 723.5l7 -3.5v7zM818 742.5l7 -3.5v7zM833.5 680l7 -3.5v7zM810.5 708.5l7 -3.5v7zM821.5 708.5l7 -3.5v7zM831 636.5l7 -3.5v7zM841 699.5l7 -3.5v7zM830.5 560l7 -3.5v7zM830.5 576l7 -3.5v7zM830.5 584l7 -3.5v7zM830.5 593.5l7 -3.5v7zM830.5 602.5l7 -3.5v7zM830.5 614l7 -3.5v7zM830.5 631l7 -3.5v7zM841 607l7 -3.5v7zM820.5 635l7 -3.5v7zM841 635.5l7 -3.5v7zM820.5 708l7 -3.5v7zM817.5 717l7 -3.5v7z" fill="#ff40ff"/>
<path d="M831.4 719.6h2.7v3.1h-2.7zM810.8 754.2h2.1v3.2h-2.1zM812 754.9h1.9v2.9h-1.9zM818.4 757.4h2.9v1.9h-2.9zM844.7 753.8h3v4.1h-3z" fill="#fff"/>
<path d="M848.8 838L848.8 768.3L851.4 766.1L854 764.4L856.6 765.6L859.2 767.4L861.8 771.5L864.3 768.8L866.9 770.9L869.5 772.5L872.1 772.7L874.7 771.5L877.3 778.1L879.9 778.9L882.5 780.7L885.1 778.6L887.7 781.9L890.2 781.3L892.8 781.2L895.4 783.2L898 782.7L900.6 783.1L903.2 783.1L903.2 838ZM864 766.5h7v7h-7zM860.5 750h7v7h-7zM893 748h7v7h-7zM894 722h7v7h-7zM880.5 761.5h7v7h-7zM886 743.5h7v7h-7zM865 730.5h7v7h-7zM871.5 740h7v7h-7zM850.5 757.5h7v7h-7zM858.5 741.5h7v7h-7zM895.5 759h7v7h-7zM885.5 745h7v7h-7zM880.5 755.5h7v7h-7zM853.5 763.5h7v7h-7zM875.5 749h7v7h-7zM855.5 756.5h7v7h-7zM882 775h7v7h-7zM894 747h7v7h-7zM875.5 763.5h7v7h-7zM883 767.5h7v7h-7zM888.5 765.5h7v7h-7zM875 775.5h7v7h-7zM852.5 754h7v7h-7zM885.5 727h7v7h-7zM875.5 775h7v7h-7zM861.5 767.5h7v7h-7zM878.5 735.5h7v7h-7zM854.5 762h7v7h-7zM873.5 747h7v7h-7zM869 765.5h7v7h-7zM893 774.5h7v7h-7zM884 747.5h7v7h-7zM890.5 730.5h7v7h-7zM882.5 762.5h7v7h-7zM860 749h7v7h-7zM875 775.5h7v7h-7zM886.5 751h7v7h-7zM871 769h7v7h-7zM857 763.5h7v7h-7zM879 747h7v7h-7zM893.5 776h7v7h-7zM854 744h7v7h-7zM879.5 728.5h7v7h-7zM849.5 758h7v7h-7zM877.5 767.5h7v7h-7zM878.5 774.5h7v7h-7zM884 755.5h7v7h-7zM885.5 729.5h7v7h-7zM885 758h7v7h-7zM872 763h7v7h-7zM869 755h7v7h-7zM856 741.5h7v7h-7zM861 750.5h7v7h-7zM892 772.5h7v7h-7zM881 746h7v7h-7zM849.5 743.5h7v7h-7zM864 728.5h7v7h-7zM894.5 776.5h7v7h-7zM869 734.5h7v7h-7zM874.5 757h7v7h-7zM867.5 756.5h7v7h-7zM894.5 756h7v7h-7zM875 757.5h7v7h-7zM865.5 766h7v7h-7zM862.5 763h7v7h-7zM886.5 740.5h7v7h-7zM888.5 744h7v7h-7zM863.5 738h7v7h-7zM876.5 746h7v7h-7zM851 761h7v7h-7zM890.5 744.5h7v7h-7zM878 762h7v7h-7zM888.5 737.5h7v7h-7zM855 745h7v7h-7zM853 746.5h7v7h-7zM882.5 753h7v7h-7zM896 770.5h7v7h-7zM859 740h7v7h-7zM858.5 734.5h7v7h-7zM857.5 749h7v7h-7zM857.5 740.5h7v7h-7zM872.5 757h7v7h-7zM852 763.5h7v7h-7zM878 747.5h7v7h-7zM880 740.5h7v7h-7zM871.5 764.5h7v7h-7zM855.5 750h7v7h-7zM876.5 763h7v7h-7zM861 762h7v7h-7zM865 717.5h7v7h-7zM870 720.5h7v7h-7zM856.5 764h7v7h-7zM864 717h7v7h-7zM885 734h7v7h-7zM890.5 762h7v7h-7zM852.5 745h7v7h-7zM863.5 754.5h7v7h-7zM866.5 718.5h7v7h-7zM896 760.5h7v7h-7zM860.5 765.5h7v7h-7zM861.5 756h7v7h-7zM868 758.5h7v7h-7zM893 776.5h7v7h-7zM882.5 747.5h7v7h-7zM855 752.5h7v7h-7zM884.5 730h7v7h-7zM889 775.5h7v7h-7zM852.5 741.5h7v7h-7zM863.5 714h7v7h-7zM878 723.5h7v7h-7zM890 714h7v7h-7zM881.5 625h7v7h-7zM889 630.5h7v7h-7zM876 637.5h7v7h-7zM875.5 653h7v7h-7zM857 668h7v7h-7zM889 671h7v7h-7zM846.5 676.5h7v7h-7zM872 678h7v7h-7zM889.5 685.5h7v7h-7zM872 692.5h7v7h-7zM891 700h7v7h-7zM846.5 701.5h7v7h-7zM873.5 709h7v7h-7zM888 719.5h7v7h-7z" fill="#40ffff"/>
<path d="M858.1 777.3h4.2v2.6h-4.2zM864.5 781.8h4.1v4.4h-4.1zM854.8 768.9h4.3v4.2h-4.3zM870.6 796h3.2v2.1h-3.2zM865.5 778.1h2.8v4.4h-2.8zM882.8 799.8h3.3v4.4h-3.3zM860.7 773.3h3.2v2.8h-3.2zM887.9 782.3h1.9v3.8h-1.9zM886.8 790.5h4.2v2.2h-4.2zM867.3 778.2h4.5v3.9h-4.5zM858.2 774.8h4.2v2.8h-4.2zM872.2 784.5h3.2v2.1h-3.2zM887.9 814.7h3.1v2.6h-3.1zM850.7 787.6h2.1v2.4h-2.1zM860.9 788.7h3.8v3.7h-3.8zM857.2 772.2h3v3.2h-3zM878.7 784.3h2.7v2.2h-2.7zM874.3 794.9h3.2v3.5h-3.2zM867.2 789.7h2.1v3.9h-2.1zM881.4 786h3.6v2h-3.6zM850.1 772.9h2.1v2.8h-2.1zM898.8 813.3h2.5v3.7h-2.5zM894.2 811.2h2.2v3h-2.2zM890.3 809.1h2.1v2.4h-2.1zM899.6 796.3h2.4v4.1h-2.4zM852.8 827.8h3.1v2h-3.1zM856.1 796h2.3v3.2h-2.3zM898.2 785.5h3.5v2.1h-3.5zM872.8 818.2h4v3.4h-4zM900 813h4v4.4h-4zM860.5 813.8h3.7v3.9h-3.7zM887.8 783.3h3.3v2.5h-3.3zM877.3 801.5h3.3v2h-3.3zM850 779.3h3.6v4.2h-3.6zM886.9 783.9h2.9v3.6h-2.9zM858.5 775.6h3.4v3.6h-3.4zM851.8 777.1h4.2v2.8h-4.2zM895.9 810.9h2.3v2.1h-2.3zM864.9 771.4h1.9v2.2h-1.9zM854.3 823.1h2.6v4h-2.6zM865.4 790.6h3.2v4.4h-3.2zM873.5 777.6h4.2v3.1h-4.2zM856.1 773.7h2.7v2.7h-2.7zM876.4 804h3.4v3.7h-3.4zM858.4 798h2.9v3.1h-2.9zM894.4 798h2.8v2.5h-2.8zM859.4 813.2h3.1v2.2h-3.1zM866.4 798.2h2.7v2.1h-2.7zM879.6 803.4h3.8v2.5h-3.8zM879.9 787.7h2.3v2.5h-2.3zM862.1 775.4h4.2v3.3h-4.2zM893.7 801h4.4v2h-4.4zM870.6 803.3h2.9v3.9h-2.9zM851.5 778.5h3.2v4.3h-3.2zM876.8 812.9h3v4h-3zM882.6 801.1h3.8v2.1h-3.8zM882.7 780.9h4v3.4h-4zM865.1 803.8h3.3v3.9h-3.3zM869.6 784.4h3.3v2.5h-3.3zM861.4 770.6h2.2v2.9h-2.2zM867.8 779.4h2.6v3.7h-2.6zM871.3 804.8h2.7v2.4h-2.7zM870.3 776.8h2.8v4.5h-2.8zM881 807.5h2.6v3h-2.6zM866.7 777.5h2.8v3.2h-2.8zM893.8 783h2.8v4.5h-2.8zM879.7 817.1h3.5v4.1h-3.5zM856.9 806.5h2.2v3.3h-2.2zM876.7 791.1h3.8v2.3h-3.8zM866.2 796.1h2.8v2.8h-2.8zM894.2 782.7h3.3v3.8h-3.3zM888.1 801.5h3.7v3.2h-3.7zM856.4 771h4v3.5h-4zM883.2 811.6h3.2v1.8h-3.2zM865.9 802.8h2.7v2.2h-2.7zM898 784.7h2.9v3.3h-2.9zM881.4 823.4h2.4v4.4h-2.4zM894.9 810.9h4.2v4.2h-4.2zM881 828.1h2v3.6h-2zM898.7 782.1h2v1.9h-2zM851.7 780.1h3.4v3.6h-3.4zM896.4 785.2h2.6v3.7h-2.6zM869.8 772.1h2.7v3.2h-2.7zM872 773.2h2.4v4.4h-2.4zM882.6 807.9h2.9v2.3h-2.9zM868.1 782.7h2.6v3.2h-2.6zM867.1 792.7h4.2v2h-4.2zM853.7 775.1h4.1v2.3h-4.1z" fill="#fff"/>
<path d="M96 457.7H908" stroke="#e4e4e4" stroke-width="2" fill="none"/>
<rect x="97" y="459.7" width="810" height="379.3" fill="none" stroke="#a8a8a8" stroke-width="1.5"/>
<path d="M97 460.2H907" stroke="#bdbdbd" stroke-width="2.5" fill="none"/>
<rect x="98" y="464" width="34.5" height="37" fill="none" stroke="#262626" stroke-width="2" rx="1.5"/>
<text x="115.2" y="488" class="bl">C</text>
<text x="78" y="481" class="tk">4</text>
<text x="78" y="569.5" class="tk">3</text>
<text x="78" y="661.1" class="tk">2</text>
<text x="78" y="750.9" class="tk">1</text>
<text x="78" y="840.9" class="tk">0</text>
<rect x="1745" y="452" width="10" height="386" fill="#ececec"/>
<rect x="941.3" y="455" width="803.7" height="380" fill="#fff"/>
<path d="M942.3 812.2H1744M942.3 793.8H1744M942.3 775.5H1744M942.3 757.1H1744M942.3 738.8H1744M942.3 720.5H1744M942.3 702.1H1744M942.3 683.8H1744M942.3 665.4H1744M942.3 647.1H1744M942.3 628.8H1744M942.3 610.4H1744M942.3 592.1H1744M942.3 573.7H1744M942.3 555.4H1744M942.3 537.1H1744M942.3 518.7H1744M942.3 500.4H1744M942.3 482H1744M942.3 463.7H1744" stroke="#a8a8a8" stroke-width="1.3" stroke-dasharray="2 2" fill="none"/>
<path d="M945.4 833.5L945.4 647.8L948 649.3L950.6 651.3L953.3 670.3L955.9 672.2L958.5 684.7L961.1 711.7L963.8 722.7L966.4 723.2L969 738.3L971.6 738.9L974.2 737.5L976.9 744.4L979.5 745.8L982.1 743.8L982.1 833.5ZM974.5 731.5h7v7h-7zM974 725h7v7h-7zM962 718h7v7h-7zM946 633.5h7v7h-7zM950.5 645h7v7h-7zM966 730h7v7h-7zM974 735h7v7h-7zM951.5 660h7v7h-7zM966.5 732.5h7v7h-7zM971.5 737.5h7v7h-7zM956.5 666h7v7h-7zM966.5 726h7v7h-7zM952.5 669.5h7v7h-7zM951.5 643h7v7h-7zM951 666h7v7h-7zM951.5 662.5h7v7h-7zM952 649h7v7h-7zM964 721h7v7h-7zM962 710h7v7h-7zM956.5 673.5h7v7h-7zM968.5 734.5h7v7h-7zM965 726.5h7v7h-7zM950 635.5h7v7h-7zM970.5 733h7v7h-7zM947.5 648h7v7h-7zM971.5 738h7v7h-7zM947 644.5h7v7h-7zM949 648h7v7h-7zM956 649.5h7v7h-7zM947.5 646h7v7h-7zM955.5 648.5h7v7h-7zM965.5 714.5h7v7h-7zM962 718.5h7v7h-7zM950 635h7v7h-7zM957.5 691.5h7v7h-7zM954.5 670h7v7h-7zM970.5 736h7v7h-7zM971 717h7v7h-7zM945.5 631h7v7h-7zM953 634.5h7v7h-7zM960.5 680.5h7v7h-7zM967.5 708h7v7h-7zM975 726h7v7h-7zM948.5 469.5h7v7h-7zM950.5 553h7v7h-7zM950.5 575h7v7h-7zM950.5 581h7v7h-7zM943.5 601.5h7v7h-7zM949 601.5h7v7h-7zM972 600.5h7v7h-7zM956.5 613.5h7v7h-7zM962.5 631h7v7h-7z" fill="#ff5252"/>
<path d="M966.7 741.5h2.3v2h-2.3zM978.5 793.5h4.5v2.9h-4.5zM970.3 777.9h2v3.9h-2zM954.3 694.3h2.4v2h-2.4zM964.7 723h3v2.8h-3zM952.7 762.3h3.8v2.1h-3.8z" fill="#fff"/>
<path d="M982.1 833.5L982.1 736.2L984.6 737.9L987.2 737.8L989.7 734L992.2 732.7L994.7 730.3L997.3 733.8L999.8 734L1002.3 738.4L1004.9 741.7L1007.4 745.8L1009.9 762.1L1012.4 764.5L1015 767.2L1017.5 769.2L1017.5 833.5Z" fill="#5252ff"/>
<path d="M1005.5 739h0M1014 742h0M1013.5 727h0M1009 751h0M992.5 731.5h0M987.5 694.5h0M1010.5 738.5h0M1003 716h0M992.5 725.5h0M1006.5 722h0M996 727.5h0M992.5 728.5h0M1014 766h0M1011 762h0M1000.5 703.5h0M992.5 709.5h0M990.5 702h0M996 701h0M998 728h0M999 698.5h0M987 721.5h0M1003.5 709h0M987 733h0M991 703h0M991 694h0M1006 735h0M989 733.5h0M992.5 730.5h0M995 699.5h0M992.5 731.5h0M998.5 718.5h0M1002.5 710.5h0M1009.5 748.5h0M995.5 707.5h0M1000.5 725.5h0M990.5 733.5h0M1010 749.5h0M996 719.5h0M1005.5 713h0M1004.5 710h0M1001.5 697h0M991.5 704h0M999 723.5h0M1004.5 720h0M990.5 722.5h0M1012 719.5h0M1009.5 738.5h0M986 724.5h0M1009.5 735.5h0M998.5 720h0M999 710.5h0M1009.5 725.5h0M994.5 695.5h0M989.5 728h0M1011.5 755.5h0M997 701h0M1004 731.5h0M986.5 733h0M987.5 730.5h0M1005 739.5h0M999.5 716.5h0M991 701.5h0M1002 705h0M1008.5 740h0M995 708.5h0M987 693h0M996 693h0M1003.5 697.5h0M1012.5 711.5h0M997.5 507h0M997.5 536h0M997.5 547h0M997.5 569h0M997.5 642.5h0M988 646h0M986.5 655.5h0M985 666.5h0M985 693h0M1013 705h0" stroke="#5252ff" stroke-width="7.6" stroke-linecap="round" fill="none"/>
<path d="M1002.1 760.2h4.1v3.2h-4.1zM991.4 762.2h2.6v2.1h-2.6zM986.2 740.1h4.2v2.2h-4.2zM998.3 745.2h2.4v4.1h-2.4z" fill="#fff"/>
<path d="M1017.5 833.5L1017.5 773L1020.1 776.7L1022.8 775.1L1025.4 764L1028.1 733.2L1030.7 724.5L1033.4 722.7L1036 723.7L1038.7 741.1L1041.3 746.5L1044 750.5L1046.6 751.1L1049.3 756.6L1051.9 759.2L1054.6 759L1057.2 759.3L1057.2 833.5ZM1038.5 736l3.5 7h-7zM1041 715.5l3.5 7h-7zM1023 767.5l3.5 7h-7zM1030 713l3.5 7h-7zM1024 718.5l3.5 7h-7zM1046 728.5l3.5 7h-7zM1028.5 715l3.5 7h-7zM1040 718.5l3.5 7h-7zM1045.5 737l3.5 7h-7zM1053 748.5l3.5 7h-7zM1052.5 753.5l3.5 7h-7zM1048 732.5l3.5 7h-7zM1046.5 726.5l3.5 7h-7zM1038 720.5l3.5 7h-7zM1042 723.5l3.5 7h-7zM1042 707.5l3.5 7h-7zM1029 699.5l3.5 7h-7zM1032 684l3.5 7h-7zM1043 723.5l3.5 7h-7zM1024.5 751l3.5 7h-7zM1021.5 768l3.5 7h-7zM1029 715.5l3.5 7h-7zM1034.5 716.5l3.5 7h-7zM1031 692l3.5 7h-7zM1026.5 715l3.5 7h-7zM1024.5 723l3.5 7h-7zM1029 713l3.5 7h-7zM1044 725.5l3.5 7h-7zM1033.5 695.5l3.5 7h-7zM1050 752.5l3.5 7h-7zM1030.5 713.5l3.5 7h-7zM1053.5 749.5l3.5 7h-7zM1041 727l3.5 7h-7zM1025.5 739l3.5 7h-7zM1053 750l3.5 7h-7zM1041.5 722.5l3.5 7h-7zM1041.5 737.5l3.5 7h-7zM1035.5 713.5l3.5 7h-7zM1039 722.5l3.5 7h-7zM1039.5 739.5l3.5 7h-7zM1048 734l3.5 7h-7zM1043 745l3.5 7h-7zM1029 722l3.5 7h-7zM1032 707.5l3.5 7h-7zM1043.5 744l3.5 7h-7zM1046.5 723.5l3.5 7h-7zM1032.5 696l3.5 7h-7zM1040 706.5l3.5 7h-7zM1046.5 718.5l3.5 7h-7zM1038.5 726l3.5 7h-7zM1036.5 711.5l3.5 7h-7zM1026.5 714l3.5 7h-7zM1046.5 723l3.5 7h-7zM1048 738l3.5 7h-7zM1031 716.5l3.5 7h-7zM1032 694.5l3.5 7h-7zM1025 752l3.5 7h-7zM1034.5 711.5l3.5 7h-7zM1032.5 680.5l3.5 7h-7zM1023 717l3.5 7h-7zM1034 680.5l3.5 7h-7zM1041.5 708l3.5 7h-7zM1053 735.5l3.5 7h-7zM1039 560l3.5 7h-7zM1039 569.5l3.5 7h-7zM1039 584l3.5 7h-7zM1039 589.5l3.5 7h-7zM1039 601.5l3.5 7h-7zM1039 604l3.5 7h-7zM1025 634.5l3.5 7h-7zM1038 631l3.5 7h-7zM1016 642.5l3.5 7h-7zM1032 645.5l3.5 7h-7zM1040 652l3.5 7h-7zM1020.5 653l3.5 7h-7zM1017.5 674l3.5 7h-7zM1017.5 684l3.5 7h-7zM1041 682l3.5 7h-7zM1051.5 708l3.5 7h-7zM1041 715l3.5 7h-7z" fill="#52ff52"/>
<path d="M1031.9 723.2h4.1v2.7h-4.1zM1037.2 733.7h1.8v2.6h-1.8zM1052.4 767.3h4.2v2.2h-4.2zM1053.9 780.5h3.1v2.4h-3.1zM1028.4 795.1h3.1v4.3h-3.1zM1049.9 794.9h3.8v3.3h-3.8zM1040.4 785.3h2.6v4.2h-2.6zM1050.3 780h4v3h-4zM1049.5 791.2h3.1v2.4h-3.1zM1049 798.6h3.5v2.8h-3.5zM1027.1 804.6h2.9v4h-2.9zM1023.6 791.7h3.2v1.9h-3.2zM1045.3 758.4h2.2v2.8h-2.2zM1037.5 745.1h3.6v2.7h-3.6zM1046.6 765.1h2.4v3.9h-2.4zM1040.3 808.3h4.1v2.3h-4.1zM1025.9 773.3h4v3h-4zM1049.6 774.5h3v3.1h-3zM1031.1 763.9h4.5v2.6h-4.5zM1027 797.3h4.3v3.3h-4.3zM1018.8 782.9h4v4.2h-4zM1046.6 769.9h4.2v4.2h-4.2zM1026.3 829.6h4v2.1h-4zM1019.9 776h2.2v2h-2.2zM1047.9 754.9h3.9v2.7h-3.9zM1022.6 805.6h3.5v3.8h-3.5zM1049 792.6h2.1v2.1h-2.1zM1040.4 766.9h3.1v3.9h-3.1zM1053.9 779.9h2.1v3.6h-2.1zM1032.9 723.6h4.5v3.7h-4.5zM1031.3 785h4v1.8h-4zM1050.4 775.3h2.9v2.5h-2.9zM1051.1 788.2h3.2v3.4h-3.2zM1027.4 777.4h2.8v4.5h-2.8zM1032.8 790.1h2.8v3h-2.8zM1051.7 789.1h4.3v2.2h-4.3zM1044.4 758.2h3.5v4.2h-3.5zM1039 749.9h4.2v4.3h-4.2zM1047.8 765.9h2.1v3.2h-2.1zM1021 786.7h3.9v1.9h-3.9zM1033.9 734.2h4.2v3.3h-4.2zM1045.9 775.5h3.4v4.2h-3.4zM1030.3 802.7h3.2v3.9h-3.2z" fill="#fff"/>
<path d="M1057.2 833.5L1057.2 738.4L1059.8 738.6L1062.4 738.2L1064.9 734.8L1067.5 733.4L1070.1 731.4L1072.7 727.8L1075.2 728.3L1077.8 724.5L1080.4 723.3L1083 718.5L1085.5 723.1L1088.1 730.7L1090.7 734.5L1093.2 737.9L1095.8 740.9L1098.4 740L1098.4 833.5Z" fill="#ffff4f"/>
<path d="M1093.5 733.5h0M1076.5 725h0M1087.5 690.5h0M1085 714.5h0M1066 714.5h0M1093 711.5h0M1065.5 711.5h0M1090.5 703h0M1092 737.5h0M1078 678.5h0M1089.5 729h0M1067.5 721.5h0M1093.5 715.5h0M1081.5 694.5h0M1073 719.5h0M1083 719.5h0M1072 728h0M1069.5 723.5h0M1092 717h0M1064 730.5h0M1088 690h0M1089.5 731.5h0M1085.5 684.5h0M1082.5 694.5h0M1064 716.5h0M1066 694h0M1081.5 711h0M1069.5 702h0M1076 726h0M1078 701.5h0M1090.5 704.5h0M1063 710.5h0M1087 719h0M1074.5 712.5h0M1081.5 704.5h0M1088 718.5h0M1063 724h0M1074 694h0M1071 722.5h0M1089 732h0M1061.5 697.5h0M1094 715h0M1077 713.5h0M1074.5 719h0M1082 690.5h0M1092.5 735h0M1085.5 687.5h0M1090 697h0M1067.5 734.5h0M1074.5 702.5h0M1084 703h0M1091 715h0M1085.5 683h0M1064.5 714.5h0M1081 704.5h0M1078 715.5h0M1064.5 736.5h0M1064.5 735h0M1062.5 710h0M1084.5 696h0M1071 700.5h0M1061.5 727h0M1082 689h0M1071.5 729h0M1079 698h0M1061 737h0M1092.5 736h0M1079 720.5h0M1083 676h0M1071.5 719h0M1077.5 721.5h0M1088.5 708.5h0M1068.5 704h0M1062.5 693h0M1074 684h0M1081.5 674.5h0M1092 702h0M1084.5 603h0M1075 629.5h0M1084.5 627h0M1084.5 636h0M1084.5 644.5h0M1064 656.5h0M1074 658h0M1091 659h0M1074 665.5h0M1092.5 685.5h0" stroke="#ffff4f" stroke-width="7.6" stroke-linecap="round" fill="none"/>
<path d="M1082.2 742.8h1.8v2.5h-1.8zM1086.5 741.6h2.7v3.1h-2.7zM1091.1 785.8h3.2v2.5h-3.2zM1089.6 742.1h3.7v2.9h-3.7zM1094.2 769.5h2.8v4.5h-2.8z" fill="#fff"/>
<path d="M1098.4 833.5L1098.4 726.8L1101 731.4L1103.6 726.3L1106.1 719.7L1108.7 689.6L1111.3 685.8L1113.8 678.4L1116.4 666.8L1119 663L1121.6 670.5L1124.2 688.6L1126.7 691.8L1129.3 702.7L1131.9 726.2L1134.4 735.3L1137 737.5L1139.6 741.3L1139.6 833.5ZM1113.2 646.6h7.7v3.9h-7.7zM1105.7 668.1h7.7v3.9h-7.7zM1120.7 668.6h7.7v3.9h-7.7zM1130.2 724.1h7.7v3.9h-7.7zM1129.2 718.1h7.7v3.9h-7.7zM1106.7 662.6h7.7v3.9h-7.7zM1104.2 690.6h7.7v3.9h-7.7zM1111.2 659.6h7.7v3.9h-7.7zM1119.2 668.1h7.7v3.9h-7.7zM1108.2 678.1h7.7v3.9h-7.7zM1105.7 663.6h7.7v3.9h-7.7zM1122.7 683.1h7.7v3.9h-7.7zM1131.2 720.1h7.7v3.9h-7.7zM1106.2 678.1h7.7v3.9h-7.7zM1110.7 653.1h7.7v3.9h-7.7zM1129.2 722.1h7.7v3.9h-7.7zM1114.7 658.1h7.7v3.9h-7.7zM1127.7 719.1h7.7v3.9h-7.7zM1100.2 714.6h7.7v3.9h-7.7zM1103.7 692.1h7.7v3.9h-7.7zM1131.7 736.6h7.7v3.9h-7.7zM1127.2 703.1h7.7v3.9h-7.7zM1121.2 672.6h7.7v3.9h-7.7zM1104.7 669.6h7.7v3.9h-7.7zM1123.7 684.6h7.7v3.9h-7.7zM1129.2 720.6h7.7v3.9h-7.7zM1119.7 683.6h7.7v3.9h-7.7zM1103.7 687.6h7.7v3.9h-7.7zM1112.2 666.1h7.7v3.9h-7.7zM1102.2 716.6h7.7v3.9h-7.7zM1114.7 646.1h7.7v3.9h-7.7zM1126.7 689.1h7.7v3.9h-7.7zM1098.7 701.1h7.7v3.9h-7.7zM1112.7 656.1h7.7v3.9h-7.7zM1104.7 686.6h7.7v3.9h-7.7zM1105.7 686.6h7.7v3.9h-7.7zM1102.7 699.6h7.7v3.9h-7.7zM1118.2 665.6h7.7v3.9h-7.7zM1098.7 700.1h7.7v3.9h-7.7zM1106.7 654.6h7.7v3.9h-7.7zM1114.7 640.6h7.7v3.9h-7.7zM1123.2 672.6h7.7v3.9h-7.7zM1131.7 718.6h7.7v3.9h-7.7zM1122.7 604.1h7.7v3.9h-7.7zM1115.2 619.6h7.7v3.9h-7.7zM1121.7 616.6h7.7v3.9h-7.7zM1121.7 632.6h7.7v3.9h-7.7zM1114.2 639.6h7.7v3.9h-7.7zM1097.7 646.1h7.7v3.9h-7.7zM1128.2 691.1h7.7v3.9h-7.7z" fill="#ff52ff"/>
<path d="M1113 685.9h3.1v4.5h-3.1zM1112.6 699.6h2.3v1.9h-2.3zM1109.7 719.9h4.3v2.6h-4.3zM1120.9 729.6h4.5v3.4h-4.5zM1103.9 776.6h2.2v3.9h-2.2zM1134.9 750.5h3.4v3.6h-3.4zM1108.2 699.5h4.1v3.8h-4.1z" fill="#fff"/>
<path d="M1139.6 833.5L1139.6 677.3L1142.2 674.5L1144.8 683.4L1147.3 694.8L1149.9 734.8L1152.5 741.8L1155 737.1L1157.6 736L1160.2 738.6L1162.8 750L1165.3 754.8L1167.9 758.9L1170.5 756.3L1170.5 833.5ZM1166.5 752.5l3.5 -7h-7zM1144 673l3.5 -7h-7zM1159.5 743.5l3.5 -7h-7zM1151 704.5l3.5 -7h-7zM1144 671l3.5 -7h-7zM1143.5 666.5l3.5 -7h-7zM1159 737.5l3.5 -7h-7zM1155.5 715l3.5 -7h-7zM1152.5 711.5l3.5 -7h-7zM1160 742.5l3.5 -7h-7zM1157 725.5l3.5 -7h-7zM1145.5 685.5l3.5 -7h-7zM1162 732l3.5 -7h-7zM1158 741.5l3.5 -7h-7zM1156.5 726l3.5 -7h-7zM1149 729l3.5 -7h-7zM1150.5 716l3.5 -7h-7zM1164.5 751l3.5 -7h-7zM1143 668.5l3.5 -7h-7zM1159 742l3.5 -7h-7zM1166.5 756.5l3.5 -7h-7zM1163 754.5l3.5 -7h-7zM1155.5 739.5l3.5 -7h-7zM1152.5 716.5l3.5 -7h-7zM1166 751l3.5 -7h-7zM1158 726.5l3.5 -7h-7zM1154.5 728l3.5 -7h-7zM1162 746l3.5 -7h-7zM1161 726l3.5 -7h-7zM1154.5 727.5l3.5 -7h-7zM1143 659.5l3.5 -7h-7zM1144 677.5l3.5 -7h-7zM1157.5 729l3.5 -7h-7zM1160.5 744l3.5 -7h-7zM1152.5 724.5l3.5 -7h-7zM1144 672l3.5 -7h-7zM1163.5 741l3.5 -7h-7zM1143.5 641.5l3.5 -7h-7zM1151 705.5l3.5 -7h-7zM1159 715l3.5 -7h-7zM1166.5 742.5l3.5 -7h-7zM1140.5 604l3.5 -7h-7zM1150.5 606.5l3.5 -7h-7zM1140.5 626l3.5 -7h-7zM1150 655l3.5 -7h-7zM1154.5 674.5l3.5 -7h-7zM1148.5 698.5l3.5 -7h-7zM1167.5 715l3.5 -7h-7zM1148.5 713l3.5 -7h-7zM1156 723l3.5 -7h-7z" fill="#52ffff"/>
<path d="M1158.8 805.8h3.6v2.2h-3.6zM1163.7 792.9h2.4v3.2h-2.4zM1154.9 775.1h2.7v3.7h-2.7zM1158.5 774.5h2.7v2h-2.7z" fill="#fff"/>
<path d="M1170.5 833.5L1170.5 750L1173 745.8L1175.5 748.1L1178 743.8L1180.5 738.2L1183.1 708.3L1185.6 706.3L1188.1 703.7L1190.6 710.8L1193.1 721.2L1195.6 725.1L1198.1 728L1200.6 732.8L1203.2 745.5L1205.7 747.7L1208.2 747L1210.7 745.3L1213.2 747L1213.2 833.5ZM1191.2 703.6h7.7v3.9h-7.7zM1189.2 710.6h7.7v3.9h-7.7zM1186.2 694.6h7.7v3.9h-7.7zM1178.2 695.1h7.7v3.9h-7.7zM1189.2 721.1h7.7v3.9h-7.7zM1205.2 727.6h7.7v3.9h-7.7zM1182.2 701.6h7.7v3.9h-7.7zM1171.7 732.1h7.7v3.9h-7.7zM1174.7 738.1h7.7v3.9h-7.7zM1187.7 707.1h7.7v3.9h-7.7zM1192.7 725.6h7.7v3.9h-7.7zM1185.2 689.1h7.7v3.9h-7.7zM1199.7 740.1h7.7v3.9h-7.7zM1195.7 722.1h7.7v3.9h-7.7zM1185.2 683.6h7.7v3.9h-7.7zM1196.7 720.1h7.7v3.9h-7.7zM1174.7 731.6h7.7v3.9h-7.7zM1195.7 713.6h7.7v3.9h-7.7zM1176.7 721.6h7.7v3.9h-7.7zM1201.2 733.6h7.7v3.9h-7.7zM1198.7 718.1h7.7v3.9h-7.7zM1177.7 712.1h7.7v3.9h-7.7zM1199.2 727.1h7.7v3.9h-7.7zM1196.2 696.6h7.7v3.9h-7.7zM1180.2 700.6h7.7v3.9h-7.7zM1173.2 736.1h7.7v3.9h-7.7zM1178.7 708.6h7.7v3.9h-7.7zM1199.7 740.6h7.7v3.9h-7.7zM1179.2 705.6h7.7v3.9h-7.7zM1171.2 739.1h7.7v3.9h-7.7zM1203.2 743.1h7.7v3.9h-7.7zM1179.2 699.6h7.7v3.9h-7.7zM1201.2 735.1h7.7v3.9h-7.7zM1197.2 710.1h7.7v3.9h-7.7zM1199.7 720.6h7.7v3.9h-7.7zM1181.7 699.6h7.7v3.9h-7.7zM1198.2 711.1h7.7v3.9h-7.7zM1177.7 712.1h7.7v3.9h-7.7zM1171.7 734.1h7.7v3.9h-7.7zM1190.7 710.1h7.7v3.9h-7.7zM1193.2 719.1h7.7v3.9h-7.7zM1176.2 718.1h7.7v3.9h-7.7zM1186.7 702.6h7.7v3.9h-7.7zM1185.7 703.6h7.7v3.9h-7.7zM1187.2 687.6h7.7v3.9h-7.7zM1200.2 724.1h7.7v3.9h-7.7zM1182.2 689.6h7.7v3.9h-7.7zM1181.2 700.1h7.7v3.9h-7.7zM1181.2 701.6h7.7v3.9h-7.7zM1189.7 719.1h7.7v3.9h-7.7zM1171.7 727.6h7.7v3.9h-7.7zM1181.2 677.1h7.7v3.9h-7.7zM1191.7 691.1h7.7v3.9h-7.7zM1203.7 709.6h7.7v3.9h-7.7zM1202.2 605.6h7.7v3.9h-7.7zM1195.7 651.6h7.7v3.9h-7.7zM1195.7 659.1h7.7v3.9h-7.7zM1203.7 670.1h7.7v3.9h-7.7zM1197.2 678.1h7.7v3.9h-7.7zM1194.7 690.1h7.7v3.9h-7.7z" fill="#ffaaaa"/>
<path d="M1172.3 757.5h2.3v2h-2.3zM1190.6 723h4.4v2.6h-4.4zM1185.7 710.2h3v4.2h-3zM1198.1 756.4h2.8v2.9h-2.8zM1195.4 759.4h3.7v3.1h-3.7zM1194.5 792.2h2.5v3.9h-2.5zM1184 729.4h3.7v3.8h-3.7zM1186.7 817.1h2.9v4.1h-2.9zM1193.2 820.7h2.2v3.2h-2.2zM1193.7 786.9h2.1v3.1h-2.1zM1174.4 749.4h3.9v3.7h-3.9zM1192.7 757.5h3.2v4h-3.2zM1188.9 731h3.1v3.9h-3.1zM1172.8 765.8h4v4h-4zM1179 801.4h3.2v4.4h-3.2zM1195.4 763.7h3.8v2.1h-3.8zM1175.4 763.7h4.4v4.2h-4.4zM1175 752.5h4.1v3.3h-4.1zM1176.5 768.8h2.3v4.4h-2.3zM1180.9 798h4v3.9h-4zM1185.8 785.1h2v3.5h-2zM1199.9 803.4h2.6v3h-2.6zM1173.6 770.1h3.5v2.8h-3.5zM1173.4 758.4h2.9v3.4h-2.9zM1188.6 773.4h2.2v4.5h-2.2zM1187.2 719.7h2.7v2.9h-2.7zM1187.2 715.4h4.1v2.7h-4.1zM1184 731.1h2.2v3.3h-2.2zM1198 760h3.3v2.9h-3.3zM1187.9 794.1h2.3v2.3h-2.3zM1193.3 768.2h1.9v1.9h-1.9zM1187.5 733.8h2.3v2.9h-2.3zM1186.5 751h2.8v4h-2.8zM1188.6 741.1h3.6v3.3h-3.6zM1182.9 725.2h2.2v2.9h-2.2zM1199 784.2h2.7v1.9h-2.7zM1203.4 777.1h3.6v2.1h-3.6zM1190.4 758.5h4.4v4.2h-4.4zM1186.7 721.8h2.7v2.5h-2.7zM1205 758.4h4v2.6h-4zM1188.9 777.5h4.1v3.2h-4.1zM1205.8 791.8h3.7v2.9h-3.7zM1183.3 796h2v2.5h-2zM1186.1 779.5h2.1v2.8h-2.1zM1201.1 733.8h4.2v3.7h-4.2zM1173.9 756.4h3.6v2.1h-3.6zM1186.5 719.9h2.3v3.1h-2.3zM1195.9 731.2h3.2v2.6h-3.2zM1202.4 780.7h2.8v4.1h-2.8zM1199.7 740h3v4.4h-3zM1198.8 773.3h2.5v2.6h-2.5zM1200 757.1h2.9v4h-2.9zM1183.8 750.3h4.1v3.6h-4.1zM1176.8 764.9h2.8v3.8h-2.8zM1180 759.2h3.7v2.4h-3.7zM1182.3 757.8h2v4h-2zM1178.7 754h3.2v2.2h-3.2z" fill="#fff"/>
<path d="M1213.2 833.5L1213.2 705L1215.9 709.7L1218.6 701.7L1221.3 694L1224 659.4L1226.7 660.6L1229.4 695.4L1232.1 704L1234.8 715.2L1237.5 723.4L1240.2 729.7L1242.9 726.8L1245.6 729.3L1245.6 833.5ZM1236.5 708.5l-7 -3.5v7zM1220.5 687l-7 -3.5v7zM1231.5 651.5l-7 -3.5v7zM1224 685l-7 -3.5v7zM1236 700l-7 -3.5v7zM1231.5 666l-7 -3.5v7zM1243 720l-7 -3.5v7zM1225.5 653l-7 -3.5v7zM1225 667.5l-7 -3.5v7zM1226.5 662.5l-7 -3.5v7zM1240.5 704.5l-7 -3.5v7zM1222.5 671.5l-7 -3.5v7zM1244.5 720.5l-7 -3.5v7zM1244.5 719.5l-7 -3.5v7zM1244 713.5l-7 -3.5v7zM1245 726.5l-7 -3.5v7zM1243.5 713.5l-7 -3.5v7zM1233 674.5l-7 -3.5v7zM1229 637l-7 -3.5v7zM1224 675.5l-7 -3.5v7zM1239 699l-7 -3.5v7zM1244.5 729l-7 -3.5v7zM1244 713.5l-7 -3.5v7zM1225.5 659l-7 -3.5v7zM1226.5 637l-7 -3.5v7zM1235 690l-7 -3.5v7zM1238.5 710.5l-7 -3.5v7zM1228.5 657l-7 -3.5v7zM1233.5 696.5l-7 -3.5v7zM1245 726l-7 -3.5v7zM1245 727.5l-7 -3.5v7zM1223 685l-7 -3.5v7zM1220.5 674.5l-7 -3.5v7zM1229 629l-7 -3.5v7zM1236.5 693l-7 -3.5v7zM1244.5 711.5l-7 -3.5v7zM1233 631.5l-7 -3.5v7zM1219.5 663.5l-7 -3.5v7zM1219.5 680l-7 -3.5v7zM1246 651.5l-7 -3.5v7zM1246 684.5l-7 -3.5v7zM1219.5 696.5l-7 -3.5v7z" fill="#808080"/>
<path d="M1240.4 731.1h4v2.2h-4zM1240.1 733.4h2v4.5h-2zM1241.7 731.4h2.7v4.4h-2.7zM1241.4 759.4h3.9v1.9h-3.9zM1228.2 696.1h2v2.9h-2z" fill="#fff"/>
<path d="M1245.6 833.5L1245.6 766.3L1248.2 769.2L1250.8 766.9L1253.4 763.3L1256 760.9L1258.6 755.3L1261.2 759.1L1263.8 757.2L1266.4 759.8L1269 758.6L1271.6 762L1274.2 765.4L1276.8 766.8L1279.4 767.7L1279.4 833.5ZM1271.1 715.5h3.9v7h-3.9zM1256.1 745h3.9v7h-3.9zM1259.1 693h3.9v7h-3.9zM1255.1 712h3.9v7h-3.9zM1250.6 720.5h3.9v7h-3.9zM1270.1 760h3.9v7h-3.9zM1253.1 711h3.9v7h-3.9zM1262.1 753h3.9v7h-3.9zM1260.6 694h3.9v7h-3.9zM1254.6 753h3.9v7h-3.9zM1269.1 759h3.9v7h-3.9zM1267.1 715h3.9v7h-3.9zM1267.1 724.5h3.9v7h-3.9zM1256.1 728h3.9v7h-3.9zM1255.1 752.5h3.9v7h-3.9zM1250.6 706.5h3.9v7h-3.9zM1266.1 746.5h3.9v7h-3.9zM1264.1 724.5h3.9v7h-3.9zM1249.1 743h3.9v7h-3.9zM1259.1 705h3.9v7h-3.9zM1266.1 740.5h3.9v7h-3.9zM1257.1 743h3.9v7h-3.9zM1253.1 739.5h3.9v7h-3.9zM1253.1 738h3.9v7h-3.9zM1273.6 753.5h3.9v7h-3.9zM1258.1 722.5h3.9v7h-3.9zM1269.1 746.5h3.9v7h-3.9zM1268.1 736.5h3.9v7h-3.9zM1258.6 743h3.9v7h-3.9zM1262.6 751h3.9v7h-3.9zM1262.6 722.5h3.9v7h-3.9zM1269.6 754h3.9v7h-3.9zM1266.1 738h3.9v7h-3.9zM1265.6 728h3.9v7h-3.9zM1264.6 744.5h3.9v7h-3.9zM1253.6 695.5h3.9v7h-3.9zM1253.1 730h3.9v7h-3.9zM1250.1 741h3.9v7h-3.9zM1273.6 735h3.9v7h-3.9zM1250.6 729h3.9v7h-3.9zM1271.1 754.5h3.9v7h-3.9zM1268.6 740.5h3.9v7h-3.9zM1256.1 734h3.9v7h-3.9zM1266.1 754h3.9v7h-3.9zM1256.1 708.5h3.9v7h-3.9zM1267.6 736h3.9v7h-3.9zM1256.1 753.5h3.9v7h-3.9zM1272.1 757.5h3.9v7h-3.9zM1259.6 736h3.9v7h-3.9zM1248.1 738.5h3.9v7h-3.9zM1270.6 735h3.9v7h-3.9zM1254.1 694h3.9v7h-3.9zM1259.1 720.5h3.9v7h-3.9zM1254.6 735.5h3.9v7h-3.9zM1259.6 696.5h3.9v7h-3.9zM1265.1 727h3.9v7h-3.9zM1256.6 704.5h3.9v7h-3.9zM1260.6 717h3.9v7h-3.9zM1261.6 746h3.9v7h-3.9zM1270.6 742h3.9v7h-3.9zM1261.1 749.5h3.9v7h-3.9zM1267.6 719.5h3.9v7h-3.9zM1247.6 738.5h3.9v7h-3.9zM1261.1 696.5h3.9v7h-3.9zM1265.1 740h3.9v7h-3.9zM1253.6 708.5h3.9v7h-3.9zM1256.6 750.5h3.9v7h-3.9zM1255.6 743.5h3.9v7h-3.9zM1252.1 734h3.9v7h-3.9zM1267.6 751.5h3.9v7h-3.9zM1247.6 756.5h3.9v7h-3.9zM1256.1 706h3.9v7h-3.9zM1258.6 734h3.9v7h-3.9zM1261.1 728h3.9v7h-3.9zM1257.6 703.5h3.9v7h-3.9zM1250.6 760.5h3.9v7h-3.9zM1247.6 708h3.9v7h-3.9zM1256.1 689.5h3.9v7h-3.9zM1264.6 698.5h3.9v7h-3.9zM1273.6 717h3.9v7h-3.9zM1245.1 652h3.9v7h-3.9zM1260.1 669.5h3.9v7h-3.9zM1271.6 667.5h3.9v7h-3.9zM1274.6 684h3.9v7h-3.9zM1245.1 682h3.9v7h-3.9z" fill="#c00000"/>
<path d="M1258.4 776.6h3.9v3.7h-3.9zM1267.3 776.3h3.7v2.6h-3.7zM1251.5 794.9h1.8v3.5h-1.8zM1273.9 772.2h4.4v4.2h-4.4zM1268.9 784.3h3.7v2.8h-3.7zM1270.1 793h2v3.5h-2zM1274.7 780.1h2.9v2.6h-2.9zM1274.2 794.4h3.1v3.4h-3.1zM1249.7 812.5h2.9v1.9h-2.9zM1262 784.5h2.7v2.7h-2.7zM1250.9 771.9h3.4v2.7h-3.4zM1275 817.3h3.4v3.2h-3.4zM1254.3 793.7h2v4.5h-2zM1257.1 765.6h4.1v2h-4.1zM1268.2 770.2h2.8v4h-2.8zM1276.4 767.5h3.1v2.4h-3.1zM1246.9 784.1h2.3v3.8h-2.3zM1266.6 763.1h2.4v4.3h-2.4zM1261.1 784.3h4.3v4.2h-4.3zM1264.9 769.3h3.5v2.3h-3.5zM1269.7 771h2.8v4.3h-2.8zM1265.5 788.9h2.2v2.7h-2.2zM1259.7 789.6h3.6v4.1h-3.6zM1269.4 782.8h3.7v2.6h-3.7zM1249 791.1h3.2v4.3h-3.2zM1259.2 811.4h1.8v1.9h-1.8zM1272.7 788h2.3v4.3h-2.3zM1269.2 772h4.1v4.5h-4.1zM1274.8 807.1h4.2v2.7h-4.2zM1263.3 780.5h2v3.6h-2zM1252.8 766.9h3.8v3.7h-3.8zM1270.5 774.6h2.5v3h-2.5zM1257.4 766.9h3.6v3.5h-3.6zM1255.8 767h4.1v3.3h-4.1zM1249.6 795.7h2.2v4.3h-2.2zM1255.2 767.5h2.2v3.6h-2.2zM1265.1 763.7h2.8v2.1h-2.8zM1258 761.4h4.5v3.4h-4.5zM1251.9 773.2h3.1v1.8h-3.1zM1264.6 758.3h2.8v2.4h-2.8zM1252.2 797h2.2v3.5h-2.2zM1252.2 782.3h2.8v2.7h-2.8zM1260.7 768.1h2.8v3.4h-2.8zM1273.3 775.7h4.4v4.1h-4.4zM1257.3 776.7h4.2v2.8h-4.2zM1253.3 785.7h2.6v3.9h-2.6zM1272.9 775h4.1v3.2h-4.1zM1266.6 768.9h3.8v4.3h-3.8zM1269 795.4h2.3v3.8h-2.3zM1248.1 802.5h2.6v4h-2.6zM1265.8 761.6h3.4v3.1h-3.4zM1247.3 767h4.4v2.9h-4.4zM1258.1 775.3h4v3.2h-4zM1259.9 765.9h3.2v3.5h-3.2zM1264.2 774.5h2.3v2.9h-2.3zM1248.3 796.7h3.9v2.5h-3.9zM1254 767h3.8v2.2h-3.8zM1264.6 795.2h1.9v3.4h-1.9zM1272.6 815.6h2.9v2.2h-2.9zM1259.2 798.5h3.3v4.2h-3.3zM1249.4 806.6h3v2.4h-3zM1266 793.6h3.8v3.4h-3.8zM1256.6 774.6h3.9v3.4h-3.9z" fill="#fff"/>
<path d="M1279.4 833.5L1279.4 720.1L1282 721.3L1284.7 721.2L1287.3 721.5L1289.9 714.8L1292.5 709L1295.2 706.5L1297.8 697.6L1300.4 698.3L1303.1 696.1L1305.7 695.2L1308.3 701L1310.9 701.6L1313.6 704.2L1316.2 704.4L1316.2 833.5ZM1301 693.5l7 -3.5v7zM1291.5 662.5l7 -3.5v7zM1282 701l7 -3.5v7zM1301 663l7 -3.5v7zM1296 694.5l7 -3.5v7zM1283.5 707.5l7 -3.5v7zM1283 717.5l7 -3.5v7zM1291 698l7 -3.5v7zM1280 711.5l7 -3.5v7zM1300 645l7 -3.5v7zM1304.5 681l7 -3.5v7zM1298 654l7 -3.5v7zM1286.5 687l7 -3.5v7zM1291 710l7 -3.5v7zM1289 669.5l7 -3.5v7zM1289 711l7 -3.5v7zM1300 682l7 -3.5v7zM1285 700.5l7 -3.5v7zM1301 668l7 -3.5v7zM1307 692l7 -3.5v7zM1282 719.5l7 -3.5v7zM1280 711l7 -3.5v7zM1308 684.5l7 -3.5v7zM1280 710.5l7 -3.5v7zM1293 691l7 -3.5v7zM1303 650l7 -3.5v7zM1279.5 704l7 -3.5v7zM1292.5 660l7 -3.5v7zM1300 653l7 -3.5v7zM1307 701l7 -3.5v7zM1292.5 702l7 -3.5v7zM1301 654.5l7 -3.5v7zM1298 681l7 -3.5v7zM1284 714.5l7 -3.5v7zM1281 709l7 -3.5v7zM1295 663.5l7 -3.5v7zM1287 695.5l7 -3.5v7zM1279.5 720.5l7 -3.5v7zM1283.5 715l7 -3.5v7zM1290.5 691.5l7 -3.5v7zM1294 698l7 -3.5v7zM1284.5 710.5l7 -3.5v7zM1292.5 702.5l7 -3.5v7zM1281.5 710.5l7 -3.5v7zM1299.5 691l7 -3.5v7zM1294 703.5l7 -3.5v7zM1301 644l7 -3.5v7zM1293.5 686.5l7 -3.5v7zM1285.5 707.5l7 -3.5v7zM1279.5 720l7 -3.5v7zM1287 678l7 -3.5v7zM1294.5 641.5l7 -3.5v7zM1299 647l7 -3.5v7zM1279.5 718.5l7 -3.5v7zM1283 702.5l7 -3.5v7zM1289 675.5l7 -3.5v7zM1301.5 679l7 -3.5v7zM1287 680.5l7 -3.5v7zM1280.5 709.5l7 -3.5v7zM1284 714l7 -3.5v7zM1288 701l7 -3.5v7zM1290.5 666.5l7 -3.5v7zM1279.5 702l7 -3.5v7zM1290.5 665.5l7 -3.5v7zM1299.5 629l7 -3.5v7zM1308.5 665.5l7 -3.5v7zM1306 545.5l7 -3.5v7zM1306 570l7 -3.5v7zM1306 595.5l7 -3.5v7zM1306 617l7 -3.5v7zM1307 637l7 -3.5v7zM1282 645.5l7 -3.5v7zM1299.5 655.5l7 -3.5v7zM1282 666.5l7 -3.5v7zM1307 673.5l7 -3.5v7z" fill="#0000c0"/>
<path d="M1311 787.7h3.3v3.3h-3.3zM1297.1 719.2h2.4v2.3h-2.4zM1286.1 756.5h2.4v4.2h-2.4zM1289.2 720.2h3.7v3.8h-3.7zM1291.9 771.2h3.8v3h-3.8zM1307 759.1h2.7v3.5h-2.7z" fill="#fff"/>
<path d="M1316.2 833.5L1316.2 711.3L1318.7 712.4L1321.2 707.3L1323.7 690.9L1326.2 636.4L1328.7 616.9L1331.2 631.6L1333.7 683.6L1336.2 697.3L1338.7 703.9L1341.2 701.5L1341.2 833.5ZM1318 697.5h7v7h-7zM1321 639h7v7h-7zM1330 656h7v7h-7zM1333 681.5h7v7h-7zM1329.5 665h7v7h-7zM1325 585h7v7h-7zM1317.5 697h7v7h-7zM1334 695.5h7v7h-7zM1328.5 626.5h7v7h-7zM1325.5 577.5h7v7h-7zM1332.5 690.5h7v7h-7zM1326.5 615h7v7h-7zM1329 636.5h7v7h-7zM1320.5 681h7v7h-7zM1331 677h7v7h-7zM1318 690.5h7v7h-7zM1321 633h7v7h-7zM1322.5 613h7v7h-7zM1332.5 693.5h7v7h-7zM1330 676.5h7v7h-7zM1326 621.5h7v7h-7zM1333 676.5h7v7h-7zM1323.5 613h7v7h-7zM1317.5 700h7v7h-7zM1319 672.5h7v7h-7zM1323 593.5h7v7h-7zM1321 675.5h7v7h-7zM1321.5 637h7v7h-7zM1317 689.5h7v7h-7zM1325 572h7v7h-7zM1334 680.5h7v7h-7zM1334 621.5h7v7h-7zM1334 666.5h7v7h-7zM1314 710.5h7v7h-7z" fill="#00c000"/>
<path d="M1323.6 734.1h2.8v3.7h-2.8zM1331.9 680.1h2.4v2.8h-2.4zM1326.1 659.6h4.4v3.5h-4.4zM1335.6 738.9h1.9v2.2h-1.9zM1328.3 684.2h2.5v2.8h-2.5z" fill="#fff"/>
<path d="M1343 833.5L1343 781.8L1345.7 785.2L1348.4 783.9L1351.1 777.8L1353.8 773.6L1356.5 756.3L1359.2 745.2L1361.9 755.1L1364.6 779.8L1367.3 786.6L1370 793.6L1372.7 791.5L1375.4 791.6L1375.4 833.5Z" fill="#c0c000"/>
<path d="M1362.5 740h0M1352 775.5h0M1354 743.5h0M1366 778.5h0M1349.5 771.5h0M1349 783.5h0M1359.5 749h0M1356.5 738.5h0M1363 737h0M1352.5 736.5h0M1349.5 764h0M1362.5 744h0M1370 789h0M1353 770.5h0M1354 720.5h0M1366 758.5h0M1359 747h0M1366.5 751.5h0M1362.5 754.5h0M1367 765.5h0M1349.5 763.5h0M1358.5 739.5h0M1360.5 715.5h0M1366 738h0M1353.5 747h0M1372 784h0M1366.5 773h0M1356.5 753h0M1369.5 766h0M1355 756.5h0M1362 743h0M1359.5 746h0M1349 780.5h0M1351.5 758.5h0M1347 781h0M1371 758.5h0M1371.5 786h0M1357 719h0M1368.5 753.5h0M1371 791.5h0M1348 746.5h0M1367 755h0M1348 783h0M1360 749.5h0M1347.5 754h0M1350.5 767.5h0M1369.5 774.5h0M1364 750.5h0M1352.5 751h0M1360 744h0M1367.5 778h0M1358 715h0M1363 716.5h0M1347 761.5h0M1361 710.5h0M1351 740h0M1363.5 746h0M1368.5 779.5h0M1355 734h0M1351.5 739h0M1370.5 762.5h0M1348.5 739h0M1359.5 702h0M1370 748h0M1343 648h0M1356 663.5h0M1356 683h0M1357.5 690h0M1356 702h0M1344.5 717h0" stroke="#c0c000" stroke-width="7.6" stroke-linecap="round" fill="none"/>
<path d="M1372.2 801.3h3.4v3.7h-3.4zM1370.8 794.7h4v1.9h-4zM1355.9 775h3.5v2.7h-3.5zM1350 795.7h3v2h-3zM1366.6 798.8h2v2h-2zM1368.5 816.1h2.9v2h-2.9zM1368.8 806.5h3.1v3.5h-3.1zM1368 789.7h2.9v2.9h-2.9zM1346.2 814.1h2.9v2.3h-2.9zM1351 788.5h2.5v3.3h-2.5zM1359.6 801.7h3.5v2.2h-3.5zM1367.9 789.1h2.2v3.9h-2.2zM1345.2 787.2h2.3v2.3h-2.3zM1362.8 786.9h3.8v3.6h-3.8zM1360.3 810.4h3.3v4h-3.3zM1352.5 792.6h4.1v2.5h-4.1zM1357.8 786.9h3v3.8h-3zM1371.9 807.5h2.6v3.1h-2.6zM1347.6 794.3h3.7v4.2h-3.7zM1358.8 768.3h2.9v2.9h-2.9zM1355.7 777.1h2.5v2.8h-2.5zM1346.1 787.6h3.5v3.6h-3.5zM1368.9 810.5h2v3.6h-2zM1366.8 786.1h3.2v2.3h-3.2zM1351.9 803.1h1.8v3.7h-1.8zM1360.9 779.8h3.8v2h-3.8zM1351.8 789.7h2.5v1.9h-2.5zM1344.6 804.1h2.7v4.3h-2.7zM1344.4 800.9h2.1v2.6h-2.1zM1362.6 773.9h3.8v3.7h-3.8zM1348.6 785.8h1.9v2.2h-1.9zM1370.6 816h2.1v4.3h-2.1zM1369.1 804.2h2.6v4.4h-2.6zM1360.3 773.6h2.9v2.2h-2.9zM1344.5 798h4.2v2.2h-4.2zM1344.7 816.3h4.4v2.7h-4.4zM1370.9 805.1h3.5v3.8h-3.5zM1352.1 787.2h2.6v2h-2.6zM1362.1 756.1h4.4v2.5h-4.4zM1364 799h3v3h-3zM1371.3 801h3.2v2.3h-3.2zM1369.1 812.8h4.1v4.2h-4.1zM1347.2 808h3.1v3.3h-3.1zM1370.7 817.3h3.1v2.2h-3.1zM1352.8 815.5h2.9v4h-2.9zM1344.7 799.3h3v2.7h-3zM1358.6 753.3h2.3v3h-2.3zM1354.6 814.6h4.1v3.6h-4.1z" fill="#fff"/>
<path d="M1375.4 833.5L1375.4 699.8L1378 703.2L1380.6 703.8L1383.2 698.2L1385.8 699.9L1388.4 697.4L1391 703.8L1393.6 714.4L1396.2 721L1398.8 726.4L1401.4 740.9L1404 743.1L1406.6 748.9L1409.2 749.3L1409.2 833.5ZM1382 688.5l3.5 7h-7zM1384 685l3.5 7h-7zM1382.5 680.5l3.5 7h-7zM1384.5 683.5l3.5 7h-7zM1382.5 686.5l3.5 7h-7zM1401 705l3.5 7h-7zM1392.5 708.5l3.5 7h-7zM1399.5 714.5l3.5 7h-7zM1387 690.5l3.5 7h-7zM1387 688.5l3.5 7h-7zM1390 696.5l3.5 7h-7zM1385 693l3.5 7h-7zM1404 712l3.5 7h-7zM1386 678.5l3.5 7h-7zM1396.5 702l3.5 7h-7zM1397.5 710l3.5 7h-7zM1385 685l3.5 7h-7zM1384 682.5l3.5 7h-7zM1400 717l3.5 7h-7zM1401 736l3.5 7h-7zM1403 724l3.5 7h-7zM1385 695l3.5 7h-7zM1389 688l3.5 7h-7zM1380.5 689l3.5 7h-7zM1398.5 718l3.5 7h-7zM1402 720.5l3.5 7h-7zM1389 695l3.5 7h-7zM1401.5 726l3.5 7h-7zM1399.5 703l3.5 7h-7zM1381 697l3.5 7h-7zM1401.5 704.5l3.5 7h-7zM1391.5 699l3.5 7h-7zM1401.5 720l3.5 7h-7zM1391.5 686.5l3.5 7h-7zM1380 680.5l3.5 7h-7zM1388.5 675.5l3.5 7h-7zM1396.5 689.5l3.5 7h-7zM1404.5 708l3.5 7h-7zM1381.5 607l3.5 7h-7zM1391.5 607l3.5 7h-7zM1381.5 619l3.5 7h-7zM1381.5 630l3.5 7h-7zM1391.5 635.5l3.5 7h-7zM1391.5 648l3.5 7h-7zM1391.5 668.5l3.5 7h-7zM1378.5 681l3.5 7h-7zM1397.5 682l3.5 7h-7zM1403.5 689.5l3.5 7h-7z" fill="#c000c0"/>
<path d="M1383.5 821.4h2.4v3.5h-2.4zM1384.1 718.3h2.1v2.3h-2.1zM1398.8 761.1h4v3.6h-4zM1401.3 795.2h3.4v2.9h-3.4zM1379.2 724.7h3.4v2.4h-3.4z" fill="#fff"/>
<path d="M1409.2 833.5L1409.2 695L1411.8 692.8L1414.4 694.9L1417 696.8L1419.7 692.1L1422.3 701.6L1424.9 698.6L1427.5 704.8L1430.1 711.1L1432.8 728.5L1435.4 730.6L1438 736.8L1440.6 736.9L1443.2 743.1L1445.8 744.2L1448.5 749.8L1451.1 747.2L1453.7 748.2L1456.3 748.9L1456.3 833.5ZM1445.5 723.5l4 4l-4 4l-4 -4zM1424 641l4 4l-4 4l-4 -4zM1443.5 733.5l4 4l-4 4l-4 -4zM1452.5 733l4 4l-4 4l-4 -4zM1433.5 691l4 4l-4 4l-4 -4zM1436.5 731l4 4l-4 4l-4 -4zM1425.5 689.5l4 4l-4 4l-4 -4zM1429.5 672l4 4l-4 4l-4 -4zM1422 693l4 4l-4 4l-4 -4zM1419 676l4 4l-4 4l-4 -4zM1417.5 620l4 4l-4 4l-4 -4zM1441 735l4 4l-4 4l-4 -4zM1414.5 684l4 4l-4 4l-4 -4zM1445.5 740l4 4l-4 4l-4 -4zM1431 690.5l4 4l-4 4l-4 -4zM1436 729.5l4 4l-4 4l-4 -4zM1443.5 697.5l4 4l-4 4l-4 -4zM1426 683l4 4l-4 4l-4 -4zM1427.5 697l4 4l-4 4l-4 -4zM1439 705.5l4 4l-4 4l-4 -4zM1414.5 678l4 4l-4 4l-4 -4zM1419 628.5l4 4l-4 4l-4 -4zM1430.5 664l4 4l-4 4l-4 -4zM1426 648l4 4l-4 4l-4 -4zM1436 722.5l4 4l-4 4l-4 -4zM1439 699l4 4l-4 4l-4 -4zM1427.5 652l4 4l-4 4l-4 -4zM1437 694l4 4l-4 4l-4 -4zM1444.5 718l4 4l-4 4l-4 -4zM1441 722.5l4 4l-4 4l-4 -4zM1436.5 711.5l4 4l-4 4l-4 -4zM1420 675.5l4 4l-4 4l-4 -4zM1435 719l4 4l-4 4l-4 -4zM1447 742.5l4 4l-4 4l-4 -4zM1452.5 732l4 4l-4 4l-4 -4zM1444 735.5l4 4l-4 4l-4 -4zM1422.5 678l4 4l-4 4l-4 -4zM1439 702.5l4 4l-4 4l-4 -4zM1450.5 742.5l4 4l-4 4l-4 -4zM1432.5 668l4 4l-4 4l-4 -4zM1448.5 720l4 4l-4 4l-4 -4zM1437.5 693.5l4 4l-4 4l-4 -4zM1415.5 642.5l4 4l-4 4l-4 -4zM1413 676l4 4l-4 4l-4 -4zM1439 735l4 4l-4 4l-4 -4zM1415 679l4 4l-4 4l-4 -4zM1442.5 708l4 4l-4 4l-4 -4zM1445.5 733.5l4 4l-4 4l-4 -4zM1444 733.5l4 4l-4 4l-4 -4zM1417.5 685l4 4l-4 4l-4 -4zM1426.5 687l4 4l-4 4l-4 -4zM1432.5 692.5l4 4l-4 4l-4 -4zM1429.5 699l4 4l-4 4l-4 -4zM1417.5 690l4 4l-4 4l-4 -4zM1423.5 642.5l4 4l-4 4l-4 -4zM1442.5 724l4 4l-4 4l-4 -4zM1419 656l4 4l-4 4l-4 -4zM1433 683.5l4 4l-4 4l-4 -4zM1414 630.5l4 4l-4 4l-4 -4zM1441.5 725l4 4l-4 4l-4 -4zM1440 691l4 4l-4 4l-4 -4zM1434.5 704l4 4l-4 4l-4 -4zM1452 711.5l4 4l-4 4l-4 -4zM1423.5 658.5l4 4l-4 4l-4 -4zM1452 714.5l4 4l-4 4l-4 -4zM1415.5 689l4 4l-4 4l-4 -4zM1432 664.5l4 4l-4 4l-4 -4zM1422.5 676l4 4l-4 4l-4 -4zM1442.5 709.5l4 4l-4 4l-4 -4zM1429 671l4 4l-4 4l-4 -4zM1439 704.5l4 4l-4 4l-4 -4zM1420 658l4 4l-4 4l-4 -4zM1431 704.5l4 4l-4 4l-4 -4zM1424 663l4 4l-4 4l-4 -4zM1451.5 726l4 4l-4 4l-4 -4zM1424.5 650l4 4l-4 4l-4 -4zM1428 651.5l4 4l-4 4l-4 -4zM1421 653l4 4l-4 4l-4 -4zM1440.5 725l4 4l-4 4l-4 -4zM1416.5 679l4 4l-4 4l-4 -4zM1441.5 730.5l4 4l-4 4l-4 -4zM1451 740.5l4 4l-4 4l-4 -4zM1442.5 736l4 4l-4 4l-4 -4zM1446 707l4 4l-4 4l-4 -4zM1433.5 696.5l4 4l-4 4l-4 -4zM1450 715l4 4l-4 4l-4 -4zM1432.5 660l4 4l-4 4l-4 -4zM1432.5 671.5l4 4l-4 4l-4 -4zM1446 705.5l4 4l-4 4l-4 -4zM1415.5 633.5l4 4l-4 4l-4 -4zM1448.5 736.5l4 4l-4 4l-4 -4zM1424.5 677.5l4 4l-4 4l-4 -4zM1418.5 666.5l4 4l-4 4l-4 -4zM1439 734.5l4 4l-4 4l-4 -4zM1447 736.5l4 4l-4 4l-4 -4zM1423.5 642l4 4l-4 4l-4 -4zM1444.5 695l4 4l-4 4l-4 -4zM1438.5 721.5l4 4l-4 4l-4 -4zM1420.5 649l4 4l-4 4l-4 -4zM1422.5 694.5l4 4l-4 4l-4 -4zM1421 652.5l4 4l-4 4l-4 -4zM1414 671.5l4 4l-4 4l-4 -4zM1416 615.5l4 4l-4 4l-4 -4zM1426.5 643l4 4l-4 4l-4 -4zM1439 689l4 4l-4 4l-4 -4zM1449.5 707.5l4 4l-4 4l-4 -4zM1419 574.5l4 4l-4 4l-4 -4zM1419 589l4 4l-4 4l-4 -4zM1419 611l4 4l-4 4l-4 -4zM1416.5 618.5l4 4l-4 4l-4 -4zM1433 679l4 4l-4 4l-4 -4zM1440 692.5l4 4l-4 4l-4 -4zM1453.5 714.5l4 4l-4 4l-4 -4z" fill="#00c0c0"/>
<path d="M1448 787.4h2.9v1.9h-2.9zM1414.3 717.5h3.2v2.5h-3.2zM1452.8 763.9h4.4v3.7h-4.4zM1453 749.4h3.7v4h-3.7zM1412.5 777.4h2.7v3.4h-2.7zM1430 709h2.2v2.9h-2.2zM1434.8 793.7h2.4v2h-2.4z" fill="#fff"/>
<path d="M1456.3 833.5L1456.3 766.3L1458.9 768.8L1461.5 769.1L1464.1 765.3L1466.7 767.7L1469.3 761.8L1471.9 759.1L1474.5 760.3L1477.1 759.7L1479.7 760.2L1482.3 758.1L1484.9 755.5L1487.5 753.8L1490.1 753.2L1492.7 750.9L1495.3 749.1L1497.9 746.5L1500.5 750.4L1500.5 833.5ZM1476.2 736.1h7.7v3.9h-7.7zM1478.7 742.6h7.7v3.9h-7.7zM1484.7 752.1h7.7v3.9h-7.7zM1484.2 737.6h7.7v3.9h-7.7zM1490.2 746.1h7.7v3.9h-7.7zM1465.7 742.6h7.7v3.9h-7.7zM1458.2 763.1h7.7v3.9h-7.7zM1478.7 750.1h7.7v3.9h-7.7zM1458.7 736.1h7.7v3.9h-7.7zM1459.7 739.1h7.7v3.9h-7.7zM1461.2 754.1h7.7v3.9h-7.7zM1463.7 755.6h7.7v3.9h-7.7zM1484.2 736.6h7.7v3.9h-7.7zM1489.2 746.6h7.7v3.9h-7.7zM1484.7 731.6h7.7v3.9h-7.7zM1469.7 751.1h7.7v3.9h-7.7zM1457.7 739.6h7.7v3.9h-7.7zM1467.2 755.6h7.7v3.9h-7.7zM1490.7 710.1h7.7v3.9h-7.7zM1476.7 748.6h7.7v3.9h-7.7zM1483.2 720.1h7.7v3.9h-7.7zM1489.7 738.6h7.7v3.9h-7.7zM1470.2 758.1h7.7v3.9h-7.7zM1492.7 734.6h7.7v3.9h-7.7zM1461.7 759.6h7.7v3.9h-7.7zM1465.2 738.6h7.7v3.9h-7.7zM1476.7 756.1h7.7v3.9h-7.7zM1477.7 723.6h7.7v3.9h-7.7zM1491.7 721.1h7.7v3.9h-7.7zM1460.7 762.6h7.7v3.9h-7.7zM1481.7 744.1h7.7v3.9h-7.7zM1486.7 733.1h7.7v3.9h-7.7zM1482.7 727.6h7.7v3.9h-7.7zM1466.7 749.6h7.7v3.9h-7.7zM1472.2 750.1h7.7v3.9h-7.7zM1475.2 754.1h7.7v3.9h-7.7zM1488.7 745.6h7.7v3.9h-7.7zM1472.2 757.6h7.7v3.9h-7.7zM1470.7 750.6h7.7v3.9h-7.7zM1456.7 740.6h7.7v3.9h-7.7zM1486.2 745.6h7.7v3.9h-7.7zM1472.2 759.1h7.7v3.9h-7.7zM1471.7 746.1h7.7v3.9h-7.7zM1468.2 746.6h7.7v3.9h-7.7zM1458.2 747.6h7.7v3.9h-7.7zM1488.7 739.1h7.7v3.9h-7.7zM1471.7 742.6h7.7v3.9h-7.7zM1471.2 754.6h7.7v3.9h-7.7zM1459.7 745.6h7.7v3.9h-7.7zM1492.2 743.1h7.7v3.9h-7.7zM1466.7 738.1h7.7v3.9h-7.7zM1460.2 763.6h7.7v3.9h-7.7zM1482.7 744.1h7.7v3.9h-7.7zM1486.7 747.1h7.7v3.9h-7.7zM1465.7 756.6h7.7v3.9h-7.7zM1467.7 755.1h7.7v3.9h-7.7zM1492.7 734.6h7.7v3.9h-7.7zM1469.7 743.1h7.7v3.9h-7.7zM1475.7 737.1h7.7v3.9h-7.7zM1482.2 750.1h7.7v3.9h-7.7zM1471.7 744.6h7.7v3.9h-7.7zM1490.7 730.6h7.7v3.9h-7.7zM1483.7 750.1h7.7v3.9h-7.7zM1461.2 759.6h7.7v3.9h-7.7zM1457.2 727.6h7.7v3.9h-7.7zM1469.2 737.1h7.7v3.9h-7.7zM1478.7 718.6h7.7v3.9h-7.7zM1491.7 700.1h7.7v3.9h-7.7zM1493.7 605.1h7.7v3.9h-7.7zM1493.7 616.6h7.7v3.9h-7.7zM1493.7 627.6h7.7v3.9h-7.7zM1493.7 642.6h7.7v3.9h-7.7zM1493.7 668.1h7.7v3.9h-7.7zM1493.7 675.6h7.7v3.9h-7.7zM1474.7 671.6h7.7v3.9h-7.7zM1464.2 682.6h7.7v3.9h-7.7zM1475.2 696.6h7.7v3.9h-7.7zM1475.2 704.1h7.7v3.9h-7.7zM1464.2 705.6h7.7v3.9h-7.7zM1466.2 717.6h7.7v3.9h-7.7zM1483.2 722.1h7.7v3.9h-7.7z" fill="#404040"/>
<path d="M1496.5 804.2h2.1v3.6h-2.1zM1490.5 803.1h2.4v4h-2.4zM1468 802.1h2.2v3.5h-2.2zM1471.3 763.8h4.3v2.9h-4.3zM1466.2 790.9h1.8v4.2h-1.8zM1461.9 806.3h3.5v3.6h-3.5zM1460.1 790.1h2.8v3.8h-2.8zM1470.7 779.8h3.2v3.2h-3.2zM1466.4 793.1h1.8v4.5h-1.8zM1497.4 796.4h2.4v2.7h-2.4zM1481.7 791.6h2.6v3.6h-2.6zM1491.7 798.1h1.8v2.3h-1.8zM1496.2 812.1h3.5v3.6h-3.5zM1491.5 760.6h3.6v3.7h-3.6zM1475.1 764.2h3.5v3.6h-3.5zM1467.9 793.7h4.1v4.1h-4.1zM1477.1 761.5h4v2.1h-4zM1472.3 766h2.3v2.6h-2.3zM1488 796.6h3.3v2.4h-3.3zM1466.5 804.5h2.7v3.9h-2.7zM1473.8 772h3.8v3h-3.8zM1474.4 781.7h4.3v4.3h-4.3zM1483.5 775.9h2.4v2.6h-2.4zM1465 788.2h2.8v2.5h-2.8zM1473.8 807.9h2.6v3.7h-2.6zM1462.5 770.5h4.5v2.3h-4.5zM1473.7 779.8h3.1v3.9h-3.1zM1472.2 793.9h2v1.8h-2zM1462.8 779.9h3.9v2.2h-3.9zM1473.3 767.7h3.5v3.1h-3.5zM1464.9 771.6h3v2.4h-3zM1476.4 782.5h3.9v2.7h-3.9zM1482.1 771.8h2v4.2h-2zM1462.3 768.7h3.4v2.8h-3.4zM1475.8 777.4h2.2v3.7h-2.2zM1497.2 759.2h3.2v2.7h-3.2zM1476.8 777.7h2.6v2.9h-2.6zM1466.3 786.5h3.5v2.4h-3.5zM1467.9 784.4h2.6v4.2h-2.6zM1475.5 779.7h3v3.8h-3zM1464.5 790.1h3.6v2.1h-3.6zM1470.1 780h2.6v2.8h-2.6zM1490.7 812.4h3.7v2.1h-3.7zM1483.3 767.9h4.2v3.7h-4.2zM1478.1 793.9h3.9v4.2h-3.9zM1483.8 765.5h3.8v3.1h-3.8zM1466.6 772.6h3.3v4.3h-3.3zM1475.3 793h3v2.3h-3zM1475.5 777h2.3v2.6h-2.3zM1476.7 805h2v3.3h-2zM1474.3 765.6h4.3v4.3h-4.3zM1465.2 788h3.4v4h-3.4zM1485.7 782h3.8v2.6h-3.8zM1488.7 787.6h4.2v2.4h-4.2zM1493 798.5h2.1v3.1h-2.1zM1464.8 785h3.8v3.1h-3.8zM1466.4 765.9h2.5v3.7h-2.5zM1460.5 804.9h3.3v2.1h-3.3zM1474 791.2h3.8v1.8h-3.8zM1494.2 775.5h3.9v2.3h-3.9zM1464.5 767h2.2v3.6h-2.2zM1484.8 768.4h4.2v4.3h-4.2zM1491.1 750h4.2v4.2h-4.2zM1461.8 810.4h2.7v2.2h-2.7zM1488.1 757.7h4.4v2.8h-4.4zM1475 791.1h2.7v2.7h-2.7zM1474.8 765.3h3.3v2.3h-3.3zM1485.9 762.4h2v3.4h-2zM1461.9 786.4h2.9v2.9h-2.9zM1497.1 795.9h2v2.4h-2zM1482.5 786.8h2.8v2.2h-2.8zM1490.5 799.6h2.6v3.6h-2.6zM1463.4 791.9h4.2v4h-4.2zM1484.9 785.5h2.8v2.8h-2.8zM1489.8 789.1h2.9v1.8h-2.9zM1477.6 765.3h3v4.3h-3zM1483.1 788.6h3.6v3.7h-3.6zM1482.8 779.8h4.4v1.9h-4.4zM1472.2 789.8h4.1v3.9h-4.1zM1482.3 782.8h3.7v2.6h-3.7zM1489.5 754.2h3.4v1.9h-3.4zM1490.6 796.2h3.2v4h-3.2zM1463.8 781.4h2.5v3.4h-2.5zM1458.6 798.7h4.3v3.1h-4.3zM1496.3 757.9h3.6v3.8h-3.6zM1484.4 763.8h2.9v2.9h-2.9zM1468.7 792h2.9v2.3h-2.9z" fill="#fff"/>
<path d="M1500.5 833.5L1500.5 704.3L1503 699.3L1505.5 698L1508.1 694.6L1510.6 678.4L1513.1 672.2L1515.6 672L1518.2 691.3L1520.7 700.6L1523.2 702.7L1525.7 709.1L1528.2 725.3L1530.8 728.1L1533.3 727.1L1535.8 731.7L1535.8 833.5ZM1516 674l3.5 -7h-7zM1514 674l3.5 -7h-7zM1514 674l3.5 -7h-7zM1516.5 670.5l3.5 -7h-7zM1527 706.5l3.5 -7h-7zM1505.5 701l3.5 -7h-7zM1519.5 674.5l3.5 -7h-7zM1528 718.5l3.5 -7h-7zM1515.5 666.5l3.5 -7h-7zM1528.5 711.5l3.5 -7h-7zM1528.5 724.5l3.5 -7h-7zM1529.5 710.5l3.5 -7h-7zM1517.5 671.5l3.5 -7h-7zM1527 720l3.5 -7h-7zM1522 680l3.5 -7h-7zM1509 686.5l3.5 -7h-7zM1515 672.5l3.5 -7h-7zM1519.5 699l3.5 -7h-7zM1523.5 682.5l3.5 -7h-7zM1519.5 695l3.5 -7h-7zM1511.5 678l3.5 -7h-7zM1530.5 717l3.5 -7h-7zM1504.5 690l3.5 -7h-7zM1513.5 673l3.5 -7h-7zM1523.5 682l3.5 -7h-7zM1514.5 674.5l3.5 -7h-7zM1521.5 699l3.5 -7h-7zM1517 680l3.5 -7h-7zM1506.5 691.5l3.5 -7h-7zM1508 698.5l3.5 -7h-7zM1509 686l3.5 -7h-7zM1505.5 687.5l3.5 -7h-7zM1513.5 660l3.5 -7h-7zM1522 678l3.5 -7h-7zM1532 705.5l3.5 -7h-7zM1504.5 607.5l3.5 -7h-7zM1517 611l3.5 -7h-7zM1514.5 629.5l3.5 -7h-7zM1528 649.5l3.5 -7h-7zM1511 661.5l3.5 -7h-7zM1530 704l3.5 -7h-7zM1521 729.5l3.5 -7h-7zM1528.5 742.5l3.5 -7h-7z" fill="#ff4040"/>
<path d="M1530.3 751.1h3.2v2.4h-3.2zM1505.3 709h3.9v3.1h-3.9zM1515.2 752.3h2.5v3.1h-2.5zM1504.9 735.5h2.8v1.9h-2.8zM1528.3 769.1h2.4v3.4h-2.4zM1531 788.6h1.9v3h-1.9z" fill="#fff"/>
<path d="M1535.8 833.5L1535.8 690.8L1538.3 690.2L1540.9 693.8L1543.4 683.4L1545.9 659.7L1548.5 655.6L1551 653L1553.6 659.4L1556.1 677L1558.6 681L1561.2 684L1563.7 683.4L1563.7 833.5ZM1543.2 645.1h7.7v3.9h-7.7zM1548.7 650.6h7.7v3.9h-7.7zM1549.7 657.6h7.7v3.9h-7.7zM1538.7 671.6h7.7v3.9h-7.7zM1539.2 658.6h7.7v3.9h-7.7zM1537.2 668.6h7.7v3.9h-7.7zM1537.2 683.1h7.7v3.9h-7.7zM1536.2 680.6h7.7v3.9h-7.7zM1544.7 640.6h7.7v3.9h-7.7zM1555.7 659.6h7.7v3.9h-7.7zM1552.7 670.6h7.7v3.9h-7.7zM1536.2 688.1h7.7v3.9h-7.7zM1542.7 644.6h7.7v3.9h-7.7zM1552.7 667.6h7.7v3.9h-7.7zM1554.2 679.1h7.7v3.9h-7.7zM1541.2 661.6h7.7v3.9h-7.7zM1544.2 634.6h7.7v3.9h-7.7zM1543.7 646.6h7.7v3.9h-7.7zM1551.7 670.6h7.7v3.9h-7.7zM1539.2 684.1h7.7v3.9h-7.7zM1550.2 651.6h7.7v3.9h-7.7zM1540.2 663.6h7.7v3.9h-7.7zM1547.2 648.6h7.7v3.9h-7.7zM1539.2 682.6h7.7v3.9h-7.7zM1551.2 656.1h7.7v3.9h-7.7zM1539.2 677.1h7.7v3.9h-7.7zM1543.7 644.1h7.7v3.9h-7.7zM1556.2 663.1h7.7v3.9h-7.7zM1543.2 650.1h7.7v3.9h-7.7zM1536.2 675.6h7.7v3.9h-7.7zM1535.7 663.6h7.7v3.9h-7.7zM1545.7 627.1h7.7v3.9h-7.7zM1555.7 654.6h7.7v3.9h-7.7zM1545.2 504.1h7.7v3.9h-7.7zM1545.2 549.6h7.7v3.9h-7.7zM1545.2 560.6h7.7v3.9h-7.7zM1545.2 564.6h7.7v3.9h-7.7zM1545.2 571.1h7.7v3.9h-7.7zM1545.2 579.1h7.7v3.9h-7.7zM1545.2 595.6h7.7v3.9h-7.7zM1545.2 607.6h7.7v3.9h-7.7zM1545.2 617.6h7.7v3.9h-7.7z" fill="#4040ff"/>
<path d="M1552.1 660.7h3.9v4.3h-3.9zM1553.7 668h3v3.9h-3zM1543.2 727.4h3.3v3.6h-3.3zM1542.7 700.6h4.2v3.4h-4.2zM1545.8 787.4h3.3v3.6h-3.3z" fill="#fff"/>
<path d="M1563.7 833.5L1563.7 747.5L1566.2 745.5L1568.7 750L1571.3 753L1573.8 761.9L1576.3 766.3L1578.8 763.4L1581.3 765.2L1583.9 758.2L1586.4 758.1L1588.9 757.1L1591.4 752.3L1594 745.5L1596.5 746.8L1599 746.9L1599 833.5ZM1593.5 746.5l-7 -3.5v7zM1589 749l-7 -3.5v7zM1590 740l-7 -3.5v7zM1589.5 732l-7 -3.5v7zM1582.5 749l-7 -3.5v7zM1589 737l-7 -3.5v7zM1572 725l-7 -3.5v7zM1590 756.5l-7 -3.5v7zM1582.5 745.5l-7 -3.5v7zM1593 748.5l-7 -3.5v7zM1589.5 738.5l-7 -3.5v7zM1579.5 746.5l-7 -3.5v7zM1595.5 747l-7 -3.5v7zM1574 723.5l-7 -3.5v7zM1581 752.5l-7 -3.5v7zM1587.5 748l-7 -3.5v7zM1588 750l-7 -3.5v7zM1598 747l-7 -3.5v7zM1573 740.5l-7 -3.5v7zM1576 755.5l-7 -3.5v7zM1583 744.5l-7 -3.5v7zM1571 737.5l-7 -3.5v7zM1576 741l-7 -3.5v7zM1584 748.5l-7 -3.5v7zM1581 739l-7 -3.5v7zM1572.5 744.5l-7 -3.5v7zM1586.5 737l-7 -3.5v7zM1580.5 757l-7 -3.5v7zM1571.5 733l-7 -3.5v7zM1590.5 733l-7 -3.5v7zM1592.5 753l-7 -3.5v7zM1579 763.5l-7 -3.5v7zM1580 742.5l-7 -3.5v7zM1575 731l-7 -3.5v7zM1591 737l-7 -3.5v7zM1573 749.5l-7 -3.5v7zM1596.5 743.5l-7 -3.5v7zM1593.5 729.5l-7 -3.5v7zM1598.5 726l-7 -3.5v7zM1590 741.5l-7 -3.5v7zM1581 753l-7 -3.5v7zM1585 755.5l-7 -3.5v7zM1571 711.5l-7 -3.5v7zM1581 739l-7 -3.5v7zM1588.5 729.5l-7 -3.5v7zM1598.5 720.5l-7 -3.5v7zM1589.5 613l-7 -3.5v7zM1589.5 629l-7 -3.5v7zM1589.5 671l-7 -3.5v7zM1596.5 674.5l-7 -3.5v7zM1589.5 693l-7 -3.5v7zM1571.5 700.5l-7 -3.5v7zM1598 705l-7 -3.5v7zM1571.5 707.5l-7 -3.5v7zM1596.5 717l-7 -3.5v7zM1588 728l-7 -3.5v7zM1598 729.5l-7 -3.5v7z" fill="#40ff40"/>
<path d="M1569 774.4h3.3v2.1h-3.3zM1569.3 749.8h3.5v2.2h-3.5zM1595.3 787h4v3.4h-4zM1568.9 761.7h3.9v3.3h-3.9zM1577.9 775.3h2.4v2.1h-2.4zM1572.4 770.5h3.2v2.2h-3.2zM1594.7 811.5h3.7v2.7h-3.7zM1595.9 791.4h2.3v2.3h-2.3zM1571.9 802.5h3.2v4.5h-3.2zM1567.6 782h2.8v2.5h-2.8zM1572.3 811.2h3.8v3.9h-3.8zM1568.3 758.3h4.1v2.1h-4.1zM1576.8 777.9h3.8v4.4h-3.8zM1577.7 778.7h4.4v2.7h-4.4zM1576.3 768.7h2.1v2.2h-2.1zM1568.1 767h4.4v4.2h-4.4zM1572.9 771.2h1.9v2.3h-1.9zM1586.7 804.7h3.1v2.2h-3.1zM1565.4 748h3.8v3.5h-3.8zM1583.8 778.4h2.7v2.8h-2.7zM1568.4 753.1h2.3v2.7h-2.3zM1588.3 782.8h3.3v3.5h-3.3zM1582.2 762.9h2.8v2.4h-2.8zM1593.7 797.8h4.2v4.4h-4.2zM1586.7 799h3.3v4.5h-3.3zM1567.1 817.9h4.4v3.6h-4.4zM1577.1 824.9h2.1v2.6h-2.1zM1590.1 754.9h3.4v2.8h-3.4zM1565.2 776.6h3.1v3.3h-3.1zM1571.4 752.4h2.6v4.2h-2.6zM1567.1 779.9h2.6v3.8h-2.6zM1574 808.4h2.8v2.9h-2.8zM1586.5 791h1.8v3.1h-1.8zM1585.4 770.4h3.2v4.4h-3.2zM1564.9 769.6h3.5v4.3h-3.5zM1585.8 757.7h2.6v3.6h-2.6z" fill="#fff"/>
<path d="M1599 833.5L1599 737.9L1601.6 741L1604.1 740.2L1606.7 739L1609.2 735.9L1611.8 735.3L1614.3 735.4L1616.9 734.9L1619.5 730.8L1622 733.7L1624.6 733L1627.1 732.6L1629.7 729.4L1632.3 734.1L1634.8 736.8L1637.4 746.2L1639.9 747.7L1642.5 746.6L1645 745L1647.6 745.2L1647.6 833.5ZM1622.1 692.5h3.9v7h-3.9zM1631.6 719.5h3.9v7h-3.9zM1612.1 726.5h3.9v7h-3.9zM1615.1 707.5h3.9v7h-3.9zM1638.1 730h3.9v7h-3.9zM1615.6 726.5h3.9v7h-3.9zM1618.1 712h3.9v7h-3.9zM1634.1 712.5h3.9v7h-3.9zM1613.1 726.5h3.9v7h-3.9zM1641.1 728.5h3.9v7h-3.9zM1613.6 710.5h3.9v7h-3.9zM1624.6 721h3.9v7h-3.9zM1615.1 726h3.9v7h-3.9zM1627.6 726h3.9v7h-3.9zM1642.1 740.5h3.9v7h-3.9zM1641.6 737h3.9v7h-3.9zM1604.1 721.5h3.9v7h-3.9zM1621.6 699.5h3.9v7h-3.9zM1623.6 711h3.9v7h-3.9zM1631.1 722.5h3.9v7h-3.9zM1633.1 700h3.9v7h-3.9zM1625.1 707h3.9v7h-3.9zM1604.6 706h3.9v7h-3.9zM1620.1 729h3.9v7h-3.9zM1638.6 728.5h3.9v7h-3.9zM1626.6 704.5h3.9v7h-3.9zM1604.1 724h3.9v7h-3.9zM1641.6 731.5h3.9v7h-3.9zM1603.6 716h3.9v7h-3.9zM1631.6 707.5h3.9v7h-3.9zM1621.1 717.5h3.9v7h-3.9zM1628.6 718.5h3.9v7h-3.9zM1639.1 729.5h3.9v7h-3.9zM1620.6 716h3.9v7h-3.9zM1620.1 721h3.9v7h-3.9zM1605.6 734.5h3.9v7h-3.9zM1603.6 711h3.9v7h-3.9zM1603.1 730.5h3.9v7h-3.9zM1635.1 723h3.9v7h-3.9zM1602.6 714.5h3.9v7h-3.9zM1640.6 718.5h3.9v7h-3.9zM1626.6 714.5h3.9v7h-3.9zM1626.6 684.5h3.9v7h-3.9zM1622.6 700.5h3.9v7h-3.9zM1625.6 700.5h3.9v7h-3.9zM1627.6 716h3.9v7h-3.9zM1615.1 729h3.9v7h-3.9zM1637.6 730h3.9v7h-3.9zM1622.1 689h3.9v7h-3.9zM1635.6 728h3.9v7h-3.9zM1625.1 725h3.9v7h-3.9zM1617.1 723h3.9v7h-3.9zM1613.6 702.5h3.9v7h-3.9zM1607.1 723.5h3.9v7h-3.9zM1631.6 694.5h3.9v7h-3.9zM1625.6 685h3.9v7h-3.9zM1624.6 724h3.9v7h-3.9zM1636.6 713.5h3.9v7h-3.9zM1626.6 688h3.9v7h-3.9zM1604.6 735h3.9v7h-3.9zM1639.1 717h3.9v7h-3.9zM1615.6 701.5h3.9v7h-3.9zM1619.6 716.5h3.9v7h-3.9zM1641.1 731h3.9v7h-3.9zM1612.1 714h3.9v7h-3.9zM1609.1 723h3.9v7h-3.9zM1637.6 729.5h3.9v7h-3.9zM1606.6 726h3.9v7h-3.9zM1623.1 725h3.9v7h-3.9zM1629.1 694h3.9v7h-3.9zM1634.6 712.5h3.9v7h-3.9zM1626.1 726.5h3.9v7h-3.9zM1607.1 734h3.9v7h-3.9zM1612.1 731h3.9v7h-3.9zM1612.1 717h3.9v7h-3.9zM1600.6 689.5h3.9v7h-3.9zM1615.6 698.5h3.9v7h-3.9zM1628.1 680.5h3.9v7h-3.9zM1638.6 717h3.9v7h-3.9zM1623.1 616h3.9v7h-3.9zM1623.1 637h3.9v7h-3.9zM1600.6 629h3.9v7h-3.9zM1600.1 657.5h3.9v7h-3.9zM1612.6 658.5h3.9v7h-3.9zM1614.6 675h3.9v7h-3.9zM1623.6 684h3.9v7h-3.9zM1607.6 684h3.9v7h-3.9z" fill="#ffff40"/>
<path d="M1642.2 752.1h3.4v2.3h-3.4zM1602.7 746.1h3v4.3h-3zM1601.7 751.9h4.3v2.2h-4.3zM1628 747.1h2.1v2.2h-2.1zM1643.6 748.1h3.1v2h-3.1zM1631.2 749.5h2.9v4.2h-2.9z" fill="#fff"/>
<path d="M1647.6 833.5L1647.6 748.4L1650.3 749.7L1652.9 745.3L1655.6 748.9L1658.2 739.8L1660.9 737.2L1663.5 739.2L1666.2 738.7L1668.8 743.6L1671.5 749.3L1674.1 747.5L1676.8 746.8L1679.4 750.8L1682.1 750.9L1684.7 745.6L1687.4 750.9L1687.4 833.5ZM1670 712.5l7 -3.5v7zM1649.5 715.5l7 -3.5v7zM1656 715l7 -3.5v7zM1678 701.5l7 -3.5v7zM1655.5 730l7 -3.5v7zM1675.5 747.5l7 -3.5v7zM1660.5 734.5l7 -3.5v7zM1675.5 719.5l7 -3.5v7zM1679.5 707l7 -3.5v7zM1649.5 747.5l7 -3.5v7zM1663 726l7 -3.5v7zM1679.5 738l7 -3.5v7zM1674.5 748l7 -3.5v7zM1663.5 734l7 -3.5v7zM1660 739l7 -3.5v7zM1678 743.5l7 -3.5v7zM1649.5 736l7 -3.5v7zM1659.5 704.5l7 -3.5v7zM1665.5 711l7 -3.5v7zM1661.5 722l7 -3.5v7zM1664.5 740l7 -3.5v7zM1665.5 709.5l7 -3.5v7zM1673 738.5l7 -3.5v7zM1647.5 710l7 -3.5v7zM1659.5 726l7 -3.5v7zM1652.5 744.5l7 -3.5v7zM1658.5 714.5l7 -3.5v7zM1650.5 746.5l7 -3.5v7zM1678.5 743.5l7 -3.5v7zM1673 714.5l7 -3.5v7zM1655 713l7 -3.5v7zM1653 716.5l7 -3.5v7zM1655.5 723.5l7 -3.5v7zM1666 737l7 -3.5v7zM1669.5 724l7 -3.5v7zM1653.5 725.5l7 -3.5v7zM1666 733.5l7 -3.5v7zM1680 747l7 -3.5v7zM1667.5 723l7 -3.5v7zM1666 720l7 -3.5v7zM1673 735.5l7 -3.5v7zM1669 739l7 -3.5v7zM1670 743.5l7 -3.5v7zM1665.5 717l7 -3.5v7zM1672 727.5l7 -3.5v7zM1674 746.5l7 -3.5v7zM1658.5 720.5l7 -3.5v7zM1662.5 740l7 -3.5v7zM1661 706l7 -3.5v7zM1659.5 729.5l7 -3.5v7zM1679.5 735l7 -3.5v7zM1658 703.5l7 -3.5v7zM1662 732.5l7 -3.5v7zM1648.5 731l7 -3.5v7zM1671.5 723l7 -3.5v7zM1669 716l7 -3.5v7zM1655.5 722.5l7 -3.5v7zM1655.5 722.5l7 -3.5v7zM1651.5 741.5l7 -3.5v7zM1665.5 737l7 -3.5v7zM1675.5 708.5l7 -3.5v7zM1667.5 719l7 -3.5v7zM1673.5 746l7 -3.5v7zM1679 710.5l7 -3.5v7zM1672 737.5l7 -3.5v7zM1657.5 731l7 -3.5v7zM1663 727.5l7 -3.5v7zM1663.5 712.5l7 -3.5v7zM1658 733l7 -3.5v7zM1650 702l7 -3.5v7zM1660 702l7 -3.5v7zM1668 711.5l7 -3.5v7zM1677.5 697.5l7 -3.5v7zM1645.5 617l7 -3.5v7zM1656 640.5l7 -3.5v7zM1647 651l7 -3.5v7zM1656 655.5l7 -3.5v7zM1647 671l7 -3.5v7zM1657.5 673l7 -3.5v7zM1656 697.5l7 -3.5v7zM1679.5 697.5l7 -3.5v7z" fill="#ff40ff"/>
<path d="M1681.9 766.8h3.7v2.7h-3.7zM1669.3 779.3h2.3v1.8h-2.3zM1672.1 791.4h2.8v2.8h-2.8zM1665.2 767h4.5v3.6h-4.5z" fill="#fff"/>
<path d="M1687.4 833.5L1687.4 737.9L1690 736L1692.6 741.2L1695.2 739.9L1697.8 744L1700.4 744.6L1702.9 759.5L1705.5 765.7L1708.1 766.4L1710.7 765.1L1713.3 763.3L1715.9 764.6L1718.5 763.3L1721.1 760.6L1723.7 763.5L1726.3 764.6L1728.8 766.3L1731.4 770.5L1734 771.3L1736.6 770.7L1739.2 772.2L1741.8 769.2L1741.8 833.5ZM1734.5 751h7v7h-7zM1697 725.5h7v7h-7zM1711 760.5h7v7h-7zM1716.5 745.5h7v7h-7zM1699 729.5h7v7h-7zM1712.5 745.5h7v7h-7zM1691 732.5h7v7h-7zM1701.5 734.5h7v7h-7zM1703.5 761.5h7v7h-7zM1703.5 742.5h7v7h-7zM1697 739.5h7v7h-7zM1719 724.5h7v7h-7zM1728.5 763.5h7v7h-7zM1702 736h7v7h-7zM1714 732h7v7h-7zM1716.5 731.5h7v7h-7zM1691.5 717h7v7h-7zM1731.5 734h7v7h-7zM1733 758.5h7v7h-7zM1704.5 762.5h7v7h-7zM1710.5 731h7v7h-7zM1731.5 732h7v7h-7zM1733 751h7v7h-7zM1701.5 752h7v7h-7zM1725 748.5h7v7h-7zM1691.5 713h7v7h-7zM1707.5 762h7v7h-7zM1719 750.5h7v7h-7zM1715 753h7v7h-7zM1730 750.5h7v7h-7zM1702 738.5h7v7h-7zM1688 733h7v7h-7zM1702.5 733.5h7v7h-7zM1724.5 752h7v7h-7zM1726.5 752.5h7v7h-7zM1713 719.5h7v7h-7zM1708.5 737h7v7h-7zM1698 728.5h7v7h-7zM1715 756h7v7h-7zM1693.5 727.5h7v7h-7zM1712.5 757h7v7h-7zM1732 746h7v7h-7zM1729 735.5h7v7h-7zM1690.5 719.5h7v7h-7zM1703 736h7v7h-7zM1732.5 765h7v7h-7zM1694.5 717h7v7h-7zM1708 744.5h7v7h-7zM1698 726.5h7v7h-7zM1690 723h7v7h-7zM1716 742h7v7h-7zM1710.5 725.5h7v7h-7zM1721 741.5h7v7h-7zM1699.5 756h7v7h-7zM1723.5 730.5h7v7h-7zM1717 733h7v7h-7zM1708.5 733h7v7h-7zM1711.5 757.5h7v7h-7zM1730.5 756.5h7v7h-7zM1692 733h7v7h-7zM1732.5 761.5h7v7h-7zM1688 714h7v7h-7zM1689 731h7v7h-7zM1716 746.5h7v7h-7zM1703 757h7v7h-7zM1700.5 746.5h7v7h-7zM1702 734.5h7v7h-7zM1702.5 759.5h7v7h-7zM1706.5 732h7v7h-7zM1720.5 741h7v7h-7zM1698.5 753.5h7v7h-7zM1725 764h7v7h-7zM1727 740h7v7h-7zM1700 725h7v7h-7zM1692 732.5h7v7h-7zM1707 758h7v7h-7zM1711.5 751.5h7v7h-7zM1694 720.5h7v7h-7zM1732 749h7v7h-7zM1705 730.5h7v7h-7zM1703 741.5h7v7h-7zM1700.5 730.5h7v7h-7zM1691.5 708h7v7h-7zM1702.5 726h7v7h-7zM1719 717h7v7h-7zM1731 726h7v7h-7zM1711 599.5h7v7h-7zM1720.5 609.5h7v7h-7zM1710 619h7v7h-7zM1713.5 631h7v7h-7zM1701.5 640h7v7h-7zM1722 638h7v7h-7zM1711 646.5h7v7h-7zM1701.5 658.5h7v7h-7zM1720.5 656.5h7v7h-7zM1722 686h7v7h-7zM1715 693h7v7h-7zM1711 703h7v7h-7z" fill="#40ffff"/>
<path d="M1712.9 788.9h2.9v2.5h-2.9zM1689.6 769.6h4.1v4h-4.1zM1725.1 790.8h4.3v4h-4.3zM1734.4 780.5h2.4v4.4h-2.4zM1708.9 798.4h2.5v2.5h-2.5zM1701.4 766.5h3.9v3.4h-3.9zM1698.1 759.9h3.4v3.4h-3.4zM1709.5 780.3h3.9v2.8h-3.9zM1694.4 769.3h3v3.5h-3zM1694.4 741.8h4.2v4.1h-4.2zM1698.6 759.9h3.3v3.4h-3.3zM1735.6 782.5h2.1v3h-2.1zM1723.6 777.1h3.7v3.1h-3.7zM1722.4 769.4h1.8v2.1h-1.8zM1706.2 769.2h4.2v3.4h-4.2zM1717 775.5h2.9v3.2h-2.9zM1725.7 799.7h2.4v3.4h-2.4zM1719.6 798.4h3.5v3h-3.5zM1733.7 790.8h4.4v2.5h-4.4zM1711.6 810.5h2.8v3.3h-2.8zM1712.1 789.1h4.4v4h-4.4zM1712.5 802h2.5v2.9h-2.5zM1726.2 791.8h3.8v4h-3.8zM1698.5 785.2h3.3v3h-3.3zM1704.1 793.2h4.2v4.3h-4.2zM1714.8 776.9h2.5v2h-2.5zM1697 824.8h3.1v2.1h-3.1zM1712.4 798.3h2.8v2h-2.8zM1720.3 772.5h2.4v3.4h-2.4zM1730.5 800.5h3.6v4.3h-3.6zM1720.4 805h2.1v4.5h-2.1zM1729.1 808.5h3.3v3.3h-3.3zM1731.1 815.3h2.4v2.6h-2.4zM1724.6 791.6h4.4v3.7h-4.4zM1713 770.1h1.9v4.2h-1.9zM1708.2 777.8h3.1v3.5h-3.1zM1693.1 766.1h2v2.5h-2zM1694.2 766.2h3.5v2.8h-3.5zM1723.1 770.6h3.8v2.4h-3.8zM1736.7 777h2.8v4.5h-2.8zM1704.6 763.1h3.2v2.4h-3.2zM1731.6 778.7h3.1v2h-3.1zM1716.7 792.1h3.3v3.2h-3.3zM1717.3 785.4h3.4v3.9h-3.4zM1728.1 808.3h3.2v2.1h-3.2zM1722.8 789.5h2v2.8h-2zM1738.2 775.2h3.2v2h-3.2zM1719.2 808h2.1v3.9h-2.1zM1724.5 772h2.2v3.9h-2.2zM1728.6 791.4h4.1v2.2h-4.1zM1717.2 767.6h3.3v3.2h-3.3zM1727.7 784.7h2.5v3.3h-2.5zM1707 815.5h2v3.2h-2zM1698.9 753.7h2.9v2h-2.9zM1691.2 744.1h2.8v3.3h-2.8zM1722.7 782.6h4.3v4h-4.3zM1738.1 823.8h2.5v2.6h-2.5zM1692.4 753.1h3.5v2.6h-3.5zM1729.7 802.4h2.1v2h-2.1zM1704.7 781.4h3.3v2.1h-3.3zM1728.1 772.7h4v3.9h-4zM1737.7 779.7h2.6v3.9h-2.6zM1707.2 818.2h3.2v4.3h-3.2zM1721.8 810h1.8v4.4h-1.8zM1711.2 825.6h4v1.9h-4zM1722 768.1h3.1v3.7h-3.1zM1717.4 788.5h4.5v2.9h-4.5zM1738.7 776.8h2.9v2h-2.9zM1699.4 769.6h4.2v3.7h-4.2zM1732.3 771.4h3.1v3.8h-3.1zM1715 783.2h2v2.8h-2zM1732.7 778.1h3.2v4h-3.2zM1730.6 790h4.3v1.9h-4.3zM1689.6 740.8h3.3v3.7h-3.3zM1720.9 777h3.7v2.7h-3.7zM1729.5 769.5h4.1v3.1h-4.1zM1702.2 787.8h2.4v3.7h-2.4zM1722.4 823.1h4.3v2.4h-4.3zM1727.3 768.4h3.4v2.4h-3.4zM1707.3 787.3h3.5v3.6h-3.5zM1727.1 783.4h3.4v4.3h-3.4zM1721.4 764.9h2.7v3.3h-2.7zM1711.1 766.4h2.8v3.6h-2.8zM1708.9 793.2h3v3.7h-3zM1720 768h2v1.8h-2zM1727.4 808.5h3.4v3.4h-3.4zM1696.4 755.5h1.8v2.9h-1.8zM1706.7 782.7h2v2.1h-2zM1714.5 797.4h3.2v1.9h-3.2zM1694.2 745.1h2.9v4.1h-2.9zM1737.9 779.9h3.9v3.1h-3.9zM1720.6 768h2v2.9h-2zM1703.3 781.4h1.9v4h-1.9zM1710.7 792.6h2.4v2.4h-2.4zM1697.9 766.4h2.4v3.4h-2.4zM1704.7 776.9h3.3v4.5h-3.3zM1735.7 811.8h2.9v1.8h-2.9zM1715.4 774.2h2.7v2.7h-2.7zM1693.9 801.9h2.4v3.3h-2.4zM1722.3 772.9h4.2v1.9h-4.2zM1716.9 764.4h4.3v2h-4.3zM1734.4 797.2h4.5v2.1h-4.5zM1738.4 791.7h2.3v2.4h-2.3zM1694.1 758.7h2.4v2.5h-2.4zM1698.5 750.7h1.8v4.2h-1.8zM1735.6 793.3h2.8v3.9h-2.8zM1711.1 769.3h3.8v4h-3.8zM1716.1 806.9h2.7v2.2h-2.7zM1720 807.2h2.4v3.9h-2.4zM1726.4 776.4h3v4h-3zM1722.6 783.3h4.4v2.9h-4.4zM1711.5 781.9h3.5v2.5h-3.5zM1731.7 772.2h3.4v3.6h-3.4zM1710.9 782.4h2.5v4.1h-2.5zM1703.7 787.5h3.3v3.4h-3.3zM1712.3 785.2h3.3v2.7h-3.3zM1697.8 781.9h4.2v2.6h-4.2zM1715.2 773.3h3.4v3.4h-3.4zM1710.5 811.5h3.7v4.1h-3.7zM1708.2 769.5h4.2v4.4h-4.2zM1714.3 768.5h3.3v2.9h-3.3zM1704.6 766.7h2.7v4h-2.7zM1710.9 774.1h4.4v1.9h-4.4zM1700.3 751.8h3.9v2.1h-3.9zM1730.5 812.3h1.9v1.9h-1.9zM1728.5 784.8h2.6v3.7h-2.6zM1731.2 774.4h2.3v3.5h-2.3zM1697.6 813h2.7v3.5h-2.7zM1722.8 768.7h2.8v2.1h-2.8zM1694.1 773.7h3.9v2.9h-3.9zM1713.8 788.9h3.9v2.7h-3.9zM1714.7 780.9h2.6v3.2h-2.6zM1729.6 791.9h2.7v4.5h-2.7zM1702.1 793.7h2.9v4.3h-2.9zM1709 808.7h2.9v4.5h-2.9zM1692.5 762.9h3.5v4.4h-3.5zM1695.5 754h4.2v2.2h-4.2zM1726.3 788.8h2.7v3.1h-2.7zM1725.6 784.8h4.1v2.2h-4.1zM1690.1 780.9h2.6v4.2h-2.6z" fill="#fff"/>
<path d="M940.3 453H1746" stroke="#e4e4e4" stroke-width="2" fill="none"/>
<rect x="941.3" y="455" width="803.7" height="380" fill="none" stroke="#a8a8a8" stroke-width="1.5"/>
<path d="M941.3 455.5H1745" stroke="#bdbdbd" stroke-width="2.5" fill="none"/>
<rect x="946.5" y="455" width="34.5" height="37" fill="none" stroke="#262626" stroke-width="2" rx="1.5"/>
<text x="963.8" y="479" class="bl">D</text>
<text x="925" y="471.3" class="tk">4</text>
<text x="925" y="561.3" class="tk">3</text>
<text x="925" y="654.1" class="tk">2</text>
<text x="925" y="746.9" class="tk">1</text>
<text x="925" y="839.7" class="tk">0</text>
<rect x="898.5" y="856" width="7.5" height="384" fill="#ececec"/>
<rect x="93" y="858.2" width="805.5" height="380.3" fill="#fff"/>
<path d="M94 1207.1H897.5M94 1180.2H897.5M94 1153.3H897.5M94 1126.4H897.5M94 1099.5H897.5M94 1072.6H897.5M94 1045.7H897.5M94 1018.8H897.5M94 991.9H897.5M94 965H897.5M94 938.1H897.5M94 911.2H897.5M94 884.3H897.5" stroke="#a8a8a8" stroke-width="1.3" stroke-dasharray="2 2" fill="none"/>
<path d="M98 1237L98 1166.1L100.6 1164.6L103.2 1163.8L105.8 1155.8L108.4 1140.3L111 1130.3L113.6 1134.3L116.2 1148.9L118.9 1151.4L121.5 1153L124.1 1156.8L126.7 1177.5L129.3 1183.4L131.9 1183.5L134.5 1183.1L134.5 1237ZM103 1152.5h7v7h-7zM126.5 1176h7v7h-7zM125 1176h7v7h-7zM101.5 1154h7v7h-7zM106 1131.5h7v7h-7zM112.5 1127.5h7v7h-7zM127.5 1179h7v7h-7zM107 1128.5h7v7h-7zM114.5 1139h7v7h-7zM127 1179h7v7h-7zM101.5 1150.5h7v7h-7zM98.5 1159.5h7v7h-7zM109 1127h7v7h-7zM123 1166.5h7v7h-7zM103 1146h7v7h-7zM109 1125h7v7h-7zM98 1152.5h7v7h-7zM108.5 1123h7v7h-7zM117.5 1128.5h7v7h-7zM127.5 1171.5h7v7h-7zM124.5 1053h7v7h-7zM124.5 1130h7v7h-7z" fill="#ff5252"/>
<path d="M111.7 1140.3h2.1v3.2h-2.1zM104.3 1180.9h3.2v4h-3.2zM128.1 1191h3.6v2.9h-3.6z" fill="#fff"/>
<path d="M134.5 1237L134.5 1173.5L137.1 1174.3L139.7 1174.5L142.3 1159.5L144.9 1155.6L147.5 1156L150.1 1164.7L152.8 1172.2L155.4 1165.5L158 1164.2L160.6 1162.5L163.2 1168.3L165.8 1177.7L168.4 1178.6L171 1178.4L171 1237Z" fill="#5252ff"/>
<path d="M154 1162.5h0M149 1164.5h0M139.5 1171h0M151 1166h0M154 1162h0M145.5 1146h0M151 1158.5h0M159 1152.5h0M145.5 1124.5h0M160.5 1146h0M151.5 1163h0M148 1149h0M166 1171h0M140 1170h0M159.5 1160h0M147.5 1139.5h0M162 1156.5h0M140.5 1157h0M165.5 1165h0M159.5 1151.5h0M160 1161h0M153 1167.5h0M140.5 1168h0M143 1151.5h0M152 1168.5h0M160.5 1160.5h0M148 1128.5h0M138 1164h0M145.5 1115h0M152.5 1158.5h0M160 1142.5h0M167.5 1169.5h0M147 1115h0M147 1123.5h0" stroke="#5252ff" stroke-width="7.6" stroke-linecap="round" fill="none"/>
<path d="M139.2 1174.2h3v3.1h-3zM151.9 1173.9h3.8v2.5h-3.8zM137.7 1191.7h4.4v2.1h-4.4z" fill="#fff"/>
<path d="M171 1237L171 1202.4L173.6 1202.7L176.2 1203.5L178.8 1203.8L181.3 1203.6L183.9 1209L186.5 1209.7L189.1 1206.8L191.7 1206.7L194.3 1208.9L196.9 1203.7L199.5 1200.8L202 1184.9L204.6 1183.6L207.2 1180.5L209.8 1180.6L209.8 1237ZM192.5 1191.5l3.5 7h-7zM188 1198.5l3.5 7h-7zM203.5 1178l3.5 7h-7zM199.5 1189.5l3.5 7h-7zM194.5 1201.5l3.5 7h-7zM182.5 1191.5l3.5 7h-7zM192 1200.5l3.5 7h-7zM198.5 1194.5l3.5 7h-7zM189 1194.5l3.5 7h-7zM203.5 1169l3.5 7h-7zM178.5 1196.5l3.5 7h-7zM191.5 1191.5l3.5 7h-7zM203.5 1175.5l3.5 7h-7zM175 1199.5l3.5 7h-7zM191 1202l3.5 7h-7zM204 1168.5l3.5 7h-7zM179 1198l3.5 7h-7zM204.5 1153l3.5 7h-7zM198.5 1189l3.5 7h-7zM176.5 1195l3.5 7h-7zM185 1191.5l3.5 7h-7zM193.5 1199l3.5 7h-7zM176 1184l3.5 7h-7zM189.5 1197l3.5 7h-7zM192.5 1196l3.5 7h-7zM191.5 1202.5l3.5 7h-7zM194.5 1189l3.5 7h-7zM182.5 1187l3.5 7h-7zM178 1183l3.5 7h-7zM206 1168.5l3.5 7h-7zM192 1201l3.5 7h-7zM176.5 1182l3.5 7h-7zM185.5 1187.5l3.5 7h-7zM195 1187.5l3.5 7h-7zM206 1150l3.5 7h-7zM204 1133l3.5 7h-7zM186 1148.5l3.5 7h-7zM186 1157.5l3.5 7h-7zM189.5 1171.5l3.5 7h-7zM170 1165.5l3.5 7h-7z" fill="#52ff52"/>
<path d="M196.6 1211.8h2.3v3.3h-2.3zM184 1221h2.9v3.8h-2.9zM173 1225.1h2.3v3.3h-2.3zM201 1199.6h2.8v2h-2.8zM177.9 1208.1h2.4v1.9h-2.4zM183 1206.8h2.7v3.5h-2.7zM201.3 1189.7h4.3v3.4h-4.3zM189.1 1217.5h3.7v1.9h-3.7zM202.1 1197.1h4.3v2.3h-4.3zM175.7 1213.4h3.9v3.7h-3.9zM190.3 1217.5h4.4v4.5h-4.4zM190.1 1219.4h2.4v3.9h-2.4zM178.1 1211.4h2.6v3.8h-2.6zM200.1 1212h3.1v2h-3.1zM188.8 1210.7h2v2.3h-2zM200.9 1192.3h3.2v3.8h-3.2zM199.6 1207.8h2.7v2h-2.7zM198.5 1209.7h3.3v2.8h-3.3z" fill="#fff"/>
<path d="M209.8 1237L209.8 1193.4L212.4 1198L215.1 1196.2L217.7 1193.3L220.4 1181.4L223 1175.8L225.6 1168L228.3 1136.3L230.9 1124.2L233.5 1136.1L236.2 1162.5L238.8 1169.2L241.4 1171.9L244.1 1184.6L246.7 1190.4L249.4 1189L252 1188.7L252 1237Z" fill="#ffff4f"/>
<path d="M218.5 1178.5h0M239.5 1150h0M218.5 1168h0M240 1158.5h0M228.5 1134h0M229 1127h0M240 1157h0M229 1133h0M227.5 1132.5h0M240.5 1157h0M218.5 1175h0M234.5 1108h0M227 1127h0M229 1124.5h0M220 1182h0M225 1164h0M248 1188.5h0M238.5 1146h0M232.5 1124.5h0M243.5 1165.5h0M217 1189.5h0M213.5 1186h0M240.5 1157.5h0M236.5 1158h0M221.5 1179h0M216.5 1189.5h0M220.5 1182.5h0M239 1164h0M217 1187.5h0M239 1165.5h0M214.5 1183.5h0M214.5 1179.5h0M224.5 1153.5h0M240 1168.5h0M213.5 1195h0M214.5 1175h0M222.5 1164h0M230.5 1093.5h0M240 1148h0M248 1180h0" stroke="#ffff4f" stroke-width="7.6" stroke-linecap="round" fill="none"/>
<path d="M226.7 1188.8h2.7v4h-2.7zM231.8 1143.9h1.9v3.1h-1.9zM217.4 1201h3.1v3.5h-3.1z" fill="#fff"/>
<path d="M252 1237L252 1182.9L254.6 1183L257.1 1182.6L259.7 1178.1L262.2 1152.6L264.8 1146.2L267.4 1142L269.9 1144L272.5 1159L275.1 1164.8L277.6 1171.7L280.2 1169.6L282.8 1181.2L285.3 1182.1L287.9 1188L290.4 1187.9L293 1184.4L293 1237ZM264.1 1119.1h7.7v3.9h-7.7zM253.7 1179.1h7.7v3.9h-7.7zM255.7 1174.1h7.7v3.9h-7.7zM270.6 1158.1h7.7v3.9h-7.7zM279.1 1174.6h7.7v3.9h-7.7zM285.1 1179.1h7.7v3.9h-7.7zM280.6 1174.1h7.7v3.9h-7.7zM262.6 1141.1h7.7v3.9h-7.7zM259.6 1141.1h7.7v3.9h-7.7zM277.1 1158.1h7.7v3.9h-7.7zM264.1 1135.1h7.7v3.9h-7.7zM263.1 1135.6h7.7v3.9h-7.7zM258.1 1162.6h7.7v3.9h-7.7zM257.6 1167.6h7.7v3.9h-7.7zM269.6 1149.6h7.7v3.9h-7.7zM264.6 1139.6h7.7v3.9h-7.7zM259.6 1141.1h7.7v3.9h-7.7zM284.6 1181.6h7.7v3.9h-7.7zM283.6 1182.1h7.7v3.9h-7.7zM268.1 1147.1h7.7v3.9h-7.7zM262.1 1135.1h7.7v3.9h-7.7zM277.1 1166.1h7.7v3.9h-7.7zM252.2 1178.6h7.7v3.9h-7.7zM254.7 1173.1h7.7v3.9h-7.7zM262.1 1113.6h7.7v3.9h-7.7zM274.6 1151.6h7.7v3.9h-7.7zM283.1 1178.1h7.7v3.9h-7.7zM279.6 1110.1h7.7v3.9h-7.7z" fill="#ff52ff"/>
<path d="M270.7 1152.3h2.6v3.1h-2.6zM264 1210.8h2.7v3.6h-2.7zM264.2 1159h4.1v2.1h-4.1z" fill="#fff"/>
<path d="M293 1237L293 1176.5L295.7 1172.9L298.4 1172L301.1 1171.8L303.8 1173.3L306.5 1170.4L309.2 1174.3L311.9 1174.4L314.6 1185.4L317.3 1190.1L320 1192.2L322.7 1189.6L322.7 1237ZM296.5 1172l3.5 -7h-7zM309 1175.5l3.5 -7h-7zM300.5 1170.5l3.5 -7h-7zM310 1174l3.5 -7h-7zM299 1177l3.5 -7h-7zM312 1178l3.5 -7h-7zM307.5 1174l3.5 -7h-7zM318.5 1193l3.5 -7h-7zM313 1183l3.5 -7h-7zM308 1173l3.5 -7h-7zM298.5 1167.5l3.5 -7h-7zM308 1170.5l3.5 -7h-7zM318 1183.5l3.5 -7h-7zM308.5 1127.5l3.5 -7h-7zM305.5 1138l3.5 -7h-7zM299 1150l3.5 -7h-7zM322.5 1150l3.5 -7h-7zM293 1167.5l3.5 -7h-7z" fill="#52ffff"/>
<path d="M318.4 1208.8h4.2v2.7h-4.2zM303.6 1186.4h2.1v3.2h-2.1z" fill="#fff"/>
<path d="M322.7 1237L322.7 1163.2L325.2 1161.3L327.8 1162L330.3 1162.6L332.9 1161.3L335.4 1153.9L338 1146L340.5 1152.2L343.1 1152.2L345.6 1161.7L348.2 1164.8L350.7 1168L353.3 1165.9L355.8 1178.9L358.4 1182L360.9 1186L363.5 1182.9L366 1182.9L366 1237ZM342.1 1135.6h7.7v3.9h-7.7zM338.1 1141.1h7.7v3.9h-7.7zM339.6 1111.1h7.7v3.9h-7.7zM353.1 1166.1h7.7v3.9h-7.7zM343.1 1133.6h7.7v3.9h-7.7zM334.1 1135.6h7.7v3.9h-7.7zM354.1 1175.6h7.7v3.9h-7.7zM349.6 1144.6h7.7v3.9h-7.7zM342.6 1131.1h7.7v3.9h-7.7zM341.1 1152.6h7.7v3.9h-7.7zM356.1 1181.6h7.7v3.9h-7.7zM353.6 1162.1h7.7v3.9h-7.7zM342.6 1142.6h7.7v3.9h-7.7zM356.1 1172.6h7.7v3.9h-7.7zM336.6 1108.6h7.7v3.9h-7.7zM346.1 1151.6h7.7v3.9h-7.7zM329.6 1131.6h7.7v3.9h-7.7zM334.6 1131.1h7.7v3.9h-7.7zM330.1 1146.1h7.7v3.9h-7.7zM324.1 1152.1h7.7v3.9h-7.7zM335.1 1118.1h7.7v3.9h-7.7zM347.6 1150.1h7.7v3.9h-7.7zM354.6 1177.6h7.7v3.9h-7.7zM346.1 1137.1h7.7v3.9h-7.7zM328.6 1154.6h7.7v3.9h-7.7zM329.1 1130.1h7.7v3.9h-7.7zM336.1 1142.6h7.7v3.9h-7.7zM329.1 1147.1h7.7v3.9h-7.7zM326.1 1136.6h7.7v3.9h-7.7zM326.6 1149.1h7.7v3.9h-7.7zM327.1 1151.6h7.7v3.9h-7.7zM348.6 1163.1h7.7v3.9h-7.7zM325.1 1161.6h7.7v3.9h-7.7zM323.6 1161.6h7.7v3.9h-7.7zM345.1 1149.1h7.7v3.9h-7.7zM348.6 1144.1h7.7v3.9h-7.7zM355.6 1182.1h7.7v3.9h-7.7zM334.1 1128.1h7.7v3.9h-7.7zM330.6 1123.1h7.7v3.9h-7.7zM356.1 1169.1h7.7v3.9h-7.7zM322.6 1149.6h7.7v3.9h-7.7zM349.6 1147.6h7.7v3.9h-7.7zM352.1 1174.1h7.7v3.9h-7.7zM355.1 1178.6h7.7v3.9h-7.7zM339.1 1142.6h7.7v3.9h-7.7zM352.1 1166.6h7.7v3.9h-7.7zM355.6 1182.1h7.7v3.9h-7.7zM333.6 1146.1h7.7v3.9h-7.7zM335.6 1114.6h7.7v3.9h-7.7zM326.1 1143.1h7.7v3.9h-7.7zM350.1 1145.6h7.7v3.9h-7.7zM350.1 1154.6h7.7v3.9h-7.7zM324.6 1130.1h7.7v3.9h-7.7zM335.6 1103.1h7.7v3.9h-7.7zM346.1 1135.1h7.7v3.9h-7.7zM357.1 1167.6h7.7v3.9h-7.7zM337.6 874.1h7.7v3.9h-7.7zM337.6 954.1h7.7v3.9h-7.7zM337.6 966.1h7.7v3.9h-7.7zM337.6 993.1h7.7v3.9h-7.7zM337.6 1007.1h7.7v3.9h-7.7zM337.6 1018.1h7.7v3.9h-7.7zM337.6 1028.6h7.7v3.9h-7.7zM337.6 1035.1h7.7v3.9h-7.7zM337.6 1046.1h7.7v3.9h-7.7zM337.6 1051.1h7.7v3.9h-7.7zM337.6 1057.1h7.7v3.9h-7.7zM337.6 1065.1h7.7v3.9h-7.7zM337.6 1070.6h7.7v3.9h-7.7zM337.6 1096.6h7.7v3.9h-7.7z" fill="#ffaaaa"/>
<path d="M342.9 1212h3.5v2.2h-3.5zM356.1 1194.5h2.1v2.7h-2.1zM358.5 1211.1h3v2.8h-3zM326.8 1199.3h2.4v2.9h-2.4z" fill="#fff"/>
<path d="M366 1237L366 1112.5L368.6 1107.8L371.1 1114.6L373.7 1136.7L376.3 1145.1L378.9 1147.6L381.4 1160.5L384 1166.5L386.6 1171.1L389.2 1173.9L391.8 1178.7L394.3 1178.4L396.9 1182.1L396.9 1237ZM387.5 1160.5l-7 -3.5v7zM373 1102.5l-7 -3.5v7zM384 1152.5l-7 -3.5v7zM384 1147.5l-7 -3.5v7zM382 1148.5l-7 -3.5v7zM378.5 1140l-7 -3.5v7zM383 1150.5l-7 -3.5v7zM378 1138l-7 -3.5v7zM377.5 1132.5l-7 -3.5v7zM392 1172l-7 -3.5v7zM385.5 1159.5l-7 -3.5v7zM388.5 1160.5l-7 -3.5v7zM379 1132.5l-7 -3.5v7zM397 1171l-7 -3.5v7zM384.5 1140l-7 -3.5v7zM392 1167l-7 -3.5v7zM374 1100.5l-7 -3.5v7zM373 1091.5l-7 -3.5v7zM380.5 1132l-7 -3.5v7zM389 1158.5l-7 -3.5v7zM396.5 1169.5l-7 -3.5v7zM371 1094.5l-7 -3.5v7zM375.5 1094.5l-7 -3.5v7zM399 1112l-7 -3.5v7zM399 1136.5l-7 -3.5v7zM391.5 1168l-7 -3.5v7zM383.5 1142.5l-7 -3.5v7z" fill="#808080"/>
<path d="M372.5 1121.7h3.8v2.9h-3.8zM391.3 1180.6h4v3.3h-4zM391.9 1194.1h1.9v2.5h-1.9z" fill="#fff"/>
<path d="M396.9 1237L396.9 1178.3L399.5 1178.2L402.2 1184.3L404.8 1188L407.4 1200.6L410.1 1199.5L412.7 1203.4L415.3 1203.4L417.9 1198.8L420.6 1201.9L423.2 1202.5L425.8 1201.2L428.5 1199.1L431.1 1203.1L431.1 1237ZM407.6 1192.5h3.9v7h-3.9zM420.6 1179h3.9v7h-3.9zM408.6 1197.5h3.9v7h-3.9zM416.1 1188h3.9v7h-3.9zM420.6 1190.5h3.9v7h-3.9zM400.6 1174h3.9v7h-3.9zM413.6 1197h3.9v7h-3.9zM412.6 1191h3.9v7h-3.9zM399.6 1177h3.9v7h-3.9zM424.1 1189.5h3.9v7h-3.9zM411.6 1188.5h3.9v7h-3.9zM423.1 1187h3.9v7h-3.9zM424.6 1178h3.9v7h-3.9zM420.1 1181.5h3.9v7h-3.9zM407.6 1190h3.9v7h-3.9zM401.6 1169h3.9v7h-3.9zM413.6 1191.5h3.9v7h-3.9zM399.6 1175.5h3.9v7h-3.9zM419.6 1195.5h3.9v7h-3.9zM419.6 1198h3.9v7h-3.9zM423.6 1187.5h3.9v7h-3.9zM410.1 1183.5h3.9v7h-3.9zM420.1 1181h3.9v7h-3.9zM402.1 1169.5h3.9v7h-3.9zM417.1 1196h3.9v7h-3.9zM424.6 1188.5h3.9v7h-3.9zM405.6 1186.5h3.9v7h-3.9zM399.1 1152.5h3.9v7h-3.9zM408.1 1182h3.9v7h-3.9zM416.6 1182h3.9v7h-3.9zM425.6 1176.5h3.9v7h-3.9zM424.6 1120.5h3.9v7h-3.9zM420.1 1143h3.9v7h-3.9zM428.1 1145h3.9v7h-3.9zM424.6 1160.5h3.9v7h-3.9zM404.1 1178h3.9v7h-3.9zM421.1 1179h3.9v7h-3.9z" fill="#c00000"/>
<path d="M412.4 1206.3h2.2v3.3h-2.2zM413.1 1220.7h3.4v2.4h-3.4zM409.8 1203.4h3.4v2.1h-3.4zM417.5 1218.6h4.3v1.9h-4.3zM410.4 1219.5h4v4.3h-4zM398.4 1197.1h3.6v3.2h-3.6zM410.5 1216.8h3.4v2.5h-3.4zM403.7 1209h3.2v2.4h-3.2zM402.7 1209.2h2.7v2.9h-2.7zM399.1 1181.7h4.4v4.1h-4.4zM400.9 1192.6h1.9v2.3h-1.9zM411.6 1219.1h3v3.8h-3zM400.7 1183.5h1.9v2.8h-1.9zM415.1 1205h2.6v2h-2.6zM398.9 1183.7h2.7v4.2h-2.7zM399.5 1198.7h2.8v2.3h-2.8zM426.6 1211.2h3.2v2.2h-3.2zM415.3 1222.4h4v2.6h-4zM426.9 1205h3.5v2.4h-3.5zM403.2 1195.9h3.4v3.2h-3.4zM427.4 1210.4h3.8v2.2h-3.8zM402.1 1190.9h1.9v3.6h-1.9zM410.2 1207.9h2.4v2.6h-2.4zM410.2 1202.6h3.4v2.5h-3.4zM399.4 1185.5h3.8v4.1h-3.8zM414.2 1216.8h4.4v3.5h-4.4zM415.7 1227.2h3.7v2.5h-3.7zM413.2 1206.2h4.2v3.9h-4.2zM415.1 1210.8h2.9v2.9h-2.9zM403.3 1203.7h3.5v3.1h-3.5zM420.4 1212.1h2v3.5h-2zM416.1 1226.4h3.2v2.6h-3.2zM414.3 1203.4h4.3v4.2h-4.3zM420 1222.8h1.8v3.5h-1.8zM403.9 1216h3.5v2.3h-3.5z" fill="#fff"/>
<path d="M431.1 1237L431.1 1153.5L433.7 1151.3L436.3 1153.1L438.9 1155.1L441.4 1159.2L444 1157.4L446.6 1156.4L449.2 1158.1L451.8 1154.7L454.4 1153.8L457 1153.3L459.6 1156.8L462.1 1159.9L464.7 1162.1L467.3 1163.1L469.9 1163.1L469.9 1237ZM448.5 1141.5l7 -3.5v7zM462 1163l7 -3.5v7zM446 1149l7 -3.5v7zM462.5 1148.5l7 -3.5v7zM457.5 1159l7 -3.5v7zM446.5 1147.5l7 -3.5v7zM442.5 1155l7 -3.5v7zM442.5 1151.5l7 -3.5v7zM444 1155l7 -3.5v7zM438.5 1146.5l7 -3.5v7zM437 1154.5l7 -3.5v7zM448 1150l7 -3.5v7zM458 1151.5l7 -3.5v7zM450.5 1144l7 -3.5v7zM453.5 1141.5l7 -3.5v7zM432 1152.5l7 -3.5v7zM445.5 1149l7 -3.5v7zM454 1152.5l7 -3.5v7zM457.5 1149.5l7 -3.5v7zM448 1151.5l7 -3.5v7zM456 1155l7 -3.5v7zM431.5 1150l7 -3.5v7zM453 1142.5l7 -3.5v7zM437 1154.5l7 -3.5v7zM444 1158l7 -3.5v7zM432.5 1137l7 -3.5v7zM441 1142.5l7 -3.5v7zM451.5 1137l7 -3.5v7zM461.5 1148l7 -3.5v7zM430 1111.5l7 -3.5v7zM449.5 1131l7 -3.5v7zM464 1140.5l7 -3.5v7z" fill="#0000c0"/>
<path d="M432.5 1226.3h4.2v2.7h-4.2zM457.5 1163.5h2.3v2.6h-2.3zM454.9 1165.6h3.6v2.9h-3.6zM458.4 1173.8h3.3v2.7h-3.3z" fill="#fff"/>
<path d="M469.9 1237L469.9 1167.3L472.6 1167.3L475.4 1165.4L478.1 1138.4L480.9 1132.8L483.6 1127.2L486.4 1144L489.1 1145.2L491.9 1147.2L494.6 1145.9L494.6 1237ZM483.5 1133.5h7v7h-7zM471 1152.5h7v7h-7zM479 1123h7v7h-7zM477.5 1127.5h7v7h-7zM486 1142.5h7v7h-7zM482.5 1128h7v7h-7zM476.5 1127.5h7v7h-7zM487.5 1136h7v7h-7zM472 1153.5h7v7h-7zM476.5 1128h7v7h-7zM470 1150h7v7h-7zM487 1133.5h7v7h-7z" fill="#00c000"/>
<path d="M485.2 1174.7h2.7v2.2h-2.7zM485 1172.3h3.9v2.3h-3.9z" fill="#fff"/>
<path d="M494.6 1237L494.6 1210L497.3 1209.1L499.9 1208.2L502.6 1209.6L505.2 1212L507.9 1208.4L510.6 1208.1L513.2 1210.8L515.9 1206L518.5 1210L521.2 1208.4L523.8 1209.1L526.5 1208.4L526.5 1237Z" fill="#c0c000"/>
<path d="M517.5 1198.5h0M509 1172h0M498.5 1205.5h0M498.5 1193.5h0M506 1208.5h0M504 1194h0M511.5 1178.5h0M518 1194h0M521 1206.5h0M515 1208.5h0M509.5 1206.5h0M518 1191.5h0M509 1186.5h0M512.5 1168.5h0M508.5 1167.5h0M515 1205h0M515 1201h0M519.5 1198.5h0M511.5 1161.5h0M522.5 1203h0M510 1209.5h0M508 1188h0M518 1202h0M500 1197.5h0M510.5 1192.5h0M501 1203.5h0M499 1202.5h0M519 1202h0M521 1199.5h0M515 1184.5h0M509 1166.5h0M498 1201h0M515 1189.5h0M514.5 1195.5h0M499 1191h0M511.5 1158.5h0M522 1196.5h0M514.5 1117.5h0M498 1135h0M510.5 1160h0M508 1175h0M508 1180h0" stroke="#c0c000" stroke-width="7.6" stroke-linecap="round" fill="none"/>
<path d="M507.1 1211.2h2.1v2.7h-2.1zM512.7 1214.6h2.1v1.9h-2.1zM514.2 1214.8h2v2h-2zM497.3 1210h3.3v4.3h-3.3zM518 1209.3h2.5v3.6h-2.5zM521.4 1218.8h3v3.1h-3zM500.7 1220.1h4.5v2.7h-4.5zM500.5 1212.1h1.8v1.8h-1.8zM517 1211.6h2.6v3.5h-2.6zM516.8 1209.2h4.3v2.8h-4.3zM500.6 1224.2h3.9v3.5h-3.9zM501.4 1211.4h3.9v2.4h-3.9zM504 1224.4h2.9v4.2h-2.9zM513.8 1211.6h3.4v4.2h-3.4zM511.3 1210.9h4.4v3.2h-4.4zM516.2 1215.5h2.3v4.4h-2.3zM505.4 1214.6h2.3v3.6h-2.3zM509.3 1212.8h3.4v3.5h-3.4zM504.9 1208.7h3.7v1.8h-3.7zM518.4 1214.2h2.5v2.5h-2.5zM522.3 1208.3h2.4v3.2h-2.4zM518.3 1209.1h3.1v2.8h-3.1zM501.7 1217h2.7v2.5h-2.7zM521.4 1213.5h3.2v1.9h-3.2zM503.2 1213.5h4.2v1.9h-4.2zM503.5 1224.2h3.2v2.6h-3.2zM522 1218.3h4.3v2h-4.3zM506.8 1221.5h2.3v2.8h-2.3zM518.5 1215.9h2v2.5h-2zM501 1211.3h3.7v2h-3.7z" fill="#fff"/>
<path d="M526.5 1237L526.5 1174.8L529 1171.8L531.6 1169.2L534.1 1173L536.6 1172L539.1 1172.5L541.7 1169.4L544.2 1170.6L546.7 1174.7L549.3 1174L551.8 1170.2L554.3 1167.2L556.8 1164.6L559.4 1163.4L561.9 1163.6L561.9 1237ZM548 1168.5l3.5 7h-7zM558 1158.5l3.5 7h-7zM545 1167.5l3.5 7h-7zM541.5 1156.5l3.5 7h-7zM532 1154.5l3.5 7h-7zM535.5 1164l3.5 7h-7zM552.5 1159.5l3.5 7h-7zM556 1148.5l3.5 7h-7zM555.5 1149l3.5 7h-7zM533.5 1161.5l3.5 7h-7zM531 1154l3.5 7h-7zM550 1166l3.5 7h-7zM541.5 1163.5l3.5 7h-7zM552 1169l3.5 7h-7zM554.5 1162.5l3.5 7h-7zM545.5 1164l3.5 7h-7zM538 1158l3.5 7h-7zM534.5 1164.5l3.5 7h-7zM556.5 1155l3.5 7h-7zM534 1162l3.5 7h-7zM552 1162l3.5 7h-7zM538 1164l3.5 7h-7zM530 1160l3.5 7h-7zM542 1163l3.5 7h-7zM530.5 1150l3.5 7h-7zM539 1155l3.5 7h-7zM548.5 1160.5l3.5 7h-7zM557 1133.5l3.5 7h-7zM558.5 1097l3.5 7h-7zM558.5 1103.5l3.5 7h-7zM549.5 1126.5l3.5 7h-7zM558.5 1125.5l3.5 7h-7zM531 1131l3.5 7h-7zM542.5 1147l3.5 7h-7zM558.5 1149.5l3.5 7h-7zM558.5 1156.5l3.5 7h-7z" fill="#c000c0"/>
<path d="M542.5 1186.4h3.1v4.2h-3.1zM549.2 1182.5h2v2.4h-2zM556.7 1175h4v3.8h-4z" fill="#fff"/>
<path d="M561.9 1237L561.9 1142.9L564.5 1145.4L567.1 1142.9L569.7 1145.8L572.3 1152.8L574.9 1151.4L577.5 1154.2L580.1 1155.2L582.7 1154.8L585.2 1160.8L587.8 1163.7L590.4 1175.5L593 1179.1L595.6 1183.2L598.2 1180.4L600.8 1186.4L603.4 1186.5L606 1187.5L608.6 1184.8L608.6 1237ZM570.5 1133.5l4 4l-4 4l-4 -4zM595 1173.5l4 4l-4 4l-4 -4zM602 1175l4 4l-4 4l-4 -4zM602 1173l4 4l-4 4l-4 -4zM597.5 1172.5l4 4l-4 4l-4 -4zM597.5 1175l4 4l-4 4l-4 -4zM584.5 1143.5l4 4l-4 4l-4 -4zM602.5 1180.5l4 4l-4 4l-4 -4zM587.5 1152.5l4 4l-4 4l-4 -4zM572 1145l4 4l-4 4l-4 -4zM581.5 1135.5l4 4l-4 4l-4 -4zM595 1165.5l4 4l-4 4l-4 -4zM591 1166.5l4 4l-4 4l-4 -4zM592 1162l4 4l-4 4l-4 -4zM596 1175l4 4l-4 4l-4 -4zM594.5 1165.5l4 4l-4 4l-4 -4zM595.5 1173.5l4 4l-4 4l-4 -4zM574.5 1141l4 4l-4 4l-4 -4zM584 1132.5l4 4l-4 4l-4 -4zM604.5 1180l4 4l-4 4l-4 -4zM578.5 1140l4 4l-4 4l-4 -4zM584 1131l4 4l-4 4l-4 -4zM586.5 1142l4 4l-4 4l-4 -4zM581.5 1126.5l4 4l-4 4l-4 -4zM567 1136l4 4l-4 4l-4 -4zM592.5 1161.5l4 4l-4 4l-4 -4zM575.5 1139.5l4 4l-4 4l-4 -4zM600.5 1179l4 4l-4 4l-4 -4zM568.5 1136l4 4l-4 4l-4 -4zM565.5 1128l4 4l-4 4l-4 -4zM577 1138.5l4 4l-4 4l-4 -4zM585 1122.5l4 4l-4 4l-4 -4zM595.5 1165.5l4 4l-4 4l-4 -4zM604.5 1171l4 4l-4 4l-4 -4zM566 1097.5l4 4l-4 4l-4 -4zM566 1104.5l4 4l-4 4l-4 -4zM567.5 1115l4 4l-4 4l-4 -4zM566 1122.5l4 4l-4 4l-4 -4zM586 1118l4 4l-4 4l-4 -4zM588 1128.5l4 4l-4 4l-4 -4zM594 1166l4 4l-4 4l-4 -4z" fill="#00c0c0"/>
<path d="M583.9 1162.1h2.1v2h-2.1zM604.9 1192.9h3v4.2h-3zM597.5 1182.9h1.9v3.1h-1.9zM578.8 1175.6h2.7v3.1h-2.7z" fill="#fff"/>
<path d="M608.6 1237L608.6 1199.3L611.1 1202.7L613.7 1203.3L616.2 1198.4L618.8 1197.1L621.3 1195.4L623.8 1189.2L626.4 1193.8L628.9 1189.2L631.5 1192.9L634 1194.2L636.5 1196.7L639.1 1199L641.6 1196.3L644.1 1196.5L646.7 1193.7L649.2 1194.9L651.8 1195.3L654.3 1196.3L654.3 1237ZM613.1 1191.6h7.7v3.9h-7.7zM643.6 1189.6h7.7v3.9h-7.7zM635.6 1192.1h7.7v3.9h-7.7zM609.1 1182.1h7.7v3.9h-7.7zM610.1 1186.6h7.7v3.9h-7.7zM642.6 1184.1h7.7v3.9h-7.7zM631.6 1183.1h7.7v3.9h-7.7zM623.1 1178.1h7.7v3.9h-7.7zM641.1 1172.6h7.7v3.9h-7.7zM616.1 1178.6h7.7v3.9h-7.7zM616.6 1170.6h7.7v3.9h-7.7zM645.6 1168.6h7.7v3.9h-7.7zM636.6 1177.6h7.7v3.9h-7.7zM630.6 1190.6h7.7v3.9h-7.7zM608.6 1196.1h7.7v3.9h-7.7zM628.1 1179.6h7.7v3.9h-7.7zM623.1 1175.6h7.7v3.9h-7.7zM643.6 1186.1h7.7v3.9h-7.7zM618.1 1166.6h7.7v3.9h-7.7zM625.1 1177.1h7.7v3.9h-7.7zM619.6 1186.1h7.7v3.9h-7.7zM637.6 1181.1h7.7v3.9h-7.7zM644.6 1184.6h7.7v3.9h-7.7zM645.6 1170.1h7.7v3.9h-7.7zM646.1 1179.6h7.7v3.9h-7.7zM645.6 1191.6h7.7v3.9h-7.7zM611.6 1193.1h7.7v3.9h-7.7zM646.6 1180.1h7.7v3.9h-7.7zM610.1 1198.1h7.7v3.9h-7.7zM627.1 1167.6h7.7v3.9h-7.7zM628.6 1174.6h7.7v3.9h-7.7zM635.6 1179.6h7.7v3.9h-7.7zM630.1 1179.6h7.7v3.9h-7.7zM633.6 1187.1h7.7v3.9h-7.7zM623.6 1179.6h7.7v3.9h-7.7zM645.6 1179.1h7.7v3.9h-7.7zM632.1 1188.6h7.7v3.9h-7.7zM611.6 1194.6h7.7v3.9h-7.7zM634.6 1187.6h7.7v3.9h-7.7zM639.6 1180.1h7.7v3.9h-7.7zM610.1 1184.6h7.7v3.9h-7.7zM636.1 1193.6h7.7v3.9h-7.7zM610.1 1178.1h7.7v3.9h-7.7zM622.1 1162.1h7.7v3.9h-7.7zM633.6 1178.1h7.7v3.9h-7.7zM644.6 1167.6h7.7v3.9h-7.7zM614.1 1152.1h7.7v3.9h-7.7zM620.6 1159.6h7.7v3.9h-7.7zM647.1 1161.1h7.7v3.9h-7.7zM643.6 1179.6h7.7v3.9h-7.7z" fill="#404040"/>
<path d="M619.1 1227.6h2.7v3.4h-2.7zM631.5 1202.4h3.6v4.1h-3.6zM632.3 1223.1h2.4v3.3h-2.4zM636.2 1201.4h2.9v3.4h-2.9zM619 1208h4.5v3.7h-4.5zM639 1203.2h2.3v2.4h-2.3zM636.3 1200.4h1.9v4.1h-1.9zM638 1207.8h2.2v3.2h-2.2zM644.5 1197.5h2.8v2h-2.8zM649 1200.2h2.2v3h-2.2zM623.5 1205.3h2.5v2.3h-2.5zM622.8 1193.2h2.6v3.5h-2.6zM611.4 1226.1h1.9v1.8h-1.9zM640.2 1198.4h3.1v2.4h-3.1zM616.8 1207.9h2.7v3.1h-2.7zM630.6 1204.2h3.9v3.7h-3.9zM650.6 1201.3h3.8v3.2h-3.8zM613.6 1205.4h2.2v4h-2.2zM629.5 1200.1h2.3v4.1h-2.3zM615.1 1210.1h3v3.8h-3zM631.1 1202.1h3.6v3.5h-3.6zM639.5 1216.9h3.3v2.7h-3.3zM615.2 1202.2h3.9v2.9h-3.9zM636.7 1213.7h2.9v2.8h-2.9zM627.1 1215.1h3.4v2h-3.4zM644.3 1204.8h3.3v3.4h-3.3zM629.8 1216.7h4v3.3h-4zM649.9 1202.3h2.9v4h-2.9zM646.7 1213.2h3.8v3.7h-3.8zM631.1 1205.8h2.8v2.7h-2.8zM623.7 1215h2.9v3.4h-2.9zM616.7 1201.8h2.2v3.1h-2.2zM610.1 1222.4h3.4v2.4h-3.4zM618.3 1207.4h1.9v2.5h-1.9zM643.9 1199.1h2.1v2h-2.1zM631.9 1204h3.1v4.2h-3.1zM609.9 1210.1h1.8v3.3h-1.8zM624.4 1198.9h1.9v4.4h-1.9zM622.1 1227.2h3.7v2.1h-3.7zM627.4 1215h2.7v2.1h-2.7zM647.2 1201.5h4.5v2.8h-4.5zM650.2 1201h2.7v1.9h-2.7zM634.8 1201.2h3.6v3.7h-3.6zM627 1192.2h2.1v2.5h-2.1zM635.6 1208h2.3v3h-2.3zM639.9 1196.4h2.6v2.4h-2.6z" fill="#fff"/>
<path d="M654.3 1237L654.3 1166.1L656.8 1166.9L659.4 1162.3L661.9 1160.3L664.5 1161.8L667 1159.7L669.6 1159.1L672.1 1156.9L674.7 1156L677.2 1155.2L679.8 1159.6L682.3 1160.4L684.9 1159.2L687.4 1159.6L687.4 1237ZM659.5 1146.5l3.5 -7h-7zM658 1160l3.5 -7h-7zM673.5 1146l3.5 -7h-7zM683.5 1152l3.5 -7h-7zM683.5 1161l3.5 -7h-7zM683.5 1162l3.5 -7h-7zM680 1136.5l3.5 -7h-7zM669 1158l3.5 -7h-7zM681.5 1157.5l3.5 -7h-7zM679 1148l3.5 -7h-7zM683 1149.5l3.5 -7h-7zM671.5 1156.5l3.5 -7h-7zM663.5 1147l3.5 -7h-7zM671 1157l3.5 -7h-7zM668 1159.5l3.5 -7h-7zM667.5 1155.5l3.5 -7h-7zM659 1158.5l3.5 -7h-7zM665 1160l3.5 -7h-7zM680.5 1138.5l3.5 -7h-7zM664 1154l3.5 -7h-7zM667.5 1152l3.5 -7h-7zM682 1145l3.5 -7h-7zM676 1153.5l3.5 -7h-7zM665 1150.5l3.5 -7h-7zM661.5 1155.5l3.5 -7h-7zM668 1153l3.5 -7h-7zM678.5 1147.5l3.5 -7h-7zM682 1154.5l3.5 -7h-7zM663.5 1162l3.5 -7h-7zM658.5 1146l3.5 -7h-7zM667 1146l3.5 -7h-7zM675.5 1135.5l3.5 -7h-7zM683 1135.5l3.5 -7h-7zM660 1127.5l3.5 -7h-7zM682.5 1127.5l3.5 -7h-7zM663.5 1134.5l3.5 -7h-7zM682.5 1134.5l3.5 -7h-7zM659 1147l3.5 -7h-7zM667 1147l3.5 -7h-7zM673.5 1143l3.5 -7h-7zM664.5 1163.5l3.5 -7h-7zM659 1172.5l3.5 -7h-7z" fill="#ff4040"/>
<path d="M675.6 1214.4h3.7v2.5h-3.7zM657.9 1167.3h2.9v2.3h-2.9zM676.7 1197.9h4.2v2.9h-4.2z" fill="#fff"/>
<path d="M687.4 1237L687.4 1157.6L690.1 1160.5L692.8 1159L695.5 1154L698.2 1147.7L700.9 1149.6L703.5 1147.2L706.2 1148.7L708.9 1153.2L711.6 1154.3L714.3 1152.4L717 1154.9L717 1237ZM699.6 1135.1h7.7v3.9h-7.7zM700.1 1144.1h7.7v3.9h-7.7zM697.1 1144.6h7.7v3.9h-7.7zM701.6 1134.6h7.7v3.9h-7.7zM696.1 1141.1h7.7v3.9h-7.7zM709.1 1145.6h7.7v3.9h-7.7zM703.1 1147.6h7.7v3.9h-7.7zM703.6 1144.1h7.7v3.9h-7.7zM702.1 1134.6h7.7v3.9h-7.7zM707.1 1146.1h7.7v3.9h-7.7zM706.1 1144.6h7.7v3.9h-7.7zM704.6 1140.1h7.7v3.9h-7.7zM707.6 1151.1h7.7v3.9h-7.7zM706.6 1149.6h7.7v3.9h-7.7zM699.6 1142.6h7.7v3.9h-7.7zM706.6 1137.1h7.7v3.9h-7.7zM696.1 1138.6h7.7v3.9h-7.7zM701.6 1147.1h7.7v3.9h-7.7zM703.1 1143.1h7.7v3.9h-7.7zM693.1 1147.1h7.7v3.9h-7.7zM687.6 1140.6h7.7v3.9h-7.7zM699.1 1130.1h7.7v3.9h-7.7zM708.1 1135.1h7.7v3.9h-7.7zM698.1 1082.6h7.7v3.9h-7.7zM708.1 1097.6h7.7v3.9h-7.7zM691.6 1122.1h7.7v3.9h-7.7zM708.6 1128.1h7.7v3.9h-7.7zM699.6 1131.6h7.7v3.9h-7.7zM706.1 1136.1h7.7v3.9h-7.7z" fill="#4040ff"/>
<path d="M690.7 1177.4h4.1v3.4h-4.1zM712.7 1164h3.4v2.8h-3.4zM697.1 1188.7h2.4v2.2h-2.4z" fill="#fff"/>
<path d="M717 1237L717 1193.8L719.6 1193.4L722.3 1189.5L724.9 1192.9L727.5 1191.3L730.2 1189.7L732.8 1187L735.4 1171.6L738 1166.9L740.7 1167.3L743.3 1181.4L745.9 1182.1L748.6 1183.5L751.2 1185.1L751.2 1237ZM726.5 1189.5l-7 -3.5v7zM729 1188.5l-7 -3.5v7zM728 1178.5l-7 -3.5v7zM733.5 1176.5l-7 -3.5v7zM730.5 1178l-7 -3.5v7zM747 1180.5l-7 -3.5v7zM734 1174l-7 -3.5v7zM740.5 1163.5l-7 -3.5v7zM750 1178.5l-7 -3.5v7zM740 1153.5l-7 -3.5v7zM739.5 1158.5l-7 -3.5v7zM734 1178l-7 -3.5v7zM739.5 1162l-7 -3.5v7zM733 1189.5l-7 -3.5v7zM725 1183.5l-7 -3.5v7zM724 1179l-7 -3.5v7zM743 1143.5l-7 -3.5v7zM734.5 1188.5l-7 -3.5v7zM739 1156l-7 -3.5v7zM747.5 1178.5l-7 -3.5v7zM733 1182l-7 -3.5v7zM726 1189.5l-7 -3.5v7zM725 1170l-7 -3.5v7zM737 1181l-7 -3.5v7zM739.5 1168l-7 -3.5v7zM744.5 1158l-7 -3.5v7zM734.5 1175l-7 -3.5v7zM741.5 1162.5l-7 -3.5v7zM725 1169.5l-7 -3.5v7zM733 1175l-7 -3.5v7zM742 1139.5l-7 -3.5v7zM750 1169.5l-7 -3.5v7zM721 1114.5l-7 -3.5v7zM745.5 1124l-7 -3.5v7zM747 1129l-7 -3.5v7zM737.5 1156.5l-7 -3.5v7zM721.5 1176l-7 -3.5v7z" fill="#40ff40"/>
<path d="M739.9 1191.8h4.2v3.1h-4.2zM725.2 1201.8h2v4.2h-2z" fill="#fff"/>
<path d="M751.2 1237L751.2 1185.1L753.7 1186.1L756.2 1184.8L758.7 1183.1L761.2 1186.3L763.8 1181.6L766.3 1177.8L768.8 1177.9L771.3 1177.3L773.8 1174.6L776.3 1176.8L778.8 1177.4L781.3 1178.4L783.8 1180L786.3 1183.2L788.9 1180.5L791.4 1185.5L793.9 1185.9L796.4 1187.7L798.9 1185L801.4 1183.4L801.4 1237ZM758.1 1164h3.9v7h-3.9zM790.1 1174h3.9v7h-3.9zM789.1 1175h3.9v7h-3.9zM791.6 1181.5h3.9v7h-3.9zM783.1 1175h3.9v7h-3.9zM779.6 1164h3.9v7h-3.9zM783.6 1178.5h3.9v7h-3.9zM771.1 1155.5h3.9v7h-3.9zM756.6 1176h3.9v7h-3.9zM770.1 1166.5h3.9v7h-3.9zM775.6 1168h3.9v7h-3.9zM760.1 1162h3.9v7h-3.9zM753.1 1165h3.9v7h-3.9zM762.1 1177.5h3.9v7h-3.9zM785.6 1172.5h3.9v7h-3.9zM756.6 1166h3.9v7h-3.9zM762.1 1176h3.9v7h-3.9zM793.6 1172h3.9v7h-3.9zM769.6 1168h3.9v7h-3.9zM766.6 1164.5h3.9v7h-3.9zM781.6 1167h3.9v7h-3.9zM772.1 1150.5h3.9v7h-3.9zM791.1 1167.5h3.9v7h-3.9zM776.6 1168h3.9v7h-3.9zM772.6 1157.5h3.9v7h-3.9zM768.1 1167h3.9v7h-3.9zM775.6 1171.5h3.9v7h-3.9zM777.1 1164.5h3.9v7h-3.9zM760.6 1165.5h3.9v7h-3.9zM777.1 1172.5h3.9v7h-3.9zM773.1 1171.5h3.9v7h-3.9zM763.1 1166h3.9v7h-3.9zM762.6 1167.5h3.9v7h-3.9zM786.1 1177.5h3.9v7h-3.9zM775.6 1170.5h3.9v7h-3.9zM781.1 1175h3.9v7h-3.9zM779.1 1167.5h3.9v7h-3.9zM753.1 1178.5h3.9v7h-3.9zM772.1 1164.5h3.9v7h-3.9zM772.1 1171h3.9v7h-3.9zM782.6 1171h3.9v7h-3.9zM755.6 1160.5h3.9v7h-3.9zM765.1 1160.5h3.9v7h-3.9zM775.1 1144.5h3.9v7h-3.9zM783.1 1160.5h3.9v7h-3.9zM795.6 1166h3.9v7h-3.9zM772.1 1110.5h3.9v7h-3.9zM791.6 1117.5h3.9v7h-3.9zM772.1 1124.5h3.9v7h-3.9zM791.6 1133h3.9v7h-3.9zM772.1 1142.5h3.9v7h-3.9zM754.1 1138h3.9v7h-3.9zM759.6 1147h3.9v7h-3.9zM781.1 1138h3.9v7h-3.9z" fill="#ffff40"/>
<path d="M760.4 1189.7h3.5v3.7h-3.5zM754.7 1193.9h3.2v3.7h-3.2zM759.1 1208h1.9v2.5h-1.9z" fill="#fff"/>
<path d="M801.4 1237L801.4 1173.1L803.9 1177.2L806.4 1174.5L808.9 1167.1L811.4 1154.7L813.9 1151.1L816.4 1147.3L818.9 1152.9L821.5 1159.2L824 1160.3L826.5 1165.7L829 1169.3L831.5 1174.4L834 1182.4L836.5 1178.2L839 1178.2L839 1237ZM815 1142l7 -3.5v7zM822 1160.5l7 -3.5v7zM818 1156.5l7 -3.5v7zM828.5 1163.5l7 -3.5v7zM804 1172l7 -3.5v7zM816 1151.5l7 -3.5v7zM818 1160.5l7 -3.5v7zM816 1151.5l7 -3.5v7zM819 1151.5l7 -3.5v7zM819.5 1159l7 -3.5v7zM828.5 1163l7 -3.5v7zM817 1145l7 -3.5v7zM824 1159.5l7 -3.5v7zM805 1169.5l7 -3.5v7zM818 1152l7 -3.5v7zM807 1156l7 -3.5v7zM813 1142l7 -3.5v7zM818.5 1153l7 -3.5v7zM806.5 1155l7 -3.5v7zM824.5 1155.5l7 -3.5v7zM826 1164.5l7 -3.5v7zM816.5 1152.5l7 -3.5v7zM830 1174l7 -3.5v7zM819.5 1158l7 -3.5v7zM830.5 1164.5l7 -3.5v7zM825.5 1156.5l7 -3.5v7zM820 1156l7 -3.5v7zM802 1158.5l7 -3.5v7zM812.5 1132l7 -3.5v7zM820.5 1148l7 -3.5v7zM831.5 1158.5l7 -3.5v7zM807 1105l7 -3.5v7zM818.5 1136.5l7 -3.5v7zM832 1146l7 -3.5v7zM833.5 1158.5l7 -3.5v7z" fill="#ff40ff"/>
<path d="M826.3 1204h3.7v3.7h-3.7zM813.3 1167h3v4.2h-3zM833.4 1194.1h4.3v3.6h-4.3z" fill="#fff"/>
<path d="M839 1237L839 1202.2L841.5 1203L844 1200.6L846.5 1203.2L849 1204.5L851.5 1202.6L854 1201.7L856.5 1203.6L859 1199.9L861.5 1201.6L864 1196.8L866.5 1182.5L869 1183.8L871.5 1177.5L874 1179.8L876.5 1184.4L879 1195.7L881.5 1201.1L884 1201L886.5 1199.7L889 1203.2L891.5 1199.8L891.5 1237ZM863 1178h7v7h-7zM876.5 1188h7v7h-7zM860 1181h7v7h-7zM866 1164h7v7h-7zM860 1190.5h7v7h-7zM844 1193.5h7v7h-7zM863.5 1167.5h7v7h-7zM842.5 1190h7v7h-7zM875 1173.5h7v7h-7zM844 1192h7v7h-7zM880.5 1187h7v7h-7zM868 1176h7v7h-7zM879 1186.5h7v7h-7zM845.5 1193.5h7v7h-7zM840 1186h7v7h-7zM852.5 1195.5h7v7h-7zM876.5 1185.5h7v7h-7zM857.5 1186.5h7v7h-7zM874 1173.5h7v7h-7zM881 1174h7v7h-7zM841 1187h7v7h-7zM855.5 1196.5h7v7h-7zM856.5 1196.5h7v7h-7zM871.5 1163.5h7v7h-7zM855 1189h7v7h-7zM880.5 1190.5h7v7h-7zM842.5 1190h7v7h-7zM857 1189.5h7v7h-7zM844 1195.5h7v7h-7zM872 1174.5h7v7h-7zM868 1167h7v7h-7zM868 1170h7v7h-7zM864 1177.5h7v7h-7zM869 1164h7v7h-7zM848.5 1193.5h7v7h-7zM864.5 1171.5h7v7h-7zM876.5 1178h7v7h-7zM878.5 1173h7v7h-7zM864 1164.5h7v7h-7zM881.5 1176h7v7h-7zM851 1194.5h7v7h-7zM853 1186.5h7v7h-7zM841.5 1189h7v7h-7zM839.5 1182h7v7h-7zM853 1176.5h7v7h-7zM866 1160.5h7v7h-7zM879.5 1171.5h7v7h-7zM865 1133h7v7h-7zM862 1142.5h7v7h-7zM839 1146h7v7h-7zM876.5 1159.5h7v7h-7zM880 1171.5h7v7h-7zM842.5 1197h7v7h-7zM839 1186h7v7h-7z" fill="#40ffff"/>
<path d="M874.6 1209.7h2v3.5h-2zM871.7 1197.9h2.5v4.2h-2.5zM865.1 1199.7h4v2.7h-4zM880.1 1207.7h2v1.8h-2zM871.7 1211.7h3.3v3.1h-3.3zM868.8 1203.5h2.8v3.6h-2.8zM860.2 1206.2h4.2v4.2h-4.2zM869.7 1186.5h3v2.6h-3zM872.3 1205.1h2.3v3.8h-2.3zM871.6 1188.7h4.3v2.1h-4.3zM874.5 1189.7h2.1v4.4h-2.1zM841.1 1203.7h4v3h-4zM840.4 1209.5h3.9v3h-3.9zM843.6 1208h3.4v2.3h-3.4zM853.3 1202.8h2.3v3.1h-2.3zM879.1 1206.1h3.6v3.6h-3.6zM881 1198.4h3.6v3.8h-3.6zM878.6 1201.3h3.7v3.4h-3.7zM868 1194.9h4.4v2h-4.4zM860.7 1209.2h2.5v2.4h-2.5zM848.7 1214.3h3.9v4h-3.9zM840.2 1206.1h4.2v2.5h-4.2zM862 1202.1h3v4.2h-3zM887.5 1209.8h3.5v4.4h-3.5zM884.7 1212.5h3.4v2.9h-3.4zM868 1186.9h2.8v1.8h-2.8zM874 1205.8h2.3v3.1h-2.3zM847.4 1205.1h1.8v2.2h-1.8zM846.9 1214.4h3.5v4.2h-3.5zM850.4 1207.4h3.6v2.5h-3.6zM848.4 1208.8h2.2v2.2h-2.2zM882.4 1209.2h3.1v1.9h-3.1zM877 1189.9h1.9v4.3h-1.9zM879.6 1197.2h1.8v2.7h-1.8zM865.9 1190.9h2.1v4.4h-2.1zM855.1 1202.1h2.7v3h-2.7zM856.9 1202.8h1.9v2.6h-1.9zM842.2 1214.6h3.9v4.4h-3.9zM856.5 1202.8h2.2v3.8h-2.2zM862.6 1206.6h3.1v1.9h-3.1zM879.1 1217.9h2.8v2.1h-2.8zM853.9 1213.9h3.3v2.7h-3.3zM850.9 1215.1h3.1v3.1h-3.1zM869.2 1209.1h2.5v2.7h-2.5zM856.3 1205.4h3.9v3.2h-3.9zM869.7 1186.3h3.8v4.4h-3.8zM855.7 1201.7h4.2v4.2h-4.2zM872.1 1202.6h3v4.4h-3zM852.9 1220.5h3.7v2.5h-3.7zM857.2 1215.8h3.7v4.1h-3.7zM874.4 1189.4h3.7v3h-3.7zM841.7 1218.9h2.6v1.9h-2.6zM880.7 1212.6h2.3v2.2h-2.3z" fill="#fff"/>
<path d="M92 856.2H899.5" stroke="#e4e4e4" stroke-width="2" fill="none"/>
<rect x="93" y="858.2" width="805.5" height="380.3" fill="none" stroke="#a8a8a8" stroke-width="1.5"/>
<path d="M93 858.7H898.5" stroke="#bdbdbd" stroke-width="2.5" fill="none"/>
<rect x="91.5" y="857.5" width="34.5" height="36" fill="none" stroke="#262626" stroke-width="2" rx="1.5"/>
<text x="108.8" y="881" class="bl">E</text>
<text x="75" y="867" class="tk">7</text>
<text x="75" y="917.2" class="tk">6</text>
<text x="75" y="970.8" class="tk">5</text>
<text x="75" y="1023.3" class="tk">4</text>
<text x="75" y="1077.6" class="tk">3</text>
<text x="75" y="1133.6" class="tk">2</text>
<text x="75" y="1185.4" class="tk">1</text>
<text x="75" y="1236.9" class="tk">0</text>
<rect x="1748" y="852" width="10" height="387" fill="#ececec"/>
<rect x="942.3" y="854.5" width="805.7" height="380" fill="#fff"/>
<path d="M943.3 1209.4H1747M943.3 1189.8H1747M943.3 1170.2H1747M943.3 1150.6H1747M943.3 1131H1747M943.3 1111.4H1747M943.3 1091.8H1747M943.3 1072.2H1747M943.3 1052.6H1747M943.3 1033H1747M943.3 1013.4H1747M943.3 993.8H1747M943.3 974.2H1747M943.3 954.6H1747M943.3 935H1747M943.3 915.4H1747M943.3 895.8H1747M943.3 876.2H1747M943.3 856.6H1747" stroke="#a8a8a8" stroke-width="1.3" stroke-dasharray="2 2" fill="none"/>
<path d="M947.4 1232L947.4 1130.9L950 1133.2L952.7 1125.1L955.3 1094.7L957.9 1081.5L960.5 1084.1L963.2 1087.9L965.8 1090.3L968.4 1095.9L971.1 1117.8L973.7 1123.4L976.3 1127.7L978.9 1144.6L981.6 1145.1L984.2 1147.7L984.2 1232ZM952 1081h7v7h-7zM961.5 1085.5h7v7h-7zM970 1117.5h7v7h-7zM971 1109h7v7h-7zM948.5 1108h7v7h-7zM948.5 1107h7v7h-7zM965.5 1076.5h7v7h-7zM956 1075h7v7h-7zM969.5 1106.5h7v7h-7zM957 1062.5h7v7h-7zM959.5 1085h7v7h-7zM975 1128h7v7h-7zM969.5 1102h7v7h-7zM956 1062h7v7h-7zM961 1076h7v7h-7zM954 1081h7v7h-7zM975 1135.5h7v7h-7zM955.5 1073h7v7h-7zM970 1114.5h7v7h-7zM971.5 1116h7v7h-7zM959.5 1080.5h7v7h-7zM965.5 1077.5h7v7h-7zM974 1127.5h7v7h-7zM975 1135h7v7h-7zM957 1068h7v7h-7zM958 1063.5h7v7h-7zM974.5 1123h7v7h-7zM969 1107h7v7h-7zM948 1108h7v7h-7zM955 1059h7v7h-7zM962 1068.5h7v7h-7zM969.5 1098h7v7h-7zM977 1127.5h7v7h-7zM959.5 974.5h7v7h-7zM959.5 1007h7v7h-7zM966 1014h7v7h-7zM960 1024.5h7v7h-7zM954 1051h7v7h-7zM970.5 1055h7v7h-7zM975 1061h7v7h-7zM951 1082.5h7v7h-7z" fill="#ff5252"/>
<path d="M957.9 1111.5h4.1v3.4h-4.1zM955.2 1159.3h3v2.5h-3zM957.5 1100.7h2v3.4h-2zM976.4 1150h3.1v2.5h-3.1zM958 1114.2h3.7v2.8h-3.7z" fill="#fff"/>
<path d="M984.2 1232L984.2 1143L986.8 1140.4L989.5 1135.7L992.1 1120.2L994.7 1071.2L997.4 1055.3L1000 1054.2L1002.7 1076L1005.3 1075.6L1007.9 1084.5L1010.6 1093.9L1013.2 1128.2L1015.8 1137.5L1018.5 1138.7L1021.1 1138.8L1021.1 1232Z" fill="#5252ff"/>
<path d="M999.5 1031.5h0M1010.5 1087.5h0M993.5 1078.5h0M997 1053.5h0M991 1100h0M995 1046.5h0M1014.5 1105.5h0M993.5 1073.5h0M1002.5 1052.5h0M1016.5 1112h0M996.5 1059h0M988.5 1117.5h0M1015.5 1135.5h0M1005.5 1048.5h0M992 1121h0M1009 1085h0M988 1118h0M991.5 1112h0M1003.5 1053.5h0M1002.5 1036.5h0M1017.5 1133h0M988 1129.5h0M1006 1050.5h0M1015 1104h0M991 1114h0M996 1059h0M1000 1041h0M1002.5 1042h0M1007 1077.5h0M1004 1052.5h0M1009.5 1087h0M990.5 1128.5h0M988.5 1133h0M997 1042h0M988 1139h0M1011.5 1055.5h0M1007 1036h0M1015 1118.5h0M1015 1134.5h0M996.5 1060h0M1006 1033h0M996.5 1057h0M1005 1072.5h0M1011 1058h0M998 1052.5h0M1009 1074.5h0M992.5 1110h0M1002 1041.5h0M1011 1083h0M990 1098h0M996 1040h0M1015.5 1137h0M1003 1069h0M1011.5 1063h0M989.5 1101.5h0M997.5 1026h0M1007 1033h0M1015.5 1111.5h0M1002.5 925h0M996 934h0M1002.5 947h0M1002 992h0M1002 1000.5h0M1002 1008.5h0M1002 1025h0M985.5 1073h0M984 1096.5h0M984 1111.5h0M1015 1105.5h0M1018 1137h0" stroke="#5252ff" stroke-width="7.6" stroke-linecap="round" fill="none"/>
<path d="M1002.9 1084.5h4v2.1h-4zM1007.7 1125.4h3.4v2.1h-3.4zM992.4 1169.8h2.1v3.1h-2.1zM993.8 1124.1h2.1v3.5h-2.1zM1011.5 1120.9h3.8v2.2h-3.8zM1003.3 1117.6h2.4v4.1h-2.4z" fill="#fff"/>
<path d="M1021.1 1232L1021.1 1138.1L1023.7 1139.9L1026.2 1143.3L1028.8 1141.3L1031.3 1150.2L1033.9 1150.9L1036.5 1151.7L1039 1154.8L1041.6 1173.3L1044.1 1179L1046.7 1178.5L1049.3 1182.7L1051.8 1180.8L1054.4 1180.4L1056.9 1182.3L1059.5 1178L1059.5 1232ZM1055 1168.5l3.5 7h-7zM1042.5 1170.5l3.5 7h-7zM1034.5 1131l3.5 7h-7zM1031.5 1145l3.5 7h-7zM1029.5 1118l3.5 7h-7zM1051 1175l3.5 7h-7zM1045 1164.5l3.5 7h-7zM1032 1133l3.5 7h-7zM1051.5 1158.5l3.5 7h-7zM1046 1169l3.5 7h-7zM1028.5 1111.5l3.5 7h-7zM1044 1166l3.5 7h-7zM1037.5 1141.5l3.5 7h-7zM1053 1174l3.5 7h-7zM1040.5 1162.5l3.5 7h-7zM1048 1166l3.5 7h-7zM1033 1133.5l3.5 7h-7zM1040.5 1153.5l3.5 7h-7zM1047 1174.5l3.5 7h-7zM1037.5 1139l3.5 7h-7zM1044 1172.5l3.5 7h-7zM1034.5 1145l3.5 7h-7zM1040 1153.5l3.5 7h-7zM1036.5 1143.5l3.5 7h-7zM1027 1127.5l3.5 7h-7zM1025 1112.5l3.5 7h-7zM1028 1125.5l3.5 7h-7zM1043.5 1173l3.5 7h-7zM1025.5 1131.5l3.5 7h-7zM1050 1176.5l3.5 7h-7zM1032.5 1144l3.5 7h-7zM1035 1127l3.5 7h-7zM1040.5 1151l3.5 7h-7zM1052.5 1174l3.5 7h-7zM1025.5 1132l3.5 7h-7zM1030.5 1127l3.5 7h-7zM1025.5 1115l3.5 7h-7zM1043.5 1163l3.5 7h-7zM1025 1108l3.5 7h-7zM1035.5 1127.5l3.5 7h-7zM1044.5 1157l3.5 7h-7zM1056 1147l3.5 7h-7zM1019.5 1058l3.5 7h-7zM1033 1066.5l3.5 7h-7zM1025.5 1075.5l3.5 7h-7zM1028.5 1083.5l3.5 7h-7zM1053.5 1089.5l3.5 7h-7zM1053.5 1149l3.5 7h-7z" fill="#52ff52"/>
<path d="M1032 1161.7h4.4v2.5h-4.4zM1037.3 1172.4h4v2.8h-4zM1024.2 1154.5h3.2v4h-3.2zM1037.7 1192.9h3.6v4.5h-3.6zM1050.6 1223.9h2.6v1.9h-2.6zM1048 1188.7h4.1v1.8h-4.1zM1048.9 1188.7h2v2.7h-2zM1033 1187.9h2.2v2.9h-2.2zM1042.8 1219.1h2.4v3.5h-2.4zM1051.3 1183.6h4.1v3.9h-4.1zM1043.9 1187.7h4.3v2h-4.3zM1054.3 1208.5h3.9v4.4h-3.9zM1023 1141.1h3.1v4.1h-3.1zM1025.6 1162.8h2.3v3.4h-2.3zM1050.5 1209.7h3.4v2.6h-3.4zM1022.8 1171.2h4.1v4h-4.1zM1050.1 1180.9h3.3v3h-3.3zM1036 1157.3h2.4v3.2h-2.4zM1035.5 1198.3h2.9v2.9h-2.9zM1031.7 1168.4h3.1v2.7h-3.1zM1038.7 1168.5h4.1v2.2h-4.1zM1029.2 1170.3h4.2v3.6h-4.2zM1032.2 1161.6h2.9v3.9h-2.9zM1022.3 1206.1h3.5v1.8h-3.5zM1048.2 1191h2.8v2.2h-2.8zM1022.1 1159.6h2.7v2.2h-2.7zM1043.5 1179.6h2.2v3.9h-2.2zM1046.7 1207.1h4.3v2.2h-4.3zM1048.5 1182.9h2.9v3.3h-2.9zM1046.3 1195.6h2v4.5h-2zM1056.4 1199.6h3.2v1.9h-3.2zM1037.4 1169.9h4.4v3.7h-4.4zM1035.5 1159.6h3.8v3.9h-3.8zM1023 1154.9h4v3.6h-4z" fill="#fff"/>
<path d="M1059.5 1232L1059.5 1120.8L1062.1 1121.6L1064.7 1123.9L1067.2 1116.7L1069.8 1106.2L1072.4 1101.6L1075 1104.2L1077.6 1104.9L1080.2 1110.8L1082.7 1109.1L1085.3 1111.1L1087.9 1111.6L1090.5 1113.2L1093.1 1117.3L1095.6 1121.3L1098.2 1121.4L1100.8 1121.9L1100.8 1232Z" fill="#ffff4f"/>
<path d="M1090.5 1118h0M1067 1079.5h0M1065 1117.5h0M1072.5 1104.5h0M1090.5 1089h0M1097 1117.5h0M1083.5 1103.5h0M1066.5 1090h0M1092 1101h0M1079 1080h0M1076 1075h0M1064 1106h0M1091 1118h0M1080 1089.5h0M1093.5 1088h0M1082 1106.5h0M1088 1070.5h0M1081.5 1101.5h0M1091 1072.5h0M1067.5 1096.5h0M1090.5 1107.5h0M1070.5 1061h0M1089 1113h0M1078 1096h0M1063.5 1120.5h0M1079.5 1083h0M1084.5 1108.5h0M1093.5 1113h0M1070.5 1098h0M1072 1096.5h0M1068 1074h0M1074.5 1060.5h0M1094 1080.5h0M1074.5 1099.5h0M1092.5 1082h0M1093 1095.5h0M1065.5 1082h0M1066 1115h0M1086.5 1081.5h0M1076 1072h0M1076 1083h0M1063 1099h0M1074.5 1081h0M1085.5 1079.5h0M1081.5 1084h0M1094 1096h0M1079.5 1061h0M1085 1093.5h0M1063 1118h0M1065.5 1097h0M1085.5 1097.5h0M1071.5 1096h0M1087.5 1105.5h0M1079 1061h0M1079 1087.5h0M1091 1089.5h0M1092.5 1073h0M1065 1117.5h0M1084.5 1099.5h0M1086 1107h0M1090.5 1109h0M1070 1094.5h0M1068.5 1084.5h0M1083.5 1081.5h0M1082.5 1100.5h0M1076.5 1074h0M1068.5 1107h0M1067.5 1106.5h0M1077.5 1096h0M1067.5 1075.5h0M1093 1114h0M1068 1115.5h0M1070.5 1071.5h0M1063.5 1112.5h0M1065.5 1120h0M1095 1096.5h0M1078 1096h0M1087.5 1085h0M1077.5 1067.5h0M1092.5 1112.5h0M1079 1098.5h0M1076 1093h0M1082 1072.5h0M1094 1108.5h0M1066 1099h0M1090.5 1116h0M1064 1117.5h0M1064.5 1062.5h0M1075.5 1052.5h0M1084 1062.5h0M1094.5 1072h0M1071.5 947h0M1086 977h0M1086 1000.5h0M1086 1008.5h0M1067 1020.5h0M1067 1026h0M1083 1039h0M1077 1045h0M1092 1045h0M1067 1041h0" stroke="#ffff4f" stroke-width="7.6" stroke-linecap="round" fill="none"/>
<path d="M1095.6 1141.1h1.8v3.4h-1.8zM1087.8 1181.7h3.1v3.8h-3.1zM1063.9 1140.8h2.2v3.4h-2.2zM1074 1129.8h4.1v4.4h-4.1zM1081 1130.6h2.4v2.4h-2.4zM1065.2 1135.6h3.7v2.5h-3.7z" fill="#fff"/>
<path d="M1100.8 1232L1100.8 1112.5L1103.5 1110.8L1106.1 1108.9L1108.8 1106.1L1111.4 1096.7L1114.1 1091.5L1116.7 1090.2L1119.4 1086.5L1122 1077.8L1124.7 1074.1L1127.3 1074.9L1130 1085.2L1132.6 1101.5L1135.3 1113.1L1137.9 1109.9L1140.6 1111.5L1140.6 1232ZM1115.7 1059.1h7.7v3.9h-7.7zM1114.2 1069.6h7.7v3.9h-7.7zM1106.7 1078.6h7.7v3.9h-7.7zM1132.7 1087.1h7.7v3.9h-7.7zM1130.7 1085.6h7.7v3.9h-7.7zM1103.2 1062.1h7.7v3.9h-7.7zM1105.7 1075.1h7.7v3.9h-7.7zM1124.2 1057.6h7.7v3.9h-7.7zM1118.2 1043.1h7.7v3.9h-7.7zM1103.2 1088.1h7.7v3.9h-7.7zM1115.7 1084.6h7.7v3.9h-7.7zM1104.2 1060.6h7.7v3.9h-7.7zM1117.7 1073.1h7.7v3.9h-7.7zM1129.2 1077.1h7.7v3.9h-7.7zM1124.7 1075.1h7.7v3.9h-7.7zM1107.2 1083.6h7.7v3.9h-7.7zM1108.2 1067.1h7.7v3.9h-7.7zM1129.2 1067.6h7.7v3.9h-7.7zM1116.2 1056.1h7.7v3.9h-7.7zM1118.7 1073.6h7.7v3.9h-7.7zM1118.2 1031.1h7.7v3.9h-7.7zM1104.2 1081.6h7.7v3.9h-7.7zM1122.2 1062.1h7.7v3.9h-7.7zM1119.2 1040.6h7.7v3.9h-7.7zM1103.7 1067.1h7.7v3.9h-7.7zM1103.2 1069.1h7.7v3.9h-7.7zM1115.7 1084.6h7.7v3.9h-7.7zM1109.7 1089.6h7.7v3.9h-7.7zM1121.2 1036.1h7.7v3.9h-7.7zM1131.7 1096.1h7.7v3.9h-7.7zM1127.2 1098.6h7.7v3.9h-7.7zM1129.7 1104.1h7.7v3.9h-7.7zM1101.2 1090.1h7.7v3.9h-7.7zM1131.2 1098.1h7.7v3.9h-7.7zM1118.7 1033.6h7.7v3.9h-7.7zM1112.2 1065.6h7.7v3.9h-7.7zM1105.7 1102.6h7.7v3.9h-7.7zM1110.2 1081.1h7.7v3.9h-7.7zM1116.2 1083.6h7.7v3.9h-7.7zM1118.2 1041.1h7.7v3.9h-7.7zM1105.2 1059.6h7.7v3.9h-7.7zM1130.7 1104.1h7.7v3.9h-7.7zM1122.2 1062.1h7.7v3.9h-7.7zM1124.2 1071.6h7.7v3.9h-7.7zM1112.7 1080.1h7.7v3.9h-7.7zM1129.2 1086.6h7.7v3.9h-7.7zM1127.2 1093.6h7.7v3.9h-7.7zM1107.7 1074.6h7.7v3.9h-7.7zM1117.7 1065.6h7.7v3.9h-7.7zM1131.2 1088.1h7.7v3.9h-7.7zM1118.2 1073.6h7.7v3.9h-7.7zM1110.7 1055.1h7.7v3.9h-7.7zM1121.7 1058.6h7.7v3.9h-7.7zM1128.7 1084.1h7.7v3.9h-7.7zM1104.7 1077.1h7.7v3.9h-7.7zM1130.2 1074.1h7.7v3.9h-7.7zM1107.2 1095.6h7.7v3.9h-7.7zM1132.7 1093.1h7.7v3.9h-7.7zM1120.2 1055.6h7.7v3.9h-7.7zM1111.7 1085.6h7.7v3.9h-7.7zM1122.7 1066.6h7.7v3.9h-7.7zM1132.7 1082.1h7.7v3.9h-7.7zM1118.7 1047.6h7.7v3.9h-7.7zM1115.2 1069.1h7.7v3.9h-7.7zM1108.2 1062.6h7.7v3.9h-7.7zM1124.7 1075.1h7.7v3.9h-7.7zM1129.7 1092.1h7.7v3.9h-7.7zM1129.2 1103.1h7.7v3.9h-7.7zM1124.2 1072.6h7.7v3.9h-7.7zM1112.7 1085.6h7.7v3.9h-7.7zM1124.7 1053.6h7.7v3.9h-7.7zM1119.7 1065.1h7.7v3.9h-7.7zM1103.2 1088.6h7.7v3.9h-7.7zM1104.7 1105.6h7.7v3.9h-7.7zM1126.7 1077.6h7.7v3.9h-7.7zM1100.7 1050.6h7.7v3.9h-7.7zM1110.7 1050.6h7.7v3.9h-7.7zM1123.2 1024.1h7.7v3.9h-7.7zM1131.2 1070.1h7.7v3.9h-7.7zM1100.7 964.6h7.7v3.9h-7.7zM1100.7 981.1h7.7v3.9h-7.7zM1100.7 986.1h7.7v3.9h-7.7zM1119.7 977.1h7.7v3.9h-7.7zM1119.7 993.1h7.7v3.9h-7.7zM1100.7 995.6h7.7v3.9h-7.7zM1100.7 1003.6h7.7v3.9h-7.7zM1100.7 1033.1h7.7v3.9h-7.7zM1100.7 1052.6h7.7v3.9h-7.7zM1135.2 1023.1h7.7v3.9h-7.7z" fill="#ff52ff"/>
<path d="M1126.7 1156.6h2.7v2.4h-2.7zM1126.4 1126h3.4v2.1h-3.4zM1133.5 1114.8h3.3v4.5h-3.3zM1134.3 1130.8h2.3v3.9h-2.3zM1111.6 1126.9h2.7v4.1h-2.7zM1126.6 1103.9h3.4v3.9h-3.4zM1111.6 1155.7h2.5v3.2h-2.5z" fill="#fff"/>
<path d="M1140.6 1232L1140.6 1133.6L1143.3 1133.9L1146 1133.9L1148.7 1133L1151.4 1131.1L1154.1 1132.1L1156.8 1128.6L1159.5 1135L1162.2 1147.5L1164.9 1147.7L1167.6 1152.8L1170.3 1152.4L1173 1148L1173 1232ZM1158 1133.5l3.5 -7h-7zM1168.5 1126.5l3.5 -7h-7zM1165 1150.5l3.5 -7h-7zM1168 1124.5l3.5 -7h-7zM1148.5 1132.5l3.5 -7h-7zM1163.5 1146l3.5 -7h-7zM1158.5 1127.5l3.5 -7h-7zM1151.5 1134l3.5 -7h-7zM1148 1129l3.5 -7h-7zM1146 1129l3.5 -7h-7zM1147 1107l3.5 -7h-7zM1153.5 1116l3.5 -7h-7zM1167 1149.5l3.5 -7h-7zM1150.5 1134.5l3.5 -7h-7zM1165 1126.5l3.5 -7h-7zM1164 1116l3.5 -7h-7zM1166.5 1128.5l3.5 -7h-7zM1151 1134l3.5 -7h-7zM1154.5 1126.5l3.5 -7h-7zM1160.5 1122.5l3.5 -7h-7zM1161.5 1128.5l3.5 -7h-7zM1152 1108.5l3.5 -7h-7zM1152 1134l3.5 -7h-7zM1161.5 1122l3.5 -7h-7zM1156.5 1126.5l3.5 -7h-7zM1161.5 1114l3.5 -7h-7zM1163.5 1132.5l3.5 -7h-7zM1148 1131l3.5 -7h-7zM1154.5 1112.5l3.5 -7h-7zM1167 1146.5l3.5 -7h-7zM1160.5 1125l3.5 -7h-7zM1163 1115.5l3.5 -7h-7zM1161.5 1123l3.5 -7h-7zM1154 1107l3.5 -7h-7zM1158.5 1135l3.5 -7h-7zM1152.5 1119.5l3.5 -7h-7zM1149 1132l3.5 -7h-7zM1167 1127.5l3.5 -7h-7zM1152.5 1133.5l3.5 -7h-7zM1157.5 1116l3.5 -7h-7zM1160 1123l3.5 -7h-7zM1167.5 1130.5l3.5 -7h-7zM1151 1109l3.5 -7h-7zM1155 1117l3.5 -7h-7zM1145 1105l3.5 -7h-7zM1155 1105l3.5 -7h-7zM1167.5 1115l3.5 -7h-7zM1162 1024.5l3.5 -7h-7zM1142 1048.5l3.5 -7h-7zM1157 1075.5l3.5 -7h-7zM1157.5 1087.5l3.5 -7h-7zM1142 1100l3.5 -7h-7zM1152.5 1100l3.5 -7h-7zM1158.5 1108l3.5 -7h-7z" fill="#52ffff"/>
<path d="M1148.1 1181.6h2.3v2.4h-2.3zM1153 1188.4h2.4v3.6h-2.4zM1163.8 1185.1h4.4v3h-4.4zM1162.1 1140.9h1.8v3.3h-1.8z" fill="#fff"/>
<path d="M1173 1232L1173 1138.4L1175.5 1138.2L1178 1140.8L1180.6 1139.7L1183.1 1131.7L1185.6 1119.8L1188.1 1114.1L1190.6 1114.5L1193.1 1118.3L1195.7 1125.4L1198.2 1129.9L1200.7 1133.7L1203.2 1131.4L1205.7 1136.4L1208.2 1139.9L1210.8 1140.6L1213.3 1142.7L1215.8 1139.4L1215.8 1232ZM1176.7 1082.1h7.7v3.9h-7.7zM1202.7 1125.1h7.7v3.9h-7.7zM1191.2 1087.1h7.7v3.9h-7.7zM1194.7 1096.1h7.7v3.9h-7.7zM1189.7 1110.1h7.7v3.9h-7.7zM1203.2 1104.6h7.7v3.9h-7.7zM1192.7 1095.1h7.7v3.9h-7.7zM1178.7 1083.1h7.7v3.9h-7.7zM1179.2 1129.6h7.7v3.9h-7.7zM1175.2 1100.1h7.7v3.9h-7.7zM1203.7 1114.1h7.7v3.9h-7.7zM1207.7 1099.6h7.7v3.9h-7.7zM1181.2 1116.6h7.7v3.9h-7.7zM1207.7 1125.6h7.7v3.9h-7.7zM1184.7 1075.1h7.7v3.9h-7.7zM1187.7 1088.1h7.7v3.9h-7.7zM1197.2 1127.6h7.7v3.9h-7.7zM1200.2 1094.6h7.7v3.9h-7.7zM1191.7 1108.1h7.7v3.9h-7.7zM1200.2 1109.1h7.7v3.9h-7.7zM1203.2 1127.6h7.7v3.9h-7.7zM1205.7 1135.1h7.7v3.9h-7.7zM1203.2 1112.1h7.7v3.9h-7.7zM1185.7 1078.1h7.7v3.9h-7.7zM1207.7 1107.1h7.7v3.9h-7.7zM1204.2 1130.6h7.7v3.9h-7.7zM1181.7 1105.6h7.7v3.9h-7.7zM1193.2 1117.1h7.7v3.9h-7.7zM1179.2 1090.1h7.7v3.9h-7.7zM1186.2 1106.6h7.7v3.9h-7.7zM1207.7 1109.1h7.7v3.9h-7.7zM1207.7 1102.1h7.7v3.9h-7.7zM1198.7 1105.6h7.7v3.9h-7.7zM1195.7 1101.6h7.7v3.9h-7.7zM1200.7 1112.6h7.7v3.9h-7.7zM1174.2 1114.1h7.7v3.9h-7.7zM1203.2 1136.6h7.7v3.9h-7.7zM1184.2 1080.1h7.7v3.9h-7.7zM1188.2 1096.6h7.7v3.9h-7.7zM1189.7 1100.6h7.7v3.9h-7.7zM1187.7 1090.1h7.7v3.9h-7.7zM1177.7 1128.6h7.7v3.9h-7.7zM1205.2 1115.6h7.7v3.9h-7.7zM1174.2 1114.6h7.7v3.9h-7.7zM1178.2 1120.6h7.7v3.9h-7.7zM1184.7 1095.6h7.7v3.9h-7.7zM1183.7 1103.6h7.7v3.9h-7.7zM1194.2 1099.1h7.7v3.9h-7.7zM1193.7 1125.6h7.7v3.9h-7.7zM1194.7 1106.1h7.7v3.9h-7.7zM1195.7 1123.1h7.7v3.9h-7.7zM1185.7 1093.6h7.7v3.9h-7.7zM1198.2 1119.6h7.7v3.9h-7.7zM1196.7 1098.1h7.7v3.9h-7.7zM1179.2 1108.6h7.7v3.9h-7.7zM1195.7 1125.1h7.7v3.9h-7.7zM1207.2 1127.1h7.7v3.9h-7.7zM1202.2 1117.1h7.7v3.9h-7.7zM1193.2 1098.1h7.7v3.9h-7.7zM1173.7 1126.6h7.7v3.9h-7.7zM1201.2 1125.1h7.7v3.9h-7.7zM1194.2 1110.6h7.7v3.9h-7.7zM1203.7 1127.6h7.7v3.9h-7.7zM1199.7 1110.6h7.7v3.9h-7.7zM1206.7 1124.6h7.7v3.9h-7.7zM1194.2 1122.1h7.7v3.9h-7.7zM1179.2 1125.6h7.7v3.9h-7.7zM1194.7 1120.1h7.7v3.9h-7.7zM1208.2 1127.6h7.7v3.9h-7.7zM1176.7 1106.6h7.7v3.9h-7.7zM1203.7 1134.1h7.7v3.9h-7.7zM1186.7 1084.1h7.7v3.9h-7.7zM1175.7 1133.1h7.7v3.9h-7.7zM1192.7 1091.1h7.7v3.9h-7.7zM1183.2 1099.6h7.7v3.9h-7.7zM1192.7 1124.1h7.7v3.9h-7.7zM1187.7 1112.1h7.7v3.9h-7.7zM1173.2 1080.1h7.7v3.9h-7.7zM1184.2 1070.1h7.7v3.9h-7.7zM1197.2 1090.1h7.7v3.9h-7.7zM1206.7 1099.6h7.7v3.9h-7.7zM1176.7 997.6h7.7v3.9h-7.7zM1203.2 1033.1h7.7v3.9h-7.7zM1175.2 1045.6h7.7v3.9h-7.7zM1188.2 1058.6h7.7v3.9h-7.7zM1198.7 1063.6h7.7v3.9h-7.7zM1172.2 1077.1h7.7v3.9h-7.7z" fill="#ffaaaa"/>
<path d="M1194.3 1123.6h3.8v1.8h-3.8zM1180.5 1162.2h3v3.3h-3zM1188 1123.9h3.2v3.2h-3.2zM1197.8 1168.5h2.3v2.6h-2.3zM1183.9 1141.7h2.2v4.2h-2.2zM1197.3 1168.8h4.1v2.7h-4.1zM1185.4 1123.8h3.4v3.9h-3.4zM1197.3 1131.8h3v2h-3zM1199.5 1176.7h4.1v2.6h-4.1zM1185.5 1134.6h2.5v1.9h-2.5zM1179.8 1195.9h2v4.5h-2zM1211.5 1141h2v4.3h-2zM1174.4 1153.1h4.2v3.7h-4.2zM1202.5 1213.3h2v2.6h-2zM1209.6 1146.8h2.7v2.5h-2.7zM1188.7 1161.9h4.2v4.3h-4.2zM1194.3 1201.7h1.9v4.4h-1.9zM1182.9 1147.2h2.2v3.2h-2.2zM1184.8 1132.3h1.8v2.1h-1.8zM1182.9 1147.8h2.5v2.1h-2.5zM1175.3 1153.5h2.3v2.6h-2.3zM1211.6 1174.6h3.9v4.3h-3.9zM1175.1 1159.7h2.9v2.8h-2.9zM1206.6 1184.1h4.3v3.3h-4.3zM1187.3 1199.7h2.7v3.4h-2.7zM1195.4 1162.4h2.5v4h-2.5zM1202.2 1215.9h4v3.6h-4zM1182 1138.4h3.2v3.2h-3.2zM1175.4 1145.1h2.2v2.7h-2.2zM1208.7 1140.2h4.4v4.3h-4.4zM1199.4 1160.3h3.7v2.3h-3.7zM1189.2 1113.6h2.1v4.5h-2.1zM1180.8 1183h2.7v4.2h-2.7zM1191 1178.3h3.6v2.1h-3.6zM1191.2 1117.7h3.1v2.3h-3.1zM1192.6 1128.7h2.4v3.2h-2.4zM1175 1170.9h4.3v3.1h-4.3zM1202.9 1141.1h3.5v3.1h-3.5zM1185.7 1124.2h3.2v2h-3.2zM1204.5 1139.7h3.9v4.1h-3.9zM1193.1 1138h3.6v2.1h-3.6zM1180.4 1174.2h3.1v3.2h-3.1zM1210.2 1158.4h3.6v2h-3.6zM1205.2 1166.4h3.1v2h-3.1zM1203.7 1147.4h2v3.4h-2zM1206.3 1154.2h4v2.9h-4zM1182.3 1184.9h4v2.5h-4zM1211 1160.6h3.3v2.8h-3.3zM1183.4 1176.2h3.8v2.4h-3.8zM1187.4 1137.6h3.4v4.1h-3.4zM1210.4 1146.5h2.5v3.7h-2.5zM1206.1 1167.5h2.9v2.2h-2.9zM1212 1171.5h2.3v3h-2.3zM1178.9 1164.1h2.5v4.4h-2.5zM1200 1138h2.2v3.2h-2.2zM1205.3 1150.4h3.4v3.1h-3.4zM1198.3 1131.6h4.3v4.3h-4.3z" fill="#fff"/>
<path d="M1215.8 1232L1215.8 1128.1L1218.3 1131.2L1220.8 1125.4L1223.3 1108.5L1225.8 1058.2L1228.3 1042.2L1230.8 1059.9L1233.3 1107L1235.8 1119.7L1238.3 1124.7L1240.8 1137.3L1243.3 1142L1245.8 1138L1248.3 1139.6L1248.3 1232ZM1230.5 1040.5l-7 -3.5v7zM1240 1118.5l-7 -3.5v7zM1231.5 1028.5l-7 -3.5v7zM1244.5 1135l-7 -3.5v7zM1228 1065l-7 -3.5v7zM1223 1128.5l-7 -3.5v7zM1239 1090.5l-7 -3.5v7zM1244 1126.5l-7 -3.5v7zM1238.5 1077l-7 -3.5v7zM1241 1112l-7 -3.5v7zM1236.5 1089l-7 -3.5v7zM1223.5 1086l-7 -3.5v7zM1230 1018l-7 -3.5v7zM1237.5 1081l-7 -3.5v7zM1241.5 1119.5l-7 -3.5v7zM1248 1117.5l-7 -3.5v7zM1237.5 1088.5l-7 -3.5v7zM1245.5 1129l-7 -3.5v7zM1231 1025l-7 -3.5v7zM1240 1120.5l-7 -3.5v7zM1235 1060l-7 -3.5v7zM1241.5 1117.5l-7 -3.5v7zM1223 1092l-7 -3.5v7zM1230 1044l-7 -3.5v7zM1244.5 1110.5l-7 -3.5v7zM1230.5 1046.5l-7 -3.5v7zM1238.5 1108.5l-7 -3.5v7zM1228 1054.5l-7 -3.5v7zM1226 1098l-7 -3.5v7zM1235 1058.5l-7 -3.5v7zM1237.5 1077l-7 -3.5v7zM1237.5 1079l-7 -3.5v7zM1243 1098l-7 -3.5v7zM1227.5 1041l-7 -3.5v7zM1238.5 1115.5l-7 -3.5v7zM1230.5 1022l-7 -3.5v7zM1223.5 1127l-7 -3.5v7zM1245.5 1099.5l-7 -3.5v7zM1239 1084l-7 -3.5v7zM1247.5 1121l-7 -3.5v7zM1228.5 1062.5l-7 -3.5v7zM1242 1087l-7 -3.5v7zM1238 1110l-7 -3.5v7zM1248 1118l-7 -3.5v7zM1246.5 1135.5l-7 -3.5v7zM1237 1104l-7 -3.5v7zM1245 1122.5l-7 -3.5v7zM1247.5 1121l-7 -3.5v7zM1246.5 1111.5l-7 -3.5v7zM1243 1126l-7 -3.5v7zM1227.5 1037l-7 -3.5v7zM1237.5 1087l-7 -3.5v7zM1235.5 1031l-7 -3.5v7zM1223.5 1089l-7 -3.5v7zM1243 1107.5l-7 -3.5v7zM1223 1082l-7 -3.5v7zM1232 1003.5l-7 -3.5v7zM1240 1082l-7 -3.5v7zM1247.5 1101.5l-7 -3.5v7zM1233.5 973l-7 -3.5v7zM1233.5 1005.5l-7 -3.5v7zM1233.5 1016.5l-7 -3.5v7zM1233.5 1023l-7 -3.5v7zM1233.5 1035l-7 -3.5v7zM1233.5 1045l-7 -3.5v7zM1233.5 1052.5l-7 -3.5v7zM1233.5 1058.5l-7 -3.5v7zM1233.5 1070l-7 -3.5v7zM1221 1081l-7 -3.5v7zM1249 1096.5l-7 -3.5v7z" fill="#808080"/>
<path d="M1236.9 1129.2h3.9v2.7h-3.9zM1235.4 1139.3h2.9v3.8h-2.9zM1221.8 1175h2.8v2.9h-2.8zM1228.7 1049.8h4.2v4.1h-4.2zM1230.4 1077.7h2v1.9h-2z" fill="#fff"/>
<path d="M1248.3 1232L1248.3 1130.3L1250.9 1131L1253.5 1132.8L1256.1 1126.4L1258.7 1121.9L1261.3 1118.5L1263.9 1125.4L1266.6 1127.1L1269.2 1129L1271.8 1132.4L1274.4 1139.3L1277 1138.8L1279.6 1140.3L1282.2 1141L1282.2 1232ZM1250.1 1094h3.9v7h-3.9zM1264.6 1123h3.9v7h-3.9zM1267.1 1101h3.9v7h-3.9zM1259.6 1099.5h3.9v7h-3.9zM1250.1 1122.5h3.9v7h-3.9zM1256.1 1113.5h3.9v7h-3.9zM1251.1 1106.5h3.9v7h-3.9zM1271.1 1129.5h3.9v7h-3.9zM1253.1 1090.5h3.9v7h-3.9zM1262.6 1110h3.9v7h-3.9zM1256.1 1114.5h3.9v7h-3.9zM1268.1 1123h3.9v7h-3.9zM1262.1 1102.5h3.9v7h-3.9zM1254.1 1104.5h3.9v7h-3.9zM1255.6 1111h3.9v7h-3.9zM1260.6 1111h3.9v7h-3.9zM1257.1 1106h3.9v7h-3.9zM1261.1 1099h3.9v7h-3.9zM1253.1 1124.5h3.9v7h-3.9zM1254.6 1110h3.9v7h-3.9zM1250.6 1105h3.9v7h-3.9zM1254.1 1121h3.9v7h-3.9zM1252.1 1126.5h3.9v7h-3.9zM1252.1 1110.5h3.9v7h-3.9zM1253.1 1101h3.9v7h-3.9zM1262.6 1097h3.9v7h-3.9zM1266.6 1099h3.9v7h-3.9zM1270.1 1104.5h3.9v7h-3.9zM1272.1 1097h3.9v7h-3.9zM1265.1 1121h3.9v7h-3.9zM1262.1 1103h3.9v7h-3.9zM1264.6 1124h3.9v7h-3.9zM1268.1 1127.5h3.9v7h-3.9zM1255.6 1097.5h3.9v7h-3.9zM1254.6 1109h3.9v7h-3.9zM1270.6 1097.5h3.9v7h-3.9zM1258.1 1104.5h3.9v7h-3.9zM1267.6 1117h3.9v7h-3.9zM1275.1 1134.5h3.9v7h-3.9zM1263.6 1114.5h3.9v7h-3.9zM1256.6 1116.5h3.9v7h-3.9zM1251.6 1124h3.9v7h-3.9zM1260.1 1109.5h3.9v7h-3.9zM1250.1 1103h3.9v7h-3.9zM1257.1 1081.5h3.9v7h-3.9zM1274.6 1126h3.9v7h-3.9zM1269.1 1119h3.9v7h-3.9zM1260.6 1110h3.9v7h-3.9zM1253.6 1125h3.9v7h-3.9zM1271.6 1130h3.9v7h-3.9zM1271.1 1125.5h3.9v7h-3.9zM1276.6 1133h3.9v7h-3.9zM1266.6 1091.5h3.9v7h-3.9zM1272.6 1115h3.9v7h-3.9zM1251.1 1088.5h3.9v7h-3.9zM1259.1 1078.5h3.9v7h-3.9zM1267.6 1088.5h3.9v7h-3.9zM1275.6 1098h3.9v7h-3.9zM1270.1 1025.5h3.9v7h-3.9zM1270.1 1039.5h3.9v7h-3.9zM1274.6 1049h3.9v7h-3.9zM1275.6 1057h3.9v7h-3.9zM1265.6 1074.5h3.9v7h-3.9zM1258.1 1077.5h3.9v7h-3.9z" fill="#c00000"/>
<path d="M1261.7 1206.3h3.2v4.1h-3.2zM1268.2 1132.1h3.1v2h-3.1zM1260.6 1145.8h4.3v3.1h-4.3zM1261.5 1156.5h3.9v2.8h-3.9zM1270.6 1159h4.2v4.4h-4.2zM1254.8 1156.8h3.2v3.6h-3.2zM1256.1 1166.1h3.6v3h-3.6zM1269.7 1201.8h2.9v4.3h-2.9zM1277.3 1155.2h3.3v2.8h-3.3zM1268.7 1164.5h1.9v4.2h-1.9zM1278.5 1150.2h2.8v1.8h-2.8zM1276.9 1207h3.1v2.9h-3.1zM1266.8 1194.9h2.1v2.7h-2.1zM1274.4 1146.4h3.1v1.9h-3.1zM1279.2 1184.1h2.5v2.3h-2.5zM1262.5 1190.7h2.2v2h-2.2zM1254.7 1198.8h4.4v3.4h-4.4zM1258.9 1138.8h2.1v3.8h-2.1zM1277.9 1151.2h2.8v2.3h-2.8zM1264.8 1187.9h3.7v3.9h-3.7zM1249.3 1201.1h2.4v3.8h-2.4zM1274.9 1214.1h3v3.9h-3zM1272.7 1161.3h3.3v4.4h-3.3zM1249.9 1182.2h4.2v2.3h-4.2zM1255.7 1167.3h4.5v3.2h-4.5zM1253.9 1209h3.3v2.8h-3.3zM1260.9 1158.9h2.3v2.6h-2.3zM1273 1141.7h3.8v2.8h-3.8zM1264.9 1187h2.9v2.7h-2.9zM1263.8 1167.9h1.8v3.3h-1.8zM1253.4 1184.3h2.6v4.3h-2.6zM1256.8 1124.5h2.1v1.8h-2.1zM1261.6 1152.5h2.4v2h-2.4zM1271.2 1171h4.1v4.2h-4.1zM1276.4 1145.4h3.3v2.8h-3.3zM1251 1132.8h4.1v3.9h-4.1zM1250.8 1145.9h3.6v3.7h-3.6zM1256.2 1129.1h4.4v4.2h-4.4zM1265.9 1155.1h2.1v3.2h-2.1zM1258.9 1125.1h3.2v4.4h-3.2zM1263.1 1131.9h2v3.2h-2zM1270.4 1138.4h3.7v4.3h-3.7zM1253.4 1168.7h4v2.3h-4zM1256.8 1147.4h2.8v4h-2.8zM1256.5 1186.4h4.1v1.8h-4.1zM1254.7 1134.6h1.9v3.9h-1.9zM1266.5 1153.4h3.4v2.4h-3.4zM1252.5 1135h3.5v2.3h-3.5zM1263 1143.9h1.8v3.1h-1.8zM1249.7 1137.8h3.1v4.5h-3.1zM1262.8 1159.4h2.6v4.2h-2.6zM1253.6 1137.4h4.2v3.5h-4.2zM1277.2 1164.9h4.3v2h-4.3zM1270.5 1206.6h2.2v3.4h-2.2zM1274.9 1158.9h4.2v2h-4.2zM1275 1140.1h2.1v3h-2.1zM1251.1 1177.2h4.1v3.5h-4.1zM1257.2 1133.3h2.8v3.1h-2.8zM1277.4 1151.4h4v3.3h-4zM1266.7 1133.2h3.3v2.8h-3.3zM1263.7 1123.2h2v3.4h-2zM1268.1 1156.6h2.9v4.4h-2.9zM1275 1145.4h3.8v4.4h-3.8zM1254.3 1209.7h2.6v3.9h-2.6zM1272.2 1152.1h2.3v3.1h-2.3zM1257.7 1172.2h4.1v2.3h-4.1zM1274.3 1154.2h1.9v3.4h-1.9zM1250.3 1190.7h2.3v2.7h-2.3zM1251.2 1169.1h2.7v3.6h-2.7zM1272.7 1159.6h4.4v3.4h-4.4zM1263.2 1164.8h3v2.8h-3zM1264.2 1125.3h3v4h-3zM1259.6 1151.3h2.3v4.2h-2.3zM1266.9 1150.7h1.9v4.5h-1.9zM1275.5 1159.7h2.8v2.8h-2.8zM1263.1 1136.9h2.8v2.8h-2.8zM1273.6 1142.5h2.3v4.1h-2.3zM1258 1126.9h4.1v2.8h-4.1zM1251 1151.2h3.8v2h-3.8zM1277.9 1149.8h4.4v3h-4.4zM1251 1196.4h3.1v2.1h-3.1zM1257.8 1159.7h4.1v2.8h-4.1zM1268.2 1184.5h4.2v2.7h-4.2zM1279 1148.1h4.3v4.3h-4.3zM1268.9 1156.8h2v2.8h-2zM1252.8 1138h3.6v3.4h-3.6zM1272.5 1142.1h4.1v2.7h-4.1zM1256 1136.7h3.1v2.9h-3.1zM1251.7 1142.4h2.2v3.1h-2.2zM1260.2 1180.8h3.8v3.1h-3.8z" fill="#fff"/>
<path d="M1282.2 1232L1282.2 1121.8L1284.8 1120.3L1287.3 1121.6L1289.9 1118.1L1292.4 1114L1295 1111.8L1297.5 1112.2L1300.1 1113.7L1302.6 1110.4L1305.2 1113.2L1307.7 1112.8L1310.3 1108.4L1312.8 1111.3L1315.4 1111L1317.9 1112.9L1320.5 1113.6L1320.5 1232ZM1309.5 1079l7 -3.5v7zM1306.5 1087l7 -3.5v7zM1298 1103l7 -3.5v7zM1286 1090.5l7 -3.5v7zM1294.5 1111.5l7 -3.5v7zM1307 1072.5l7 -3.5v7zM1297.5 1110.5l7 -3.5v7zM1295.5 1094l7 -3.5v7zM1306.5 1108.5l7 -3.5v7zM1303 1097.5l7 -3.5v7zM1283 1100l7 -3.5v7zM1289.5 1110l7 -3.5v7zM1309.5 1096.5l7 -3.5v7zM1310.5 1086.5l7 -3.5v7zM1282.5 1120l7 -3.5v7zM1310 1086.5l7 -3.5v7zM1287.5 1109.5l7 -3.5v7zM1307 1107l7 -3.5v7zM1300.5 1092.5l7 -3.5v7zM1313 1102.5l7 -3.5v7zM1300.5 1110l7 -3.5v7zM1290 1082l7 -3.5v7zM1302.5 1066.5l7 -3.5v7zM1310 1107.5l7 -3.5v7zM1301 1099.5l7 -3.5v7zM1298 1085.5l7 -3.5v7zM1306 1092l7 -3.5v7zM1292 1093l7 -3.5v7zM1287.5 1104.5l7 -3.5v7zM1308 1078.5l7 -3.5v7zM1312.5 1102l7 -3.5v7zM1283 1098.5l7 -3.5v7zM1291 1092.5l7 -3.5v7zM1288 1104.5l7 -3.5v7zM1306.5 1090.5l7 -3.5v7zM1306 1082l7 -3.5v7zM1288.5 1079.5l7 -3.5v7zM1305.5 1111l7 -3.5v7zM1304.5 1106l7 -3.5v7zM1283.5 1102.5l7 -3.5v7zM1297 1075.5l7 -3.5v7zM1299.5 1072.5l7 -3.5v7zM1282.5 1105l7 -3.5v7zM1303.5 1107l7 -3.5v7zM1292 1102l7 -3.5v7zM1309.5 1084l7 -3.5v7zM1293.5 1085l7 -3.5v7zM1313 1092.5l7 -3.5v7zM1286 1105l7 -3.5v7zM1285 1116.5l7 -3.5v7zM1289.5 1090l7 -3.5v7zM1299 1085.5l7 -3.5v7zM1293 1108.5l7 -3.5v7zM1294 1093l7 -3.5v7zM1291.5 1086l7 -3.5v7zM1297.5 1096.5l7 -3.5v7zM1299 1067.5l7 -3.5v7zM1283 1092l7 -3.5v7zM1294 1072l7 -3.5v7zM1302 1062.5l7 -3.5v7zM1313 1082l7 -3.5v7zM1295.5 956.5l7 -3.5v7zM1295.5 966.5l7 -3.5v7zM1297 1020.5l7 -3.5v7zM1296.5 1029l7 -3.5v7zM1292 1036l7 -3.5v7zM1298 1045l7 -3.5v7zM1289 1062.5l7 -3.5v7zM1292 1073l7 -3.5v7zM1304 1076l7 -3.5v7zM1304 1088l7 -3.5v7z" fill="#0000c0"/>
<path d="M1290.2 1174.9h3.8v1.9h-3.8zM1288 1131.3h3.6v4.2h-3.6zM1284.5 1209h1.8v2.4h-1.8zM1291 1129.2h3.6v4.4h-3.6zM1297.9 1129.6h2.6v3h-2.6zM1301.1 1188.7h3v3.3h-3z" fill="#fff"/>
<path d="M1320.5 1232L1320.5 1079.2L1323.1 1082.9L1325.7 1082.7L1328.4 1077.4L1331 1071.1L1333.6 1073.5L1336.2 1091.8L1338.9 1101.2L1341.5 1100.4L1344.1 1102.2L1344.1 1232ZM1329 1068.5h7v7h-7zM1329 1068h7v7h-7zM1323 1071h7v7h-7zM1332 1060h7v7h-7zM1332 1064h7v7h-7zM1332 1070h7v7h-7zM1326 1037.5h7v7h-7zM1327.5 1029.5h7v7h-7zM1335.5 1092.5h7v7h-7zM1324 1037.5h7v7h-7zM1330 1069.5h7v7h-7zM1324.5 1076h7v7h-7zM1324 1044.5h7v7h-7zM1332.5 1048h7v7h-7zM1335 1089.5h7v7h-7zM1331 1039.5h7v7h-7zM1330 1048.5h7v7h-7zM1328.5 1056.5h7v7h-7zM1326.5 1069.5h7v7h-7zM1325.5 1037h7v7h-7zM1333.5 1062.5h7v7h-7zM1327.5 1055h7v7h-7zM1336 1086.5h7v7h-7zM1327.5 1070h7v7h-7zM1333.5 1064h7v7h-7zM1326 1031.5h7v7h-7zM1324 1046.5h7v7h-7zM1326 1068h7v7h-7zM1323.5 1065.5h7v7h-7zM1322.5 1076.5h7v7h-7zM1327 1066.5h7v7h-7zM1327.5 1032h7v7h-7zM1335.5 1087h7v7h-7zM1329 1053.5h7v7h-7zM1321.5 1061.5h7v7h-7zM1324 1057h7v7h-7zM1326 1043h7v7h-7zM1325.5 1058h7v7h-7zM1337 1084.5h7v7h-7zM1331.5 1050.5h7v7h-7zM1321 1034h7v7h-7zM1322.5 1061h7v7h-7zM1325 1068.5h7v7h-7zM1321 1071h7v7h-7zM1330.5 1050.5h7v7h-7zM1321.5 1054.5h7v7h-7zM1327 1069h7v7h-7zM1321 1010h7v7h-7zM1328.5 1029.5h7v7h-7zM1336.5 1059h7v7h-7zM1321.5 1008h7v7h-7zM1327.5 1014h7v7h-7zM1337.5 1046h7v7h-7zM1337.5 1058h7v7h-7z" fill="#00c000"/>
<path d="M1329.3 1177.3h2.2v2.1h-2.2zM1329.8 1097.2h2.1v2.4h-2.1zM1334 1103h4.2v2.8h-4.2zM1322.9 1111.3h3.4v1.9h-3.4z" fill="#fff"/>
<path d="M1345 1232L1345 1188.7L1347.7 1189.2L1350.4 1189.1L1353.1 1186.6L1355.8 1177.1L1358.5 1159.3L1361.2 1158.3L1363.9 1160.9L1366.6 1184.4L1369.3 1195.6L1372 1200.9L1374.7 1200L1377.4 1201.3L1377.4 1232Z" fill="#c0c000"/>
<path d="M1362.5 1156h0M1353.5 1151h0M1360.5 1139.5h0M1355.5 1148.5h0M1350.5 1158h0M1369.5 1157h0M1355 1180.5h0M1360.5 1130h0M1371.5 1188h0M1366.5 1173.5h0M1349.5 1177.5h0M1350.5 1171.5h0M1354.5 1179.5h0M1369.5 1183h0M1365.5 1165.5h0M1356.5 1127h0M1358.5 1136h0M1366.5 1138.5h0M1352.5 1185h0M1357.5 1149.5h0M1358 1135h0M1371.5 1177h0M1350.5 1189h0M1365 1154.5h0M1365 1162h0M1372 1182.5h0M1356 1161h0M1369 1158.5h0M1359 1115h0M1349 1148.5h0M1372.5 1195h0M1373 1199.5h0M1365 1124.5h0M1369.5 1191.5h0M1349 1170.5h0M1367.5 1147h0M1360 1129h0M1369.5 1187.5h0M1367.5 1176h0M1372.5 1178h0M1372.5 1156.5h0M1350.5 1178h0M1356.5 1161h0M1370 1184.5h0M1362 1141.5h0M1349 1163.5h0M1356.5 1132h0M1350.5 1163h0M1356.5 1123.5h0M1352.5 1151h0M1353 1174.5h0M1360 1150h0M1349 1184.5h0M1349 1134h0M1359 1127.5h0M1364 1162.5h0M1367 1164.5h0M1364.5 1146h0M1373 1172.5h0M1363 1156h0M1363.5 1117.5h0M1357 1162h0M1358 1133.5h0M1364 1140h0M1372.5 1174h0M1372 1159h0M1360.5 1139h0M1352 1131h0M1360.5 1111.5h0M1372 1150.5h0M1364 995h0M1364 1015.5h0M1357 1057.5h0M1361 1072h0M1346.5 1091h0M1375 1090h0M1379 1102.5h0M1361 1111.5h0" stroke="#c0c000" stroke-width="7.6" stroke-linecap="round" fill="none"/>
<path d="M1367.8 1200.2h3.4v4.2h-3.4zM1347.9 1190.8h2.5v4.1h-2.5zM1363.5 1164.2h4.1v2.4h-4.1zM1354 1215.3h2.8v2.3h-2.8zM1358.8 1210.7h3.5v2.1h-3.5zM1359.4 1178.2h2.3v1.8h-2.3zM1351.1 1190.6h2.9v2.3h-2.9zM1355.6 1186.6h3.1v3.2h-3.1zM1360.8 1195.2h2.9v2.8h-2.9zM1367.2 1206.6h3.8v2.6h-3.8zM1373.9 1207.5h1.9v4h-1.9zM1359 1192.9h2.2v4h-2.2zM1369.1 1200.8h4.3v4.3h-4.3zM1368 1192.4h3.5v4.4h-3.5zM1351.2 1206.2h3.7v2h-3.7zM1349.9 1199.8h2.2v2.9h-2.2zM1369.9 1200.5h2v4.3h-2zM1368 1202.5h4.3v3.2h-4.3zM1371.1 1200.2h3.7v3.7h-3.7zM1362.9 1172h3.1v3.1h-3.1zM1353.2 1192.2h3.1v3.5h-3.1zM1355.3 1193.4h4.4v3.1h-4.4zM1362.7 1172.9h4.1v2.8h-4.1zM1373 1206.5h3v2h-3zM1367.3 1194.7h1.9v3.9h-1.9zM1354.3 1188.2h1.9v4.4h-1.9zM1369.5 1205.3h3.4v4.3h-3.4zM1354.6 1197.8h3.5v2.4h-3.5zM1370 1202.3h3.4v3.3h-3.4zM1372.8 1210.8h3.2v2.5h-3.2zM1365.9 1174.8h4.3v3.8h-4.3zM1371.9 1202.3h3.7v3.9h-3.7zM1367.9 1191.8h2.9v4h-2.9zM1364.6 1169.7h2.1v4.5h-2.1zM1369.5 1200.1h4.2v3.1h-4.2zM1349.4 1191.6h4v3.7h-4zM1374.4 1218.4h2.5v3.6h-2.5zM1362.9 1179.2h3v4h-3zM1360.9 1160.9h2v2.1h-2zM1358.8 1168.2h2.3v2.2h-2.3zM1366.7 1206.3h3.3v2h-3.3zM1359.1 1164.2h3.5v3.1h-3.5zM1369.8 1195.3h2.4v2.7h-2.4zM1363.2 1161.4h1.9v4.3h-1.9zM1366.8 1201.3h2.4v2.8h-2.4zM1373.1 1200.2h2.5v3.5h-2.5zM1354 1199.7h3v4.1h-3zM1360.1 1160.8h1.8v2.4h-1.8zM1357.4 1167.1h3.1v2.6h-3.1zM1355 1190.3h3.3v2.6h-3.3zM1368.9 1194.8h4.2v4.3h-4.2zM1349.7 1189.8h2.7v3.6h-2.7zM1350.4 1206.3h2.4v2.5h-2.4zM1346.6 1194.4h3v1.8h-3zM1368.7 1215h4.2v3.6h-4.2z" fill="#fff"/>
<path d="M1377.4 1232L1377.4 1114.1L1380 1111.2L1382.6 1112.3L1385.2 1107.1L1387.9 1101.1L1390.5 1101.4L1393.1 1103L1395.7 1104.5L1398.3 1104.5L1400.9 1101.9L1403.6 1108.4L1406.2 1109.9L1408.8 1112.4L1411.4 1113.3L1411.4 1232ZM1406.5 1097.5l3.5 7h-7zM1401.5 1093.5l3.5 7h-7zM1396 1092.5l3.5 7h-7zM1404.5 1097l3.5 7h-7zM1405 1087.5l3.5 7h-7zM1402 1100l3.5 7h-7zM1384 1098.5l3.5 7h-7zM1394.5 1062l3.5 7h-7zM1387 1083l3.5 7h-7zM1382 1099l3.5 7h-7zM1388.5 1098l3.5 7h-7zM1396 1079l3.5 7h-7zM1403.5 1098.5l3.5 7h-7zM1387.5 1099l3.5 7h-7zM1392 1085.5l3.5 7h-7zM1400.5 1091.5l3.5 7h-7zM1393.5 1082.5l3.5 7h-7zM1405 1096.5l3.5 7h-7zM1390 1095.5l3.5 7h-7zM1394.5 1079.5l3.5 7h-7zM1382.5 1099.5l3.5 7h-7zM1389.5 1073l3.5 7h-7zM1386.5 1086l3.5 7h-7zM1402.5 1070.5l3.5 7h-7zM1407.5 1105.5l3.5 7h-7zM1392.5 1090.5l3.5 7h-7zM1390 1075.5l3.5 7h-7zM1390 1089l3.5 7h-7zM1393.5 1098l3.5 7h-7zM1397 1072l3.5 7h-7zM1385 1098l3.5 7h-7zM1387.5 1075l3.5 7h-7zM1386 1079l3.5 7h-7zM1388 1085.5l3.5 7h-7zM1383.5 1104.5l3.5 7h-7zM1404 1093.5l3.5 7h-7zM1383 1101l3.5 7h-7zM1384.5 1101.5l3.5 7h-7zM1401 1075.5l3.5 7h-7zM1401 1098.5l3.5 7h-7zM1404.5 1100.5l3.5 7h-7zM1406.5 1106l3.5 7h-7zM1406.5 1098.5l3.5 7h-7zM1387 1095.5l3.5 7h-7zM1397 1095l3.5 7h-7zM1397.5 1090l3.5 7h-7zM1396 1064.5l3.5 7h-7zM1381.5 1088.5l3.5 7h-7zM1390 1068.5l3.5 7h-7zM1398 1059l3.5 7h-7zM1407.5 1059l3.5 7h-7zM1410 975.5l3.5 7h-7zM1410 990.5l3.5 7h-7zM1405.5 1002l3.5 7h-7zM1407 1017l3.5 7h-7zM1406.5 1042l3.5 7h-7zM1408.5 1061l3.5 7h-7zM1398 1066.5l3.5 7h-7zM1398 1077.5l3.5 7h-7zM1408.5 1078.5l3.5 7h-7zM1382 1111l3.5 7h-7z" fill="#c000c0"/>
<path d="M1384.5 1135.5h3.2v2.4h-3.2zM1401 1125h2.5v4.2h-2.5zM1398.4 1140.6h2.4v2.3h-2.4zM1388.9 1158h4.4v3.8h-4.4zM1384.9 1127.3h2.5v3.4h-2.5z" fill="#fff"/>
<path d="M1411.4 1232L1411.4 1109.6L1414 1111L1416.5 1112.8L1419.1 1113L1421.6 1111L1424.2 1103.6L1426.7 1102.6L1429.3 1103.4L1431.9 1099.4L1434.4 1101.4L1437 1102.7L1439.5 1103.1L1442.1 1103.7L1444.7 1105.4L1447.2 1115L1449.8 1133.7L1452.3 1136.7L1454.9 1138.5L1457.4 1138L1460 1138L1460 1232ZM1456 1103.5l4 4l-4 4l-4 -4zM1440 1057l4 4l-4 4l-4 -4zM1441.5 1064l4 4l-4 4l-4 -4zM1434.5 1067.5l4 4l-4 4l-4 -4zM1452.5 1108l4 4l-4 4l-4 -4zM1453.5 1126.5l4 4l-4 4l-4 -4zM1444.5 1101.5l4 4l-4 4l-4 -4zM1416.5 1063.5l4 4l-4 4l-4 -4zM1438.5 1058l4 4l-4 4l-4 -4zM1442 1053.5l4 4l-4 4l-4 -4zM1427.5 1054l4 4l-4 4l-4 -4zM1425 1078l4 4l-4 4l-4 -4zM1452 1104.5l4 4l-4 4l-4 -4zM1440.5 1066.5l4 4l-4 4l-4 -4zM1446.5 1084.5l4 4l-4 4l-4 -4zM1431.5 1060l4 4l-4 4l-4 -4zM1425.5 1078.5l4 4l-4 4l-4 -4zM1429 1079l4 4l-4 4l-4 -4zM1447 1088.5l4 4l-4 4l-4 -4zM1437 1097l4 4l-4 4l-4 -4zM1419.5 1070.5l4 4l-4 4l-4 -4zM1428 1084l4 4l-4 4l-4 -4zM1437.5 1079l4 4l-4 4l-4 -4zM1417 1102.5l4 4l-4 4l-4 -4zM1416.5 1074l4 4l-4 4l-4 -4zM1452 1131.5l4 4l-4 4l-4 -4zM1424.5 1074l4 4l-4 4l-4 -4zM1423.5 1093l4 4l-4 4l-4 -4zM1430 1086.5l4 4l-4 4l-4 -4zM1452.5 1130.5l4 4l-4 4l-4 -4zM1418 1066.5l4 4l-4 4l-4 -4zM1429.5 1049l4 4l-4 4l-4 -4zM1415 1079l4 4l-4 4l-4 -4zM1450 1106.5l4 4l-4 4l-4 -4zM1440 1066.5l4 4l-4 4l-4 -4zM1430.5 1091.5l4 4l-4 4l-4 -4zM1445 1060l4 4l-4 4l-4 -4zM1415.5 1065.5l4 4l-4 4l-4 -4zM1433.5 1068l4 4l-4 4l-4 -4zM1429.5 1088l4 4l-4 4l-4 -4zM1442.5 1075.5l4 4l-4 4l-4 -4zM1440 1051l4 4l-4 4l-4 -4zM1429.5 1064l4 4l-4 4l-4 -4zM1444.5 1073l4 4l-4 4l-4 -4zM1435.5 1096.5l4 4l-4 4l-4 -4zM1451 1092.5l4 4l-4 4l-4 -4zM1420.5 1083l4 4l-4 4l-4 -4zM1437.5 1094.5l4 4l-4 4l-4 -4zM1421 1065l4 4l-4 4l-4 -4zM1453 1132l4 4l-4 4l-4 -4zM1417 1088l4 4l-4 4l-4 -4zM1451 1100l4 4l-4 4l-4 -4zM1440.5 1092.5l4 4l-4 4l-4 -4zM1437.5 1076l4 4l-4 4l-4 -4zM1427.5 1097l4 4l-4 4l-4 -4zM1429.5 1080.5l4 4l-4 4l-4 -4zM1420.5 1071.5l4 4l-4 4l-4 -4zM1451.5 1132l4 4l-4 4l-4 -4zM1453.5 1100.5l4 4l-4 4l-4 -4zM1444 1061.5l4 4l-4 4l-4 -4zM1418 1079.5l4 4l-4 4l-4 -4zM1415.5 1067.5l4 4l-4 4l-4 -4zM1433 1060l4 4l-4 4l-4 -4zM1445.5 1102l4 4l-4 4l-4 -4zM1424.5 1098.5l4 4l-4 4l-4 -4zM1418.5 1089l4 4l-4 4l-4 -4zM1427 1094l4 4l-4 4l-4 -4zM1433.5 1090.5l4 4l-4 4l-4 -4zM1416.5 1073l4 4l-4 4l-4 -4zM1439 1082l4 4l-4 4l-4 -4zM1443.5 1094.5l4 4l-4 4l-4 -4zM1421 1077.5l4 4l-4 4l-4 -4zM1452 1112.5l4 4l-4 4l-4 -4zM1453 1127l4 4l-4 4l-4 -4zM1426 1078.5l4 4l-4 4l-4 -4zM1427 1078l4 4l-4 4l-4 -4zM1443.5 1099.5l4 4l-4 4l-4 -4zM1425 1061.5l4 4l-4 4l-4 -4zM1453 1124l4 4l-4 4l-4 -4zM1448.5 1112l4 4l-4 4l-4 -4zM1444.5 1076l4 4l-4 4l-4 -4zM1418.5 1106.5l4 4l-4 4l-4 -4zM1438 1065.5l4 4l-4 4l-4 -4zM1434 1095.5l4 4l-4 4l-4 -4zM1438 1090l4 4l-4 4l-4 -4zM1447 1098.5l4 4l-4 4l-4 -4zM1447 1084l4 4l-4 4l-4 -4zM1445.5 1098l4 4l-4 4l-4 -4zM1416 1074.5l4 4l-4 4l-4 -4zM1441.5 1097.5l4 4l-4 4l-4 -4zM1429.5 1071l4 4l-4 4l-4 -4zM1430 1090l4 4l-4 4l-4 -4zM1422 1062.5l4 4l-4 4l-4 -4zM1417 1058.5l4 4l-4 4l-4 -4zM1430 1048.5l4 4l-4 4l-4 -4zM1442.5 1048.5l4 4l-4 4l-4 -4zM1455.5 1097.5l4 4l-4 4l-4 -4zM1442 931l4 4l-4 4l-4 -4zM1456.5 961.5l4 4l-4 4l-4 -4zM1442.5 966.5l4 4l-4 4l-4 -4zM1441 978l4 4l-4 4l-4 -4zM1456.5 980l4 4l-4 4l-4 -4zM1426 994.5l4 4l-4 4l-4 -4zM1441 999.5l4 4l-4 4l-4 -4zM1441 1007.5l4 4l-4 4l-4 -4zM1413 1026l4 4l-4 4l-4 -4zM1441 1016.5l4 4l-4 4l-4 -4zM1442.5 1026l4 4l-4 4l-4 -4zM1456.5 1026l4 4l-4 4l-4 -4zM1455.5 1035l4 4l-4 4l-4 -4zM1422.5 1037l4 4l-4 4l-4 -4zM1431 1046.5l4 4l-4 4l-4 -4z" fill="#00c0c0"/>
<path d="M1449.2 1168.4h2.1v2.3h-2.1zM1450.2 1165.6h2.4v4.1h-2.4zM1441.4 1126.6h2.6v2.3h-2.6zM1446 1120h2.9v2.4h-2.9zM1436.7 1134.5h4.2v2.1h-4.2zM1435.3 1138.5h2.9v3.1h-2.9zM1432.4 1180.5h2v2.1h-2z" fill="#fff"/>
<path d="M1460 1232L1460 1142.2L1462.6 1143.1L1465.2 1139.1L1467.8 1141L1470.4 1140.3L1473 1131.9L1475.6 1130L1478.2 1133.9L1480.8 1138.1L1483.5 1149L1486.1 1151.5L1488.7 1152.5L1491.3 1149.2L1493.9 1134.6L1496.5 1131.8L1499.1 1131L1501.7 1130.6L1504.3 1130.8L1504.3 1232ZM1493.7 1128.6h7.7v3.9h-7.7zM1487.7 1103.1h7.7v3.9h-7.7zM1484.2 1120.1h7.7v3.9h-7.7zM1484.7 1130.6h7.7v3.9h-7.7zM1494.7 1123.6h7.7v3.9h-7.7zM1471.2 1085.1h7.7v3.9h-7.7zM1481.7 1132.6h7.7v3.9h-7.7zM1488.7 1110.1h7.7v3.9h-7.7zM1481.2 1146.1h7.7v3.9h-7.7zM1494.2 1103.1h7.7v3.9h-7.7zM1486.2 1105.6h7.7v3.9h-7.7zM1471.7 1116.6h7.7v3.9h-7.7zM1490.7 1125.1h7.7v3.9h-7.7zM1492.2 1126.6h7.7v3.9h-7.7zM1485.2 1133.1h7.7v3.9h-7.7zM1484.2 1117.6h7.7v3.9h-7.7zM1474.2 1088.6h7.7v3.9h-7.7zM1473.7 1098.6h7.7v3.9h-7.7zM1477.2 1114.6h7.7v3.9h-7.7zM1469.2 1127.6h7.7v3.9h-7.7zM1477.7 1110.6h7.7v3.9h-7.7zM1461.7 1119.1h7.7v3.9h-7.7zM1473.7 1110.6h7.7v3.9h-7.7zM1468.2 1110.1h7.7v3.9h-7.7zM1467.2 1135.1h7.7v3.9h-7.7zM1487.7 1121.6h7.7v3.9h-7.7zM1468.7 1093.6h7.7v3.9h-7.7zM1465.2 1112.1h7.7v3.9h-7.7zM1493.7 1113.1h7.7v3.9h-7.7zM1479.7 1131.6h7.7v3.9h-7.7zM1468.7 1103.1h7.7v3.9h-7.7zM1491.2 1130.6h7.7v3.9h-7.7zM1489.7 1134.6h7.7v3.9h-7.7zM1472.7 1087.1h7.7v3.9h-7.7zM1464.7 1107.1h7.7v3.9h-7.7zM1490.7 1118.6h7.7v3.9h-7.7zM1473.7 1109.1h7.7v3.9h-7.7zM1463.7 1134.1h7.7v3.9h-7.7zM1496.7 1094.1h7.7v3.9h-7.7zM1470.2 1091.6h7.7v3.9h-7.7zM1494.2 1112.6h7.7v3.9h-7.7zM1475.2 1107.1h7.7v3.9h-7.7zM1487.7 1126.1h7.7v3.9h-7.7zM1489.2 1140.1h7.7v3.9h-7.7zM1476.7 1097.1h7.7v3.9h-7.7zM1468.7 1089.6h7.7v3.9h-7.7zM1496.2 1091.6h7.7v3.9h-7.7zM1489.2 1112.1h7.7v3.9h-7.7zM1485.7 1145.6h7.7v3.9h-7.7zM1482.2 1147.1h7.7v3.9h-7.7zM1495.2 1122.6h7.7v3.9h-7.7zM1496.2 1110.1h7.7v3.9h-7.7zM1496.2 1083.6h7.7v3.9h-7.7zM1479.7 1112.1h7.7v3.9h-7.7zM1471.2 1110.6h7.7v3.9h-7.7zM1463.7 1104.1h7.7v3.9h-7.7zM1459.7 1120.6h7.7v3.9h-7.7zM1473.7 1095.1h7.7v3.9h-7.7zM1481.7 1146.1h7.7v3.9h-7.7zM1463.2 1114.1h7.7v3.9h-7.7zM1470.2 1094.6h7.7v3.9h-7.7zM1461.2 1127.6h7.7v3.9h-7.7zM1460.7 1132.1h7.7v3.9h-7.7zM1469.7 1087.1h7.7v3.9h-7.7zM1488.7 1126.1h7.7v3.9h-7.7zM1460.7 1137.1h7.7v3.9h-7.7zM1492.2 1099.6h7.7v3.9h-7.7zM1470.2 1111.1h7.7v3.9h-7.7zM1487.7 1115.6h7.7v3.9h-7.7zM1493.2 1083.1h7.7v3.9h-7.7zM1484.2 1126.1h7.7v3.9h-7.7zM1481.7 1124.6h7.7v3.9h-7.7zM1485.7 1124.1h7.7v3.9h-7.7zM1480.7 1140.1h7.7v3.9h-7.7zM1460.2 1127.6h7.7v3.9h-7.7zM1485.7 1134.6h7.7v3.9h-7.7zM1487.2 1109.6h7.7v3.9h-7.7zM1479.7 1128.6h7.7v3.9h-7.7zM1491.7 1107.1h7.7v3.9h-7.7zM1484.7 1144.6h7.7v3.9h-7.7zM1481.7 1127.6h7.7v3.9h-7.7zM1464.2 1132.6h7.7v3.9h-7.7zM1470.2 1126.1h7.7v3.9h-7.7zM1477.7 1129.6h7.7v3.9h-7.7zM1463.2 1099.6h7.7v3.9h-7.7zM1473.7 1080.1h7.7v3.9h-7.7zM1484.7 1109.6h7.7v3.9h-7.7zM1494.2 1071.1h7.7v3.9h-7.7zM1466.7 1013.6h7.7v3.9h-7.7zM1466.7 1022.1h7.7v3.9h-7.7zM1488.7 1010.6h7.7v3.9h-7.7zM1466.7 1043.6h7.7v3.9h-7.7zM1494.7 1071.1h7.7v3.9h-7.7zM1494.7 1079.1h7.7v3.9h-7.7zM1468.2 1085.1h7.7v3.9h-7.7zM1468.2 1094.6h7.7v3.9h-7.7z" fill="#404040"/>
<path d="M1469.9 1213.1h3.9v2.9h-3.9zM1477.8 1193.5h3.1v2.2h-3.1zM1486 1154.5h3.6v3.8h-3.6zM1497.5 1155.3h2.3v2h-2.3zM1470.6 1140h3v3.5h-3zM1480.5 1190.2h4v4.4h-4zM1461.1 1162.8h4v4.4h-4zM1476.7 1161.2h2.5v3.5h-2.5zM1472.5 1149.7h3.1v1.8h-3.1zM1489.4 1172.7h3.4v2h-3.4zM1472.3 1162.5h2.4v2.7h-2.4zM1498.4 1147.7h2v3.3h-2zM1499.6 1176.9h3.1v4h-3.1zM1489.7 1148.5h2.7v2.3h-2.7zM1481.4 1137.7h2.9v2.8h-2.9zM1486.9 1162.8h2.3v2.8h-2.3zM1481.9 1144.2h3v1.8h-3zM1471.4 1144.5h2.6v1.9h-2.6zM1482.5 1161.7h3.3v3.5h-3.3zM1474.9 1145.6h4.2v2.5h-4.2zM1485.6 1151.7h3.7v3.2h-3.7zM1477.8 1143.9h2.1v4.3h-2.1zM1487.5 1164h4.5v2.7h-4.5zM1462 1212.7h4.3v2.9h-4.3zM1486.6 1196h3.9v4.1h-3.9zM1490.6 1191.1h4.5v4h-4.5zM1489.3 1216.9h2.1v3.9h-2.1zM1493.1 1176.5h2v3.7h-2zM1465.2 1222.1h2.8v4.2h-2.8zM1463 1156.8h2.3v3.1h-2.3zM1493.1 1184.5h4.4v2.9h-4.4zM1480 1209.1h4.4v4h-4.4zM1465 1158.4h3.4v4.2h-3.4zM1476.3 1153h3.2v3.4h-3.2zM1467.9 1141.3h3.7v3.1h-3.7zM1494.6 1153.6h3.7v4h-3.7zM1469.7 1146.9h2.6v3.6h-2.6zM1499.1 1137.6h3.8v3.5h-3.8zM1501.3 1154.7h3.6v2h-3.6zM1499.3 1155.5h3.2v4.4h-3.2zM1463.4 1158.9h3.6v4.3h-3.6zM1473.5 1136.6h4.2v3.8h-4.2zM1469.5 1213.6h2.6v4.5h-2.6zM1472 1160h2.7v2.4h-2.7zM1495.3 1137.8h3.9v2.5h-3.9zM1481.3 1149.3h2.5v3.8h-2.5zM1466.3 1179h3.1v4.2h-3.1zM1492.6 1159.3h3v4.2h-3zM1485.6 1213.5h3.1v2.3h-3.1zM1494.7 1197.1h2.8v3.4h-2.8zM1498.1 1194.1h2.3v4.2h-2.3zM1476 1145.3h3.9v2.2h-3.9zM1492.8 1211.2h4.1v2.8h-4.1zM1479.2 1178.7h4.4v2.5h-4.4zM1483.8 1165.9h2.2v3.9h-2.2zM1473.3 1146.3h2.7v3.9h-2.7zM1481.2 1166.7h4.2v2.7h-4.2zM1463.8 1141.3h4v2.3h-4zM1491.1 1157.1h3.8v3.9h-3.8zM1468.7 1185.3h2.1v2.4h-2.1zM1496.6 1180.2h3.7v2.3h-3.7zM1499.3 1201.9h2.7v4.3h-2.7zM1486.9 1150.1h3.6v3.9h-3.6zM1492.6 1152.9h3v4.5h-3zM1500 1166.9h4.5v3.7h-4.5zM1472.9 1141.7h2.3v4.5h-2.3zM1487.3 1151.2h3v2.1h-3zM1477.6 1168.1h2.2v1.9h-2.2zM1482.3 1181.5h3.1v4.2h-3.1zM1499.5 1131.5h4.1v2.5h-4.1zM1479.7 1134.5h4.5v3.3h-4.5zM1492.9 1186.9h2.2v1.9h-2.2zM1488.7 1178.7h4.1v3h-4.1zM1499.1 1160.4h3v4.3h-3zM1496 1182.5h2.1v3.2h-2.1zM1465.5 1151.4h4.2v4.2h-4.2zM1470.9 1195.3h3.4v1.8h-3.4zM1497.6 1201.4h3.3v3.5h-3.3zM1465.6 1153.3h3.3v2.6h-3.3zM1468.3 1207.9h2.4v2.9h-2.4zM1472.8 1159.7h2.6v2.4h-2.6zM1462.4 1168.9h2v2.4h-2zM1470.7 1159.2h3.9v2.1h-3.9zM1478.5 1137.4h4.3v2.8h-4.3zM1486.4 1174.7h4.5v1.8h-4.5zM1500.2 1177.8h4.1v2.5h-4.1zM1465 1188.5h3.3v4.5h-3.3zM1485.3 1154.8h2.3v2.9h-2.3zM1492.5 1161.6h3.8v2.8h-3.8zM1465.2 1159.3h3v3.9h-3zM1491.9 1174.5h3.2v2.8h-3.2zM1493.3 1166h2.9v4.4h-2.9zM1491.8 1150.4h4.3v2.7h-4.3zM1492.2 1172.8h4.1v1.9h-4.1zM1492 1176.1h2.4v3.3h-2.4zM1482.5 1161.4h4.3v3.5h-4.3zM1499.1 1175.3h3.9v4.2h-3.9zM1470.6 1147.1h2v2.3h-2zM1461.4 1183.2h3.7v3.7h-3.7zM1474.9 1202h4.2v2.7h-4.2zM1462.1 1144.9h3.6v4.3h-3.6zM1466 1141.7h3.9v3.3h-3.9zM1471 1153.3h2.2v1.9h-2.2zM1473.4 1142.1h2.3v3.3h-2.3zM1475.9 1135.7h2.9v2.7h-2.9zM1476.8 1140.5h3.2v1.8h-3.2zM1490.9 1214.2h3.6v3.8h-3.6zM1470.2 1179.6h2.7v3.4h-2.7zM1476 1165.5h2.7v1.9h-2.7z" fill="#fff"/>
<path d="M1504.3 1232L1504.3 1109.2L1506.9 1109.9L1509.5 1108.7L1512.1 1106.8L1514.7 1105.4L1517.3 1102.2L1519.9 1101.3L1522.6 1109.3L1525.2 1111.1L1527.8 1115.3L1530.4 1120.5L1533 1118.6L1535.6 1118.9L1538.2 1119.7L1538.2 1232ZM1517 1102.5l3.5 -7h-7zM1528 1097.5l3.5 -7h-7zM1517.5 1077l3.5 -7h-7zM1531.5 1090l3.5 -7h-7zM1529 1092l3.5 -7h-7zM1513.5 1092l3.5 -7h-7zM1514.5 1097l3.5 -7h-7zM1519.5 1106.5l3.5 -7h-7zM1532 1095l3.5 -7h-7zM1516.5 1089l3.5 -7h-7zM1527 1111.5l3.5 -7h-7zM1528.5 1082l3.5 -7h-7zM1532.5 1084.5l3.5 -7h-7zM1518 1082.5l3.5 -7h-7zM1528.5 1115.5l3.5 -7h-7zM1527 1101l3.5 -7h-7zM1518.5 1073.5l3.5 -7h-7zM1523.5 1105l3.5 -7h-7zM1512 1110.5l3.5 -7h-7zM1528 1094.5l3.5 -7h-7zM1529.5 1118l3.5 -7h-7zM1524 1087l3.5 -7h-7zM1533.5 1098l3.5 -7h-7zM1530.5 1118l3.5 -7h-7zM1515 1097.5l3.5 -7h-7zM1522 1105.5l3.5 -7h-7zM1521.5 1098l3.5 -7h-7zM1517 1105l3.5 -7h-7zM1528.5 1104l3.5 -7h-7zM1511 1112.5l3.5 -7h-7zM1519 1082l3.5 -7h-7zM1532 1102l3.5 -7h-7zM1512.5 1089.5l3.5 -7h-7zM1524.5 1101l3.5 -7h-7zM1522 1103.5l3.5 -7h-7zM1513 1077.5l3.5 -7h-7zM1522 1083.5l3.5 -7h-7zM1524.5 1103.5l3.5 -7h-7zM1519 1072.5l3.5 -7h-7zM1521.5 1109l3.5 -7h-7zM1510 1106.5l3.5 -7h-7zM1520.5 1107.5l3.5 -7h-7zM1527.5 1090l3.5 -7h-7zM1521 1099.5l3.5 -7h-7zM1524 1081.5l3.5 -7h-7zM1534.5 1111.5l3.5 -7h-7zM1508.5 1086.5l3.5 -7h-7zM1528.5 1113.5l3.5 -7h-7zM1532.5 1118.5l3.5 -7h-7zM1527.5 1115l3.5 -7h-7zM1532.5 1092.5l3.5 -7h-7zM1509 1085.5l3.5 -7h-7zM1516.5 1068l3.5 -7h-7zM1525 1075.5l3.5 -7h-7zM1533.5 1085.5l3.5 -7h-7zM1529.5 876l3.5 -7h-7zM1529.5 916l3.5 -7h-7zM1529.5 949.5l3.5 -7h-7zM1529.5 965l3.5 -7h-7zM1529.5 976.5l3.5 -7h-7zM1529.5 1000l3.5 -7h-7zM1529.5 1006l3.5 -7h-7zM1516 1068l3.5 -7h-7zM1530 1073.5l3.5 -7h-7zM1531 1088.5l3.5 -7h-7z" fill="#ff4040"/>
<path d="M1533 1127.3h4.1v3.7h-4.1zM1521 1146h2v2.5h-2zM1532.5 1131.6h4.4v3.4h-4.4zM1522.1 1131.8h2.9v2h-2.9zM1518.9 1107.8h3.1v3.8h-3.1z" fill="#fff"/>
<path d="M1538.2 1232L1538.2 1100L1540.7 1102.1L1543.3 1101L1545.8 1093L1548.4 1079.1L1550.9 1072.6L1553.5 1072.5L1556 1076.4L1558.6 1090.9L1561.1 1094L1563.7 1092.8L1566.2 1093L1566.2 1232ZM1549.2 1069.1h7.7v3.9h-7.7zM1545.7 1057.6h7.7v3.9h-7.7zM1553.7 1055.1h7.7v3.9h-7.7zM1555.2 1062.6h7.7v3.9h-7.7zM1555.7 1086.1h7.7v3.9h-7.7zM1549.2 1069.6h7.7v3.9h-7.7zM1546.7 1070.1h7.7v3.9h-7.7zM1541.2 1086.1h7.7v3.9h-7.7zM1552.7 1067.1h7.7v3.9h-7.7zM1553.7 1084.1h7.7v3.9h-7.7zM1553.7 1074.6h7.7v3.9h-7.7zM1540.7 1093.1h7.7v3.9h-7.7zM1550.7 1060.6h7.7v3.9h-7.7zM1556.7 1054.1h7.7v3.9h-7.7zM1538.7 1096.1h7.7v3.9h-7.7zM1558.2 1070.6h7.7v3.9h-7.7zM1543.2 1089.1h7.7v3.9h-7.7zM1549.2 1044.1h7.7v3.9h-7.7zM1538.7 1066.1h7.7v3.9h-7.7zM1542.7 1075.1h7.7v3.9h-7.7zM1542.2 1078.6h7.7v3.9h-7.7zM1544.7 1074.1h7.7v3.9h-7.7zM1558.2 1057.6h7.7v3.9h-7.7zM1549.7 1056.6h7.7v3.9h-7.7zM1542.7 1087.6h7.7v3.9h-7.7zM1544.7 1072.1h7.7v3.9h-7.7zM1542.7 1060.1h7.7v3.9h-7.7zM1546.2 1067.1h7.7v3.9h-7.7zM1550.7 1072.6h7.7v3.9h-7.7zM1548.7 1065.1h7.7v3.9h-7.7zM1543.7 1084.1h7.7v3.9h-7.7zM1545.7 1043.6h7.7v3.9h-7.7zM1555.2 1086.1h7.7v3.9h-7.7zM1549.2 1069.6h7.7v3.9h-7.7zM1541.2 1087.6h7.7v3.9h-7.7zM1548.2 1065.1h7.7v3.9h-7.7zM1539.2 1074.1h7.7v3.9h-7.7zM1546.7 1045.1h7.7v3.9h-7.7zM1540.7 1096.1h7.7v3.9h-7.7zM1538.7 1065.6h7.7v3.9h-7.7zM1546.2 1066.1h7.7v3.9h-7.7zM1558.2 1067.1h7.7v3.9h-7.7zM1541.2 1067.6h7.7v3.9h-7.7zM1539.7 1060.6h7.7v3.9h-7.7zM1547.7 1036.1h7.7v3.9h-7.7zM1557.2 1050.6h7.7v3.9h-7.7zM1553.7 883.1h7.7v3.9h-7.7zM1558.7 984.1h7.7v3.9h-7.7zM1557.2 1006.6h7.7v3.9h-7.7zM1558.2 1034.1h7.7v3.9h-7.7zM1547.7 1036.1h7.7v3.9h-7.7zM1547.7 1043.1h7.7v3.9h-7.7zM1558.2 1050.6h7.7v3.9h-7.7zM1534.2 1048.6h7.7v3.9h-7.7zM1538.7 1055.6h7.7v3.9h-7.7z" fill="#4040ff"/>
<path d="M1560.2 1146.5h3v2.2h-3zM1542.6 1165.4h2.5v2.7h-2.5zM1560.8 1176.2h3v2.2h-3zM1560.1 1110.9h4.4v3.5h-4.4zM1556.8 1121.9h2.5v3h-2.5z" fill="#fff"/>
<path d="M1566.2 1232L1566.2 1148.1L1568.7 1144.6L1571.3 1146.4L1573.8 1139.8L1576.3 1135L1578.8 1131.3L1581.4 1132.5L1583.9 1122.1L1586.4 1123.4L1589 1119.5L1591.5 1122.5L1594 1126.2L1596.5 1129.9L1599.1 1128L1601.6 1128.5L1601.6 1232ZM1582 1130l-7 -3.5v7zM1600 1125.5l-7 -3.5v7zM1598.5 1128l-7 -3.5v7zM1598 1119l-7 -3.5v7zM1593 1118l-7 -3.5v7zM1594 1119l-7 -3.5v7zM1594 1112l-7 -3.5v7zM1576 1121l-7 -3.5v7zM1581.5 1127l-7 -3.5v7zM1600 1125l-7 -3.5v7zM1600.5 1112.5l-7 -3.5v7zM1601.5 1117.5l-7 -3.5v7zM1580.5 1109.5l-7 -3.5v7zM1591 1113l-7 -3.5v7zM1578.5 1137.5l-7 -3.5v7zM1583 1119l-7 -3.5v7zM1583.5 1128l-7 -3.5v7zM1587.5 1110l-7 -3.5v7zM1589.5 1121.5l-7 -3.5v7zM1590 1114.5l-7 -3.5v7zM1576.5 1127.5l-7 -3.5v7zM1581.5 1127l-7 -3.5v7zM1577.5 1136l-7 -3.5v7zM1591 1121.5l-7 -3.5v7zM1589 1104.5l-7 -3.5v7zM1599 1113l-7 -3.5v7zM1581 1117l-7 -3.5v7zM1573.5 1132.5l-7 -3.5v7zM1586 1128l-7 -3.5v7zM1588.5 1112.5l-7 -3.5v7zM1574 1144l-7 -3.5v7zM1592.5 1121l-7 -3.5v7zM1594 1106.5l-7 -3.5v7zM1592.5 1121l-7 -3.5v7zM1594.5 1108l-7 -3.5v7zM1600.5 1129l-7 -3.5v7zM1585.5 1121l-7 -3.5v7zM1601 1130.5l-7 -3.5v7zM1577 1141.5l-7 -3.5v7zM1596 1105.5l-7 -3.5v7zM1574 1111.5l-7 -3.5v7zM1584 1101.5l-7 -3.5v7zM1591 1092l-7 -3.5v7zM1601 1111.5l-7 -3.5v7zM1592 995l-7 -3.5v7zM1592 1003.5l-7 -3.5v7zM1592 1062.5l-7 -3.5v7zM1592.5 1077l-7 -3.5v7zM1572.5 1082l-7 -3.5v7zM1592.5 1093l-7 -3.5v7zM1595.5 1105.5l-7 -3.5v7zM1572.5 1120l-7 -3.5v7z" fill="#40ff40"/>
<path d="M1569.2 1211.6h2.6v3.4h-2.6zM1590.5 1152.9h3v2.8h-3zM1579.4 1189.8h2.7v2h-2.7zM1598.4 1167.3h2.8v2.6h-2.8zM1589.3 1174.2h3.7v2h-3.7zM1580.8 1138.6h2.9v3.3h-2.9zM1592.6 1161.9h2.2v3h-2.2zM1598.3 1148.9h2v4.3h-2zM1576.8 1148.8h4v3.4h-4zM1575.4 1150.2h3.6v2.1h-3.6zM1570.4 1149.8h4.3v2.5h-4.3zM1572 1170.2h3.4v3.2h-3.4zM1580.9 1131h2.7v3.6h-2.7zM1575.3 1201.3h4.3v4.4h-4.3zM1593.5 1158.4h2.4v2.4h-2.4zM1579.5 1151.5h2.3v3.9h-2.3zM1581.4 1142.4h3.8v4.3h-3.8zM1588 1170.5h4.1v1.9h-4.1zM1586.4 1188h4v2.5h-4zM1591.1 1125.7h3.9v2.4h-3.9zM1597.7 1153.9h3.4v3.7h-3.4zM1581.8 1165.7h3.1v3.7h-3.1zM1595 1141.7h4v2.3h-4zM1598.4 1154.3h4v2.8h-4zM1574.4 1156.5h2.2v2.9h-2.2zM1589.2 1183.5h3.7v4.4h-3.7zM1594.9 1196.2h2.5v3.3h-2.5zM1573.2 1156.3h3.1v1.9h-3.1zM1588.4 1166.9h3.6v2.3h-3.6zM1579.8 1187.4h2.4v3h-2.4zM1597.4 1142.5h3.5v2.9h-3.5zM1584.1 1132.4h3.2v3.5h-3.2zM1595.4 1143.3h2.1v4.1h-2.1zM1576.7 1144.1h2.7v2.4h-2.7zM1586.9 1156.4h4.4v2.4h-4.4zM1591.3 1165.9h2v4.1h-2zM1589.7 1141.1h2.4v3.4h-2.4zM1579.6 1189.4h4.2v4.3h-4.2zM1584.5 1173.9h3.7v2.6h-3.7zM1593.9 1184.4h3.2v2.6h-3.2zM1592.2 1136.8h2v4.3h-2zM1588.2 1184.3h2.3v4.2h-2.3zM1578.6 1136.6h4.5v2.4h-4.5zM1589.1 1139.4h2.9v2h-2.9zM1577.8 1134.7h2.6v3.9h-2.6zM1585.3 1163.5h4v3.9h-4z" fill="#fff"/>
<path d="M1601.6 1232L1601.6 1122.3L1604.2 1121.3L1606.7 1120.9L1609.3 1119.6L1611.9 1120.8L1614.4 1115.8L1617 1111.8L1619.5 1110.2L1622.1 1109.8L1624.7 1112.6L1627.2 1118L1629.8 1117.8L1632.4 1121.4L1634.9 1121.8L1637.5 1121.2L1640 1128.9L1642.6 1130.3L1645.2 1131.6L1647.7 1133L1650.3 1132.7L1650.3 1232ZM1608.6 1098h3.9v7h-3.9zM1606.6 1097h3.9v7h-3.9zM1629.6 1111h3.9v7h-3.9zM1644.1 1115.5h3.9v7h-3.9zM1621.1 1108.5h3.9v7h-3.9zM1609.6 1076h3.9v7h-3.9zM1604.1 1085.5h3.9v7h-3.9zM1619.1 1097h3.9v7h-3.9zM1605.6 1115.5h3.9v7h-3.9zM1603.6 1084.5h3.9v7h-3.9zM1622.1 1099h3.9v7h-3.9zM1630.6 1116.5h3.9v7h-3.9zM1607.1 1111.5h3.9v7h-3.9zM1611.1 1108h3.9v7h-3.9zM1631.1 1081h3.9v7h-3.9zM1637.6 1105h3.9v7h-3.9zM1632.1 1104h3.9v7h-3.9zM1630.6 1112.5h3.9v7h-3.9zM1637.1 1120.5h3.9v7h-3.9zM1626.1 1084h3.9v7h-3.9zM1613.6 1077h3.9v7h-3.9zM1642.6 1126h3.9v7h-3.9zM1631.1 1096.5h3.9v7h-3.9zM1616.6 1079.5h3.9v7h-3.9zM1616.6 1107.5h3.9v7h-3.9zM1608.1 1073.5h3.9v7h-3.9zM1618.6 1108h3.9v7h-3.9zM1627.6 1095.5h3.9v7h-3.9zM1603.6 1104h3.9v7h-3.9zM1630.1 1088h3.9v7h-3.9zM1604.6 1100h3.9v7h-3.9zM1610.1 1113.5h3.9v7h-3.9zM1605.6 1116.5h3.9v7h-3.9zM1634.1 1110h3.9v7h-3.9zM1640.6 1113h3.9v7h-3.9zM1624.1 1089h3.9v7h-3.9zM1632.6 1087h3.9v7h-3.9zM1638.6 1112.5h3.9v7h-3.9zM1642.1 1125h3.9v7h-3.9zM1626.1 1095h3.9v7h-3.9zM1637.1 1094.5h3.9v7h-3.9zM1644.6 1112.5h3.9v7h-3.9zM1618.6 1084h3.9v7h-3.9zM1616.1 1101h3.9v7h-3.9zM1638.6 1118.5h3.9v7h-3.9zM1625.6 1113h3.9v7h-3.9zM1625.6 1112.5h3.9v7h-3.9zM1634.1 1091.5h3.9v7h-3.9zM1620.1 1100h3.9v7h-3.9zM1626.1 1106h3.9v7h-3.9zM1610.6 1072h3.9v7h-3.9zM1609.1 1097.5h3.9v7h-3.9zM1608.6 1104h3.9v7h-3.9zM1624.6 1108h3.9v7h-3.9zM1628.6 1116.5h3.9v7h-3.9zM1627.1 1111h3.9v7h-3.9zM1619.6 1101h3.9v7h-3.9zM1625.6 1076.5h3.9v7h-3.9zM1608.1 1110.5h3.9v7h-3.9zM1616.6 1106.5h3.9v7h-3.9zM1631.1 1117h3.9v7h-3.9zM1639.1 1111.5h3.9v7h-3.9zM1612.1 1083h3.9v7h-3.9zM1611.1 1092h3.9v7h-3.9zM1641.6 1097.5h3.9v7h-3.9zM1636.1 1094.5h3.9v7h-3.9zM1641.6 1094h3.9v7h-3.9zM1615.1 1109.5h3.9v7h-3.9zM1620.6 1095.5h3.9v7h-3.9zM1626.6 1082h3.9v7h-3.9zM1633.1 1119h3.9v7h-3.9zM1613.1 1082h3.9v7h-3.9zM1642.6 1106h3.9v7h-3.9zM1625.1 1077h3.9v7h-3.9zM1630.1 1116h3.9v7h-3.9zM1633.1 1098h3.9v7h-3.9zM1608.1 1074.5h3.9v7h-3.9zM1639.6 1119h3.9v7h-3.9zM1640.1 1091.5h3.9v7h-3.9zM1614.6 1081h3.9v7h-3.9zM1625.6 1107h3.9v7h-3.9zM1633.6 1089.5h3.9v7h-3.9zM1611.1 1095.5h3.9v7h-3.9zM1606.6 1068.5h3.9v7h-3.9zM1619.6 1068.5h3.9v7h-3.9zM1630.6 1078.5h3.9v7h-3.9zM1644.1 1088.5h3.9v7h-3.9zM1622.1 910h3.9v7h-3.9zM1622.1 932.5h3.9v7h-3.9zM1622.1 965h3.9v7h-3.9zM1622.1 1002h3.9v7h-3.9zM1622.1 1014h3.9v7h-3.9zM1622.1 1035.5h3.9v7h-3.9zM1608.6 1013h3.9v7h-3.9zM1605.1 1039.5h3.9v7h-3.9zM1634.6 1041.5h3.9v7h-3.9zM1604.1 1052h3.9v7h-3.9z" fill="#ffff40"/>
<path d="M1625.9 1188.8h3.9v4.4h-3.9zM1645.7 1147.2h4.1v1.9h-4.1zM1635.4 1177.2h2.1v2.1h-2.1zM1630.4 1132.5h2.9v3.7h-2.9zM1618.2 1142h3.5v3.2h-3.5zM1641.5 1179.4h4.1v3.8h-4.1zM1631 1145.7h4.2v3.7h-4.2z" fill="#fff"/>
<path d="M1650.3 1232L1650.3 1111L1653 1112.7L1655.6 1110.4L1658.3 1112.1L1660.9 1102.7L1663.6 1105.1L1666.2 1104.5L1668.9 1108.7L1671.5 1115.4L1674.2 1118.6L1676.8 1121.3L1679.5 1119.3L1682.1 1123L1684.8 1121L1687.4 1118.8L1690.1 1119.8L1690.1 1232ZM1672 1088l7 -3.5v7zM1683 1119l7 -3.5v7zM1666.5 1066l7 -3.5v7zM1667.5 1115.5l7 -3.5v7zM1673.5 1082l7 -3.5v7zM1654 1106.5l7 -3.5v7zM1678.5 1088.5l7 -3.5v7zM1662.5 1058.5l7 -3.5v7zM1658 1077l7 -3.5v7zM1659.5 1084l7 -3.5v7zM1659.5 1100l7 -3.5v7zM1663 1072l7 -3.5v7zM1660 1081.5l7 -3.5v7zM1654 1078l7 -3.5v7zM1671.5 1120.5l7 -3.5v7zM1677 1111.5l7 -3.5v7zM1679.5 1115l7 -3.5v7zM1668 1115.5l7 -3.5v7zM1653.5 1073.5l7 -3.5v7zM1666 1102.5l7 -3.5v7zM1662.5 1100l7 -3.5v7zM1668.5 1077.5l7 -3.5v7zM1681.5 1118l7 -3.5v7zM1652 1102l7 -3.5v7zM1650.5 1110l7 -3.5v7zM1659.5 1057.5l7 -3.5v7zM1678.5 1098.5l7 -3.5v7zM1678 1094l7 -3.5v7zM1675.5 1114l7 -3.5v7zM1668.5 1102l7 -3.5v7zM1655 1109l7 -3.5v7zM1671.5 1099.5l7 -3.5v7zM1663.5 1101l7 -3.5v7zM1664 1093l7 -3.5v7zM1679 1084.5l7 -3.5v7zM1653 1082l7 -3.5v7zM1658.5 1101.5l7 -3.5v7zM1660 1097.5l7 -3.5v7zM1664 1103l7 -3.5v7zM1664 1096l7 -3.5v7zM1681 1119.5l7 -3.5v7zM1659 1060l7 -3.5v7zM1668 1102.5l7 -3.5v7zM1661.5 1101l7 -3.5v7zM1677.5 1088l7 -3.5v7zM1658.5 1084l7 -3.5v7zM1670.5 1093l7 -3.5v7zM1673 1105l7 -3.5v7zM1659 1096.5l7 -3.5v7zM1671.5 1100.5l7 -3.5v7zM1675 1103.5l7 -3.5v7zM1677 1089.5l7 -3.5v7zM1682 1087l7 -3.5v7zM1671.5 1106l7 -3.5v7zM1660.5 1064.5l7 -3.5v7zM1657.5 1062.5l7 -3.5v7zM1662 1057.5l7 -3.5v7zM1681 1120.5l7 -3.5v7zM1665 1072.5l7 -3.5v7zM1675.5 1102l7 -3.5v7zM1662.5 1099l7 -3.5v7zM1658 1071l7 -3.5v7zM1676.5 1089l7 -3.5v7zM1657 1085.5l7 -3.5v7zM1653.5 1084l7 -3.5v7zM1680 1105l7 -3.5v7zM1666 1106.5l7 -3.5v7zM1675 1084l7 -3.5v7zM1678 1087.5l7 -3.5v7zM1650.5 1092l7 -3.5v7zM1655.5 1081.5l7 -3.5v7zM1651.5 1076l7 -3.5v7zM1661 1057.5l7 -3.5v7zM1682 1119.5l7 -3.5v7zM1677 1117l7 -3.5v7zM1651.5 1062.5l7 -3.5v7zM1660.5 1052.5l7 -3.5v7zM1671 1082l7 -3.5v7zM1680.5 1072l7 -3.5v7zM1683 966.5l7 -3.5v7zM1683 1017.5l7 -3.5v7zM1655.5 1022l7 -3.5v7zM1665.5 1029l7 -3.5v7zM1683 1045l7 -3.5v7zM1672 1051.5l7 -3.5v7zM1683 1058.5l7 -3.5v7z" fill="#ff40ff"/>
<path d="M1660.9 1126.4h2.5v4.1h-2.5zM1675.7 1209.3h3.1v2.2h-3.1zM1677.7 1128.5h3.9v2.2h-3.9zM1661.7 1142.3h4.3v3h-4.3zM1672.4 1132h3.5v1.9h-3.5zM1662.3 1143.5h2v2.9h-2z" fill="#fff"/>
<path d="M1690.1 1232L1690.1 1121.7L1692.7 1122.7L1695.3 1123.6L1697.9 1126.2L1700.4 1127.2L1703 1131.6L1705.6 1146.6L1708.2 1151L1710.8 1153.6L1713.4 1152.6L1715.9 1152.3L1718.5 1153.8L1721.1 1148.4L1723.7 1151.3L1726.3 1153.5L1728.9 1155.8L1731.5 1158.2L1734 1157.8L1736.6 1163.4L1739.2 1160L1741.8 1158.9L1741.8 1232ZM1701 1135h7v7h-7zM1694.5 1120h7v7h-7zM1713.5 1123h7v7h-7zM1732 1152.5h7v7h-7zM1733 1127.5h7v7h-7zM1731 1148h7v7h-7zM1714 1114h7v7h-7zM1724 1113h7v7h-7zM1692.5 1097.5h7v7h-7zM1711.5 1131.5h7v7h-7zM1703.5 1136h7v7h-7zM1720.5 1101.5h7v7h-7zM1729 1154.5h7v7h-7zM1732.5 1112.5h7v7h-7zM1700.5 1142h7v7h-7zM1731 1139h7v7h-7zM1692.5 1111.5h7v7h-7zM1723.5 1145.5h7v7h-7zM1695.5 1095h7v7h-7zM1712 1116h7v7h-7zM1704 1128.5h7v7h-7zM1712.5 1105.5h7v7h-7zM1732 1126h7v7h-7zM1712 1112h7v7h-7zM1733.5 1151.5h7v7h-7zM1710 1148.5h7v7h-7zM1699.5 1105.5h7v7h-7zM1707 1118.5h7v7h-7zM1694 1107.5h7v7h-7zM1705.5 1112h7v7h-7zM1705.5 1130h7v7h-7zM1712 1141h7v7h-7zM1712 1125h7v7h-7zM1701.5 1115.5h7v7h-7zM1712.5 1139.5h7v7h-7zM1719.5 1104.5h7v7h-7zM1697.5 1117h7v7h-7zM1708 1123.5h7v7h-7zM1733 1134.5h7v7h-7zM1712 1144.5h7v7h-7zM1696.5 1103h7v7h-7zM1733.5 1141h7v7h-7zM1720.5 1122.5h7v7h-7zM1704.5 1110.5h7v7h-7zM1712.5 1105.5h7v7h-7zM1705.5 1148h7v7h-7zM1702.5 1122h7v7h-7zM1705 1130h7v7h-7zM1699.5 1118.5h7v7h-7zM1697.5 1120h7v7h-7zM1694.5 1097h7v7h-7zM1730.5 1118h7v7h-7zM1696 1116h7v7h-7zM1715 1111.5h7v7h-7zM1713 1145h7v7h-7zM1713 1147.5h7v7h-7zM1717 1147h7v7h-7zM1723.5 1108h7v7h-7zM1702 1145.5h7v7h-7zM1723 1113h7v7h-7zM1718.5 1147h7v7h-7zM1696.5 1113.5h7v7h-7zM1718.5 1115h7v7h-7zM1721.5 1134.5h7v7h-7zM1708 1149.5h7v7h-7zM1731 1142h7v7h-7zM1722 1133.5h7v7h-7zM1721.5 1113h7v7h-7zM1709.5 1150.5h7v7h-7zM1690.5 1091.5h7v7h-7zM1730.5 1156h7v7h-7zM1706.5 1142h7v7h-7zM1701.5 1144h7v7h-7zM1695.5 1121.5h7v7h-7zM1702 1144.5h7v7h-7zM1694.5 1100.5h7v7h-7zM1729.5 1111h7v7h-7zM1701.5 1141.5h7v7h-7zM1724 1143.5h7v7h-7zM1721.5 1141.5h7v7h-7zM1699 1124h7v7h-7zM1694.5 1094h7v7h-7zM1690 1095.5h7v7h-7zM1698.5 1117.5h7v7h-7zM1693.5 1096h7v7h-7zM1692.5 1115.5h7v7h-7zM1695.5 1118h7v7h-7zM1729.5 1145h7v7h-7zM1695.5 1098.5h7v7h-7zM1698.5 1113.5h7v7h-7zM1695 1120.5h7v7h-7zM1691 1088.5h7v7h-7zM1707.5 1108h7v7h-7zM1718.5 1098h7v7h-7zM1729.5 1108h7v7h-7zM1695 993h7v7h-7zM1714 1008h7v7h-7zM1730.5 1029.5h7v7h-7zM1729.5 1052h7v7h-7zM1730.5 1068.5h7v7h-7zM1714.5 1077.5h7v7h-7zM1689.5 1090.5h7v7h-7zM1704.5 1089.5h7v7h-7zM1725 1087.5h7v7h-7zM1723.5 1098h7v7h-7z" fill="#40ffff"/>
<path d="M1733.2 1197.8h1.9v3.7h-1.9zM1737.3 1186.4h4.3v2.1h-4.3zM1706.1 1159.5h2.3v2.3h-2.3zM1730.1 1159h2.5v2.9h-2.5zM1701.5 1173.3h3.5v4.1h-3.5zM1734.8 1160.8h2.4v2.7h-2.4zM1700.1 1131.4h2.9v2.5h-2.9zM1696.4 1159.5h2v1.8h-2zM1717.5 1154h3.8v2.9h-3.8zM1730.4 1164.7h2.5v2.8h-2.5zM1692 1182.6h3v2.3h-3zM1721.2 1180.2h4.3v2.6h-4.3zM1715.5 1159.9h1.8v3.2h-1.8zM1713.5 1223.8h4v4.2h-4zM1695.3 1150.6h3.9v3.6h-3.9zM1714.7 1192.7h4.2v2.4h-4.2zM1700.6 1196.4h3.3v4.2h-3.3zM1704.5 1175.3h3.6v3.8h-3.6zM1694.4 1143.8h4v3.3h-4zM1699.8 1182.5h3.3v3.3h-3.3zM1711.1 1161.4h2.1v3.5h-2.1zM1737.2 1189.7h2.8v2.1h-2.8zM1708.9 1162.8h2.8v3.2h-2.8zM1738.5 1220.5h1.9v3.7h-1.9zM1734.3 1195.7h2.7v2.3h-2.7zM1708 1191.2h3.9v3.4h-3.9zM1736.7 1180.9h2v3.6h-2zM1729.9 1162.8h3.6v3.3h-3.6zM1728.7 1168.8h3.4v2.7h-3.4zM1733.5 1170.4h2.3v2.9h-2.3zM1719.5 1175.9h4.5v3.9h-4.5zM1733.1 1183.9h4.1v2.3h-4.1zM1734.8 1163.4h3.1v3.8h-3.1zM1692.5 1122.7h2.7v4.4h-2.7zM1718.6 1175.1h3.8v3h-3.8zM1716.9 1171.8h2v3.8h-2zM1712.9 1203.8h3.6v3.2h-3.6zM1699.4 1160.5h4.4v3h-4.4zM1701.3 1147.6h2.3v3h-2.3zM1733 1192.3h3.5v3.3h-3.5zM1707.3 1162.9h4.4v2.1h-4.4zM1722.9 1168.8h4.2v4.1h-4.2zM1692.6 1134h2.4v3.4h-2.4zM1706.7 1153h3.6v4.4h-3.6zM1699.2 1126.2h1.9v3.4h-1.9zM1736.4 1176h4.5v3.4h-4.5zM1696.8 1163.9h3.6v2.9h-3.6zM1708 1185h4.1v3.4h-4.1zM1703.8 1164.4h3.1v2.5h-3.1zM1702.7 1153.2h3.1v3.7h-3.1zM1706.2 1174.7h2.8v3.2h-2.8zM1707.9 1175.5h3v2.1h-3zM1711.5 1155.9h3v2.1h-3zM1700.4 1148.5h4.2v2.4h-4.2zM1709.6 1180.7h2.5v3.4h-2.5zM1715.8 1191.3h3.5v4h-3.5zM1692.9 1152.6h2.6v2.3h-2.6zM1709.7 1157.2h4.2v4.4h-4.2zM1727.1 1157h2.2v2.5h-2.2zM1713.5 1156.9h4.3v2.8h-4.3zM1736.8 1186.7h3v3.7h-3zM1706.3 1178.2h4.4v4.5h-4.4zM1707.9 1154.9h4v1.9h-4zM1725.8 1194.7h3.6v3.1h-3.6zM1723.4 1165.3h4.2v3.6h-4.2zM1707.4 1166.7h3.7v2.8h-3.7zM1691.6 1158.4h3.8v4.2h-3.8zM1700.3 1168.2h2.8v4.2h-2.8zM1699.3 1136.7h3.1v2.2h-3.1zM1699.3 1174h2.7v4.1h-2.7zM1723.7 1184h3.8v2.5h-3.8zM1713.1 1176.9h2v4.4h-2zM1718.9 1153.1h2.6v4.4h-2.6zM1707.6 1198.5h3.1v4.5h-3.1zM1697.9 1152.2h2.2v2.7h-2.2zM1728.1 1196.2h4v4h-4zM1716.3 1204.3h2.8v3.4h-2.8zM1705.9 1158h2.9v2.7h-2.9zM1703.9 1163.2h2.8v4.1h-2.8zM1735.9 1163.8h4.3v2.3h-4.3zM1727.6 1154.7h3.2v3.3h-3.2zM1728.5 1189.3h1.9v3.3h-1.9zM1711.1 1200.4h2.9v1.8h-2.9zM1695.1 1126.8h2.2v3.7h-2.2zM1714 1159.9h4.3v2h-4.3zM1711 1163.8h2.2v3.5h-2.2zM1702.2 1145.5h4.2v3h-4.2zM1697.6 1156.3h2.3v2.3h-2.3zM1738.8 1170.3h3.6v2h-3.6zM1697.7 1148.5h3.8v3.6h-3.8zM1715.8 1179.7h1.9v3.2h-1.9zM1717 1165.2h2v2.7h-2zM1734.5 1174.2h2.4v2h-2.4zM1703.4 1177.8h2.6v3.2h-2.6zM1735.3 1171.3h2.7v4.3h-2.7zM1711.2 1165.1h3.8v4.4h-3.8zM1715.5 1191.8h4.2v3.6h-4.2zM1703.5 1195.9h4v3.7h-4zM1700.3 1167.1h3.3v4.1h-3.3zM1699.6 1153h2.7v3.8h-2.7zM1714.3 1182.2h2.6v3h-2.6zM1692.9 1140.1h2v4.2h-2zM1719 1159.6h2.9v4.3h-2.9zM1713.8 1174.5h4.3v4.4h-4.3zM1732.6 1185.9h3.3v4.2h-3.3zM1721.1 1174.4h2.2v2.5h-2.2zM1733.2 1163.8h2.2v2.2h-2.2zM1728.6 1164.7h3.8v3.1h-3.8zM1708.8 1165.5h3.3v2.2h-3.3zM1733.8 1165.2h2.8v2.9h-2.8zM1738.2 1204.6h4.2v3.8h-4.2zM1716.1 1157.3h3.8v3.6h-3.8zM1718.9 1208.3h2.2v2.7h-2.2zM1720 1162.4h1.8v3.5h-1.8zM1727.3 1165h3.1v2.7h-3.1zM1736.5 1195.9h2.5v3.6h-2.5zM1730.5 1210.2h4.3v1.9h-4.3zM1726.5 1153.7h2.4v2.3h-2.4zM1727.4 1158.9h3.7v2.7h-3.7zM1692.1 1121.3h2.4v3.7h-2.4zM1702.9 1183.7h3.1v4.4h-3.1zM1719.7 1156.8h3.5v2.7h-3.5zM1706.9 1182.3h3.9v3.9h-3.9zM1722.8 1157.1h2.5v3.9h-2.5zM1712.6 1189h3.1v3.9h-3.1zM1692 1185.2h3.9v4h-3.9zM1697.3 1186.5h3v3.1h-3zM1691.5 1151.2h4v2.4h-4zM1723.3 1217.5h2.9v2.8h-2.9zM1714.9 1159.2h2v2.3h-2zM1701.3 1161.7h3.5v4.2h-3.5zM1709 1158.9h3.8v3.1h-3.8zM1725.7 1175.4h2.1v3.9h-2.1zM1697.6 1143.2h3.1v4.4h-3.1zM1694.3 1122.4h3.9v4.1h-3.9zM1732.8 1176.9h3.1v3.3h-3.1zM1705.6 1173.1h3v3.5h-3zM1710.8 1158.6h4.4v2h-4.4zM1735.8 1188.4h2.7v4.2h-2.7zM1704.7 1203.1h4.5v3.7h-4.5zM1715.6 1176.4h3.8v2.7h-3.8zM1713.8 1180.9h3.6v4.5h-3.6zM1737.4 1174.3h1.9v2.1h-1.9zM1717.4 1166.3h3.7v2h-3.7zM1707.1 1214.9h1.8v4.4h-1.8zM1718.4 1210.2h2.3v3.3h-2.3zM1713.6 1155.8h4.3v3.6h-4.3zM1697.3 1159.8h3.5v2.8h-3.5zM1714.7 1166.7h2.6v2.2h-2.6zM1696.3 1186.2h3.7v3.2h-3.7zM1723.7 1155.9h3.9v4.3h-3.9zM1713.4 1158.5h3.5v2.2h-3.5zM1727.9 1183.3h3.5v3.3h-3.5zM1696.6 1181.7h3.2v3.3h-3.2z" fill="#fff"/>
<path d="M941.3 852.5H1749" stroke="#e4e4e4" stroke-width="2" fill="none"/>
<rect x="942.3" y="854.5" width="805.7" height="380" fill="none" stroke="#a8a8a8" stroke-width="1.5"/>
<path d="M942.3 855H1748" stroke="#bdbdbd" stroke-width="2.5" fill="none"/>
<rect x="943" y="855" width="34.5" height="37" fill="none" stroke="#262626" stroke-width="2" rx="1.5"/>
<text x="960.2" y="879" class="bl">F</text>
<text x="922" y="862.8" class="tk">3.8</text>
<text x="922" y="941.5" class="tk">3</text>
<text x="922" y="1038.9" class="tk">2</text>
<text x="922" y="1137.6" class="tk">1</text>
<text x="922" y="1235" class="tk">0</text>
<text x="128.3" y="1266" class="xl">1A</text>
<text x="161.8" y="1266" class="xl">1B</text>
<text x="199.6" y="1266" class="xl">1D</text>
<text x="238.4" y="1266" class="xl">2A</text>
<text x="285" y="1266" class="xl">2B</text>
<text x="319.2" y="1266" class="xl">2D</text>
<text x="357.5" y="1266" class="xl">3A</text>
<text x="395.8" y="1266" class="xl">3B</text>
<text x="429.8" y="1266" class="xl">3D</text>
<text x="463.3" y="1266" class="xl">4A</text>
<text x="493.2" y="1266" class="xl">4B</text>
<text x="522.7" y="1266" class="xl">4D</text>
<text x="557.4" y="1266" class="xl">5A</text>
<text x="595.2" y="1266" class="xl">5B</text>
<text x="646.4" y="1266" class="xl">5D</text>
<text x="684.7" y="1266" class="xl">6A</text>
<text x="714.2" y="1266" class="xl">6B</text>
<text x="748.4" y="1266" class="xl">6D</text>
<text x="787.2" y="1266" class="xl">7A</text>
<text x="837.4" y="1266" class="xl">7B</text>
<text x="885.3" y="1266" class="xl">7D</text>
<text x="971.9" y="1266" class="xl">1A</text>
<text x="1009.4" y="1266" class="xl">1B</text>
<text x="1043.7" y="1266" class="xl">1D</text>
<text x="1082" y="1266" class="xl">2A</text>
<text x="1128.6" y="1266" class="xl">2B</text>
<text x="1162.6" y="1266" class="xl">2D</text>
<text x="1201.1" y="1266" class="xl">3A</text>
<text x="1239.2" y="1266" class="xl">3B</text>
<text x="1273.4" y="1266" class="xl">3D</text>
<text x="1307.4" y="1266" class="xl">4A</text>
<text x="1341.1" y="1266" class="xl">4B</text>
<text x="1370.6" y="1266" class="xl">4D</text>
<text x="1401" y="1266" class="xl">5A</text>
<text x="1438.6" y="1266" class="xl">5B</text>
<text x="1490.3" y="1266" class="xl">5D</text>
<text x="1529" y="1266" class="xl">6A</text>
<text x="1557.8" y="1266" class="xl">6B</text>
<text x="1587.7" y="1266" class="xl">6D</text>
<text x="1630.7" y="1266" class="xl">7A</text>
<text x="1673.1" y="1266" class="xl">7B</text>
<text x="1720" y="1266" class="xl">7D</text>
<text x="908.3" y="1289" class="ax">Chromosome</text>
<text transform="translate(52.5 645) rotate(-90)" class="ax">-log10 (<tspan font-style="italic">P</tspan>)</text>
</svg>
</body></html>
